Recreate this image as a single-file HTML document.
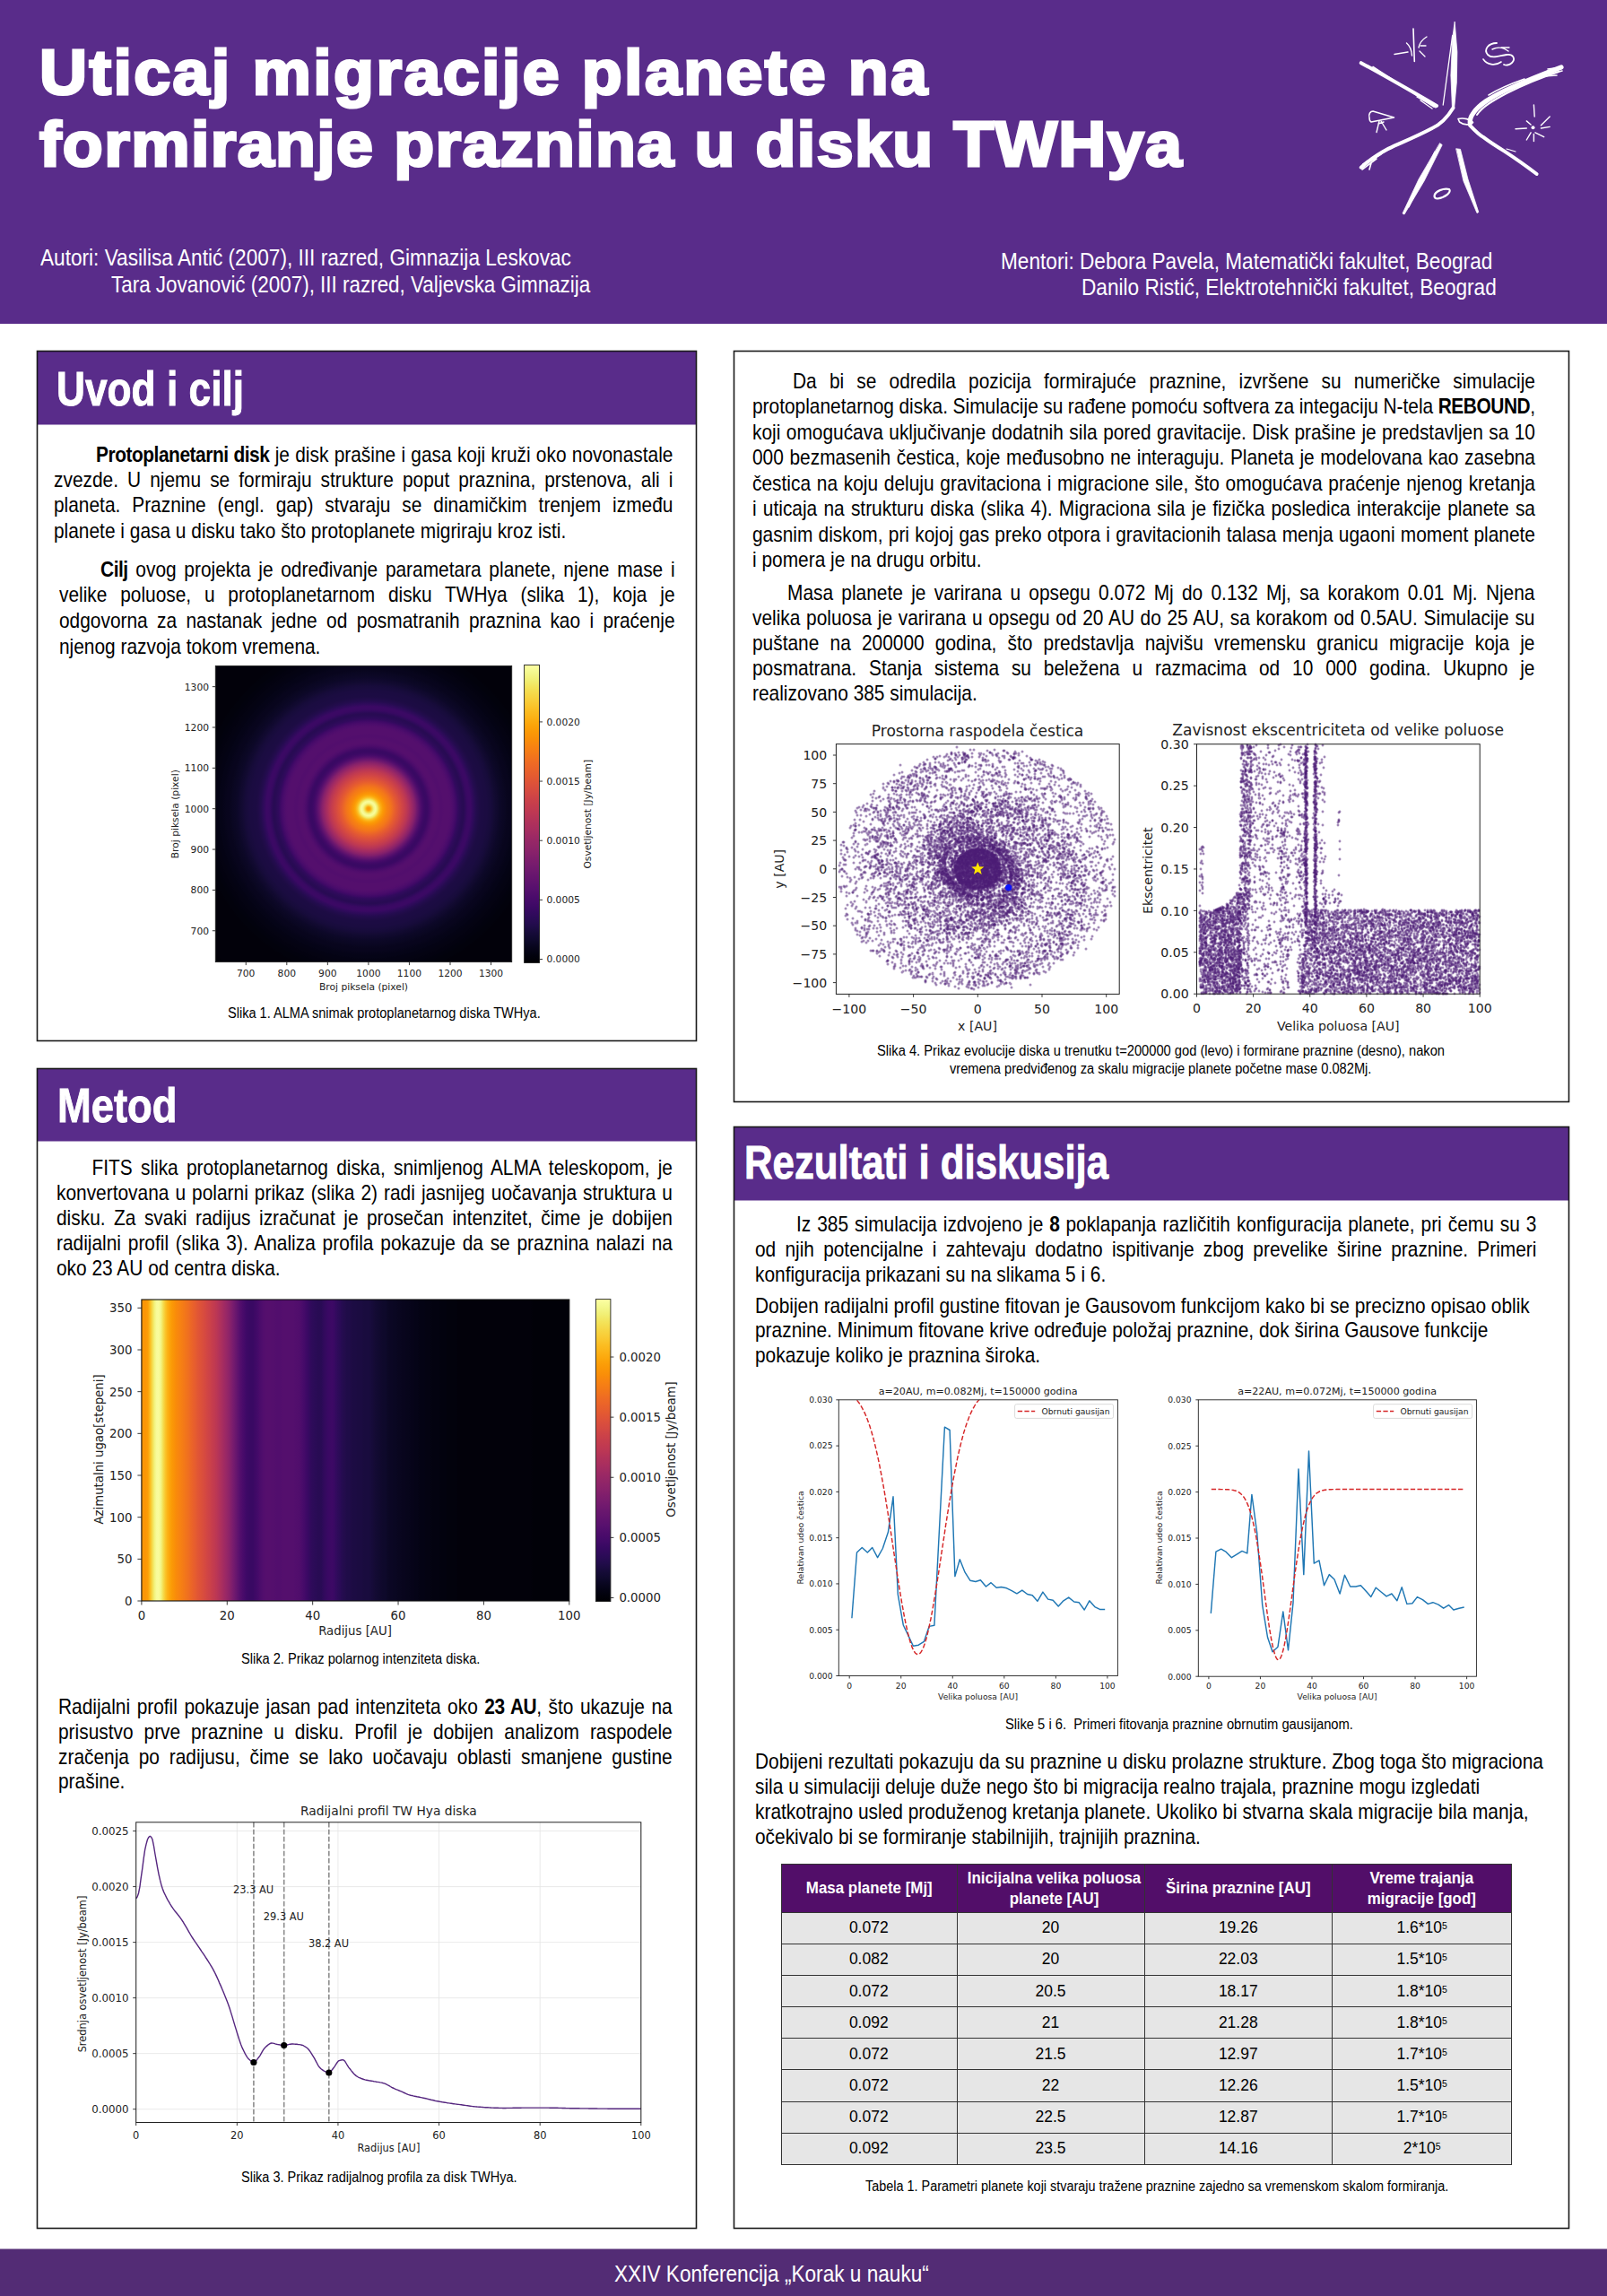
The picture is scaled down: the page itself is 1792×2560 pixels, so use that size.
<!DOCTYPE html><html lang="sr"><head><meta charset="utf-8"><title>Uticaj migracije planete na formiranje praznina u disku TWHya</title>
<style>
*{margin:0;padding:0;box-sizing:border-box}
html,body{width:1792px;height:2560px;overflow:hidden;background:#fff}
body{position:relative;font-family:'Liberation Sans', Arial, sans-serif;color:#000}
.a{position:absolute;white-space:nowrap;transform-origin:0 0}
.p{white-space:normal}
.p>div{white-space:nowrap}
.j{text-align:justify;text-align-last:justify}
.l{text-align:left}
.p b{letter-spacing:-0.5px}
svg text{font-family:'DejaVu Sans', sans-serif}
.t{position:absolute;font-family:'Liberation Sans', Arial, sans-serif;border-collapse:collapse;table-layout:fixed}
.t td{border:1.5px solid #333;text-align:center;vertical-align:middle;padding:0;background:#e6e6e6;line-height:20px}
.t th{border:1.5px solid #333;background:#520e69;color:#fff;text-align:center;vertical-align:middle;padding:0;line-height:23px}
.ts{display:inline-block;white-space:nowrap;font-size:18.8px;font-weight:bold;transform:scaleX(0.9)}
.tc{display:inline-block;white-space:nowrap;font-size:19px;transform:scaleX(0.92)}
sup{font-size:60%;vertical-align:top;position:relative;top:-2px}
</style></head><body>
<svg style="position:absolute;left:0;top:0" width="1792" height="2560" viewBox="0 0 1792 2560">
<defs><radialGradient id="rg1" gradientUnits="userSpaceOnUse" cx="410.9" cy="901.7" r="240.0"><stop offset="0.0000" stop-color="#fb9606"/><stop offset="0.0083" stop-color="#fca60c"/><stop offset="0.0167" stop-color="#f6d746"/><stop offset="0.0250" stop-color="#f3f68a"/><stop offset="0.0333" stop-color="#f9fc9d"/><stop offset="0.0417" stop-color="#f1ec6d"/><stop offset="0.0500" stop-color="#f9c72f"/><stop offset="0.0583" stop-color="#fcac11"/><stop offset="0.0667" stop-color="#fb9b06"/><stop offset="0.0750" stop-color="#fa9008"/><stop offset="0.0833" stop-color="#f8850f"/><stop offset="0.0917" stop-color="#f67e14"/><stop offset="0.1000" stop-color="#f37819"/><stop offset="0.1083" stop-color="#f06f20"/><stop offset="0.1167" stop-color="#eb6628"/><stop offset="0.1250" stop-color="#e65d2f"/><stop offset="0.1333" stop-color="#e15635"/><stop offset="0.1417" stop-color="#db503b"/><stop offset="0.1500" stop-color="#d54a41"/><stop offset="0.1583" stop-color="#cf4446"/><stop offset="0.1667" stop-color="#c83f4b"/><stop offset="0.1750" stop-color="#c03a51"/><stop offset="0.1833" stop-color="#b73557"/><stop offset="0.1917" stop-color="#ab2f5e"/><stop offset="0.2000" stop-color="#a02a63"/><stop offset="0.2083" stop-color="#922568"/><stop offset="0.2167" stop-color="#84206b"/><stop offset="0.2250" stop-color="#71196e"/><stop offset="0.2333" stop-color="#61136e"/><stop offset="0.2417" stop-color="#510e6c"/><stop offset="0.2500" stop-color="#450a69"/><stop offset="0.2583" stop-color="#3d0965"/><stop offset="0.2667" stop-color="#390963"/><stop offset="0.2750" stop-color="#3b0964"/><stop offset="0.2833" stop-color="#440a68"/><stop offset="0.2917" stop-color="#4c0c6b"/><stop offset="0.3000" stop-color="#520e6d"/><stop offset="0.3083" stop-color="#550f6d"/><stop offset="0.3167" stop-color="#550f6d"/><stop offset="0.3250" stop-color="#540f6d"/><stop offset="0.3333" stop-color="#520e6d"/><stop offset="0.3417" stop-color="#520e6d"/><stop offset="0.3500" stop-color="#540f6d"/><stop offset="0.3583" stop-color="#540f6d"/><stop offset="0.3667" stop-color="#540f6d"/><stop offset="0.3750" stop-color="#540f6d"/><stop offset="0.3833" stop-color="#520e6d"/><stop offset="0.3917" stop-color="#4d0d6c"/><stop offset="0.4000" stop-color="#470b6a"/><stop offset="0.4083" stop-color="#3e0966"/><stop offset="0.4167" stop-color="#320a5e"/><stop offset="0.4250" stop-color="#2d0b59"/><stop offset="0.4333" stop-color="#290b55"/><stop offset="0.4417" stop-color="#280b53"/><stop offset="0.4500" stop-color="#2f0a5b"/><stop offset="0.4583" stop-color="#380962"/><stop offset="0.4667" stop-color="#3b0964"/><stop offset="0.4750" stop-color="#3b0964"/><stop offset="0.4833" stop-color="#320a5e"/><stop offset="0.4917" stop-color="#2b0b57"/><stop offset="0.5000" stop-color="#240c4f"/><stop offset="0.5083" stop-color="#210c4a"/><stop offset="0.5167" stop-color="#1e0c45"/><stop offset="0.5250" stop-color="#1c0c43"/><stop offset="0.5333" stop-color="#1c0c43"/><stop offset="0.5417" stop-color="#1b0c41"/><stop offset="0.5500" stop-color="#1b0c41"/><stop offset="0.5583" stop-color="#190c3e"/><stop offset="0.5667" stop-color="#180c3c"/><stop offset="0.5750" stop-color="#160b39"/><stop offset="0.5833" stop-color="#140b34"/><stop offset="0.5917" stop-color="#110a30"/><stop offset="0.6000" stop-color="#10092d"/><stop offset="0.6083" stop-color="#0d0829"/><stop offset="0.6167" stop-color="#0c0826"/><stop offset="0.6250" stop-color="#0b0724"/><stop offset="0.6333" stop-color="#0a0722"/><stop offset="0.6417" stop-color="#09061f"/><stop offset="0.6500" stop-color="#08051d"/><stop offset="0.6583" stop-color="#08051d"/><stop offset="0.6667" stop-color="#07051b"/><stop offset="0.6750" stop-color="#060419"/><stop offset="0.6833" stop-color="#050417"/><stop offset="0.6917" stop-color="#050417"/><stop offset="0.7000" stop-color="#040314"/><stop offset="0.7083" stop-color="#040314"/><stop offset="0.7167" stop-color="#040312"/><stop offset="0.7250" stop-color="#040312"/><stop offset="0.7333" stop-color="#030210"/><stop offset="0.7417" stop-color="#030210"/><stop offset="0.7500" stop-color="#02020e"/><stop offset="0.7583" stop-color="#02020e"/><stop offset="0.7667" stop-color="#02020c"/><stop offset="0.7750" stop-color="#02020c"/><stop offset="0.7833" stop-color="#02020c"/><stop offset="0.7917" stop-color="#02010a"/><stop offset="0.8000" stop-color="#02010a"/><stop offset="0.8083" stop-color="#02010a"/><stop offset="0.8167" stop-color="#02010a"/><stop offset="0.8250" stop-color="#02010a"/><stop offset="0.8333" stop-color="#02010a"/><stop offset="0.8417" stop-color="#02010a"/><stop offset="0.8500" stop-color="#02010a"/><stop offset="0.8583" stop-color="#02010a"/><stop offset="0.8667" stop-color="#02010a"/><stop offset="0.8750" stop-color="#02010a"/><stop offset="0.8833" stop-color="#02010a"/><stop offset="0.8917" stop-color="#02010a"/><stop offset="0.9000" stop-color="#02010a"/><stop offset="0.9083" stop-color="#02010a"/><stop offset="0.9167" stop-color="#02010a"/><stop offset="0.9250" stop-color="#02010a"/><stop offset="0.9333" stop-color="#02010a"/><stop offset="0.9417" stop-color="#02010a"/><stop offset="0.9500" stop-color="#02010a"/><stop offset="0.9583" stop-color="#02010a"/><stop offset="0.9667" stop-color="#02010a"/><stop offset="0.9750" stop-color="#02010a"/><stop offset="0.9833" stop-color="#010108"/><stop offset="0.9917" stop-color="#010108"/><stop offset="1.0000" stop-color="#010108"/></radialGradient><clipPath id="cp1"><rect x="240.3" y="742.5" width="330.4" height="330.1"/></clipPath><linearGradient id="cb1" x1="0" y1="1" x2="0" y2="0"><stop offset="0.000" stop-color="#000004"/><stop offset="0.025" stop-color="#02020e"/><stop offset="0.050" stop-color="#07051b"/><stop offset="0.075" stop-color="#0e092b"/><stop offset="0.100" stop-color="#160b39"/><stop offset="0.125" stop-color="#210c4a"/><stop offset="0.150" stop-color="#2b0b57"/><stop offset="0.175" stop-color="#360961"/><stop offset="0.200" stop-color="#420a68"/><stop offset="0.225" stop-color="#4c0c6b"/><stop offset="0.250" stop-color="#57106e"/><stop offset="0.275" stop-color="#61136e"/><stop offset="0.300" stop-color="#6a176e"/><stop offset="0.325" stop-color="#751b6e"/><stop offset="0.350" stop-color="#7f1e6c"/><stop offset="0.375" stop-color="#8a226a"/><stop offset="0.400" stop-color="#932667"/><stop offset="0.425" stop-color="#9d2964"/><stop offset="0.450" stop-color="#a82e5f"/><stop offset="0.475" stop-color="#b1325a"/><stop offset="0.500" stop-color="#bc3754"/><stop offset="0.525" stop-color="#c43c4e"/><stop offset="0.550" stop-color="#cc4248"/><stop offset="0.575" stop-color="#d54a41"/><stop offset="0.600" stop-color="#dd513a"/><stop offset="0.625" stop-color="#e45a31"/><stop offset="0.650" stop-color="#ea632a"/><stop offset="0.675" stop-color="#ef6c23"/><stop offset="0.700" stop-color="#f37819"/><stop offset="0.725" stop-color="#f78212"/><stop offset="0.750" stop-color="#f98e09"/><stop offset="0.775" stop-color="#fb9906"/><stop offset="0.800" stop-color="#fca50a"/><stop offset="0.825" stop-color="#fcb216"/><stop offset="0.850" stop-color="#fbbe23"/><stop offset="0.875" stop-color="#f9cb35"/><stop offset="0.900" stop-color="#f6d746"/><stop offset="0.925" stop-color="#f3e35a"/><stop offset="0.950" stop-color="#f1ef75"/><stop offset="0.975" stop-color="#f4f88e"/><stop offset="1.000" stop-color="#fcffa4"/></linearGradient><linearGradient id="lg2" x1="0" y1="0" x2="1" y2="0"><stop offset="0.0000" stop-color="#fb9606"/><stop offset="0.0050" stop-color="#fb9606"/><stop offset="0.0100" stop-color="#fb9606"/><stop offset="0.0150" stop-color="#fc9f07"/><stop offset="0.0200" stop-color="#fbbc21"/><stop offset="0.0250" stop-color="#f5db4c"/><stop offset="0.0300" stop-color="#f2f27d"/><stop offset="0.0350" stop-color="#f8fb9a"/><stop offset="0.0400" stop-color="#f9fc9d"/><stop offset="0.0450" stop-color="#f3f586"/><stop offset="0.0500" stop-color="#f4df53"/><stop offset="0.0550" stop-color="#f9c72f"/><stop offset="0.0600" stop-color="#fcb418"/><stop offset="0.0650" stop-color="#fca60c"/><stop offset="0.0700" stop-color="#fb9b06"/><stop offset="0.0750" stop-color="#fa9407"/><stop offset="0.0800" stop-color="#f98c0a"/><stop offset="0.0850" stop-color="#f8870e"/><stop offset="0.0900" stop-color="#f78212"/><stop offset="0.0950" stop-color="#f57d15"/><stop offset="0.1000" stop-color="#f37819"/><stop offset="0.1050" stop-color="#f1731d"/><stop offset="0.1100" stop-color="#ef6e21"/><stop offset="0.1150" stop-color="#ec6726"/><stop offset="0.1200" stop-color="#e9612b"/><stop offset="0.1250" stop-color="#e65d2f"/><stop offset="0.1300" stop-color="#e25734"/><stop offset="0.1350" stop-color="#df5337"/><stop offset="0.1400" stop-color="#db503b"/><stop offset="0.1450" stop-color="#d84c3e"/><stop offset="0.1500" stop-color="#d44842"/><stop offset="0.1550" stop-color="#cf4446"/><stop offset="0.1600" stop-color="#cb4149"/><stop offset="0.1650" stop-color="#c63d4d"/><stop offset="0.1700" stop-color="#c13a50"/><stop offset="0.1750" stop-color="#bc3754"/><stop offset="0.1800" stop-color="#b43359"/><stop offset="0.1850" stop-color="#ad305d"/><stop offset="0.1900" stop-color="#a52c60"/><stop offset="0.1950" stop-color="#9d2964"/><stop offset="0.2000" stop-color="#952667"/><stop offset="0.2050" stop-color="#8c2369"/><stop offset="0.2100" stop-color="#801f6c"/><stop offset="0.2150" stop-color="#751b6e"/><stop offset="0.2200" stop-color="#6a176e"/><stop offset="0.2250" stop-color="#5f136e"/><stop offset="0.2300" stop-color="#540f6d"/><stop offset="0.2350" stop-color="#4c0c6b"/><stop offset="0.2400" stop-color="#450a69"/><stop offset="0.2450" stop-color="#3e0966"/><stop offset="0.2500" stop-color="#3b0964"/><stop offset="0.2550" stop-color="#390963"/><stop offset="0.2600" stop-color="#390963"/><stop offset="0.2650" stop-color="#3e0966"/><stop offset="0.2700" stop-color="#420a68"/><stop offset="0.2750" stop-color="#490b6a"/><stop offset="0.2800" stop-color="#4d0d6c"/><stop offset="0.2850" stop-color="#520e6d"/><stop offset="0.2900" stop-color="#540f6d"/><stop offset="0.2950" stop-color="#550f6d"/><stop offset="0.3000" stop-color="#550f6d"/><stop offset="0.3050" stop-color="#540f6d"/><stop offset="0.3100" stop-color="#540f6d"/><stop offset="0.3150" stop-color="#520e6d"/><stop offset="0.3200" stop-color="#520e6d"/><stop offset="0.3250" stop-color="#520e6d"/><stop offset="0.3300" stop-color="#540f6d"/><stop offset="0.3350" stop-color="#540f6d"/><stop offset="0.3400" stop-color="#540f6d"/><stop offset="0.3450" stop-color="#540f6d"/><stop offset="0.3500" stop-color="#540f6d"/><stop offset="0.3550" stop-color="#540f6d"/><stop offset="0.3600" stop-color="#520e6d"/><stop offset="0.3650" stop-color="#510e6c"/><stop offset="0.3700" stop-color="#4f0d6c"/><stop offset="0.3750" stop-color="#4a0c6b"/><stop offset="0.3800" stop-color="#450a69"/><stop offset="0.3850" stop-color="#3e0966"/><stop offset="0.3900" stop-color="#380962"/><stop offset="0.3950" stop-color="#310a5c"/><stop offset="0.4000" stop-color="#2d0b59"/><stop offset="0.4050" stop-color="#2b0b57"/><stop offset="0.4100" stop-color="#290b55"/><stop offset="0.4150" stop-color="#280b53"/><stop offset="0.4200" stop-color="#290b55"/><stop offset="0.4250" stop-color="#2f0a5b"/><stop offset="0.4300" stop-color="#340a5f"/><stop offset="0.4350" stop-color="#390963"/><stop offset="0.4400" stop-color="#3b0964"/><stop offset="0.4450" stop-color="#3d0965"/><stop offset="0.4500" stop-color="#390963"/><stop offset="0.4550" stop-color="#320a5e"/><stop offset="0.4600" stop-color="#2d0b59"/><stop offset="0.4650" stop-color="#290b55"/><stop offset="0.4700" stop-color="#240c4f"/><stop offset="0.4750" stop-color="#230c4c"/><stop offset="0.4800" stop-color="#1f0c48"/><stop offset="0.4850" stop-color="#1f0c48"/><stop offset="0.4900" stop-color="#1e0c45"/><stop offset="0.4950" stop-color="#1c0c43"/><stop offset="0.5000" stop-color="#1c0c43"/><stop offset="0.5050" stop-color="#1b0c41"/><stop offset="0.5100" stop-color="#1b0c41"/><stop offset="0.5150" stop-color="#1b0c41"/><stop offset="0.5200" stop-color="#190c3e"/><stop offset="0.5250" stop-color="#190c3e"/><stop offset="0.5300" stop-color="#190c3e"/><stop offset="0.5350" stop-color="#180c3c"/><stop offset="0.5400" stop-color="#160b39"/><stop offset="0.5450" stop-color="#140b34"/><stop offset="0.5500" stop-color="#120a32"/><stop offset="0.5550" stop-color="#110a30"/><stop offset="0.5600" stop-color="#10092d"/><stop offset="0.5650" stop-color="#0e092b"/><stop offset="0.5700" stop-color="#0e092b"/><stop offset="0.5750" stop-color="#0c0826"/><stop offset="0.5800" stop-color="#0b0724"/><stop offset="0.5850" stop-color="#0b0724"/><stop offset="0.5900" stop-color="#0a0722"/><stop offset="0.5950" stop-color="#0a0722"/><stop offset="0.6000" stop-color="#09061f"/><stop offset="0.6050" stop-color="#09061f"/><stop offset="0.6100" stop-color="#08051d"/><stop offset="0.6150" stop-color="#08051d"/><stop offset="0.6200" stop-color="#07051b"/><stop offset="0.6250" stop-color="#07051b"/><stop offset="0.6300" stop-color="#060419"/><stop offset="0.6350" stop-color="#060419"/><stop offset="0.6400" stop-color="#050417"/><stop offset="0.6450" stop-color="#050417"/><stop offset="0.6500" stop-color="#040314"/><stop offset="0.6550" stop-color="#040314"/><stop offset="0.6600" stop-color="#040314"/><stop offset="0.6650" stop-color="#040312"/><stop offset="0.6700" stop-color="#040312"/><stop offset="0.6750" stop-color="#040312"/><stop offset="0.6800" stop-color="#030210"/><stop offset="0.6850" stop-color="#030210"/><stop offset="0.6900" stop-color="#030210"/><stop offset="0.6950" stop-color="#030210"/><stop offset="0.7000" stop-color="#02020e"/><stop offset="0.7050" stop-color="#02020e"/><stop offset="0.7100" stop-color="#02020e"/><stop offset="0.7150" stop-color="#02020c"/><stop offset="0.7200" stop-color="#02020c"/><stop offset="0.7250" stop-color="#02020c"/><stop offset="0.7300" stop-color="#02020c"/><stop offset="0.7350" stop-color="#02020c"/><stop offset="0.7400" stop-color="#02010a"/><stop offset="0.7450" stop-color="#02010a"/><stop offset="0.7500" stop-color="#02010a"/><stop offset="0.7550" stop-color="#02010a"/><stop offset="0.7600" stop-color="#02010a"/><stop offset="0.7650" stop-color="#02010a"/><stop offset="0.7700" stop-color="#02010a"/><stop offset="0.7750" stop-color="#02010a"/><stop offset="0.7800" stop-color="#02010a"/><stop offset="0.7850" stop-color="#02010a"/><stop offset="0.7900" stop-color="#02010a"/><stop offset="0.7950" stop-color="#02010a"/><stop offset="0.8000" stop-color="#02010a"/><stop offset="0.8050" stop-color="#02010a"/><stop offset="0.8100" stop-color="#02010a"/><stop offset="0.8150" stop-color="#02010a"/><stop offset="0.8200" stop-color="#02010a"/><stop offset="0.8250" stop-color="#02010a"/><stop offset="0.8300" stop-color="#02010a"/><stop offset="0.8350" stop-color="#02010a"/><stop offset="0.8400" stop-color="#02010a"/><stop offset="0.8450" stop-color="#02010a"/><stop offset="0.8500" stop-color="#02010a"/><stop offset="0.8550" stop-color="#02010a"/><stop offset="0.8600" stop-color="#02010a"/><stop offset="0.8650" stop-color="#02010a"/><stop offset="0.8700" stop-color="#02010a"/><stop offset="0.8750" stop-color="#02010a"/><stop offset="0.8800" stop-color="#02010a"/><stop offset="0.8850" stop-color="#02010a"/><stop offset="0.8900" stop-color="#02010a"/><stop offset="0.8950" stop-color="#02010a"/><stop offset="0.9000" stop-color="#02010a"/><stop offset="0.9050" stop-color="#02010a"/><stop offset="0.9100" stop-color="#02010a"/><stop offset="0.9150" stop-color="#010108"/><stop offset="0.9200" stop-color="#010108"/><stop offset="0.9250" stop-color="#010108"/><stop offset="0.9300" stop-color="#010108"/><stop offset="0.9350" stop-color="#010108"/><stop offset="0.9400" stop-color="#010108"/><stop offset="0.9450" stop-color="#010108"/><stop offset="0.9500" stop-color="#010108"/><stop offset="0.9550" stop-color="#010108"/><stop offset="0.9600" stop-color="#010108"/><stop offset="0.9650" stop-color="#010108"/><stop offset="0.9700" stop-color="#010108"/><stop offset="0.9750" stop-color="#010108"/><stop offset="0.9800" stop-color="#010108"/><stop offset="0.9850" stop-color="#010108"/><stop offset="0.9900" stop-color="#010108"/><stop offset="0.9950" stop-color="#010108"/><stop offset="1.0000" stop-color="#010108"/></linearGradient><linearGradient id="cb2" x1="0" y1="1" x2="0" y2="0"><stop offset="0.000" stop-color="#000004"/><stop offset="0.025" stop-color="#02020e"/><stop offset="0.050" stop-color="#07051b"/><stop offset="0.075" stop-color="#0e092b"/><stop offset="0.100" stop-color="#160b39"/><stop offset="0.125" stop-color="#210c4a"/><stop offset="0.150" stop-color="#2b0b57"/><stop offset="0.175" stop-color="#360961"/><stop offset="0.200" stop-color="#420a68"/><stop offset="0.225" stop-color="#4c0c6b"/><stop offset="0.250" stop-color="#57106e"/><stop offset="0.275" stop-color="#61136e"/><stop offset="0.300" stop-color="#6a176e"/><stop offset="0.325" stop-color="#751b6e"/><stop offset="0.350" stop-color="#7f1e6c"/><stop offset="0.375" stop-color="#8a226a"/><stop offset="0.400" stop-color="#932667"/><stop offset="0.425" stop-color="#9d2964"/><stop offset="0.450" stop-color="#a82e5f"/><stop offset="0.475" stop-color="#b1325a"/><stop offset="0.500" stop-color="#bc3754"/><stop offset="0.525" stop-color="#c43c4e"/><stop offset="0.550" stop-color="#cc4248"/><stop offset="0.575" stop-color="#d54a41"/><stop offset="0.600" stop-color="#dd513a"/><stop offset="0.625" stop-color="#e45a31"/><stop offset="0.650" stop-color="#ea632a"/><stop offset="0.675" stop-color="#ef6c23"/><stop offset="0.700" stop-color="#f37819"/><stop offset="0.725" stop-color="#f78212"/><stop offset="0.750" stop-color="#f98e09"/><stop offset="0.775" stop-color="#fb9906"/><stop offset="0.800" stop-color="#fca50a"/><stop offset="0.825" stop-color="#fcb216"/><stop offset="0.850" stop-color="#fbbe23"/><stop offset="0.875" stop-color="#f9cb35"/><stop offset="0.900" stop-color="#f6d746"/><stop offset="0.925" stop-color="#f3e35a"/><stop offset="0.950" stop-color="#f1ef75"/><stop offset="0.975" stop-color="#f4f88e"/><stop offset="1.000" stop-color="#fcffa4"/></linearGradient><clipPath id="cpg935"><rect x="935.3" y="1560.8" width="311.1" height="307.7"/></clipPath><clipPath id="cpg1336"><rect x="1336.3" y="1560.8" width="310.1" height="308.4"/></clipPath></defs>
<rect x="0" y="0" width="1792" height="361" fill="#592c8a"/><rect x="0" y="2507.5" width="1792" height="53" fill="#532c75"/><rect x="41" y="391" width="736" height="82.5" fill="#592c8a"/><rect x="41.5" y="391.5" width="735" height="769" fill="none" stroke="#1a1a1a" stroke-width="1.6"/><rect x="41" y="1191" width="736" height="81.5" fill="#592c8a"/><rect x="41.5" y="1191.5" width="735" height="1293" fill="none" stroke="#1a1a1a" stroke-width="1.6"/><rect x="818.5" y="391.5" width="931" height="837" fill="none" stroke="#1a1a1a" stroke-width="1.6"/><rect x="818" y="1256" width="932" height="82.5" fill="#592c8a"/><rect x="818.5" y="1256.5" width="931" height="1228" fill="none" stroke="#1a1a1a" stroke-width="1.6"/><rect x="240.3" y="742.5" width="330.4" height="330.1" fill="url(#rg1)"/><rect x="240.30" y="742.50" width="330.40" height="330.10" fill="none" stroke="#222" stroke-width="0.9"/><line x1="274.25" y1="1072.60" x2="274.25" y2="1076.10" stroke="#222" stroke-width="0.9"/><text x="274.2" y="1089.2" font-size="10.7" text-anchor="middle" fill="#222">700</text><line x1="319.80" y1="1072.60" x2="319.80" y2="1076.10" stroke="#222" stroke-width="0.9"/><text x="319.8" y="1089.2" font-size="10.7" text-anchor="middle" fill="#222">800</text><line x1="365.35" y1="1072.60" x2="365.35" y2="1076.10" stroke="#222" stroke-width="0.9"/><text x="365.3" y="1089.2" font-size="10.7" text-anchor="middle" fill="#222">900</text><line x1="410.90" y1="1072.60" x2="410.90" y2="1076.10" stroke="#222" stroke-width="0.9"/><text x="410.9" y="1089.2" font-size="10.7" text-anchor="middle" fill="#222">1000</text><line x1="456.45" y1="1072.60" x2="456.45" y2="1076.10" stroke="#222" stroke-width="0.9"/><text x="456.4" y="1089.2" font-size="10.7" text-anchor="middle" fill="#222">1100</text><line x1="502.00" y1="1072.60" x2="502.00" y2="1076.10" stroke="#222" stroke-width="0.9"/><text x="502.0" y="1089.2" font-size="10.7" text-anchor="middle" fill="#222">1200</text><line x1="547.55" y1="1072.60" x2="547.55" y2="1076.10" stroke="#222" stroke-width="0.9"/><text x="547.5" y="1089.2" font-size="10.7" text-anchor="middle" fill="#222">1300</text><line x1="236.80" y1="1037.75" x2="240.30" y2="1037.75" stroke="#222" stroke-width="0.9"/><text x="233.0" y="1041.7" font-size="10.7" text-anchor="end" fill="#222">700</text><line x1="236.80" y1="992.40" x2="240.30" y2="992.40" stroke="#222" stroke-width="0.9"/><text x="233.0" y="996.3" font-size="10.7" text-anchor="end" fill="#222">800</text><line x1="236.80" y1="947.05" x2="240.30" y2="947.05" stroke="#222" stroke-width="0.9"/><text x="233.0" y="951.0" font-size="10.7" text-anchor="end" fill="#222">900</text><line x1="236.80" y1="901.70" x2="240.30" y2="901.70" stroke="#222" stroke-width="0.9"/><text x="233.0" y="905.6" font-size="10.7" text-anchor="end" fill="#222">1000</text><line x1="236.80" y1="856.35" x2="240.30" y2="856.35" stroke="#222" stroke-width="0.9"/><text x="233.0" y="860.3" font-size="10.7" text-anchor="end" fill="#222">1100</text><line x1="236.80" y1="811.00" x2="240.30" y2="811.00" stroke="#222" stroke-width="0.9"/><text x="233.0" y="814.9" font-size="10.7" text-anchor="end" fill="#222">1200</text><line x1="236.80" y1="765.65" x2="240.30" y2="765.65" stroke="#222" stroke-width="0.9"/><text x="233.0" y="769.6" font-size="10.7" text-anchor="end" fill="#222">1300</text><text x="405.5" y="1103.9" font-size="10.7" text-anchor="middle" fill="#222">Broj piksela (pixel)</text><text x="199.0" y="907.7" font-size="10.7" text-anchor="middle" fill="#222" transform="rotate(-90 199.0 907.7)">Broj piksela (pixel)</text><rect x="584.6" y="741.4" width="16.90" height="332.10" fill="url(#cb1)"/><rect x="584.60" y="741.40" width="16.90" height="332.10" fill="none" stroke="#222" stroke-width="0.9"/><line x1="601.50" y1="1069.53" x2="605.00" y2="1069.53" stroke="#222" stroke-width="0.9"/><text x="609.4" y="1073.4" font-size="10.7" text-anchor="start" fill="#222">0.0000</text><line x1="601.50" y1="1003.38" x2="605.00" y2="1003.38" stroke="#222" stroke-width="0.9"/><text x="609.4" y="1007.3" font-size="10.7" text-anchor="start" fill="#222">0.0005</text><line x1="601.50" y1="937.22" x2="605.00" y2="937.22" stroke="#222" stroke-width="0.9"/><text x="609.4" y="941.1" font-size="10.7" text-anchor="start" fill="#222">0.0010</text><line x1="601.50" y1="871.06" x2="605.00" y2="871.06" stroke="#222" stroke-width="0.9"/><text x="609.4" y="875.0" font-size="10.7" text-anchor="start" fill="#222">0.0015</text><line x1="601.50" y1="804.91" x2="605.00" y2="804.91" stroke="#222" stroke-width="0.9"/><text x="609.4" y="808.8" font-size="10.7" text-anchor="start" fill="#222">0.0020</text><text x="659.2" y="907.7" font-size="10.7" text-anchor="middle" fill="#222" transform="rotate(-90 659.2 907.7)">Osvetljenost [Jy/beam]</text><rect x="157.9" y="1449.0" width="476.9" height="336.0" fill="url(#lg2)"/><rect x="157.90" y="1449.00" width="476.90" height="336.00" fill="none" stroke="#111" stroke-width="1.1"/><line x1="157.90" y1="1785.00" x2="157.90" y2="1789.50" stroke="#222" stroke-width="0.9"/><text x="157.9" y="1805.6" font-size="13.3" text-anchor="middle" fill="#222">0</text><line x1="253.28" y1="1785.00" x2="253.28" y2="1789.50" stroke="#222" stroke-width="0.9"/><text x="253.3" y="1805.6" font-size="13.3" text-anchor="middle" fill="#222">20</text><line x1="348.66" y1="1785.00" x2="348.66" y2="1789.50" stroke="#222" stroke-width="0.9"/><text x="348.7" y="1805.6" font-size="13.3" text-anchor="middle" fill="#222">40</text><line x1="444.04" y1="1785.00" x2="444.04" y2="1789.50" stroke="#222" stroke-width="0.9"/><text x="444.0" y="1805.6" font-size="13.3" text-anchor="middle" fill="#222">60</text><line x1="539.42" y1="1785.00" x2="539.42" y2="1789.50" stroke="#222" stroke-width="0.9"/><text x="539.4" y="1805.6" font-size="13.3" text-anchor="middle" fill="#222">80</text><line x1="634.80" y1="1785.00" x2="634.80" y2="1789.50" stroke="#222" stroke-width="0.9"/><text x="634.8" y="1805.6" font-size="13.3" text-anchor="middle" fill="#222">100</text><line x1="153.40" y1="1785.00" x2="157.90" y2="1785.00" stroke="#222" stroke-width="0.9"/><text x="147.5" y="1789.8" font-size="13.3" text-anchor="end" fill="#222">0</text><line x1="153.40" y1="1738.34" x2="157.90" y2="1738.34" stroke="#222" stroke-width="0.9"/><text x="147.5" y="1743.2" font-size="13.3" text-anchor="end" fill="#222">50</text><line x1="153.40" y1="1691.67" x2="157.90" y2="1691.67" stroke="#222" stroke-width="0.9"/><text x="147.5" y="1696.5" font-size="13.3" text-anchor="end" fill="#222">100</text><line x1="153.40" y1="1645.01" x2="157.90" y2="1645.01" stroke="#222" stroke-width="0.9"/><text x="147.5" y="1649.9" font-size="13.3" text-anchor="end" fill="#222">150</text><line x1="153.40" y1="1598.34" x2="157.90" y2="1598.34" stroke="#222" stroke-width="0.9"/><text x="147.5" y="1603.2" font-size="13.3" text-anchor="end" fill="#222">200</text><line x1="153.40" y1="1551.67" x2="157.90" y2="1551.67" stroke="#222" stroke-width="0.9"/><text x="147.5" y="1556.5" font-size="13.3" text-anchor="end" fill="#222">250</text><line x1="153.40" y1="1505.01" x2="157.90" y2="1505.01" stroke="#222" stroke-width="0.9"/><text x="147.5" y="1509.9" font-size="13.3" text-anchor="end" fill="#222">300</text><line x1="153.40" y1="1458.35" x2="157.90" y2="1458.35" stroke="#222" stroke-width="0.9"/><text x="147.5" y="1463.2" font-size="13.3" text-anchor="end" fill="#222">350</text><text x="396.0" y="1822.7" font-size="13.3" text-anchor="middle" fill="#222">Radijus [AU]</text><text x="114.8" y="1616.0" font-size="13.3" text-anchor="middle" fill="#222" transform="rotate(-90 114.8 1616.0)">Azimutalni ugao[stepeni]</text><rect x="664.4" y="1448.6" width="16.50" height="336.90" fill="url(#cb2)"/><rect x="664.40" y="1448.60" width="16.50" height="336.90" fill="none" stroke="#222" stroke-width="0.9"/><line x1="680.90" y1="1781.47" x2="684.40" y2="1781.47" stroke="#222" stroke-width="0.9"/><text x="690.4" y="1786.3" font-size="13.3" text-anchor="start" fill="#222">0.0000</text><line x1="680.90" y1="1714.36" x2="684.40" y2="1714.36" stroke="#222" stroke-width="0.9"/><text x="690.4" y="1719.2" font-size="13.3" text-anchor="start" fill="#222">0.0005</text><line x1="680.90" y1="1647.25" x2="684.40" y2="1647.25" stroke="#222" stroke-width="0.9"/><text x="690.4" y="1652.1" font-size="13.3" text-anchor="start" fill="#222">0.0010</text><line x1="680.90" y1="1580.14" x2="684.40" y2="1580.14" stroke="#222" stroke-width="0.9"/><text x="690.4" y="1585.0" font-size="13.3" text-anchor="start" fill="#222">0.0015</text><line x1="680.90" y1="1513.03" x2="684.40" y2="1513.03" stroke="#222" stroke-width="0.9"/><text x="690.4" y="1517.9" font-size="13.3" text-anchor="start" fill="#222">0.0020</text><text x="753.0" y="1616.0" font-size="13.3" text-anchor="middle" fill="#222" transform="rotate(-90 753.0 1616.0)">Osvetljenost [Jy/beam]</text><line x1="151.70" y1="2031.80" x2="151.70" y2="2366.50" stroke="#e4e4e4" stroke-width="0.8"/><line x1="264.32" y1="2031.80" x2="264.32" y2="2366.50" stroke="#e4e4e4" stroke-width="0.8"/><line x1="376.94" y1="2031.80" x2="376.94" y2="2366.50" stroke="#e4e4e4" stroke-width="0.8"/><line x1="489.56" y1="2031.80" x2="489.56" y2="2366.50" stroke="#e4e4e4" stroke-width="0.8"/><line x1="602.18" y1="2031.80" x2="602.18" y2="2366.50" stroke="#e4e4e4" stroke-width="0.8"/><line x1="714.80" y1="2031.80" x2="714.80" y2="2366.50" stroke="#e4e4e4" stroke-width="0.8"/><line x1="151.70" y1="2351.70" x2="714.80" y2="2351.70" stroke="#e4e4e4" stroke-width="0.8"/><line x1="151.70" y1="2289.67" x2="714.80" y2="2289.67" stroke="#e4e4e4" stroke-width="0.8"/><line x1="151.70" y1="2227.64" x2="714.80" y2="2227.64" stroke="#e4e4e4" stroke-width="0.8"/><line x1="151.70" y1="2165.61" x2="714.80" y2="2165.61" stroke="#e4e4e4" stroke-width="0.8"/><line x1="151.70" y1="2103.58" x2="714.80" y2="2103.58" stroke="#e4e4e4" stroke-width="0.8"/><line x1="151.70" y1="2041.55" x2="714.80" y2="2041.55" stroke="#e4e4e4" stroke-width="0.8"/><line x1="282.90" y1="2031.80" x2="282.90" y2="2366.50" stroke="#8c8c8c" stroke-width="1.6" stroke-dasharray="5.6 2.4"/><line x1="316.69" y1="2031.80" x2="316.69" y2="2366.50" stroke="#8c8c8c" stroke-width="1.6" stroke-dasharray="5.6 2.4"/><line x1="366.80" y1="2031.80" x2="366.80" y2="2366.50" stroke="#8c8c8c" stroke-width="1.6" stroke-dasharray="5.6 2.4"/><polyline points="151.7,2116.7 153.1,2114.9 154.5,2111.0 155.9,2103.8 157.3,2093.3 158.8,2083.1 160.2,2072.1 161.6,2062.6 163.0,2056.3 164.4,2051.2 165.8,2048.5 167.2,2047.4 168.6,2048.2 170.0,2051.0 171.5,2058.3 172.9,2067.0 174.3,2074.8 175.7,2082.9 177.1,2090.0 178.5,2096.2 179.9,2101.6 181.3,2105.9 182.7,2109.6 184.2,2112.7 185.6,2115.6 187.0,2118.3 188.4,2120.7 189.8,2123.1 191.2,2125.3 192.6,2127.4 194.0,2129.4 195.4,2131.2 196.9,2133.0 198.3,2134.8 199.7,2136.5 201.1,2138.4 202.5,2140.4 203.9,2142.5 205.3,2144.8 206.7,2147.2 208.2,2149.6 209.6,2152.1 211.0,2154.6 212.4,2157.0 213.8,2159.3 215.2,2161.5 216.6,2163.6 218.0,2165.7 219.4,2167.7 220.9,2169.8 222.3,2171.9 223.7,2174.0 225.1,2176.1 226.5,2178.1 227.9,2180.2 229.3,2182.3 230.7,2184.5 232.1,2186.7 233.6,2189.0 235.0,2191.3 236.4,2193.7 237.8,2196.2 239.2,2198.8 240.6,2201.6 242.0,2204.6 243.4,2207.8 244.8,2211.1 246.3,2214.4 247.7,2217.8 249.1,2221.1 250.5,2224.4 251.9,2227.9 253.3,2231.4 254.7,2235.2 256.1,2239.3 257.5,2243.9 259.0,2248.6 260.4,2253.4 261.8,2258.1 263.2,2262.6 264.6,2267.2 266.0,2271.7 267.4,2276.1 268.8,2280.0 270.2,2283.4 271.7,2286.5 273.1,2289.4 274.5,2292.0 275.9,2294.1 277.3,2295.8 278.7,2297.1 280.1,2298.3 281.5,2299.2 282.9,2299.5 284.4,2298.9 285.8,2297.5 287.2,2295.6 288.6,2293.8 290.0,2291.8 291.4,2289.4 292.8,2286.9 294.2,2284.7 295.7,2282.9 297.1,2281.6 298.5,2280.4 299.9,2279.3 301.3,2278.5 302.7,2278.0 304.1,2278.1 305.5,2278.4 306.9,2278.9 308.4,2279.3 309.8,2279.6 311.2,2279.8 312.6,2280.1 314.0,2280.3 315.4,2280.4 316.8,2280.5 318.2,2280.4 319.6,2280.1 321.1,2279.8 322.5,2279.4 323.9,2279.2 325.3,2279.0 326.7,2279.0 328.1,2279.1 329.5,2279.2 330.9,2279.3 332.3,2279.5 333.8,2279.6 335.2,2279.9 336.6,2280.2 338.0,2280.7 339.4,2281.5 340.8,2282.3 342.2,2283.3 343.6,2284.5 345.0,2286.3 346.5,2288.3 347.9,2290.6 349.3,2292.9 350.7,2295.2 352.1,2297.8 353.5,2300.5 354.9,2303.1 356.3,2305.1 357.7,2306.5 359.2,2307.6 360.6,2308.6 362.0,2309.5 363.4,2310.2 364.8,2310.7 366.2,2311.0 367.6,2310.8 369.0,2309.6 370.4,2307.7 371.9,2305.8 373.3,2303.9 374.7,2301.7 376.1,2299.5 377.5,2297.9 378.9,2297.3 380.3,2297.0 381.7,2296.8 383.1,2296.9 384.6,2298.2 386.0,2300.5 387.4,2303.0 388.8,2305.1 390.2,2306.8 391.6,2308.6 393.0,2310.3 394.4,2312.0 395.9,2313.4 397.3,2314.6 398.7,2315.5 400.1,2316.3 401.5,2316.9 402.9,2317.5 404.3,2318.0 405.7,2318.5 407.1,2318.9 408.6,2319.2 410.0,2319.5 411.4,2319.8 412.8,2320.0 414.2,2320.2 415.6,2320.4 417.0,2320.7 418.4,2320.9 419.8,2321.2 421.3,2321.4 422.7,2321.6 424.1,2321.9 425.5,2322.1 426.9,2322.5 428.3,2322.8 429.7,2323.3 431.1,2324.0 432.5,2324.8 434.0,2325.6 435.4,2326.5 436.8,2327.3 438.2,2328.0 439.6,2328.7 441.0,2329.3 442.4,2329.9 443.8,2330.4 445.2,2331.0 446.7,2331.6 448.1,2332.2 449.5,2332.8 450.9,2333.5 452.3,2334.2 453.7,2334.8 455.1,2335.4 456.5,2335.8 457.9,2336.2 459.4,2336.5 460.8,2336.9 462.2,2337.2 463.6,2337.5 465.0,2337.8 466.4,2338.0 467.8,2338.3 469.2,2338.6 470.6,2338.9 472.1,2339.2 473.5,2339.5 474.9,2339.8 476.3,2340.1 477.7,2340.5 479.1,2340.8 480.5,2341.2 481.9,2341.5 483.4,2341.8 484.8,2342.2 486.2,2342.5 487.6,2342.7 489.0,2343.0 490.4,2343.3 491.8,2343.5 493.2,2343.8 494.6,2344.0 496.1,2344.2 497.5,2344.4 498.9,2344.7 500.3,2344.9 501.7,2345.1 503.1,2345.3 504.5,2345.5 505.9,2345.7 507.3,2345.9 508.8,2346.1 510.2,2346.3 511.6,2346.4 513.0,2346.6 514.4,2346.8 515.8,2347.0 517.2,2347.2 518.6,2347.4 520.0,2347.6 521.5,2347.8 522.9,2348.0 524.3,2348.2 525.7,2348.4 527.1,2348.6 528.5,2348.7 529.9,2348.9 531.3,2349.0 532.7,2349.1 534.2,2349.2 535.6,2349.3 537.0,2349.4 538.4,2349.5 539.8,2349.6 541.2,2349.7 542.6,2349.8 544.0,2349.8 545.4,2349.9 546.9,2350.0 548.3,2350.1 549.7,2350.1 551.1,2350.2 552.5,2350.3 553.9,2350.3 555.3,2350.3 556.7,2350.4 558.1,2350.4 559.6,2350.4 561.0,2350.5 562.4,2350.5 563.8,2350.5 565.2,2350.4 566.6,2350.4 568.0,2350.4 569.4,2350.4 570.8,2350.4 572.3,2350.3 573.7,2350.3 575.1,2350.3 576.5,2350.2 577.9,2350.2 579.3,2350.2 580.7,2350.2 582.1,2350.1 583.6,2350.1 585.0,2350.1 586.4,2350.1 587.8,2350.1 589.2,2350.1 590.6,2350.1 592.0,2350.1 593.4,2350.1 594.8,2350.1 596.3,2350.1 597.7,2350.1 599.1,2350.1 600.5,2350.1 601.9,2350.1 603.3,2350.1 604.7,2350.1 606.1,2350.1 607.5,2350.1 609.0,2350.1 610.4,2350.1 611.8,2350.1 613.2,2350.2 614.6,2350.2 616.0,2350.2 617.4,2350.2 618.8,2350.3 620.2,2350.3 621.7,2350.3 623.1,2350.4 624.5,2350.4 625.9,2350.4 627.3,2350.5 628.7,2350.5 630.1,2350.5 631.5,2350.6 632.9,2350.6 634.4,2350.6 635.8,2350.7 637.2,2350.7 638.6,2350.7 640.0,2350.8 641.4,2350.8 642.8,2350.8 644.2,2350.8 645.6,2350.8 647.1,2350.9 648.5,2350.9 649.9,2350.9 651.3,2350.9 652.7,2350.9 654.1,2350.9 655.5,2350.9 656.9,2351.0 658.3,2351.0 659.8,2351.0 661.2,2351.0 662.6,2351.0 664.0,2351.0 665.4,2351.0 666.8,2351.1 668.2,2351.1 669.6,2351.1 671.1,2351.1 672.5,2351.1 673.9,2351.1 675.3,2351.1 676.7,2351.1 678.1,2351.2 679.5,2351.2 680.9,2351.2 682.3,2351.2 683.8,2351.2 685.2,2351.2 686.6,2351.2 688.0,2351.2 689.4,2351.2 690.8,2351.2 692.2,2351.3 693.6,2351.3 695.0,2351.3 696.5,2351.3 697.9,2351.3 699.3,2351.3 700.7,2351.3 702.1,2351.3 703.5,2351.3 704.9,2351.3 706.3,2351.3 707.7,2351.3 709.2,2351.3 710.6,2351.3 712.0,2351.3 713.4,2351.3 714.8,2351.3" fill="none" stroke="#55267f" stroke-width="1.4"/><circle cx="282.9" cy="2299.5" r="3.6" fill="#000"/><circle cx="316.7" cy="2280.5" r="3.6" fill="#000"/><circle cx="366.8" cy="2311.0" r="3.6" fill="#000"/><rect x="151.70" y="2031.80" width="563.10" height="334.70" fill="none" stroke="#222" stroke-width="1.0"/><line x1="151.70" y1="2366.50" x2="151.70" y2="2370.00" stroke="#222" stroke-width="0.9"/><text x="151.7" y="2384.5" font-size="11.4" text-anchor="middle" fill="#222">0</text><line x1="264.32" y1="2366.50" x2="264.32" y2="2370.00" stroke="#222" stroke-width="0.9"/><text x="264.3" y="2384.5" font-size="11.4" text-anchor="middle" fill="#222">20</text><line x1="376.94" y1="2366.50" x2="376.94" y2="2370.00" stroke="#222" stroke-width="0.9"/><text x="376.9" y="2384.5" font-size="11.4" text-anchor="middle" fill="#222">40</text><line x1="489.56" y1="2366.50" x2="489.56" y2="2370.00" stroke="#222" stroke-width="0.9"/><text x="489.6" y="2384.5" font-size="11.4" text-anchor="middle" fill="#222">60</text><line x1="602.18" y1="2366.50" x2="602.18" y2="2370.00" stroke="#222" stroke-width="0.9"/><text x="602.2" y="2384.5" font-size="11.4" text-anchor="middle" fill="#222">80</text><line x1="714.80" y1="2366.50" x2="714.80" y2="2370.00" stroke="#222" stroke-width="0.9"/><text x="714.8" y="2384.5" font-size="11.4" text-anchor="middle" fill="#222">100</text><line x1="148.20" y1="2351.70" x2="151.70" y2="2351.70" stroke="#222" stroke-width="0.9"/><text x="143.6" y="2356.0" font-size="11.8" text-anchor="end" fill="#222">0.0000</text><line x1="148.20" y1="2289.67" x2="151.70" y2="2289.67" stroke="#222" stroke-width="0.9"/><text x="143.6" y="2294.0" font-size="11.8" text-anchor="end" fill="#222">0.0005</text><line x1="148.20" y1="2227.64" x2="151.70" y2="2227.64" stroke="#222" stroke-width="0.9"/><text x="143.6" y="2231.9" font-size="11.8" text-anchor="end" fill="#222">0.0010</text><line x1="148.20" y1="2165.61" x2="151.70" y2="2165.61" stroke="#222" stroke-width="0.9"/><text x="143.6" y="2169.9" font-size="11.8" text-anchor="end" fill="#222">0.0015</text><line x1="148.20" y1="2103.58" x2="151.70" y2="2103.58" stroke="#222" stroke-width="0.9"/><text x="143.6" y="2107.9" font-size="11.8" text-anchor="end" fill="#222">0.0020</text><line x1="148.20" y1="2041.55" x2="151.70" y2="2041.55" stroke="#222" stroke-width="0.9"/><text x="143.6" y="2045.9" font-size="11.8" text-anchor="end" fill="#222">0.0025</text><text x="260.1" y="2110.6" font-size="11.4" text-anchor="start" fill="#222">23.3 AU</text><text x="293.8" y="2141.4" font-size="11.4" text-anchor="start" fill="#222">29.3 AU</text><text x="343.9" y="2171.4" font-size="11.4" text-anchor="start" fill="#222">38.2 AU</text><text x="433.4" y="2024.4" font-size="13.8" text-anchor="middle" fill="#222">Radijalni profil TW Hya diska</text><text x="433.4" y="2399.3" font-size="11.4" text-anchor="middle" fill="#222">Radijus [AU]</text><text x="96.3" y="2201.0" font-size="11.4" text-anchor="middle" fill="#222" transform="rotate(-90 96.3 2201.0)">Srednja osvetljenost [Jy/beam]</text><path d="M1081 977h0M1109 976h0M1095 947h0M1109 964h0M1076 978h0M1082 975h0M1077 968h0M1108 969h0M1083 967h0M1089 956h0M1097 975h0M1110 973h0M1090 960h0M1094 967h0M1084 990h0M1069 960h0M1105 978h0M1094 955h0M1110 960h0M1091 959h0M1072 975h0M1104 986h0M1093 971h0M1098 984h0M1068 961h0M1067 971h0M1085 975h0M1080 984h0M1094 950h0M1074 983h0M1100 969h0M1087 958h0M1079 977h0M1093 976h0M1082 958h0M1092 964h0M1084 984h0M1076 956h0M1069 961h0M1093 961h0M1070 980h0M1080 981h0M1090 973h0M1073 972h0M1100 966h0M1107 956h0M1071 977h0M1083 975h0M1088 977h0M1112 959h0M1083 950h0M1070 962h0M1100 954h0M1084 960h0M1106 968h0M1088 952h0M1077 977h0M1096 961h0M1077 968h0M1078 964h0M1107 971h0M1093 947h0M1096 972h0M1107 968h0M1104 978h0M1074 956h0M1096 969h0M1072 979h0M1088 954h0M1075 972h0M1087 953h0M1066 969h0M1096 972h0M1101 952h0M1108 960h0M1078 982h0M1081 984h0M1098 975h0M1090 972h0M1084 962h0M1098 975h0M1106 969h0M1097 982h0M1096 951h0M1095 957h0M1087 949h0M1097 990h0M1098 987h0M1093 987h0M1071 964h0M1092 989h0M1105 983h0M1069 970h0M1077 976h0M1082 976h0M1102 985h0M1106 962h0M1114 967h0M1078 963h0M1087 963h0M1092 980h0M1112 965h0M1106 959h0M1094 963h0M1082 960h0M1098 956h0M1091 984h0M1081 973h0M1091 964h0M1101 962h0M1093 977h0M1099 969h0M1109 983h0M1107 986h0M1105 963h0M1101 973h0M1080 961h0M1092 986h0M1092 981h0M1084 971h0M1082 959h0M1090 954h0M1092 967h0M1080 975h0M1084 952h0M1082 971h0M1114 973h0M1103 950h0M1088 950h0M1098 968h0M1084 961h0M1106 961h0M1108 971h0M1101 959h0M1107 959h0M1083 949h0M1069 974h0M1100 982h0M1098 976h0M1074 982h0M1089 959h0M1089 956h0M1110 959h0M1104 956h0M1071 978h0M1081 957h0M1074 982h0M1085 961h0M1073 959h0M1093 974h0M1088 961h0M1096 955h0M1083 967h0M1081 954h0M1067 967h0M1081 987h0M1104 964h0M1076 953h0M1073 964h0M1109 974h0M1098 949h0M1095 957h0M1067 968h0M1105 982h0M1080 952h0M1081 949h0M1097 981h0M1092 971h0M1069 977h0M1078 956h0M1101 956h0M1073 981h0M1076 954h0M1074 973h0M1076 965h0M1108 966h0M1102 964h0M1079 988h0M1078 975h0M1081 977h0M1096 969h0M1070 977h0M1092 975h0M1077 951h0M1097 952h0M1086 984h0M1081 970h0M1071 979h0M1069 967h0M1102 954h0M1089 981h0M1071 975h0M1108 984h0M1105 954h0M1094 975h0M1090 955h0M1098 963h0M1110 976h0M1085 953h0M1097 967h0M1096 974h0M1088 950h0M1110 967h0M1087 988h0M1096 986h0M1092 974h0M1080 982h0M1084 981h0M1082 987h0M1084 964h0M1104 979h0M1079 988h0M1078 973h0M1079 965h0M1096 954h0M1085 981h0M1089 982h0M1074 963h0M1073 956h0M1111 967h0M1102 973h0M1100 986h0M1094 972h0M1101 966h0M1091 954h0M1109 968h0M1069 968h0M1104 980h0M1079 968h0M1101 969h0M1081 986h0M1107 980h0M1090 966h0M1095 979h0M1073 959h0M1098 956h0M1095 976h0M1102 980h0M1094 957h0M1081 962h0M1089 989h0M1089 980h0M1102 982h0M1092 966h0M1100 987h0M1106 954h0M1093 985h0M1082 968h0M1111 965h0M1085 949h0M1077 984h0M1079 977h0M1089 970h0M1107 972h0M1108 983h0M1089 981h0M1107 983h0M1084 983h0M1093 951h0M1085 989h0M1112 967h0M1077 958h0M1069 973h0M1080 957h0M1078 950h0M1090 986h0M1075 983h0M1103 977h0M1098 977h0M1106 957h0M1074 963h0M1095 975h0M1089 991h0M1102 965h0M1081 963h0M1081 973h0M1088 988h0M1112 970h0M1109 961h0M1114 971h0M1071 974h0M1100 967h0M1108 975h0M1074 975h0M1103 976h0M1106 952h0M1071 955h0M1094 982h0M1088 984h0M1095 971h0M1085 967h0M1079 965h0M1094 949h0M1087 951h0M1081 984h0M1110 977h0M1112 969h0M1087 964h0M1094 958h0M1093 958h0M1085 981h0M1092 957h0M1080 957h0M1095 971h0M1109 961h0M1087 969h0M1110 981h0M1115 972h0M1084 954h0M1084 975h0M1083 958h0M1069 974h0M1092 980h0M1086 983h0M1067 975h0M1078 979h0M1081 982h0M1085 960h0M1067 966h0M1071 957h0M1104 975h0M1106 971h0M1101 976h0M1105 959h0M1105 959h0M1075 981h0M1093 972h0M1108 968h0M1086 970h0M1076 984h0M1108 956h0M1071 982h0M1111 966h0M1109 958h0M1086 955h0M1080 952h0M1101 950h0M1093 979h0M1079 970h0M1090 979h0M1071 980h0M1081 956h0M1078 950h0M1110 972h0M1107 979h0M1096 977h0M1078 951h0M1085 950h0M1100 973h0M1091 954h0M1094 955h0M1085 991h0M1066 951h0M1060 966h0M1107 955h0M1074 950h0M1061 964h0M1078 951h0M1120 960h0M1115 959h0M1062 978h0M1073 950h0M1069 981h0M1086 944h0M1114 976h0M1058 958h0M1063 969h0M1098 992h0M1077 986h0M1111 978h0M1090 990h0M1116 973h0M1071 983h0M1076 989h0M1089 947h0M1074 951h0M1095 942h0M1105 948h0M1075 950h0M1082 947h0M1117 959h0M1114 964h0M1085 948h0M1099 943h0M1063 959h0M1118 975h0M1060 978h0M1079 1000h0M1067 985h0M1112 962h0M1064 977h0M1116 971h0M1070 984h0M1098 943h0M1074 955h0M1061 957h0M1115 957h0M1097 948h0M1082 990h0M1100 940h0M1122 978h0M1067 967h0M1119 965h0M1075 950h0M1072 985h0M1079 999h0M1074 949h0M1113 958h0M1069 977h0M1090 946h0M1061 951h0M1118 962h0M1101 949h0M1108 945h0M1096 949h0M1065 954h0M1064 971h0M1094 994h0M1098 949h0M1091 990h0M1064 963h0M1118 987h0M1069 948h0M1073 982h0M1059 964h0M1069 957h0M1061 980h0M1063 971h0M1080 946h0M1091 944h0M1065 977h0M1118 968h0M1073 982h0M1109 954h0M1090 990h0M1099 948h0M1081 987h0M1084 947h0M1095 991h0M1118 982h0M1095 946h0M1113 972h0M1084 1000h0M1088 989h0M1064 969h0M1105 987h0M1114 980h0M1104 948h0M1119 955h0M1115 954h0M1082 940h0M1118 960h0M1070 939h0M1118 955h0M1108 992h0M1079 941h0M1060 951h0M1129 964h0M1087 999h0M1117 952h0M1102 937h0M1079 940h0M1083 940h0M1097 1001h0M1060 947h0M1126 965h0M1063 987h0M1064 989h0M1121 976h0M1120 978h0M1064 950h0M1104 994h0M1086 939h0M1058 981h0M1087 941h0M1082 1000h0M1070 996h0M1091 939h0M1061 979h0M1092 940h0M1071 938h0M1061 960h0M1075 991h0M1071 946h0M1060 966h0M1080 935h0M1075 994h0M1079 995h0M1124 973h0M1126 975h0M1096 999h0M1095 998h0M1124 985h0M1035 990h0M1085 918h0M1058 844h0M1154 891h0M1110 873h0M1013 925h0M950 934h0M1162 1069h0M1118 993h0M1070 1029h0M1174 978h0M1126 971h0M1056 1021h0M1214 990h0M974 977h0M978 957h0M966 1051h0M1171 945h0M1056 1041h0M1114 999h0M1110 889h0M1225 926h0M1138 1024h0M1078 1025h0M1032 1000h0M1076 938h0M1048 911h0M1162 976h0M1005 886h0M972 996h0M1227 973h0M1195 953h0M1163 849h0M1112 921h0M1170 953h0M1085 892h0M1048 920h0M1010 916h0M1171 901h0M1031 912h0M1113 906h0M1134 997h0M1036 1060h0M1233 981h0M1020 876h0M1080 1022h0M1140 915h0M1113 997h0M1125 1030h0M1235 1010h0M1079 1098h0M1080 923h0M1071 917h0M1178 1053h0M1201 1035h0M939 969h0M1151 1040h0M1139 892h0M1103 1035h0M1211 1022h0M1114 947h0M1098 1090h0M1066 1079h0M1175 865h0M1145 975h0M1054 1015h0M1035 1045h0M1182 952h0M1059 858h0M1006 1020h0M1139 851h0M1022 990h0M1009 941h0M1220 1023h0M1121 994h0M1043 846h0M1062 934h0M1132 974h0M1085 1040h0M959 962h0M1045 954h0M1156 964h0M1206 926h0M1131 987h0M1175 948h0M1093 1009h0M1084 1040h0M1008 1045h0M1111 1066h0M1101 1001h0M1136 1085h0M993 940h0M1025 1089h0M1168 1064h0M1021 871h0M1143 1000h0M1054 887h0M1093 1057h0M1105 914h0M1034 942h0M1105 1034h0M1041 995h0M1145 916h0M1095 1002h0M1075 918h0M1140 889h0M1155 848h0M1118 902h0M1031 1060h0M1018 1050h0M1105 1026h0M1109 1022h0M1163 916h0M1104 1065h0M1120 1011h0M1093 1018h0M997 885h0M998 1077h0M1056 1067h0M1063 985h0M1017 906h0M1064 943h0M1030 939h0M1231 966h0M1238 931h0M1100 870h0M1038 928h0M1062 929h0M1187 946h0M1104 1090h0M1131 963h0M1062 989h0M1163 926h0M1106 915h0M1034 1090h0M1090 1027h0M1053 953h0M967 902h0M1042 861h0M1066 938h0M1042 948h0M1006 1004h0M1189 1017h0M1169 931h0M1133 1077h0M1086 905h0M1140 940h0M1211 996h0M1053 974h0M1029 964h0M1015 987h0M1242 939h0M1007 936h0M1139 907h0M1232 964h0M1167 1053h0M1096 885h0M1042 941h0M1209 903h0M1130 908h0M1124 964h0M1080 1047h0M1133 1008h0M1058 949h0M1186 1048h0M1021 1050h0M1018 893h0M1134 907h0M1056 983h0M1035 934h0M1054 970h0M1140 946h0M1155 906h0M1119 924h0M1097 841h0M1071 922h0M1127 920h0M971 1016h0M1124 948h0M1229 946h0M1026 1039h0M1022 976h0M941 964h0M1149 869h0M1042 985h0M1012 969h0M1011 954h0M1043 1028h0M969 1020h0M1163 1061h0M1055 895h0M1002 1002h0M957 1016h0M1049 1018h0M1122 1056h0M1182 1023h0M1015 963h0M1102 914h0M1075 1033h0M1214 887h0M1049 925h0M1148 988h0M1195 1008h0M1108 1042h0M1135 951h0M1127 1005h0M1050 949h0M1078 1008h0M1122 953h0M1124 900h0M1055 900h0M1090 999h0M1084 1052h0M1201 982h0M1088 1018h0M1006 1067h0M1054 957h0M1141 1082h0M1029 1077h0M965 937h0M1101 925h0M1036 952h0M1044 1098h0M1093 1030h0M1037 1000h0M1113 951h0M1165 1053h0M1083 905h0M1115 940h0M1220 993h0M993 943h0M1107 944h0M1091 1095h0M1038 1041h0M1061 1053h0M1073 1092h0M1052 938h0M1140 973h0M1190 998h0M1062 985h0M1144 903h0M1044 864h0M1212 909h0M1234 931h0M1061 981h0M1177 947h0M1131 1007h0M1134 1024h0M1129 1004h0M1189 1025h0M1149 891h0M1031 1005h0M1054 1026h0M1032 1094h0M1032 1019h0M945 947h0M1068 994h0M1124 910h0M1056 926h0M1015 1056h0M1028 1089h0M1058 986h0M1014 1073h0M1005 879h0M1239 919h0M1103 1000h0M1041 977h0M1121 1072h0M1054 991h0M1161 970h0M981 888h0M1028 885h0M1145 942h0M983 941h0M1075 896h0M1172 881h0M1140 1021h0M1084 1008h0M1131 913h0M1216 961h0M1225 900h0M1125 916h0M992 1017h0M1155 924h0M1136 973h0M1066 986h0M1100 893h0M1195 985h0M1114 860h0M1216 915h0M1027 962h0M1191 930h0M1049 1051h0M1149 1037h0M1173 880h0M996 987h0M1082 906h0M1110 858h0M1135 918h0M1150 873h0M1050 975h0M1241 990h0M973 889h0M1024 932h0M999 989h0M1185 1009h0M1028 1089h0M1122 883h0M1192 1003h0M989 931h0M1045 1019h0M984 960h0M1165 924h0M1158 1004h0M1077 1063h0M1208 895h0M1071 1006h0M1013 1009h0M1128 993h0M1193 1029h0M1103 1032h0M1014 1082h0M1181 968h0M1079 1086h0M1106 1011h0M1211 995h0M1203 1007h0M1109 1050h0M1158 960h0M1127 1076h0M1059 930h0M1180 999h0M1088 1023h0M1145 1061h0M1107 1031h0M1150 901h0M1167 941h0M1181 997h0M1069 1097h0M1109 932h0M1087 1019h0M1118 1095h0M1156 995h0M1119 1016h0M1032 1029h0M1079 935h0M1108 1015h0M1069 1010h0M1195 974h0M1128 1070h0M991 1053h0M1082 998h0M1153 947h0M1129 994h0M1123 909h0M1107 1085h0M1112 997h0M972 997h0M1078 1003h0M1210 985h0M1067 1006h0M1029 875h0M1205 943h0M963 959h0M1077 847h0M978 898h0M1054 965h0M1140 991h0M1057 975h0M1095 1003h0M1055 999h0M1204 938h0M1232 946h0M1216 927h0M988 909h0M1105 935h0M1174 1029h0M1063 912h0M1156 1025h0M1095 1009h0M1055 967h0M1175 938h0M1153 981h0M1055 937h0M1203 968h0M1145 931h0M1044 951h0M1053 844h0M1103 928h0M1016 1018h0M988 992h0M978 938h0M1057 927h0M1086 1037h0M1191 918h0M1139 981h0M1133 982h0M1094 925h0M1072 1040h0M1036 995h0M1153 857h0M1016 865h0M1158 941h0M1001 1052h0M1137 905h0M1087 1016h0M1142 917h0M1037 1037h0M1139 902h0M1138 1013h0M1051 877h0M1121 859h0M1004 952h0M1097 889h0M1185 859h0M985 942h0M1128 1006h0M995 943h0M1076 1002h0M1135 1024h0M1042 1047h0M1118 927h0M1054 942h0M996 985h0M1046 975h0M1036 962h0M1198 1000h0M1000 999h0M1011 886h0M1130 845h0M1148 922h0M1095 937h0M1124 890h0M985 1000h0M1019 992h0M1144 1040h0M1067 987h0M1059 1041h0M978 1062h0M1048 982h0M1119 875h0M965 1025h0M1106 864h0M1209 1036h0M1072 911h0M997 909h0M1212 949h0M1168 1020h0M1067 941h0M1053 926h0M1116 948h0M1122 893h0M1090 1087h0M1102 1085h0M1054 854h0M985 874h0M1100 1008h0M983 1048h0M1125 1022h0M1086 936h0M994 1031h0M1055 969h0M1128 976h0M1047 935h0M1124 994h0M992 1007h0M1102 1008h0M1125 984h0M1147 1076h0M1098 1068h0M1034 1048h0M1105 1086h0M1095 1050h0M1100 861h0M1140 1016h0M1015 884h0M985 918h0M1200 952h0M1120 885h0M1231 1027h0M1114 1026h0M1056 1044h0M1024 978h0M1009 981h0M1082 926h0M1029 887h0M1180 856h0M1201 875h0M1050 969h0M1144 941h0M1106 1095h0M1132 929h0M997 1064h0M1151 893h0M1124 1059h0M1052 1006h0M1011 995h0M1090 932h0M1047 922h0M1142 946h0M1210 958h0M1066 988h0M1122 949h0M1001 985h0M1175 949h0M1116 938h0M1059 1006h0M1122 999h0M1168 877h0M1192 952h0M1044 946h0M1204 916h0M1120 949h0M1131 985h0M1048 971h0M1154 969h0M1052 1050h0M1151 988h0M1095 1054h0M1039 934h0M1206 1010h0M1100 1094h0M1214 884h0M1100 1031h0M1073 1093h0M1217 1007h0M1136 969h0M1081 922h0M1043 937h0M1187 1039h0M1001 878h0M1183 1066h0M1126 1014h0M938 994h0M1153 1077h0M1110 1031h0M1094 928h0M1051 998h0M1136 890h0M1170 946h0M1158 1069h0M1031 1014h0M1117 1011h0M1119 955h0M1134 977h0M1166 1026h0M1060 869h0M997 1012h0M1162 945h0M1078 1034h0M1004 970h0M1099 1018h0M1115 1020h0M1084 1018h0M1169 988h0M1026 962h0M1211 967h0M1235 932h0M1119 938h0M1091 920h0M980 936h0M1079 1002h0M1102 1021h0M1000 973h0M1046 947h0M1130 1026h0M1117 947h0M1103 1011h0M1058 995h0M1138 980h0M1049 920h0M1047 979h0M1119 1027h0M1150 1055h0M1229 923h0M1174 902h0M1111 948h0M1179 1039h0M1163 1023h0M1065 936h0M1219 902h0M1008 920h0M1001 924h0M1120 941h0M1054 1059h0M1048 1023h0M1129 1001h0M1140 906h0M979 1023h0M1143 1013h0M1109 998h0M1076 841h0M1130 926h0M1025 939h0M1078 843h0M1036 943h0M1139 943h0M1076 929h0M1060 1036h0M1102 1020h0M1072 922h0M1004 1047h0M1166 1011h0M1049 998h0M1131 1004h0M1140 979h0M1081 1070h0M1025 923h0M1122 960h0M1040 945h0M1223 1037h0M973 955h0M1121 906h0M1165 979h0M988 977h0M1006 1009h0M1073 850h0M1042 1004h0M1014 867h0M1168 938h0M1045 1014h0M1110 1015h0M1050 909h0M1112 1037h0M1212 927h0M1054 1097h0M1085 932h0M1157 956h0M1039 936h0M993 911h0M1049 854h0M1101 1013h0M1031 1046h0M997 978h0M1084 930h0M1135 986h0M1221 894h0M1151 995h0M1143 892h0M1034 1077h0M1079 1016h0M1021 906h0M1039 939h0M1182 894h0M986 947h0M1128 902h0M1190 1034h0M1089 1003h0M974 979h0M1023 1089h0M1040 857h0M1094 1030h0M1050 933h0M1101 940h0M1092 844h0M978 1063h0M1207 966h0M1123 996h0M989 1000h0M1162 998h0M1057 893h0M1019 954h0M1126 885h0M1046 972h0M1096 1038h0M1027 926h0M965 902h0M1044 1061h0M1028 1039h0M1059 1007h0M1130 961h0M1054 946h0M1137 1014h0M1097 864h0M1162 1001h0M1169 993h0M1050 977h0M1004 1053h0M991 926h0M1006 882h0M1110 929h0M947 996h0M1123 1026h0M1053 976h0M982 932h0M990 902h0M1137 974h0M1080 1006h0M1135 977h0M1053 1074h0M1199 961h0M992 1004h0M1123 1019h0M1044 984h0M1181 1039h0M1134 892h0M1134 926h0M1082 1032h0M1120 998h0M1141 962h0M1131 960h0M1056 915h0M1226 912h0M1207 984h0M1036 867h0M1097 1032h0M1018 932h0M1017 911h0M1135 866h0M1122 904h0M1232 1020h0M1092 934h0M1110 934h0M1158 857h0M1056 1046h0M1201 992h0M1007 1077h0M1139 949h0M1048 985h0M980 945h0M1180 1019h0M1043 876h0M1104 1013h0M1039 985h0M954 904h0M1134 986h0M1101 1017h0M1054 931h0M979 1062h0M1093 1026h0M998 1031h0M1077 882h0M992 963h0M1177 1011h0M1009 897h0M1042 968h0M1133 951h0M1127 973h0M1158 1069h0M1013 866h0M997 916h0M993 912h0M1063 1005h0M1061 988h0M999 971h0M1053 1038h0M1126 1090h0M982 1038h0M1038 991h0M1082 836h0M1110 1066h0M1006 872h0M1072 882h0M1050 971h0M1049 951h0M1206 1035h0M978 1061h0M1065 987h0M1088 888h0M1067 917h0M1052 1047h0M1120 941h0M1207 958h0M1068 1005h0M1066 847h0M1130 958h0M1075 927h0M1078 933h0M1062 1031h0M991 995h0M1184 1033h0M1185 1070h0M1227 998h0M1059 911h0M1043 945h0M1112 948h0M1140 864h0M1095 1025h0M1074 1085h0M1069 1034h0M1108 926h0M1059 1042h0M1061 911h0M1006 924h0M1081 920h0M1140 970h0M1043 944h0M1092 1007h0M1044 985h0M1158 868h0M1043 979h0M996 901h0M1146 993h0M1099 1021h0M976 1021h0M954 1037h0M1000 1061h0M1106 1027h0M1141 995h0M1222 908h0M954 918h0M1096 1070h0M1036 905h0M1213 885h0M1043 941h0M1046 957h0M1131 858h0M1015 889h0M1130 970h0M1005 1074h0M1090 1008h0M998 1047h0M1034 847h0M1017 1045h0M1064 851h0M1068 915h0M1137 911h0M1191 955h0M1017 987h0M1114 998h0M1090 929h0M1069 866h0M1125 988h0M1130 1018h0M1029 1024h0M1016 990h0M997 902h0M1203 960h0M1176 905h0M1119 1004h0M1139 857h0M1066 999h0M1075 1008h0M1119 1015h0M1017 1001h0M1075 859h0M1102 1030h0M1104 924h0M1035 928h0M1179 867h0M1187 889h0M1039 943h0M1195 1015h0M1142 854h0M1050 967h0M1179 949h0M1210 969h0M1184 868h0M1171 1057h0M1084 927h0M1023 927h0M978 937h0M1200 965h0M1050 942h0M1107 896h0M1102 1030h0M1098 907h0M1136 1013h0M1096 1001h0M1143 985h0M1023 926h0M1055 986h0M1221 1002h0M1044 948h0M1109 918h0M1133 963h0M1178 967h0M1051 912h0M1133 995h0M1018 881h0M1038 935h0M1199 873h0M1080 890h0M1121 958h0M1157 978h0M1046 982h0M1087 1037h0M1006 895h0M1127 994h0M1136 986h0M1067 938h0M1208 992h0M1017 870h0M1160 1043h0M1055 951h0M1102 903h0M1079 925h0M1157 994h0M1009 892h0M1153 937h0M1052 918h0M1042 927h0M975 974h0M1031 880h0M1185 1064h0M1074 926h0M1194 899h0M1185 1054h0M1036 957h0M982 1021h0M1061 879h0M992 910h0M1006 983h0M1150 990h0M1097 1095h0M1091 1001h0M979 931h0M1202 1009h0M1091 899h0M1090 904h0M1069 1071h0M1198 961h0M1105 926h0M949 1006h0M1117 938h0M1137 1064h0M1042 875h0M1217 1011h0M1132 989h0M1233 1011h0M979 952h0M1151 949h0M1226 953h0M1016 965h0M1023 880h0M1035 870h0M973 1060h0M1035 932h0M1079 898h0M968 931h0M1062 914h0M1143 995h0M1038 895h0M1122 864h0M1071 931h0M1075 993h0M1036 1008h0M1130 1000h0M1124 894h0M1079 915h0M1027 1042h0M1095 1010h0M1062 933h0M1190 1005h0M1124 873h0M982 955h0M1182 963h0M1088 999h0M1078 999h0M1222 1018h0M1220 1036h0M1186 950h0M1080 1056h0M1094 901h0M1063 1038h0M1021 930h0M1164 991h0M1111 1019h0M1194 942h0M1165 931h0M986 988h0M1136 873h0M1127 1075h0M1023 980h0M1009 1023h0M1074 908h0M1066 1004h0M979 905h0M1160 973h0M1087 1053h0M1046 962h0M1145 979h0M1132 1035h0M1008 873h0M966 904h0M1235 925h0M1049 891h0M1084 1017h0M1042 939h0M1191 934h0M1083 1102h0M1120 998h0M1019 918h0M942 959h0M1027 920h0M1097 941h0M1137 893h0M1096 1002h0M1139 970h0M1080 934h0M1060 1024h0M1014 1056h0M1050 958h0M1161 974h0M1135 940h0M1123 893h0M1179 948h0M1044 952h0M1114 861h0M1071 1057h0M1051 865h0M1007 950h0M1070 1034h0M1211 956h0M944 1019h0M1199 881h0M1126 1017h0M1061 857h0M1096 1019h0M1190 925h0M943 1021h0M1230 926h0M1032 974h0M1199 976h0M944 945h0M1054 992h0M984 938h0M1022 865h0M1125 957h0M1221 978h0M1028 979h0M954 938h0M997 871h0M1211 889h0M1105 1073h0M1215 972h0M1034 899h0M1165 1038h0M1116 905h0M964 1037h0M1190 1063h0M1228 956h0M1031 852h0M1079 1089h0M1118 843h0M1240 993h0" stroke="#4a1a74" stroke-opacity="0.5" stroke-width="3.0" stroke-linecap="round" fill="none"/><path d="M1099 988h0M1111 961h0M1102 972h0M1107 963h0M1092 969h0M1100 972h0M1095 949h0M1088 977h0M1080 959h0M1113 973h0M1077 976h0M1102 960h0M1103 962h0M1073 972h0M1095 976h0M1110 971h0M1096 977h0M1095 985h0M1102 973h0M1087 952h0M1077 986h0M1085 974h0M1108 978h0M1088 983h0M1099 951h0M1105 959h0M1102 965h0M1094 986h0M1078 962h0M1077 973h0M1111 974h0M1078 951h0M1099 975h0M1084 965h0M1108 956h0M1092 982h0M1113 971h0M1093 979h0M1106 964h0M1073 958h0M1108 962h0M1080 977h0M1101 965h0M1099 977h0M1088 961h0M1076 963h0M1072 959h0M1097 981h0M1093 988h0M1096 971h0M1087 976h0M1070 966h0M1107 962h0M1066 973h0M1100 963h0M1097 954h0M1087 972h0M1109 973h0M1095 957h0M1073 979h0M1091 955h0M1089 979h0M1095 966h0M1093 979h0M1107 965h0M1080 986h0M1102 984h0M1078 977h0M1112 970h0M1084 983h0M1093 966h0M1077 963h0M1091 990h0M1096 979h0M1089 979h0M1077 966h0M1070 974h0M1095 973h0M1077 955h0M1074 970h0M1085 960h0M1074 984h0M1100 949h0M1074 968h0M1078 985h0M1089 970h0M1092 961h0M1092 949h0M1104 972h0M1080 981h0M1078 985h0M1090 972h0M1077 964h0M1077 967h0M1104 983h0M1072 955h0M1074 977h0M1073 966h0M1103 976h0M1087 958h0M1096 954h0M1077 960h0M1099 984h0M1073 981h0M1072 968h0M1100 970h0M1073 961h0M1072 960h0M1090 973h0M1089 978h0M1091 975h0M1079 981h0M1081 960h0M1112 973h0M1094 961h0M1090 983h0M1106 979h0M1101 985h0M1109 969h0M1103 973h0M1107 973h0M1081 979h0M1097 983h0M1097 984h0M1103 976h0M1087 978h0M1087 966h0M1099 955h0M1079 955h0M1095 967h0M1092 979h0M1095 951h0M1089 960h0M1091 962h0M1079 963h0M1106 978h0M1090 985h0M1096 949h0M1102 981h0M1070 957h0M1090 947h0M1091 972h0M1083 954h0M1092 955h0M1113 974h0M1101 955h0M1099 955h0M1096 958h0M1098 989h0M1114 974h0M1094 975h0M1076 980h0M1087 961h0M1075 976h0M1086 966h0M1103 962h0M1091 955h0M1070 980h0M1111 975h0M1111 960h0M1104 957h0M1082 951h0M1113 963h0M1081 954h0M1097 953h0M1077 975h0M1081 969h0M1098 973h0M1085 962h0M1098 956h0M1087 977h0M1105 977h0M1107 961h0M1084 965h0M1106 982h0M1101 949h0M1069 966h0M1095 965h0M1111 957h0M1103 953h0M1093 978h0M1077 956h0M1085 970h0M1098 965h0M1096 971h0M1084 976h0M1082 980h0M1086 982h0M1109 957h0M1070 980h0M1082 952h0M1079 970h0M1068 966h0M1104 965h0M1109 975h0M1074 974h0M1085 966h0M1081 955h0M1098 971h0M1109 959h0M1075 955h0M1100 974h0M1074 970h0M1082 982h0M1097 961h0M1083 962h0M1104 953h0M1075 957h0M1106 954h0M1082 955h0M1081 967h0M1100 955h0M1093 970h0M1110 961h0M1086 954h0M1076 969h0M1091 957h0M1090 950h0M1108 979h0M1099 960h0M1067 963h0M1086 956h0M1098 958h0M1101 951h0M1066 974h0M1105 964h0M1071 974h0M1080 971h0M1107 980h0M1090 963h0M1097 961h0M1068 964h0M1073 978h0M1070 979h0M1070 977h0M1094 948h0M1095 956h0M1094 949h0M1088 969h0M1112 960h0M1075 973h0M1080 962h0M1093 971h0M1081 965h0M1070 966h0M1111 975h0M1079 959h0M1103 957h0M1088 955h0M1101 959h0M1103 978h0M1074 954h0M1079 966h0M1067 967h0M1077 984h0M1071 967h0M1082 983h0M1099 982h0M1092 958h0M1109 959h0M1082 969h0M1107 960h0M1101 960h0M1086 960h0M1079 984h0M1094 977h0M1111 967h0M1085 979h0M1071 981h0M1106 953h0M1104 964h0M1079 952h0M1077 984h0M1111 978h0M1081 951h0M1093 955h0M1099 950h0M1095 959h0M1093 983h0M1082 952h0M1076 986h0M1096 966h0M1078 971h0M1096 959h0M1080 954h0M1095 976h0M1082 986h0M1092 982h0M1100 981h0M1109 975h0M1071 956h0M1089 986h0M1101 968h0M1074 984h0M1103 961h0M1085 985h0M1092 956h0M1097 978h0M1101 967h0M1100 953h0M1096 950h0M1102 958h0M1101 967h0M1090 957h0M1105 973h0M1087 979h0M1092 965h0M1088 951h0M1077 959h0M1070 960h0M1071 972h0M1077 980h0M1090 954h0M1082 963h0M1098 967h0M1102 958h0M1095 958h0M1088 982h0M1077 985h0M1088 985h0M1092 953h0M1084 965h0M1109 982h0M1075 986h0M1092 950h0M1078 951h0M1112 972h0M1081 964h0M1081 986h0M1077 966h0M1099 988h0M1104 977h0M1102 961h0M1082 959h0M1095 971h0M1072 960h0M1104 983h0M1071 963h0M1067 976h0M1089 976h0M1076 978h0M1099 958h0M1068 960h0M1111 975h0M1085 964h0M1088 964h0M1085 978h0M1103 987h0M1078 960h0M1104 963h0M1112 969h0M1110 964h0M1106 966h0M1075 963h0M1081 971h0M1082 949h0M1069 977h0M1106 954h0M1111 958h0M1104 980h0M1098 976h0M1097 975h0M1103 957h0M1100 969h0M1093 972h0M1088 974h0M1094 980h0M1101 988h0M1080 963h0M1100 977h0M1089 964h0M1076 983h0M1090 970h0M1095 957h0M1106 967h0M1085 984h0M1089 962h0M1118 964h0M1115 961h0M1076 991h0M1118 958h0M1121 985h0M1094 996h0M1092 993h0M1057 975h0M1073 997h0M1073 991h0M1095 944h0M1065 958h0M1091 991h0M1112 954h0M1064 973h0M1098 949h0M1090 947h0M1115 980h0M1092 942h0M1104 990h0M1068 977h0M1109 981h0M1094 995h0M1082 945h0M1066 967h0M1114 966h0M1057 975h0M1111 982h0M1066 965h0M1107 950h0M1117 981h0M1082 949h0M1065 970h0M1111 978h0M1065 964h0M1086 943h0M1113 962h0M1063 980h0M1071 992h0M1106 952h0M1073 985h0M1085 990h0M1096 943h0M1122 971h0M1111 958h0M1107 953h0M1070 984h0M1104 995h0M1068 977h0M1069 958h0M1075 949h0M1102 991h0M1119 984h0M1086 943h0M1086 947h0M1068 951h0M1111 953h0M1113 976h0M1113 950h0M1108 988h0M1070 979h0M1064 987h0M1068 996h0M1071 956h0M1069 981h0M1081 944h0M1065 968h0M1073 950h0M1087 947h0M1085 995h0M1075 991h0M1073 941h0M1105 946h0M1115 965h0M1113 966h0M1080 945h0M1075 954h0M1069 977h0M1065 962h0M1114 975h0M1074 988h0M1095 947h0M1077 986h0M1098 992h0M1118 973h0M1104 944h0M1099 946h0M1111 958h0M1063 948h0M1084 993h0M1087 991h0M1116 973h0M1104 989h0M1062 969h0M1075 994h0M1112 980h0M1114 963h0M1113 981h0M1115 973h0M1062 970h0M1106 987h0M1088 949h0M1075 986h0M1077 990h0M1080 990h0M1069 981h0M1053 981h0M1081 935h0M1072 998h0M1114 989h0M1098 943h0M1073 995h0M1066 995h0M1115 948h0M1060 981h0M1101 993h0M1060 954h0M1055 975h0M1073 941h0M1128 974h0M1065 944h0M1077 945h0M1090 995h0M1076 996h0M1090 996h0M1074 990h0M1123 983h0M1053 971h0M1098 935h0M1068 995h0M1119 950h0M1061 960h0M1064 992h0M1104 939h0M1079 997h0M1123 970h0M1056 982h0M1099 934h0M1089 942h0M1091 997h0M1079 945h0M1111 940h0M1121 983h0M1094 941h0M1105 1002h0M1094 996h0M1071 949h0M1074 946h0M1119 958h0M1112 948h0M1051 971h0M1115 986h0M1064 986h0M1114 942h0M1087 938h0M1084 943h0M1080 998h0M1090 1000h0M975 992h0M1070 935h0M1048 971h0M1106 909h0M1023 1062h0M988 925h0M1123 926h0M1153 1034h0M1181 888h0M1118 927h0M1127 1097h0M1204 995h0M1129 944h0M1126 1096h0M1146 1090h0M1099 892h0M1205 977h0M1035 945h0M984 913h0M1125 885h0M1040 957h0M1114 1010h0M1105 1004h0M981 974h0M1000 870h0M1183 978h0M1117 1030h0M1085 917h0M1048 1041h0M1129 995h0M1061 985h0M1049 955h0M1130 923h0M1057 1056h0M1045 1038h0M1063 998h0M1168 1017h0M1154 948h0M1077 866h0M1091 881h0M1118 1017h0M1087 910h0M1128 936h0M1025 886h0M961 979h0M1047 996h0M1125 961h0M999 946h0M1119 1008h0M1092 1026h0M1241 941h0M1068 1034h0M1023 949h0M984 967h0M1029 961h0M1128 975h0M1042 924h0M1060 979h0M1057 982h0M1161 937h0M1029 923h0M1058 943h0M1130 1018h0M1096 909h0M1184 1030h0M1091 920h0M1024 1004h0M1079 933h0M1078 899h0M961 928h0M1090 1007h0M1197 1050h0M1220 928h0M1139 960h0M1175 866h0M1127 972h0M1138 1079h0M1148 1066h0M1204 914h0M1104 861h0M1122 995h0M1052 853h0M1054 959h0M1197 873h0M1141 1024h0M1091 865h0M1069 940h0M1037 946h0M1125 989h0M966 966h0M1046 973h0M1184 968h0M1060 1094h0M1197 985h0M1059 990h0M1120 940h0M1032 894h0M967 993h0M1136 1008h0M1054 926h0M1153 920h0M977 972h0M1018 894h0M1055 1027h0M977 1047h0M990 932h0M1053 985h0M1158 963h0M1078 936h0M995 881h0M1083 1007h0M1143 1047h0M1035 937h0M1155 1031h0M1228 914h0M1186 972h0M1130 846h0M1043 980h0M1024 1059h0M1187 939h0M1145 1072h0M1009 930h0M1048 919h0M1193 1024h0M1057 1036h0M1185 1015h0M987 1015h0M1168 1067h0M1085 997h0M1086 1098h0M1150 1002h0M1094 1002h0M1087 1062h0M1154 1078h0M1070 993h0M1158 908h0M1134 1034h0M1138 1021h0M1191 869h0M1076 849h0M1085 924h0M1202 1054h0M996 927h0M1065 1100h0M1196 952h0M1111 1064h0M1125 984h0M1094 898h0M1204 895h0M1140 864h0M1080 870h0M1063 991h0M1050 970h0M1029 951h0M1173 1061h0M1058 931h0M1134 1024h0M1226 996h0M1178 930h0M1186 929h0M1000 963h0M1069 1027h0M1230 979h0M1062 932h0M1133 1013h0M1070 999h0M1014 968h0M1123 959h0M1127 982h0M1172 1009h0M1039 1045h0M1091 1086h0M1049 1031h0M1124 908h0M1057 1028h0M1196 921h0M1062 921h0M1050 980h0M1107 946h0M992 927h0M1123 954h0M1110 1018h0M1057 979h0M1133 995h0M1142 924h0M1048 953h0M1190 1062h0M1132 976h0M971 919h0M1125 986h0M1166 1084h0M1139 975h0M1168 967h0M1059 918h0M1137 971h0M1173 935h0M1052 936h0M1041 908h0M1063 920h0M1167 1025h0M1160 1011h0M1040 1020h0M1170 919h0M1053 966h0M1118 1011h0M1067 993h0M1104 1005h0M1004 1003h0M1123 1070h0M1095 1004h0M1017 924h0M977 933h0M1163 857h0M1057 1010h0M1001 870h0M1070 1050h0M1133 959h0M1110 899h0M1123 990h0M1237 967h0M1217 966h0M1053 961h0M1143 1074h0M1027 1028h0M1074 1028h0M1100 893h0M1122 953h0M971 886h0M1124 951h0M1119 1021h0M1053 972h0M1079 915h0M1115 1005h0M1134 985h0M1137 923h0M1023 1028h0M1128 965h0M1072 992h0M1060 1074h0M1015 994h0M1124 994h0M1052 959h0M1132 1089h0M977 903h0M1017 935h0M993 896h0M1069 1004h0M1134 980h0M1053 1061h0M1005 922h0M1094 1023h0M1038 1022h0M1064 986h0M1023 960h0M1116 1028h0M1183 1053h0M1084 1009h0M1177 930h0M1096 848h0M1216 893h0M1174 1002h0M992 951h0M1094 1016h0M1128 1011h0M1090 1036h0M1048 960h0M1103 1000h0M1029 980h0M1059 875h0M1198 945h0M1101 917h0M1125 890h0M956 967h0M1150 847h0M962 960h0M1197 982h0M1081 1094h0M1074 1048h0M1023 920h0M1088 926h0M1077 1020h0M995 878h0M1020 1001h0M1131 844h0M1190 907h0M1185 937h0M1181 1027h0M1056 950h0M1042 1009h0M1170 1021h0M1087 1036h0M1147 1062h0M1108 1032h0M1153 986h0M1094 933h0M1002 900h0M1149 926h0M1056 1063h0M1119 887h0M1136 842h0M948 983h0M1058 1040h0M1059 940h0M1213 1035h0M1062 1033h0M1132 1001h0M1106 1018h0M1074 903h0M1105 1020h0M997 992h0M1209 987h0M1156 955h0M1159 1036h0M1063 983h0M1140 978h0M1104 943h0M984 916h0M1161 920h0M1055 956h0M1114 877h0M1159 847h0M1222 1015h0M1170 928h0M1087 895h0M1140 984h0M1050 970h0M1111 927h0M1059 939h0M1133 939h0M1046 1032h0M1165 953h0M1043 987h0M1080 1045h0M1172 926h0M990 906h0M1035 967h0M1191 955h0M976 911h0M1178 1067h0M1182 985h0M1203 976h0M1122 923h0M1138 969h0M1074 921h0M1135 930h0M993 979h0M1058 944h0M1145 1067h0M1157 849h0M1035 1022h0M990 975h0M1053 956h0M1151 1049h0M1057 1034h0M991 1055h0M1027 1077h0M1132 1066h0M1062 1008h0M1054 983h0M1088 889h0M1186 946h0M1175 962h0M1152 950h0M1151 949h0M1204 1007h0M1090 904h0M1165 880h0M1152 984h0M1115 905h0M1175 916h0M992 1022h0M1135 904h0M1106 1009h0M1059 917h0M1130 933h0M1110 940h0M1080 855h0M1160 1003h0M1132 1082h0M1132 903h0M1004 968h0M1113 946h0M1057 927h0M1127 889h0M1151 997h0M1089 1034h0M1210 976h0M1146 936h0M1052 975h0M1061 839h0M1069 839h0M985 1053h0M1121 897h0M1050 1081h0M1054 941h0M1049 932h0M998 915h0M1016 1001h0M1071 879h0M1068 1028h0M1197 978h0M1134 986h0M1070 860h0M1122 952h0M1168 1052h0M1135 963h0M1036 966h0M1054 922h0M1069 995h0M970 968h0M1044 1091h0M1199 1051h0M1084 1089h0M1087 1017h0M1077 917h0M1101 932h0M980 1015h0M1019 865h0M1203 1029h0M1051 969h0M1080 1017h0M1130 944h0M1127 982h0M990 962h0M1096 1083h0M1130 966h0M1065 1037h0M1214 950h0M1202 873h0M1174 1027h0M1043 893h0M1065 910h0M1056 1030h0M1060 857h0M1030 1014h0M945 1020h0M1150 1053h0M1118 906h0M1067 1061h0M1135 860h0M1109 1055h0M1075 898h0M1133 971h0M1122 1096h0M1003 862h0M1004 981h0M1002 902h0M1125 1046h0M1130 974h0M1176 875h0M976 956h0M1217 997h0M1049 946h0M1096 904h0M944 999h0M1235 1002h0M1207 954h0M1136 904h0M1055 903h0M1079 843h0M1159 1060h0M1049 954h0M989 990h0M1001 1002h0M943 1013h0M1142 891h0M980 1015h0M1169 855h0M1125 1017h0M1057 936h0M1107 925h0M1096 1015h0M1061 1025h0M1054 945h0M1157 850h0M1087 1057h0M968 952h0M1227 974h0M1184 955h0M1131 950h0M1038 916h0M1166 972h0M1093 900h0M1036 901h0M1106 936h0M996 900h0M1142 869h0M1136 905h0M1053 971h0M1125 950h0M1097 1017h0M1139 962h0M937 970h0M1150 884h0M1110 942h0M1024 1012h0M1017 1083h0M1132 912h0M1002 1010h0M1191 886h0M1099 887h0M1236 918h0M1145 910h0M1148 933h0M1112 871h0M1123 955h0M1176 1069h0M1010 925h0M1188 1047h0M1117 1007h0M1006 904h0M1045 942h0M1093 1088h0M1140 1074h0M1192 1039h0M1048 996h0M1127 1029h0M1112 1042h0M1121 1087h0M1124 1021h0M1095 1015h0M1134 959h0M1056 953h0M1067 1017h0M1069 851h0M1052 995h0M1112 949h0M1040 1091h0M1166 1065h0M1067 922h0M1123 1006h0M1151 953h0M1115 936h0M1153 997h0M1165 885h0M1130 927h0M1087 910h0M961 1017h0M1121 947h0M1022 1026h0M1133 958h0M1069 1046h0M1173 1021h0M1049 1000h0M1016 1021h0M1050 1078h0M1137 980h0M1070 880h0M1158 1033h0M1199 1032h0M1111 908h0M1013 894h0M1044 979h0M969 927h0M1147 1019h0M1117 905h0M1005 954h0M1121 948h0M1045 970h0M1108 1008h0M1054 950h0M1166 914h0M1049 918h0M1117 1003h0M1163 1063h0M1131 917h0M1132 890h0M1057 929h0M1183 1058h0M1021 962h0M1050 937h0M1039 962h0M983 959h0M1108 896h0M1072 894h0M1087 1068h0M1008 934h0M1183 880h0M1030 1000h0M1053 958h0M1147 1016h0M1063 1036h0M1093 1065h0M1080 917h0M1119 1002h0M1070 1013h0M1163 1001h0M1010 898h0M1077 995h0M1031 857h0M1129 1039h0M1049 999h0M1076 928h0M1198 1024h0M976 934h0M1175 945h0M1134 897h0M1112 950h0M1111 885h0M1023 972h0M989 877h0M1123 1000h0M1074 1083h0M1131 992h0M1085 1013h0M1074 868h0M1167 937h0M1068 937h0M1217 910h0M1000 1035h0M1094 1012h0M990 995h0M1072 930h0M1202 917h0M1012 994h0M1046 956h0M1215 953h0M1134 967h0M1084 897h0M1146 1073h0M1002 996h0M1156 1081h0M1106 909h0M1184 930h0M1070 1095h0M1102 1000h0M1009 976h0M1128 963h0M1155 859h0M1037 1038h0M1042 1006h0M986 1061h0M1189 968h0M1125 1029h0M1243 936h0M1023 1037h0M1160 936h0M1078 923h0M991 967h0M1119 956h0M1043 1021h0M1185 961h0M1140 1055h0M1135 970h0M1023 1012h0M991 1021h0M1167 1007h0M1167 1052h0M1199 1002h0M952 929h0M1119 931h0M1120 944h0M1081 876h0M1161 862h0M1078 1080h0M1096 885h0M1240 925h0M1032 1042h0M1021 1024h0M1116 1008h0M1159 847h0M1163 1078h0M1145 1045h0M1196 999h0M1082 937h0M1131 973h0M1097 1000h0M970 1012h0M1206 1025h0M1089 936h0M942 953h0M1154 898h0M1063 996h0M1065 941h0M1048 867h0M1058 947h0M1041 1033h0M1083 926h0M1186 900h0M1149 1048h0M959 1039h0M1148 1085h0M1135 1061h0M1065 840h0M1103 1005h0M1115 950h0M1072 1095h0M1019 989h0M1141 991h0M1088 1098h0M1208 976h0M1171 919h0M1027 1005h0M1096 918h0M1041 944h0M1136 914h0M1188 907h0M1012 938h0M1104 928h0M980 914h0M955 1011h0M1086 998h0M1125 969h0M1077 904h0M966 1006h0M1025 1046h0M1147 988h0M1013 1017h0M1229 904h0M995 967h0M1243 989h0M1140 1010h0M1127 930h0M1196 1021h0M1026 893h0M963 927h0M1183 864h0M1101 931h0M1104 922h0M1128 1050h0M1051 1094h0M1146 961h0M1014 1072h0M1113 909h0M1022 914h0M1100 911h0M1042 949h0M1127 935h0M1103 942h0M1143 989h0M1169 1076h0M1069 987h0M1060 926h0M1085 1054h0M1177 872h0M1101 837h0M1051 902h0M961 975h0M1086 1009h0M1160 976h0M1127 1038h0M1050 1000h0M1178 1033h0M1092 1018h0M1085 1090h0M966 1005h0M1051 975h0M1083 1024h0M1181 943h0M1065 1084h0M1155 934h0M1087 920h0M1072 880h0M1190 1043h0M1212 970h0M1037 987h0M1044 868h0M1178 991h0M1095 1054h0M1206 1007h0M1094 1024h0M1094 925h0M1045 971h0M1089 1016h0M1196 1017h0M1201 1006h0M1045 1028h0M1050 956h0M1126 1003h0M1136 840h0M1056 860h0M1076 935h0M1048 969h0M1139 971h0M1205 1013h0M1044 858h0M1000 972h0M966 951h0M1019 1026h0M1074 922h0M1161 1041h0M1144 922h0M1030 943h0M1149 879h0M1053 968h0M1031 1059h0M1136 854h0M1165 1070h0M1186 899h0M1133 954h0M1153 922h0M1142 940h0M1121 1032h0M1135 991h0M1078 892h0M1035 975h0M1109 945h0M1038 988h0M1132 1046h0M1134 1071h0M1157 1052h0M1196 974h0M1149 1080h0M999 949h0M999 966h0M1200 886h0M1122 1020h0M1113 1093h0M1081 884h0M1082 923h0M1054 929h0M1030 990h0M1163 887h0M1029 889h0M1193 1008h0M1115 1023h0M1124 1001h0M1101 918h0M1169 982h0M1144 950h0M1164 960h0M1086 1002h0M1040 970h0M1108 1027h0M1194 1025h0M1079 913h0M1138 1052h0M1184 1046h0M1130 961h0M1150 965h0M1102 940h0M1106 942h0M1207 1035h0M1132 982h0M1091 1059h0M1227 1003h0M1120 1032h0M1110 1012h0M1235 945h0M1173 896h0M1199 933h0M988 964h0M1066 985h0M1135 1011h0M1047 939h0M1150 926h0M1195 991h0M1191 1047h0M1067 991h0M973 925h0M1059 1026h0M961 953h0M1111 1017h0M1008 1059h0M1148 923h0M1010 1009h0M953 1005h0M1193 868h0M1123 885h0M1173 926h0M1111 949h0M1131 985h0M976 950h0M1183 888h0M1012 996h0M1038 936h0M1023 944h0M1051 929h0M1110 1086h0M1039 954h0M1192 1039h0M1138 883h0M1195 1020h0M979 967h0M1199 986h0M1035 952h0M1127 978h0M1114 1012h0M1053 903h0M1095 921h0M1003 1020h0M997 1078h0M1177 885h0M1061 995h0M1117 1013h0M977 953h0M990 918h0M1235 958h0M1162 1074h0M1072 992h0M1094 896h0M1160 1045h0M1162 946h0M1102 940h0M1062 928h0M1136 987h0M1040 1007h0M1050 959h0M978 934h0M1102 862h0M1135 970h0M1147 1032h0M1039 894h0M1194 869h0M996 932h0M1054 971h0M1017 1063h0M1042 947h0M944 988h0M997 993h0M1070 904h0M1186 945h0M1140 911h0M1047 937h0M992 969h0M1013 977h0M1130 1001h0M1048 1025h0M1146 956h0M1196 1005h0M1197 890h0M1074 926h0M1163 933h0M1094 935h0M1200 1015h0M1003 895h0M1146 901h0M1207 1003h0M943 964h0M1003 996h0M1009 931h0M1133 974h0M1095 1030h0M1129 964h0M1089 1064h0M1077 932h0M1147 1057h0M1167 961h0M993 871h0M1001 1005h0M1060 875h0M1152 880h0M941 988h0M970 1027h0M1200 1010h0M1096 1073h0M1241 981h0M1000 939h0M1182 946h0M1115 945h0M973 934h0M977 964h0M1004 853h0M1223 922h0" stroke="#4a1a74" stroke-opacity="0.5" stroke-width="3.0" stroke-linecap="round" fill="none"/><path d="M1077 959h0M1077 966h0M1105 979h0M1073 966h0M1101 956h0M1077 983h0M1101 968h0M1096 968h0M1066 971h0M1081 954h0M1110 964h0M1084 955h0M1070 982h0M1114 967h0M1098 984h0M1102 959h0M1096 956h0M1075 964h0M1080 967h0M1099 957h0M1104 960h0M1079 981h0M1080 951h0M1084 964h0M1088 973h0M1093 952h0M1099 964h0M1079 962h0M1112 974h0M1089 956h0M1076 958h0M1114 972h0M1090 965h0M1110 975h0M1073 964h0M1092 963h0M1078 963h0M1104 984h0M1076 974h0M1082 951h0M1071 964h0M1072 958h0M1092 984h0M1110 958h0M1095 976h0M1079 958h0M1080 972h0M1107 967h0M1067 974h0M1102 966h0M1106 970h0M1100 988h0M1097 973h0M1099 961h0M1102 966h0M1090 954h0M1075 954h0M1069 968h0M1068 961h0M1105 978h0M1085 979h0M1074 957h0M1074 955h0M1093 970h0M1074 964h0M1069 975h0M1097 988h0M1082 952h0M1067 977h0M1093 953h0M1083 951h0M1088 949h0M1100 962h0M1077 982h0M1110 970h0M1076 960h0M1070 961h0M1101 978h0M1083 975h0M1077 956h0M1079 983h0M1089 966h0M1110 981h0M1096 979h0M1103 966h0M1086 989h0M1086 970h0M1084 948h0M1080 980h0M1098 955h0M1073 965h0M1095 976h0M1083 949h0M1086 964h0M1104 968h0M1089 983h0M1073 978h0M1074 964h0M1099 951h0M1103 986h0M1100 972h0M1097 948h0M1091 971h0M1110 974h0M1106 978h0M1100 977h0M1071 977h0M1082 960h0M1089 977h0M1104 966h0M1091 973h0M1084 969h0M1104 960h0M1070 969h0M1102 978h0M1089 954h0M1104 961h0M1099 976h0M1083 986h0M1087 966h0M1100 954h0M1110 975h0M1089 963h0M1095 980h0M1102 977h0M1102 988h0M1106 958h0M1103 962h0M1073 959h0M1092 971h0M1097 970h0M1098 964h0M1092 949h0M1095 950h0M1100 972h0M1090 967h0M1090 979h0M1103 951h0M1079 949h0M1082 956h0M1075 962h0M1066 965h0M1098 982h0M1096 959h0M1109 976h0M1068 961h0M1083 988h0M1108 962h0M1112 978h0M1083 949h0M1095 957h0M1099 970h0M1086 961h0M1097 982h0M1111 971h0M1078 973h0M1101 957h0M1080 961h0M1075 976h0M1097 979h0M1098 963h0M1099 969h0M1076 954h0M1088 962h0M1103 967h0M1075 982h0M1076 961h0M1086 983h0M1081 957h0M1082 978h0M1080 983h0M1085 967h0M1083 948h0M1103 968h0M1083 968h0M1079 958h0M1089 974h0M1102 953h0M1108 969h0M1090 957h0M1091 962h0M1098 983h0M1104 979h0M1110 974h0M1108 965h0M1069 979h0M1091 979h0M1083 967h0M1067 975h0M1094 962h0M1065 966h0M1091 964h0M1086 984h0M1106 966h0M1101 949h0M1087 952h0M1089 954h0M1072 970h0M1111 971h0M1107 958h0M1105 968h0M1105 980h0M1088 971h0M1100 975h0M1082 952h0M1084 964h0M1108 970h0M1099 988h0M1109 975h0M1097 951h0M1111 978h0M1091 956h0M1079 957h0M1088 951h0M1091 985h0M1086 956h0M1083 971h0M1071 982h0M1105 969h0M1086 960h0M1086 975h0M1074 973h0M1092 953h0M1072 981h0M1090 968h0M1071 972h0M1093 982h0M1089 953h0M1082 954h0M1104 985h0M1088 957h0M1086 949h0M1084 954h0M1103 959h0M1090 950h0M1110 964h0M1100 978h0M1086 965h0M1106 974h0M1110 980h0M1088 990h0M1074 957h0M1070 972h0M1086 963h0M1073 969h0M1093 978h0M1075 960h0M1098 979h0M1086 951h0M1074 966h0M1086 960h0M1083 966h0M1069 978h0M1095 989h0M1096 980h0M1091 967h0M1098 970h0M1072 955h0M1078 954h0M1092 950h0M1112 958h0M1106 961h0M1088 954h0M1093 967h0M1111 958h0M1069 978h0M1076 957h0M1104 980h0M1073 963h0M1098 952h0M1067 971h0M1087 956h0M1082 967h0M1103 985h0M1083 967h0M1086 950h0M1112 972h0M1099 956h0M1081 956h0M1085 958h0M1085 949h0M1082 951h0M1088 960h0M1100 982h0M1086 965h0M1070 974h0M1086 986h0M1085 984h0M1066 973h0M1092 971h0M1114 974h0M1110 966h0M1092 977h0M1088 957h0M1107 955h0M1088 956h0M1090 956h0M1096 966h0M1106 984h0M1103 983h0M1109 959h0M1074 959h0M1106 952h0M1087 956h0M1112 970h0M1087 954h0M1109 957h0M1091 964h0M1110 961h0M1108 972h0M1078 955h0M1094 956h0M1101 984h0M1100 959h0M1095 957h0M1085 956h0M1090 988h0M1083 974h0M1080 952h0M1077 952h0M1073 961h0M1102 971h0M1069 966h0M1106 975h0M1084 953h0M1088 963h0M1093 989h0M1087 951h0M1087 988h0M1083 953h0M1078 988h0M1081 984h0M1106 955h0M1103 969h0M1105 964h0M1112 975h0M1100 965h0M1112 968h0M1095 979h0M1086 973h0M1087 961h0M1100 950h0M1075 981h0M1073 957h0M1091 988h0M1099 968h0M1113 971h0M1107 953h0M1096 959h0M1101 988h0M1103 969h0M1090 947h0M1092 966h0M1098 982h0M1081 961h0M1097 966h0M1097 978h0M1108 965h0M1073 961h0M1079 987h0M1099 967h0M1098 978h0M1082 986h0M1109 968h0M1108 973h0M1091 962h0M1084 986h0M1064 979h0M1074 949h0M1121 969h0M1070 957h0M1115 968h0M1119 967h0M1109 987h0M1087 947h0M1063 970h0M1118 961h0M1087 992h0M1102 950h0M1084 940h0M1091 993h0M1106 952h0M1065 957h0M1107 944h0M1114 978h0M1096 990h0M1068 954h0M1121 993h0M1077 987h0M1065 974h0M1072 986h0M1053 984h0M1109 954h0M1079 989h0M1078 986h0M1108 988h0M1120 968h0M1108 987h0M1063 971h0M1124 966h0M1065 971h0M1120 966h0M1079 989h0M1110 957h0M1085 993h0M1098 988h0M1072 992h0M1066 983h0M1078 948h0M1101 992h0M1086 990h0M1107 947h0M1099 948h0M1062 984h0M1064 962h0M1104 950h0M1114 976h0M1117 977h0M1104 944h0M1087 948h0M1122 961h0M1085 943h0M1068 980h0M1091 945h0M1104 995h0M1112 980h0M1096 949h0M1097 947h0M1117 976h0M1112 981h0M1083 942h0M1109 990h0M1101 991h0M1082 988h0M1107 954h0M1059 956h0M1118 977h0M1093 947h0M1118 971h0M1102 988h0M1106 951h0M1111 980h0M1088 990h0M1114 959h0M1076 992h0M1120 985h0M1086 946h0M1114 972h0M1071 983h0M1086 992h0M1061 972h0M1073 983h0M1076 952h0M1121 974h0M1061 973h0M1099 947h0M1065 976h0M1067 973h0M1114 976h0M1088 947h0M1116 973h0M1058 973h0M1118 978h0M1095 1003h0M1069 943h0M1128 980h0M1062 963h0M1061 964h0M1128 968h0M1061 983h0M1075 936h0M1124 950h0M1066 990h0M1080 999h0M1071 1000h0M1123 973h0M1056 971h0M1060 984h0M1127 978h0M1096 1001h0M1067 991h0M1107 947h0M1128 963h0M1078 939h0M1126 959h0M1102 993h0M1072 939h0M1083 940h0M1057 977h0M1090 1000h0M1118 946h0M1062 992h0M1056 983h0M1126 962h0M1065 993h0M1057 985h0M1060 946h0M1072 942h0M1098 997h0M1055 957h0M1071 998h0M1111 943h0M1127 976h0M1112 986h0M1098 943h0M1120 973h0M1065 944h0M1093 934h0M1088 999h0M1055 956h0M1115 988h0M1062 960h0M1082 994h0M1095 942h0M1090 940h0M1118 977h0M1107 990h0M1056 976h0M1117 979h0M1118 961h0M1075 997h0M1080 995h0M1132 996h0M1067 938h0M1189 959h0M1137 976h0M1120 945h0M1033 1037h0M986 916h0M1104 940h0M1031 893h0M1013 965h0M1160 858h0M1042 1026h0M1056 1016h0M940 939h0M1086 1025h0M1023 914h0M1054 942h0M1127 986h0M1176 951h0M986 1042h0M1131 841h0M982 893h0M1125 1005h0M1117 954h0M1038 951h0M1137 848h0M1157 973h0M1089 927h0M1080 1062h0M1022 955h0M1115 941h0M1124 921h0M1122 1018h0M1034 972h0M1128 992h0M1030 908h0M1186 975h0M1085 891h0M1106 999h0M1072 870h0M1026 1068h0M1160 978h0M1012 969h0M1027 1000h0M1124 1016h0M1060 1019h0M1121 998h0M1014 1022h0M1143 992h0M1076 995h0M1078 1026h0M1136 1065h0M1139 877h0M980 971h0M1198 977h0M1018 1025h0M1185 942h0M1055 934h0M1096 932h0M1110 945h0M1002 966h0M1068 1021h0M1085 1005h0M992 993h0M1101 1009h0M1007 1034h0M1194 1030h0M1053 948h0M1037 851h0M1141 929h0M1184 892h0M1106 936h0M1153 1006h0M995 972h0M1119 1003h0M1069 926h0M1011 1001h0M1164 1026h0M1042 937h0M1054 969h0M1157 931h0M1113 888h0M1064 931h0M1194 954h0M1092 897h0M1112 1028h0M1219 956h0M1083 1000h0M1110 1010h0M1042 969h0M1009 894h0M1056 1000h0M997 872h0M1194 1005h0M1119 925h0M1091 930h0M1045 976h0M1087 1008h0M1107 879h0M1131 995h0M1137 863h0M1205 1007h0M1174 929h0M1122 1096h0M1130 845h0M1080 1085h0M1087 1035h0M1147 955h0M1019 910h0M1177 1002h0M1081 938h0M1202 1028h0M1169 937h0M990 1010h0M1211 885h0M1013 879h0M1201 998h0M1014 886h0M1024 1070h0M1067 1011h0M1094 1060h0M1125 985h0M1109 1009h0M1125 997h0M1001 917h0M938 942h0M1103 1069h0M965 966h0M1151 930h0M1097 875h0M1131 939h0M1077 843h0M1050 979h0M1144 1062h0M1016 995h0M1147 1081h0M1120 1017h0M992 950h0M1050 975h0M1206 1032h0M971 979h0M1125 956h0M1148 941h0M1063 1003h0M1187 1025h0M1239 1010h0M973 1049h0M953 978h0M1210 905h0M1125 965h0M1133 1083h0M974 994h0M1039 984h0M1060 980h0M1145 1077h0M1095 933h0M1007 927h0M1099 1043h0M1160 850h0M1143 1066h0M1201 965h0M1022 1073h0M1051 923h0M1015 975h0M1098 1030h0M1016 1006h0M1071 1026h0M1218 1044h0M1097 888h0M1087 1095h0M1026 873h0M1114 845h0M1140 1006h0M1120 845h0M1153 1085h0M1066 1064h0M1184 938h0M1088 1018h0M1065 910h0M1118 948h0M1083 905h0M1115 907h0M1234 992h0M1210 965h0M1070 1045h0M1179 1032h0M1014 1065h0M1184 1049h0M1224 950h0M1118 1011h0M1106 905h0M1100 1087h0M1100 936h0M954 949h0M1073 1097h0M1003 910h0M1061 1025h0M1104 1083h0M1211 956h0M1041 921h0M1069 1032h0M1022 1014h0M1103 935h0M1080 1030h0M1060 889h0M1062 887h0M1051 934h0M1175 1067h0M1133 966h0M1048 922h0M1028 877h0M1056 1066h0M1045 956h0M1120 901h0M1123 957h0M1043 1096h0M1091 858h0M984 944h0M1180 957h0M1074 1028h0M1009 1017h0M972 900h0M1187 949h0M993 980h0M966 988h0M1043 861h0M1053 904h0M1176 867h0M1078 999h0M964 923h0M1179 962h0M1108 1014h0M1071 922h0M1128 928h0M1071 1003h0M1059 990h0M1154 908h0M1170 920h0M1077 1078h0M1189 1042h0M985 1059h0M1130 973h0M1150 908h0M1018 1056h0M987 1056h0M1175 1050h0M1129 960h0M1234 959h0M1133 976h0M997 921h0M1154 852h0M1241 955h0M1229 972h0M1114 947h0M1189 979h0M1029 1023h0M972 1028h0M1040 859h0M1055 944h0M1048 965h0M1119 1085h0M970 938h0M973 913h0M1017 995h0M999 989h0M1038 1007h0M988 1023h0M1073 845h0M1139 981h0M1118 893h0M1018 1008h0M1096 1049h0M1016 1035h0M1108 1004h0M947 955h0M1051 993h0M1135 974h0M1090 917h0M1056 922h0M1040 1067h0M1077 905h0M1194 988h0M1006 861h0M1009 946h0M1006 964h0M1135 1080h0M1057 974h0M1062 1055h0M1126 1017h0M1155 1072h0M1081 934h0M1159 890h0M1066 939h0M1041 931h0M1066 920h0M1110 899h0M1069 1059h0M1112 999h0M1019 880h0M1148 997h0M1047 850h0M1065 845h0M1148 976h0M1021 1052h0M1220 971h0M1056 913h0M1057 950h0M1137 897h0M1027 915h0M1055 866h0M1176 1037h0M1123 929h0M1014 1024h0M1143 919h0M1045 914h0M1052 973h0M1164 1068h0M1120 999h0M986 925h0M1146 1078h0M978 1035h0M1029 969h0M1049 977h0M1139 889h0M1002 974h0M991 910h0M1185 1052h0M1088 999h0M1146 973h0M938 989h0M1107 1030h0M1044 954h0M1109 864h0M991 997h0M1037 941h0M1114 947h0M1159 1085h0M1022 1086h0M1104 1066h0M1165 1067h0M992 1062h0M1106 933h0M1116 901h0M1169 956h0M1187 998h0M1104 839h0M1087 1096h0M1127 965h0M1121 1036h0M1033 1089h0M1051 945h0M1127 956h0M1072 914h0M1127 985h0M1212 891h0M1091 916h0M1201 901h0M1094 901h0M1057 909h0M1216 1025h0M1040 862h0M1000 899h0M1071 997h0M993 1051h0M958 969h0M1084 904h0M1080 1010h0M1035 1016h0M988 906h0M963 898h0M1197 957h0M983 987h0M1061 916h0M1143 919h0M1209 1015h0M952 932h0M1057 1036h0M1024 1050h0M1003 913h0M985 964h0M1155 935h0M1026 868h0M1147 983h0M1099 1047h0M1054 1097h0M1065 861h0M1185 896h0M1071 922h0M1037 947h0M1010 934h0M1112 946h0M1025 1067h0M1158 894h0M1017 941h0M1067 1033h0M1165 1061h0M1226 923h0M1060 938h0M961 1050h0M1094 939h0M1153 921h0M1047 1048h0M1201 934h0M1116 1094h0M1031 910h0M1037 910h0M1201 928h0M1157 1011h0M1114 1008h0M1053 955h0M1001 1067h0M1091 1066h0M1020 986h0M1072 1010h0M1229 984h0M1086 933h0M1166 1053h0M1041 997h0M1026 979h0M1027 961h0M1043 950h0M1162 949h0M1060 1009h0M1104 1055h0M1155 936h0M975 954h0M1156 890h0M1170 978h0M1024 1003h0M1089 935h0M1204 959h0M1004 1017h0M1108 1080h0M1128 936h0M1074 1034h0M1123 1001h0M1127 983h0M1057 920h0M1146 915h0M1003 875h0M1138 907h0M1186 956h0M1171 990h0M1016 995h0M1170 900h0M1017 900h0M1070 1078h0M1119 999h0M981 967h0M1047 904h0M1130 1065h0M1107 934h0M1027 912h0M1070 933h0M1114 845h0M1199 892h0M1139 1078h0M1132 980h0M1014 1071h0M1132 987h0M1064 1071h0M1127 974h0M1098 1024h0M1219 897h0M1151 940h0M1141 990h0M973 989h0M1049 940h0M1090 1010h0M1132 864h0M1061 983h0M1087 909h0M1210 991h0M1179 1059h0M1132 941h0M1137 976h0M1138 1090h0M1015 974h0M1051 927h0M1032 879h0M1047 1038h0M1166 915h0M1002 924h0M1054 1094h0M1127 969h0M966 1040h0M1021 981h0M1197 907h0M1121 957h0M1144 965h0M1209 1009h0M1025 1072h0M1121 866h0M1048 925h0M1102 1022h0M1142 1004h0M1184 1000h0M1046 999h0M1053 1084h0M987 900h0M993 986h0M1179 916h0M1123 1057h0M1014 907h0M1198 1062h0M1156 1023h0M1020 1006h0M986 939h0M1013 865h0M1128 988h0M1014 867h0M1111 862h0M1052 971h0M1108 1014h0M1127 946h0M1129 972h0M1075 888h0M1103 1013h0M1057 945h0M1074 935h0M1134 969h0M1028 961h0M982 910h0M1001 892h0M1058 1020h0M1114 872h0M1016 1032h0M1222 927h0M1052 963h0M1070 898h0M1183 1070h0M1158 974h0M1128 970h0M1092 880h0M1142 1077h0M960 903h0M1066 918h0M1105 1019h0M1183 981h0M1179 956h0M1054 962h0M1072 1003h0M1056 1041h0M980 1054h0M1113 950h0M1071 889h0M1052 999h0M1174 903h0M1089 884h0M1174 999h0M1070 879h0M1191 977h0M1054 999h0M1015 864h0M1151 1030h0M1196 983h0M1197 1052h0M1129 969h0M1104 1048h0M1024 1084h0M1102 848h0M1151 847h0M976 973h0M1142 1004h0M965 959h0M1034 1042h0M1162 1043h0M1197 872h0M1051 979h0M1047 1057h0M1188 952h0M1111 874h0M1056 977h0M1035 967h0M1050 973h0M1074 1004h0M1190 951h0M1164 902h0M1113 1042h0M1198 956h0M1149 942h0M1164 889h0M1020 880h0M1084 914h0M1153 945h0M1132 1040h0M1171 1037h0M1029 1006h0M1029 860h0M973 933h0M1029 1079h0M1078 1100h0M1190 964h0M1184 1064h0M1115 1006h0M1149 964h0M1160 1045h0M1136 964h0M1063 987h0M1007 1027h0M1119 910h0M1141 922h0M1003 921h0M1043 974h0M1064 1017h0M1192 933h0M1142 933h0M1193 1033h0M1239 958h0M1085 914h0M1073 913h0M1228 916h0M1017 872h0M1197 1007h0M1036 989h0M1017 1052h0M1133 990h0M1123 991h0M1083 930h0M1126 1015h0M1223 907h0M1084 1033h0M1089 1059h0M1012 992h0M1231 1026h0M977 969h0M1046 965h0M984 1002h0M1128 1014h0M1157 1013h0M1081 1095h0M1145 864h0M1122 1070h0M1188 970h0M1098 847h0M1033 1072h0M1105 929h0M1039 927h0M1133 1086h0M1031 856h0M1085 905h0M1066 936h0M1159 1086h0M1005 1070h0M1000 969h0M1194 1020h0M1006 866h0M1074 908h0M1041 1076h0M1033 1054h0M986 903h0M1086 1089h0M1021 1090h0M1068 1035h0M1043 990h0M1182 887h0M1041 986h0M1174 1007h0M1000 886h0M1206 1028h0M1234 990h0M1077 926h0M1197 959h0M1162 852h0M1066 901h0M1193 977h0M1193 1042h0M1049 919h0M1119 837h0M1118 855h0M1150 890h0M1078 1003h0M1142 970h0M1064 871h0M1102 907h0M1137 957h0M1095 883h0M1174 884h0M1168 1025h0M987 973h0M1073 912h0M1124 895h0M1107 869h0M1102 924h0M1122 990h0M1107 1000h0M1193 907h0M1019 967h0M959 914h0M1113 840h0M1177 1043h0M1145 1064h0M1166 985h0M988 1007h0M1163 879h0M1056 1026h0M1180 1061h0M1144 880h0M1186 957h0M1058 922h0M1082 912h0M1059 1017h0M1223 970h0M1078 917h0M1063 1073h0M1131 925h0M988 944h0M1172 990h0M1036 1087h0M1114 951h0M1132 905h0M1095 928h0M1114 848h0M1100 849h0M1161 1054h0M982 1034h0M1228 909h0M1075 841h0M1149 1073h0M1030 857h0M1216 905h0M1181 1031h0M1191 1004h0M1173 1013h0M1100 843h0M1029 1065h0M981 963h0M1169 1018h0M1102 1097h0M1018 980h0M1199 900h0M1116 952h0M1237 925h0M1088 1019h0M1066 1038h0M1040 950h0M1051 957h0M1069 1003h0M1194 922h0M1137 1062h0M972 975h0M1187 947h0M940 956h0M1060 925h0M1017 942h0M1057 848h0M1155 948h0M1071 1057h0M1107 1014h0M1185 1041h0M1125 965h0M1146 908h0M1080 1007h0M1165 1035h0M1031 912h0M1157 1053h0M1031 886h0M1002 871h0M1139 1009h0M952 941h0M1168 905h0M980 959h0M1100 900h0M983 926h0M1147 890h0M1090 1047h0M1194 1057h0M1108 922h0M1030 872h0M953 914h0M967 936h0M1131 1019h0M1123 1027h0M1062 1000h0M953 926h0M1187 976h0M1110 903h0M1012 952h0M1062 884h0M1059 990h0M1133 1020h0M1106 1004h0M1140 874h0M1055 1013h0M1089 915h0M1124 912h0M1160 871h0M1120 855h0M1119 1005h0M1113 1037h0M1015 883h0M1120 899h0M1061 927h0M1140 974h0M1171 1060h0M1070 917h0M1106 871h0M1054 974h0M1169 929h0M1045 844h0M977 890h0M1140 980h0M1146 942h0M1209 953h0M1171 1052h0M1116 998h0M1082 1036h0M1062 1036h0M1148 924h0M1091 934h0M967 1036h0M1162 946h0M1129 1000h0M1045 982h0M1056 879h0M1036 963h0M1100 880h0M1069 936h0M1146 906h0M1234 910h0M1210 1003h0M966 951h0M1041 1089h0M1088 861h0M999 882h0M951 1031h0M1224 994h0M1104 1004h0M1121 1006h0M1185 970h0M1111 941h0M1056 1058h0M1136 963h0M1012 928h0M1097 936h0M1106 1031h0M1202 992h0M1069 1102h0M1123 959h0M1140 996h0M1070 991h0M1121 893h0M1159 944h0M1044 856h0M1011 929h0M1206 981h0M1094 931h0M1133 1003h0M1014 906h0M1172 862h0M1185 974h0M1117 1051h0M1065 919h0M1235 913h0M1140 932h0M1215 954h0M1070 921h0M1014 935h0M1186 906h0M1080 906h0M1074 917h0M1072 896h0M1049 978h0M1035 937h0M1145 893h0M1185 882h0M1060 995h0M1146 900h0M1190 880h0M1048 903h0M974 966h0M1121 862h0M1080 844h0M1100 1001h0M1138 1076h0M982 914h0M1099 939h0M1029 1025h0M1031 945h0M1121 926h0M1191 1052h0M1131 1033h0M1134 1026h0M1047 934h0M1126 979h0M1123 929h0M1206 986h0M1148 986h0M1186 978h0M1059 945h0M977 1004h0M1031 912h0M1133 1084h0M1043 850h0M1195 984h0M1088 935h0M1168 1069h0M1123 959h0M1034 932h0M1151 997h0M1105 942h0M1040 1028h0M1147 971h0M1135 1013h0M993 903h0M1089 928h0M1035 915h0M1121 901h0M1120 1048h0M1129 975h0M1173 1023h0M1096 1066h0M1183 964h0M1221 1004h0M1053 959h0M1130 954h0M1109 934h0M1060 1056h0M1191 1061h0M955 990h0M1049 936h0M1019 1027h0M1029 1013h0M1073 933h0M1067 920h0M1166 1033h0M1035 956h0M1096 1009h0M1053 985h0M991 893h0M1005 949h0M1093 932h0M1065 931h0M1058 977h0M1186 917h0M1108 1030h0M1151 1072h0M1125 1040h0M1108 922h0M1062 983h0M1192 935h0M1091 878h0M1163 1016h0M1105 921h0M1153 915h0M1118 1075h0M1139 1068h0M1193 883h0M1086 1103h0M1066 1002h0M1060 993h0M1099 888h0M968 1019h0M970 949h0M997 950h0M990 935h0M1051 1016h0M1053 1037h0M1063 1016h0M1052 983h0M1096 1002h0M1203 930h0M1119 995h0M1022 914h0M1124 900h0M1093 857h0M1121 922h0M1042 855h0M1125 941h0M1096 847h0M1091 898h0M1170 865h0M1172 984h0M1160 858h0M1099 849h0M1079 912h0M1106 876h0M1186 862h0M1191 895h0M1099 1018h0M1005 1071h0M1221 1026h0M990 1075h0M1238 969h0M1217 1047h0M1140 838h0" stroke="#4a1a74" stroke-opacity="0.5" stroke-width="3.0" stroke-linecap="round" fill="none"/><path d="M1081 984h0M1080 950h0M1068 970h0M1091 964h0M1103 979h0M1093 980h0M1079 951h0M1082 953h0M1070 962h0M1089 983h0M1107 960h0M1077 977h0M1106 954h0M1114 971h0M1094 960h0M1108 955h0M1084 953h0M1088 972h0M1095 952h0M1089 949h0M1106 983h0M1087 981h0M1069 960h0M1082 985h0M1097 952h0M1098 976h0M1084 969h0M1091 990h0M1089 965h0M1100 965h0M1110 979h0M1101 969h0M1092 951h0M1103 955h0M1073 954h0M1075 974h0M1100 979h0M1107 983h0M1110 963h0M1084 984h0M1098 987h0M1111 979h0M1068 975h0M1081 986h0M1091 959h0M1108 962h0M1098 964h0M1089 978h0M1094 958h0M1105 979h0M1087 982h0M1115 968h0M1087 989h0M1084 986h0M1101 968h0M1100 989h0M1107 977h0M1099 954h0M1068 959h0M1077 959h0M1072 966h0M1087 952h0M1094 985h0M1096 965h0M1092 987h0M1072 961h0M1111 975h0M1092 956h0M1082 957h0M1097 954h0M1109 957h0M1084 983h0M1109 963h0M1071 977h0M1109 959h0M1082 961h0M1077 979h0M1091 966h0M1098 975h0M1100 985h0M1105 954h0M1094 966h0M1085 981h0M1089 963h0M1091 961h0M1092 959h0M1096 983h0M1093 989h0M1112 964h0M1095 978h0M1079 963h0M1073 974h0M1086 964h0M1110 975h0M1095 959h0M1085 990h0M1091 973h0M1083 963h0M1090 962h0M1072 973h0M1101 972h0M1101 987h0M1098 964h0M1102 978h0M1106 960h0M1082 968h0M1106 953h0M1074 975h0M1081 952h0M1107 956h0M1082 974h0M1086 962h0M1108 979h0M1074 984h0M1108 970h0M1071 970h0M1106 955h0M1085 975h0M1092 980h0M1087 978h0M1106 978h0M1097 978h0M1087 982h0M1109 964h0M1073 985h0M1102 968h0M1080 962h0M1107 952h0M1092 969h0M1094 974h0M1084 949h0M1079 976h0M1086 970h0M1098 949h0M1101 957h0M1106 970h0M1092 976h0M1070 959h0M1091 964h0M1080 977h0M1105 955h0M1072 981h0M1076 964h0M1071 977h0M1096 989h0M1092 967h0M1083 977h0M1094 985h0M1074 961h0M1090 955h0M1068 969h0M1072 973h0M1078 964h0M1077 970h0M1096 965h0M1081 950h0M1100 973h0M1106 959h0M1107 978h0M1070 958h0M1092 971h0M1087 978h0M1103 962h0M1091 988h0M1087 952h0M1076 962h0M1093 986h0M1077 979h0M1088 947h0M1081 987h0M1087 958h0M1090 948h0M1088 977h0M1076 963h0M1072 966h0M1092 961h0M1077 951h0M1100 986h0M1086 966h0M1073 973h0M1090 966h0M1094 960h0M1103 984h0M1076 976h0M1080 976h0M1100 957h0M1078 986h0M1098 948h0M1106 980h0M1104 954h0M1112 968h0M1079 978h0M1075 969h0M1097 949h0M1080 979h0M1078 976h0M1077 984h0M1101 976h0M1090 950h0M1072 976h0M1069 974h0M1093 989h0M1097 950h0M1107 964h0M1077 964h0M1068 975h0M1111 982h0M1110 967h0M1112 971h0M1070 970h0M1097 968h0M1084 969h0M1071 974h0M1096 981h0M1095 956h0M1092 947h0M1102 985h0M1079 972h0M1099 960h0M1079 957h0M1085 950h0M1099 968h0M1077 969h0M1092 963h0M1093 958h0M1086 971h0M1087 965h0M1103 950h0M1075 955h0M1084 954h0M1077 961h0M1096 981h0M1104 959h0M1075 974h0M1095 969h0M1096 990h0M1110 980h0M1093 987h0M1089 947h0M1067 962h0M1093 975h0M1083 986h0M1111 975h0M1111 977h0M1076 972h0M1089 965h0M1076 972h0M1092 952h0M1078 974h0M1108 971h0M1079 955h0M1089 952h0M1111 961h0M1082 984h0M1071 956h0M1099 971h0M1100 982h0M1104 975h0M1100 965h0M1079 965h0M1078 959h0M1098 983h0M1102 967h0M1082 977h0M1093 971h0M1080 961h0M1073 967h0M1110 975h0M1077 955h0M1093 975h0M1109 959h0M1090 985h0M1104 985h0M1079 986h0M1091 971h0M1088 966h0M1089 961h0M1084 974h0M1106 964h0M1080 958h0M1078 957h0M1072 976h0M1080 952h0M1071 982h0M1080 954h0M1078 984h0M1091 959h0M1096 979h0M1101 986h0M1081 949h0M1083 949h0M1109 961h0M1100 969h0M1079 965h0M1072 979h0M1090 982h0M1088 975h0M1106 985h0M1082 974h0M1086 982h0M1091 978h0M1109 971h0M1083 958h0M1088 966h0M1106 962h0M1083 948h0M1111 978h0M1083 972h0M1079 969h0M1086 951h0M1085 964h0M1097 973h0M1098 988h0M1091 955h0M1087 990h0M1084 960h0M1104 978h0M1105 967h0M1073 973h0M1115 973h0M1070 978h0M1097 951h0M1091 986h0M1069 961h0M1091 958h0M1069 966h0M1093 978h0M1094 948h0M1065 967h0M1075 956h0M1101 975h0M1080 980h0M1069 978h0M1089 988h0M1101 987h0M1100 985h0M1103 983h0M1091 960h0M1071 960h0M1087 977h0M1112 972h0M1100 959h0M1109 980h0M1070 970h0M1101 960h0M1087 959h0M1087 955h0M1085 952h0M1097 957h0M1112 963h0M1077 953h0M1107 960h0M1073 959h0M1109 964h0M1092 962h0M1110 966h0M1102 951h0M1070 965h0M1095 986h0M1089 989h0M1101 987h0M1083 977h0M1112 957h0M1094 980h0M1102 950h0M1075 971h0M1121 967h0M1070 954h0M1102 943h0M1067 951h0M1067 954h0M1116 975h0M1069 985h0M1079 997h0M1074 990h0M1110 950h0M1105 947h0M1071 981h0M1074 950h0M1078 991h0M1068 977h0M1064 988h0M1067 970h0M1102 948h0M1098 943h0M1078 950h0M1111 982h0M1091 948h0M1063 980h0M1088 948h0M1068 990h0M1112 975h0M1114 948h0M1074 989h0M1094 993h0M1114 982h0M1114 971h0M1066 961h0M1079 990h0M1078 991h0M1067 953h0M1068 958h0M1081 990h0M1104 998h0M1074 948h0M1096 992h0M1116 972h0M1076 990h0M1074 988h0M1071 956h0M1110 952h0M1071 984h0M1064 973h0M1065 965h0M1090 946h0M1083 998h0M1103 947h0M1081 989h0M1112 983h0M1107 986h0M1067 970h0M1121 970h0M1062 970h0M1074 986h0M1120 969h0M1095 998h0M1119 965h0M1108 954h0M1098 947h0M1101 991h0M1097 933h0M1080 949h0M1070 954h0M1069 991h0M1082 988h0M1116 967h0M1068 986h0M1092 943h0M1066 984h0M1120 973h0M1080 989h0M1091 946h0M1114 963h0M1068 978h0M1122 962h0M1082 991h0M1063 972h0M1065 972h0M1066 971h0M1061 967h0M1086 948h0M1109 948h0M1101 992h0M1064 978h0M1063 975h0M1104 943h0M1059 980h0M1095 945h0M1072 953h0M1062 978h0M1123 981h0M1059 981h0M1074 945h0M1118 982h0M1070 945h0M1120 979h0M1062 978h0M1128 960h0M1085 1004h0M1099 936h0M1072 997h0M1075 941h0M1072 942h0M1121 973h0M1073 999h0M1098 1000h0M1079 997h0M1120 978h0M1085 939h0M1057 970h0M1083 1002h0M1120 964h0M1055 977h0M1060 956h0M1061 949h0M1108 942h0M1120 950h0M1075 940h0M1054 968h0M1107 946h0M1057 984h0M1114 951h0M1124 978h0M1060 951h0M1067 951h0M1101 1003h0M1105 937h0M1066 992h0M1117 958h0M1053 981h0M1091 936h0M1109 996h0M1121 963h0M1090 934h0M1057 961h0M1069 998h0M1055 984h0M1062 985h0M1123 959h0M1078 942h0M1066 985h0M1062 962h0M1130 962h0M1101 994h0M1079 941h0M1205 961h0M1079 912h0M1229 1017h0M1181 1041h0M1069 934h0M1126 1073h0M1045 943h0M1061 1045h0M1138 1088h0M1170 947h0M1109 938h0M1091 924h0M1154 893h0M1113 914h0M974 885h0M972 956h0M1052 962h0M1052 1059h0M1148 965h0M1089 1061h0M1049 928h0M1106 918h0M1126 949h0M1114 942h0M1044 965h0M1132 952h0M1163 961h0M1215 1019h0M1181 869h0M1023 933h0M1049 994h0M1171 964h0M1055 872h0M1003 1001h0M1059 986h0M1125 912h0M1085 1085h0M965 942h0M1124 918h0M1103 1028h0M1156 881h0M1066 855h0M1043 955h0M1113 1019h0M1165 879h0M971 965h0M1026 983h0M1015 1081h0M1153 912h0M1070 926h0M1007 978h0M1107 942h0M1160 1069h0M988 952h0M1097 938h0M965 927h0M1129 902h0M1119 921h0M1009 952h0M1013 1051h0M1064 931h0M1061 929h0M965 973h0M1087 935h0M1008 962h0M1164 960h0M1108 947h0M1126 921h0M1041 1016h0M1151 1066h0M1043 855h0M1119 993h0M1049 1036h0M1112 899h0M1054 967h0M1185 1015h0M1076 840h0M1091 921h0M1075 992h0M1032 1093h0M974 906h0M1071 1024h0M1126 997h0M1034 1020h0M981 944h0M1183 1062h0M1182 943h0M1063 1026h0M998 878h0M1010 1019h0M1020 1066h0M1132 1008h0M1193 1039h0M1052 899h0M1066 922h0M1097 932h0M1121 873h0M1188 897h0M1135 1076h0M1028 964h0M954 939h0M1079 919h0M1016 923h0M1078 880h0M997 1037h0M1028 983h0M1080 1026h0M1180 1019h0M1217 908h0M1218 961h0M1008 994h0M1150 976h0M1052 967h0M1030 850h0M1047 965h0M1080 903h0M1170 934h0M1042 1016h0M1143 880h0M1118 1019h0M1045 982h0M1062 942h0M1117 928h0M1002 1020h0M1035 951h0M1049 938h0M1058 919h0M1074 936h0M1136 971h0M1187 953h0M1115 1069h0M1216 1002h0M1174 999h0M1230 927h0M941 943h0M1061 945h0M1050 960h0M1051 855h0M1205 1001h0M1109 1030h0M1198 992h0M993 923h0M1161 902h0M1048 1048h0M999 906h0M1021 1008h0M1064 1000h0M1164 1083h0M1191 877h0M1101 1056h0M1042 920h0M1066 997h0M1128 909h0M1013 872h0M1141 915h0M1056 873h0M1147 987h0M1219 1012h0M1096 930h0M994 1007h0M1083 1031h0M1067 938h0M1103 1040h0M981 1019h0M1026 945h0M1123 1004h0M1104 1001h0M1155 1003h0M1195 988h0M1014 919h0M1055 843h0M1095 1076h0M1022 1013h0M1109 940h0M1100 1002h0M1035 962h0M1086 999h0M1075 1034h0M1138 1074h0M1145 854h0M969 1002h0M1230 993h0M1064 1047h0M1037 933h0M1172 860h0M1184 1056h0M1049 890h0M1061 840h0M1039 930h0M1181 1057h0M1040 979h0M1069 920h0M1021 916h0M1063 985h0M1106 840h0M1138 928h0M1056 938h0M1038 1016h0M1073 1047h0M1055 929h0M1132 953h0M1145 930h0M1165 866h0M1157 1085h0M1054 995h0M1010 993h0M1117 953h0M1142 1012h0M1038 996h0M1110 1028h0M1225 932h0M997 912h0M1043 928h0M1112 906h0M1112 1069h0M1037 1010h0M1140 1085h0M992 973h0M1199 976h0M1020 980h0M988 988h0M1080 922h0M1176 1019h0M1023 1088h0M976 926h0M1187 967h0M1135 919h0M1000 977h0M1068 939h0M991 1002h0M1039 955h0M1037 1025h0M1037 957h0M992 1057h0M1127 1002h0M1058 857h0M1132 902h0M1001 1064h0M1161 879h0M1093 877h0M1128 980h0M975 1032h0M980 1043h0M1072 907h0M950 1010h0M1185 985h0M1011 1027h0M1008 866h0M1072 883h0M1115 1027h0M1018 969h0M1191 974h0M1077 1040h0M1076 845h0M1020 863h0M1028 982h0M1149 935h0M1138 899h0M1146 1019h0M1089 1038h0M1202 886h0M1126 949h0M1059 931h0M1038 877h0M1133 1089h0M1030 885h0M1164 974h0M1080 905h0M1125 926h0M1134 1084h0M1053 946h0M1170 931h0M1218 946h0M1066 842h0M975 947h0M1098 1073h0M1117 897h0M948 979h0M1103 884h0M1139 1000h0M1031 992h0M1041 964h0M1018 966h0M1125 967h0M1079 933h0M1191 1034h0M1104 941h0M1000 874h0M1053 961h0M1162 858h0M1197 1065h0M975 901h0M1183 1021h0M1105 911h0M1214 974h0M1022 959h0M1065 935h0M1074 938h0M1203 992h0M1037 855h0M1087 925h0M1022 856h0M1016 934h0M1096 925h0M1195 957h0M1014 1022h0M1021 1035h0M1080 1003h0M1060 929h0M1116 1027h0M1080 1020h0M1129 924h0M1060 885h0M1176 894h0M1186 924h0M1092 928h0M1185 976h0M1176 1043h0M1046 951h0M1157 851h0M1148 949h0M1013 1019h0M1026 932h0M1022 968h0M1145 1090h0M1058 941h0M1119 939h0M1081 902h0M1225 962h0M1192 984h0M1055 977h0M1136 981h0M1081 1040h0M1053 926h0M1109 1079h0M1053 961h0M1150 995h0M1121 1005h0M1089 898h0M1104 1021h0M1089 1038h0M1046 973h0M1166 1060h0M985 939h0M1182 952h0M1131 975h0M1152 1011h0M1122 1089h0M984 964h0M1131 955h0M1115 1093h0M1109 944h0M1184 1052h0M1007 1064h0M992 1030h0M989 960h0M1029 974h0M1178 957h0M1084 1030h0M1038 1038h0M1228 976h0M1110 999h0M1139 1087h0M1149 1011h0M1106 1026h0M1152 937h0M1021 860h0M1056 938h0M1065 986h0M1039 989h0M1198 1027h0M1164 853h0M1026 1049h0M1061 1067h0M1070 997h0M1081 926h0M1057 1047h0M1155 1055h0M1030 1080h0M1084 1023h0M1048 959h0M1077 1075h0M1084 907h0M1154 863h0M1114 1013h0M1132 975h0M1191 897h0M1138 1063h0M954 921h0M1007 1016h0M994 913h0M1053 909h0M1031 937h0M1010 969h0M1142 1077h0M1076 1011h0M1053 916h0M1218 912h0M1032 1033h0M1214 902h0M1132 969h0M1135 976h0M1034 1076h0M1064 1034h0M1121 1005h0M1061 1024h0M1027 1089h0M1070 851h0M1153 901h0M994 890h0M1085 934h0M1188 899h0M1184 1005h0M1121 998h0M1056 1034h0M1096 1007h0M1205 1037h0M1074 919h0M1016 1035h0M1141 851h0M1011 976h0M1116 888h0M1066 1030h0M1054 964h0M1150 967h0M1177 909h0M976 955h0M1147 1055h0M1029 869h0M1182 1047h0M1043 1005h0M1220 1029h0M1111 841h0M1166 958h0M986 1040h0M1191 1043h0M1100 853h0M1015 893h0M1173 930h0M1163 1033h0M1128 958h0M985 967h0M1010 870h0M1070 907h0M1065 993h0M999 980h0M1120 1097h0M1057 1024h0M1079 899h0M1111 1007h0M1130 978h0M1069 988h0M1016 882h0M1090 1035h0M1082 937h0M1039 949h0M1186 914h0M1124 1008h0M1070 1092h0M1198 968h0M1028 945h0M1087 928h0M1188 965h0M1117 874h0M1054 1007h0M990 1006h0M1168 937h0M945 978h0M1129 925h0M1063 930h0M1016 881h0M1221 977h0M1185 1035h0M1045 1073h0M996 1050h0M1073 919h0M1097 861h0M1149 941h0M1024 1031h0M1085 923h0M1119 957h0M1059 978h0M1163 904h0M1129 977h0M1109 1075h0M1078 923h0M1084 1058h0M1064 918h0M974 1035h0M1052 974h0M1145 1027h0M1166 912h0M1205 923h0M1114 1006h0M956 999h0M1049 1096h0M1070 1089h0M1029 946h0M1027 890h0M1082 913h0M1134 977h0M1144 1021h0M1044 1012h0M1176 928h0M991 903h0M1056 941h0M1040 1085h0M1030 943h0M1180 991h0M1078 912h0M1055 946h0M1030 1057h0M1001 909h0M1112 843h0M1196 932h0M1052 1017h0M1028 884h0M1094 1019h0M1058 977h0M981 962h0M1089 902h0M1113 1080h0M1071 923h0M952 962h0M1047 925h0M1144 1017h0M1149 1047h0M1120 874h0M1133 975h0M1132 965h0M981 1061h0M1179 940h0M954 954h0M1073 859h0M1138 965h0M1195 878h0M1173 929h0M1140 982h0M1071 1013h0M1156 900h0M1220 1006h0M1056 944h0M1206 999h0M1129 928h0M1069 900h0M1117 902h0M1027 861h0M1068 889h0M1193 993h0M1146 1070h0M1067 1010h0M1098 1099h0M1096 915h0M990 948h0M983 970h0M1199 991h0M1038 964h0M1087 897h0M1180 915h0M967 1041h0M1188 954h0M991 889h0M1195 971h0M1072 929h0M1042 1063h0M1112 1006h0M1159 911h0M970 933h0M1137 904h0M1127 1060h0M1045 1092h0M1042 894h0M1132 939h0M1084 909h0M1136 911h0M1119 999h0M1109 935h0M1057 853h0M1096 924h0M1010 1012h0M1066 942h0M984 1022h0M1113 1090h0M951 995h0M1185 950h0M1199 987h0M1068 988h0M1108 1007h0M1059 978h0M980 1019h0M1172 871h0M1096 896h0M993 891h0M1122 998h0M1074 996h0M1008 999h0M1106 932h0M1035 1005h0M976 936h0M1143 1041h0M975 936h0M1069 989h0M1025 949h0M1098 1022h0M1107 852h0M1120 1020h0M1199 1019h0M1060 942h0M1057 1074h0M1129 955h0M1062 1007h0M1044 1068h0M1114 1020h0M1189 997h0M1137 941h0M1061 917h0M1154 868h0M1115 996h0M1041 1068h0M1020 920h0M1059 847h0M1100 1011h0M1055 977h0M1017 1072h0M1013 926h0M1135 1060h0M1135 908h0M1165 936h0M1107 1015h0M1077 1021h0M1003 901h0M1089 1000h0M1143 960h0M1081 1081h0M1062 1071h0M1127 910h0M1036 856h0M1012 901h0M1055 1035h0M1053 869h0M1046 1020h0M1090 936h0M1100 926h0M1044 903h0M1090 1008h0M1040 1010h0M1172 878h0M1155 997h0M1011 980h0M1149 947h0M1081 854h0M1183 858h0M1042 962h0M1092 908h0M1018 984h0M1243 969h0M1132 1024h0M1127 1067h0M1127 1085h0M1127 998h0M1166 930h0M1056 984h0M968 1027h0M1149 1010h0M1131 1002h0M1190 941h0M1110 895h0M1133 1079h0M1062 943h0M1020 900h0M1200 939h0M1080 997h0M1124 927h0M1048 936h0M992 898h0M1130 1034h0M1150 952h0M1171 943h0M1087 919h0M1117 1081h0M1078 847h0M1064 1041h0M1128 983h0M1144 916h0M1051 972h0M967 941h0M1085 1043h0M1059 946h0M1081 1003h0M976 1013h0M1205 948h0M1128 1068h0M1158 956h0M1045 945h0M1044 933h0M1127 902h0M1135 1071h0M1049 930h0M991 1065h0M1052 886h0M1021 992h0M1041 1009h0M1074 995h0M1061 906h0M1169 960h0M1191 1019h0M1192 1014h0M1064 1047h0M972 960h0M1013 924h0M1018 922h0M1112 949h0M1083 1057h0M1207 913h0M1030 1011h0M1124 1070h0M1141 1017h0M1183 857h0M1172 1018h0M1033 877h0M1141 959h0M1090 1018h0M1113 1077h0M1185 953h0M1157 1027h0M997 1080h0M1175 965h0M1149 951h0M1114 946h0M1116 925h0M999 882h0M950 1029h0M978 1039h0M1126 1050h0M1131 1020h0M989 1032h0M1169 926h0M1055 1009h0M1065 1023h0M1085 879h0M1091 930h0M1053 934h0M1159 998h0M1035 971h0M1082 905h0M1065 853h0M1063 1075h0M1138 932h0M1011 994h0M1212 926h0M984 1012h0M999 1012h0M1046 1010h0M1182 1019h0M1005 963h0M1124 1016h0M1033 1048h0M1055 878h0M1026 1036h0M1133 976h0M1198 1035h0M1198 934h0M1134 1016h0M1093 930h0M1071 919h0M1143 940h0M1142 936h0M942 972h0M1135 855h0M1018 988h0M1031 954h0M1169 1048h0M1033 1017h0M1180 1068h0M995 1006h0M1127 1077h0M1034 919h0M1170 980h0M1201 938h0M1139 1010h0M1030 1064h0M1169 1002h0M1147 953h0M1005 1047h0M1157 978h0M1078 877h0M1195 1041h0M1127 975h0M1095 1010h0M1061 1023h0M1103 1050h0M1045 954h0M1092 1030h0M1197 1030h0M1175 1051h0M1173 1035h0M1013 992h0M995 878h0M1150 1046h0M1161 993h0M1049 916h0M954 1035h0M956 1027h0M1054 935h0M1096 909h0M989 1031h0M1133 1000h0M1023 877h0M1026 1036h0M1220 909h0M1073 935h0M1056 997h0M1055 843h0M982 904h0M954 992h0M1121 1013h0M1004 974h0M1045 1042h0M1097 908h0M1035 1066h0M1064 1034h0M1112 946h0M1038 1033h0M1144 952h0M1039 987h0M1087 900h0M1089 907h0M1061 924h0M1136 977h0M1100 1061h0M1132 1009h0M1021 1000h0M1113 1031h0M1161 1071h0M1176 1041h0M1065 928h0M979 906h0M1131 1071h0M1178 1021h0M1161 965h0M1087 870h0M1136 1003h0M1116 1011h0M1039 1040h0M1081 997h0M1091 923h0M1120 1023h0M1072 887h0M1102 1047h0M1029 868h0M1206 905h0M1142 1032h0M1031 891h0M1121 1035h0M1192 1003h0M1051 935h0M1005 1062h0M1020 1025h0M1060 986h0M1177 1013h0M1048 956h0M1009 976h0M1038 1016h0M1063 1047h0M989 1072h0M1140 937h0M1032 1033h0M1051 961h0M1125 988h0M1034 924h0M1188 1038h0M1148 924h0M1223 975h0M1025 919h0M1079 1004h0M1129 1016h0M1050 875h0M1226 1006h0M1016 941h0M1118 1021h0M959 1016h0M1059 990h0M1059 979h0M1113 1076h0M1164 981h0M1072 926h0M1071 998h0M1223 1006h0M1158 898h0M1146 942h0M1096 927h0M1153 997h0M1083 932h0M1014 917h0M1101 1098h0M1143 957h0M1030 1051h0M1203 1050h0M1013 952h0M1123 839h0M1030 1055h0M1152 911h0M1078 1046h0M1126 907h0M1228 907h0M1085 1016h0M1056 1024h0M1132 995h0M1131 967h0M1173 853h0M983 1000h0M1053 856h0M1040 1086h0M1168 920h0M1095 1008h0M1097 1019h0M1129 970h0M1174 956h0M1169 950h0M1091 1064h0M982 908h0M1141 1043h0M1227 957h0M1142 982h0M1034 870h0M1056 928h0M1192 949h0M1196 1047h0M1064 906h0M1135 955h0M1200 889h0M1003 984h0M1050 938h0M1005 1053h0M1105 905h0M1024 876h0M1033 860h0M1029 1061h0M1206 1037h0M1066 1044h0M1126 978h0M1129 993h0M986 972h0M1134 977h0M1144 956h0M1149 845h0M1136 1037h0M1163 914h0M996 881h0M1009 1006h0M1021 915h0M1050 1022h0M1150 912h0M1162 917h0M1124 959h0M1024 1063h0M1130 845h0M1136 900h0M1040 993h0M1034 887h0M1017 1078h0M1047 1011h0M1059 941h0M955 906h0M1019 1007h0M1121 1092h0M949 981h0M1058 978h0M1241 989h0M1149 1098h0M1067 833h0M1219 901h0M1160 1075h0M1209 1044h0" stroke="#4a1a74" stroke-opacity="0.5" stroke-width="3.0" stroke-linecap="round" fill="none"/><path d="M1069 957h0M1099 961h0M1097 960h0M1066 972h0M1107 978h0M1095 967h0M1103 958h0M1087 986h0M1089 968h0M1089 971h0M1087 979h0M1073 953h0M1074 966h0M1107 963h0M1115 968h0M1083 951h0M1097 948h0M1082 953h0M1111 976h0M1078 968h0M1086 972h0M1111 966h0M1110 972h0M1112 958h0M1068 973h0M1079 970h0M1073 963h0M1087 980h0M1083 972h0M1099 972h0M1102 961h0M1084 963h0M1091 951h0M1074 968h0M1087 948h0M1087 950h0M1103 961h0M1102 956h0M1115 972h0M1083 973h0M1066 964h0M1085 963h0M1103 951h0M1078 962h0M1083 948h0M1071 957h0M1085 978h0M1114 970h0M1078 987h0M1096 972h0M1097 972h0M1072 957h0M1077 977h0M1088 975h0M1070 968h0M1075 958h0M1074 956h0M1107 970h0M1076 960h0M1090 952h0M1072 967h0M1104 977h0M1087 986h0M1090 982h0M1076 982h0M1100 973h0M1112 962h0M1073 962h0M1094 978h0M1102 975h0M1075 962h0M1094 957h0M1088 957h0M1079 952h0M1082 953h0M1103 985h0M1091 952h0M1080 964h0M1103 955h0M1097 986h0M1071 962h0M1102 952h0M1075 981h0M1097 974h0M1096 958h0M1082 984h0M1098 957h0M1077 967h0M1095 972h0M1109 978h0M1082 954h0M1078 973h0M1081 949h0M1093 984h0M1090 977h0M1085 963h0M1090 979h0M1085 981h0M1067 971h0M1096 975h0M1098 989h0M1066 969h0M1075 956h0M1067 964h0M1069 972h0M1104 985h0M1084 989h0M1114 973h0M1115 968h0M1111 968h0M1111 977h0M1077 969h0M1089 955h0M1099 973h0M1107 978h0M1082 975h0M1099 961h0M1105 970h0M1073 959h0M1079 984h0M1110 979h0M1085 979h0M1108 953h0M1081 954h0M1096 968h0M1089 960h0M1087 951h0M1107 960h0M1102 984h0M1098 975h0M1081 982h0M1085 980h0M1090 956h0M1096 986h0M1098 976h0M1082 972h0M1097 985h0M1078 959h0M1106 971h0M1089 972h0M1082 956h0M1106 953h0M1108 980h0M1114 974h0M1097 951h0M1072 962h0M1073 965h0M1087 957h0M1101 983h0M1105 957h0M1109 954h0M1081 955h0M1071 961h0M1108 960h0M1075 967h0M1113 967h0M1099 955h0M1085 966h0M1067 969h0M1076 975h0M1103 952h0M1091 956h0M1078 983h0M1114 963h0M1073 974h0M1109 960h0M1074 963h0M1070 973h0M1083 957h0M1089 952h0M1099 965h0M1080 974h0M1105 967h0M1107 960h0M1076 952h0M1093 957h0M1110 956h0M1072 977h0M1085 948h0M1090 957h0M1101 954h0M1097 975h0M1081 975h0M1076 966h0M1076 981h0M1095 955h0M1095 950h0M1080 969h0M1067 963h0M1101 989h0M1069 962h0M1085 984h0M1092 958h0M1087 958h0M1077 976h0M1076 962h0M1077 984h0M1089 976h0M1114 962h0M1086 956h0M1090 978h0M1071 962h0M1088 955h0M1088 971h0M1112 961h0M1084 983h0M1083 951h0M1104 966h0M1076 977h0M1110 959h0M1079 979h0M1106 958h0M1112 969h0M1073 959h0M1110 962h0M1114 973h0M1072 966h0M1078 964h0M1103 985h0M1103 979h0M1102 951h0M1079 967h0M1097 962h0M1087 980h0M1087 954h0M1108 954h0M1090 962h0M1076 962h0M1097 969h0M1093 969h0M1107 963h0M1090 955h0M1084 957h0M1106 953h0M1089 964h0M1094 983h0M1112 963h0M1104 966h0M1078 973h0M1074 973h0M1078 962h0M1068 977h0M1082 958h0M1076 959h0M1087 976h0M1082 948h0M1093 973h0M1103 965h0M1105 966h0M1093 958h0M1108 968h0M1109 961h0M1114 964h0M1074 983h0M1105 952h0M1104 962h0M1067 974h0M1105 985h0M1079 962h0M1104 975h0M1101 961h0M1083 985h0M1085 962h0M1083 988h0M1073 954h0M1109 983h0M1070 979h0M1070 977h0M1102 975h0M1084 960h0M1083 953h0M1083 983h0M1099 975h0M1113 971h0M1091 964h0M1085 952h0M1091 963h0M1109 984h0M1079 956h0M1082 976h0M1093 983h0M1098 987h0M1089 965h0M1087 949h0M1098 979h0M1097 952h0M1068 959h0M1078 964h0M1092 972h0M1104 964h0M1088 972h0M1080 950h0M1112 966h0M1102 957h0M1091 950h0M1101 951h0M1112 980h0M1100 979h0M1090 948h0M1088 959h0M1104 968h0M1100 976h0M1079 980h0M1074 954h0M1101 970h0M1072 982h0M1073 983h0M1101 963h0M1089 957h0M1104 976h0M1097 971h0M1089 972h0M1084 950h0M1090 967h0M1094 963h0M1069 963h0M1108 984h0M1084 986h0M1094 963h0M1083 960h0M1103 959h0M1082 964h0M1081 966h0M1100 953h0M1101 954h0M1104 987h0M1109 982h0M1076 961h0M1089 961h0M1111 970h0M1104 971h0M1086 989h0M1099 960h0M1107 956h0M1075 979h0M1079 973h0M1081 977h0M1095 979h0M1080 971h0M1108 982h0M1079 982h0M1067 967h0M1101 982h0M1079 970h0M1071 967h0M1101 964h0M1076 981h0M1109 977h0M1093 984h0M1089 967h0M1066 971h0M1079 965h0M1104 951h0M1113 961h0M1112 963h0M1110 959h0M1072 957h0M1102 987h0M1071 954h0M1086 989h0M1085 991h0M1077 991h0M1089 938h0M1081 993h0M1117 972h0M1111 954h0M1066 956h0M1063 959h0M1064 966h0M1120 970h0M1096 947h0M1084 994h0M1111 990h0M1061 966h0M1110 987h0M1092 992h0M1092 990h0M1062 983h0M1094 949h0M1097 990h0M1064 949h0M1105 988h0M1109 988h0M1068 977h0M1065 967h0M1091 948h0M1115 981h0M1066 954h0M1071 948h0M1075 985h0M1116 951h0M1115 953h0M1079 944h0M1096 947h0M1105 953h0M1084 991h0M1117 978h0M1107 988h0M1123 967h0M1076 985h0M1120 958h0M1072 990h0M1074 952h0M1103 951h0M1112 948h0M1086 939h0M1094 992h0M1065 960h0M1072 988h0M1109 981h0M1095 989h0M1080 999h0M1072 988h0M1068 981h0M1058 962h0M1111 983h0M1106 953h0M1101 988h0M1083 992h0M1117 979h0M1107 953h0M1118 970h0M1091 941h0M1082 989h0M1073 986h0M1084 947h0M1108 987h0M1121 962h0M1073 990h0M1118 964h0M1078 939h0M1101 989h0M1093 944h0M1094 995h0M1068 978h0M1085 990h0M1078 990h0M1115 976h0M1070 957h0M1072 953h0M1076 953h0M1066 962h0M1076 990h0M1084 999h0M1073 955h0M1088 945h0M1069 961h0M1083 992h0M1067 964h0M1088 947h0M1081 988h0M1060 979h0M1115 958h0M1067 955h0M1074 952h0M1068 982h0M1067 978h0M1059 957h0M1067 949h0M1065 957h0M1071 985h0M1121 990h0M1105 936h0M1117 955h0M1115 951h0M1106 998h0M1077 1001h0M1075 999h0M1063 985h0M1100 938h0M1119 981h0M1060 978h0M1067 951h0M1117 947h0M1123 950h0M1096 937h0M1125 965h0M1119 947h0M1059 985h0M1088 996h0M1108 944h0M1088 942h0M1123 985h0M1070 944h0M1078 943h0M1084 999h0M1080 941h0M1102 996h0M1128 976h0M1124 955h0M1123 957h0M1117 952h0M1118 949h0M1117 981h0M1116 956h0M1124 983h0M1100 939h0M1076 996h0M1091 996h0M1071 949h0M1068 993h0M1070 947h0M1063 990h0M1078 939h0M1062 926h0M1110 1005h0M1178 984h0M1139 1025h0M981 1066h0M1060 858h0M1160 1006h0M955 983h0M1151 918h0M1129 983h0M971 1019h0M1114 1013h0M989 964h0M1222 982h0M1137 907h0M1012 1038h0M1128 969h0M1029 1024h0M1199 980h0M998 975h0M1097 860h0M1155 909h0M1118 951h0M1012 897h0M1118 923h0M1043 1018h0M1036 1018h0M1126 900h0M1225 1034h0M1033 878h0M1124 954h0M966 910h0M1073 934h0M1011 901h0M1115 1078h0M1166 959h0M1091 1092h0M1127 1037h0M1142 1007h0M1070 1026h0M1195 969h0M1222 955h0M1194 972h0M990 1010h0M1073 1042h0M1083 1046h0M1184 993h0M1082 1036h0M1156 1049h0M1157 985h0M1233 923h0M1139 904h0M1121 1079h0M1008 1016h0M1137 1064h0M1147 975h0M1100 1047h0M1101 892h0M1234 988h0M1110 1004h0M1160 997h0M1153 1058h0M1072 1031h0M1095 920h0M1128 976h0M960 909h0M1153 926h0M1215 1016h0M992 952h0M1051 968h0M1137 917h0M967 896h0M1091 1101h0M1055 900h0M1079 1041h0M1005 1049h0M1052 945h0M1013 1019h0M1085 921h0M1238 1006h0M1045 926h0M1175 1074h0M1133 840h0M1201 997h0M1217 885h0M1087 1029h0M1168 986h0M1019 983h0M1147 859h0M1026 1049h0M1021 1019h0M1063 912h0M1037 964h0M1145 1026h0M1147 972h0M1151 977h0M1076 1015h0M1101 886h0M1111 1012h0M1015 1065h0M1039 1047h0M1069 1034h0M1139 1006h0M1111 909h0M1134 1082h0M1029 1019h0M1111 930h0M958 900h0M1212 1038h0M1170 954h0M1113 865h0M1030 853h0M1211 890h0M1172 942h0M1081 1071h0M1048 1050h0M1131 985h0M1155 1044h0M1141 915h0M1059 1000h0M1159 930h0M996 1047h0M1201 936h0M1119 997h0M1170 1074h0M1084 1066h0M971 899h0M994 1040h0M1057 981h0M1005 942h0M1100 909h0M1164 1060h0M1036 1015h0M1059 932h0M1144 1009h0M1163 965h0M1117 1044h0M1000 898h0M982 988h0M1060 1057h0M1021 997h0M1075 938h0M1123 906h0M1196 1051h0M969 1033h0M1087 1034h0M1187 867h0M1214 896h0M1120 921h0M1043 1062h0M1046 989h0M1079 920h0M1012 1002h0M1130 987h0M1117 872h0M1134 961h0M1085 931h0M1072 1002h0M951 995h0M1108 1019h0M1068 860h0M1012 1013h0M1059 988h0M1064 1028h0M1217 952h0M952 993h0M1180 940h0M1137 906h0M1066 869h0M1130 917h0M987 881h0M1038 873h0M1031 1023h0M1138 925h0M1125 1044h0M1130 1090h0M1141 1003h0M957 941h0M1021 1079h0M1013 897h0M1113 1066h0M1026 1057h0M1092 923h0M1021 875h0M1045 938h0M1019 913h0M1131 992h0M986 920h0M1209 957h0M1009 927h0M980 924h0M1168 951h0M1030 977h0M1102 918h0M1141 991h0M1172 1064h0M1143 1083h0M1005 909h0M1188 1026h0M1097 918h0M1106 917h0M1160 868h0M963 916h0M1037 996h0M1181 1041h0M1066 993h0M1157 924h0M1064 893h0M1075 841h0M1174 949h0M1075 1037h0M1196 949h0M1202 971h0M1134 973h0M1042 943h0M1037 867h0M1093 939h0M1122 1071h0M1007 931h0M1027 1009h0M1079 927h0M1099 915h0M1129 965h0M1184 933h0M984 923h0M938 991h0M1232 914h0M1044 938h0M1070 1013h0M1216 896h0M1097 1078h0M995 972h0M1068 844h0M1051 978h0M1054 977h0M1066 884h0M1128 988h0M1072 1011h0M1209 1048h0M1117 908h0M1176 931h0M1034 899h0M1190 978h0M1098 941h0M1080 1044h0M1173 1006h0M1002 995h0M1189 1027h0M1168 906h0M1146 1002h0M1227 915h0M1191 931h0M975 1000h0M1037 1047h0M1131 945h0M1002 878h0M1034 935h0M1141 941h0M1006 931h0M1111 1006h0M1053 928h0M1166 944h0M1046 858h0M1089 1022h0M1079 904h0M993 933h0M1143 878h0M1013 1029h0M1073 910h0M1150 1002h0M1083 934h0M1142 897h0M1001 1051h0M1180 954h0M1118 904h0M1129 1012h0M1037 972h0M1125 1015h0M1019 985h0M1004 981h0M1047 987h0M1086 928h0M972 925h0M1234 918h0M1094 854h0M1082 912h0M1131 946h0M1104 1085h0M1172 1029h0M1146 937h0M1192 942h0M964 1035h0M1055 1031h0M1057 923h0M1180 942h0M1120 957h0M1090 1004h0M1144 971h0M1105 1032h0M1224 1011h0M977 948h0M1209 1031h0M1097 1008h0M1187 998h0M1083 1073h0M1081 1040h0M1006 873h0M1142 957h0M1101 914h0M1132 871h0M1019 877h0M1001 924h0M979 1001h0M1072 1019h0M1083 1028h0M1047 942h0M1194 869h0M1117 1006h0M1093 1021h0M968 1019h0M1153 892h0M982 979h0M1070 988h0M1014 1033h0M1035 939h0M1007 955h0M1149 1037h0M1087 1009h0M1026 852h0M1123 1058h0M995 1021h0M1125 987h0M1147 880h0M952 956h0M1162 1052h0M1066 897h0M1042 1031h0M945 1025h0M1010 971h0M1099 847h0M1047 955h0M1137 985h0M1136 1008h0M1144 911h0M1001 879h0M1106 1096h0M1102 931h0M1142 983h0M1160 1048h0M1080 936h0M1210 1015h0M1044 949h0M977 901h0M1055 974h0M1117 919h0M1138 1003h0M1069 937h0M1033 865h0M1056 1036h0M1052 939h0M1084 871h0M1087 1095h0M1158 940h0M1033 947h0M1081 886h0M1169 925h0M1105 884h0M1053 897h0M961 1022h0M1047 944h0M941 971h0M1113 1010h0M1060 846h0M1102 1089h0M1054 952h0M1156 888h0M1110 931h0M1166 995h0M1132 1074h0M1184 1047h0M1162 885h0M1168 1040h0M1010 1027h0M1095 895h0M1015 1069h0M993 972h0M1037 954h0M1167 1021h0M1166 906h0M1123 1021h0M1115 998h0M1071 880h0M1188 922h0M1092 873h0M1052 959h0M1145 951h0M1115 878h0M1051 941h0M1101 1023h0M1170 1080h0M1122 954h0M1081 1004h0M1157 954h0M1159 1062h0M1149 942h0M1121 1085h0M1029 971h0M979 953h0M1011 929h0M1180 1058h0M1205 961h0M1135 973h0M951 1024h0M1124 840h0M1071 907h0M1052 991h0M1145 928h0M968 1049h0M998 1075h0M1187 891h0M1115 861h0M975 905h0M995 1073h0M981 926h0M1156 926h0M1077 1022h0M1107 999h0M943 959h0M1202 1043h0M1117 955h0M1126 954h0M1023 874h0M1073 922h0M1043 1001h0M1046 969h0M1037 1079h0M1176 1038h0M1082 935h0M1099 940h0M1131 924h0M1135 873h0M1010 929h0M1062 882h0M1152 898h0M1169 1030h0M1074 933h0M1046 930h0M1054 979h0M1007 878h0M1022 960h0M1050 938h0M1123 1015h0M1132 980h0M1135 851h0M1119 957h0M1060 857h0M1074 997h0M1047 987h0M1061 997h0M963 1049h0M1204 885h0M1116 849h0M1023 949h0M1215 933h0M1011 1012h0M1113 1040h0M989 974h0M1099 934h0M1064 935h0M1076 914h0M1140 997h0M1126 1025h0M1144 976h0M1100 897h0M1225 918h0M1092 1068h0M1086 893h0M1086 926h0M1212 1038h0M1153 921h0M1136 1013h0M1056 948h0M1020 1030h0M1162 941h0M1110 1065h0M985 891h0M1057 1032h0M1062 923h0M973 932h0M1233 1021h0M1198 970h0M1009 1005h0M1130 972h0M1144 868h0M1033 978h0M1233 987h0M1142 1030h0M1004 890h0M1083 1018h0M1010 881h0M1000 893h0M1115 1001h0M1114 1061h0M1086 1026h0M990 1071h0M1221 996h0M1007 902h0M1109 1031h0M1057 1091h0M994 1010h0M1071 1022h0M1143 928h0M1116 909h0M1059 1040h0M986 940h0M1186 961h0M1040 1052h0M1159 914h0M1187 934h0M965 902h0M1067 925h0M1051 972h0M1221 915h0M1173 929h0M1040 920h0M1049 910h0M1017 975h0M990 873h0M1118 871h0M1148 891h0M1028 1075h0M1171 1048h0M997 1040h0M1183 1066h0M1042 954h0M1128 960h0M1111 1004h0M1031 993h0M1056 953h0M1153 886h0M1075 923h0M1057 1050h0M1034 873h0M1203 884h0M988 1024h0M1101 937h0M1163 918h0M1065 1063h0M1222 965h0M1017 986h0M1206 1032h0M998 935h0M1124 993h0M1043 1039h0M1160 852h0M1015 1001h0M1051 889h0M1107 1045h0M1090 1002h0M1133 893h0M1124 1046h0M985 1023h0M1080 916h0M986 977h0M1170 1081h0M964 967h0M1049 1086h0M1020 1035h0M1049 1032h0M1043 981h0M1035 988h0M1138 1091h0M1108 896h0M1137 981h0M939 969h0M1030 1015h0M1148 999h0M1134 1000h0M1190 933h0M1082 1021h0M1208 995h0M1055 952h0M1107 854h0M996 906h0M1100 1023h0M1136 1012h0M1101 938h0M1203 887h0M1080 1096h0M1060 916h0M1035 972h0M1182 1000h0M1151 1028h0M1012 988h0M1056 1048h0M1075 918h0M1092 1047h0M1206 972h0M1085 1024h0M988 997h0M1065 996h0M1147 926h0M1093 902h0M1060 924h0M1052 990h0M1056 978h0M1083 1000h0M1023 893h0M1116 1003h0M1114 926h0M1142 995h0M1129 1002h0M1055 867h0M1052 984h0M1116 1012h0M1080 845h0M1057 927h0M1140 941h0M1117 893h0M1051 961h0M1045 1001h0M990 940h0M1140 909h0M1055 1093h0M1209 953h0M1235 960h0M1049 974h0M1006 1052h0M1171 1041h0M992 894h0M1129 987h0M1189 989h0M1019 1069h0M1075 1009h0M1020 855h0M1115 881h0M1133 1091h0M1045 1046h0M1233 923h0M1134 940h0M995 976h0M1126 1077h0M1135 986h0M1156 903h0M1032 1095h0M1122 876h0M1123 915h0M1050 981h0M1037 948h0M1033 1014h0M1038 872h0M1127 931h0M1085 1020h0M1087 935h0M1083 917h0M1076 1007h0M1102 1008h0M1074 935h0M1083 882h0M1094 1034h0M1057 986h0M1168 1017h0M1170 943h0M1128 844h0M1091 1013h0M1141 903h0M1182 1013h0M1109 934h0M1169 951h0M1032 987h0M1045 974h0M1045 867h0M1143 1090h0M1050 973h0M1200 1048h0M1144 913h0M980 1008h0M1220 951h0M1011 986h0M1085 905h0M1071 904h0M1055 972h0M996 959h0M1183 974h0M1119 1073h0M1058 940h0M1060 1024h0M1031 1022h0M1071 991h0M1012 878h0M1026 955h0M1164 942h0M1183 996h0M1157 997h0M979 909h0M1000 900h0M994 1027h0M1048 955h0M1181 1017h0M1084 904h0M1045 881h0M1053 877h0M1152 954h0M1086 1059h0M968 981h0M1005 986h0M1157 940h0M1053 952h0M1082 938h0M1022 974h0M1221 949h0M1032 947h0M1021 947h0M1146 947h0M1128 933h0M1199 1003h0M1102 1013h0M1106 905h0M1084 1022h0M1112 949h0M1034 921h0M1131 1061h0M1041 924h0M1150 867h0M1062 937h0M966 925h0M1177 914h0M1044 1075h0M1131 923h0M1038 931h0M1147 914h0M1188 1024h0M1067 929h0M1214 1030h0M1157 891h0M1096 905h0M1067 990h0M1175 888h0M1111 938h0M1035 1019h0M1014 1075h0M1043 1077h0M1072 1069h0M1050 965h0M992 900h0M1042 1059h0M1157 968h0M1057 1013h0M1027 1036h0M1049 1028h0M1197 995h0M1195 1030h0M1019 1090h0M1185 963h0M1084 854h0M1114 920h0M1016 874h0M1109 1020h0M1165 990h0M1162 915h0M1075 995h0M1038 1059h0M1168 1038h0M1058 881h0M1032 858h0M1098 1036h0M1208 941h0M1108 1045h0M1140 1011h0M1063 1077h0M1012 967h0M1147 867h0M954 1013h0M1123 1018h0M1173 975h0M1042 957h0M1163 921h0M1208 910h0M1040 911h0M1173 904h0M961 1035h0M1060 1059h0M1134 929h0M1192 1032h0M1032 911h0M1153 953h0M1023 1081h0M1106 915h0M1114 1023h0M1240 964h0M1170 946h0M1129 1088h0M1085 1005h0M1136 978h0M1123 879h0M1079 1082h0M1191 1015h0M1043 888h0M980 960h0M1036 978h0M1109 1032h0M1047 972h0M1203 1019h0M1208 987h0M1014 1009h0M1121 1086h0M1111 842h0M1031 994h0M1195 1057h0M1014 961h0M1070 926h0M1161 934h0M1021 1082h0M1005 1019h0M998 962h0M1093 1026h0M1141 1002h0M969 1036h0M981 974h0M1135 925h0M1144 987h0M1060 897h0M1079 924h0M1137 1026h0M1128 980h0M1012 979h0M1115 908h0M1030 1027h0M1112 1089h0M1203 909h0M1102 1028h0M1152 972h0M1097 1026h0M1045 973h0M1058 1015h0M1224 950h0M1095 1003h0M1056 1094h0M1092 930h0M1169 932h0M1139 1028h0M1166 979h0M1044 1051h0M1143 1007h0M969 903h0M1128 1090h0M982 999h0M1115 896h0M1170 1007h0M1129 992h0M1185 922h0M1156 1084h0M1115 999h0M1132 1011h0M1160 955h0M1004 929h0M1069 1044h0M1124 1009h0M1117 1021h0M973 893h0M1169 969h0M1110 1039h0M1070 938h0M1214 897h0M1142 953h0M1132 1005h0M1135 969h0M979 992h0M1207 1034h0M1062 997h0M1179 1046h0M1214 975h0M1139 982h0M1164 959h0M1045 976h0M1188 1008h0M1231 905h0M1159 950h0M1059 1036h0M1119 1005h0M1050 995h0M1137 1004h0M1116 881h0M1235 934h0M1119 1011h0M1187 1042h0M1123 920h0M1042 917h0M1049 933h0M1125 888h0M1117 938h0M1008 1054h0M1140 976h0M1071 910h0M1118 939h0M1105 1011h0M1026 1070h0M1064 915h0M1067 896h0M1031 943h0M1148 1056h0M1187 974h0M1230 971h0M1007 997h0M1107 1046h0M1064 907h0M1050 929h0M1018 1090h0M969 950h0M1102 863h0M1152 932h0M1118 955h0M1127 1081h0M1089 1016h0M981 925h0M1048 960h0M1147 961h0M1063 1090h0M1159 1012h0M1013 1012h0M1173 1042h0M1134 1081h0M1004 1002h0M1045 1024h0M956 944h0M1156 1029h0M1044 990h0M1047 859h0M1054 963h0M1147 1051h0M1077 1041h0M1008 1020h0M1169 1044h0M1186 860h0M1135 990h0M1092 869h0M1059 977h0M1128 931h0M1171 857h0M968 1025h0M1130 1088h0M1079 1006h0M1144 935h0M1062 925h0M1214 999h0M1118 999h0M1111 1004h0M1133 896h0M1210 1005h0M1059 1050h0M1229 991h0M1062 895h0M1131 904h0M1232 993h0M1023 856h0M1055 947h0M1042 962h0M1006 981h0M1119 891h0M1139 969h0M1148 977h0M1003 979h0M1055 943h0M1016 1086h0M1133 945h0M1182 1049h0M1229 936h0M1114 1004h0M1055 1030h0M1068 916h0M1103 922h0M1012 867h0M1154 965h0M1017 859h0M1088 1099h0M1230 983h0M936 972h0M1211 1058h0M941 958h0" stroke="#4a1a74" stroke-opacity="0.5" stroke-width="3.0" stroke-linecap="round" fill="none"/><path d="M1069 964h0M1090 970h0M1097 955h0M1082 963h0M1091 951h0M1086 969h0M1113 962h0M1094 948h0M1073 966h0M1109 973h0M1079 951h0M1095 975h0M1073 959h0M1081 967h0M1074 977h0M1098 975h0M1080 955h0M1078 970h0M1084 987h0M1086 976h0M1082 981h0M1073 974h0M1089 987h0M1077 987h0M1098 988h0M1070 975h0M1103 962h0M1079 977h0M1111 980h0M1075 960h0M1097 970h0M1106 967h0M1082 956h0M1103 987h0M1070 968h0M1086 977h0M1105 982h0M1070 979h0M1088 971h0M1098 984h0M1086 966h0M1068 962h0M1077 982h0M1102 962h0M1076 981h0M1083 981h0M1091 963h0M1093 958h0M1097 950h0M1083 975h0M1093 978h0M1110 982h0M1103 987h0M1076 955h0M1097 982h0M1088 972h0M1078 961h0M1068 969h0M1084 973h0M1097 980h0M1112 968h0M1101 969h0M1078 957h0M1071 971h0M1096 975h0M1104 979h0M1084 958h0M1095 952h0M1071 979h0M1069 973h0M1092 947h0M1073 978h0M1105 971h0M1077 983h0M1074 970h0M1071 960h0M1088 978h0M1072 972h0M1081 984h0M1087 954h0M1104 976h0M1076 982h0M1067 967h0M1082 950h0M1104 967h0M1086 982h0M1104 966h0M1092 958h0M1083 974h0M1104 965h0M1112 964h0M1092 960h0M1091 990h0M1098 966h0M1076 960h0M1102 975h0M1098 989h0M1097 975h0M1109 968h0M1090 960h0M1102 971h0M1093 974h0M1097 949h0M1105 977h0M1097 969h0M1071 967h0M1070 959h0M1088 969h0M1085 957h0M1076 959h0M1093 956h0M1087 989h0M1096 961h0M1110 957h0M1080 981h0M1099 951h0M1089 981h0M1114 973h0M1076 957h0M1069 974h0M1091 949h0M1078 963h0M1087 976h0M1074 952h0M1081 989h0M1109 969h0M1086 970h0M1095 963h0M1091 972h0M1082 970h0M1109 967h0M1103 982h0M1098 949h0M1084 959h0M1102 962h0M1070 981h0M1095 971h0M1077 958h0M1076 960h0M1074 972h0M1067 968h0M1099 983h0M1070 980h0M1086 980h0M1085 965h0M1095 958h0M1082 975h0M1072 956h0M1082 967h0M1085 977h0M1098 978h0M1078 986h0M1081 968h0M1101 949h0M1081 983h0M1074 971h0M1076 970h0M1100 989h0M1076 986h0M1113 977h0M1075 961h0M1084 977h0M1105 971h0M1093 990h0M1101 986h0M1098 966h0M1099 972h0M1109 959h0M1096 969h0M1096 953h0M1106 985h0M1110 980h0M1080 949h0M1086 980h0M1091 948h0M1115 971h0M1097 966h0M1075 952h0M1096 948h0M1075 967h0M1087 975h0M1102 971h0M1105 952h0M1077 987h0M1099 984h0M1065 968h0M1106 966h0M1081 971h0M1110 967h0M1098 987h0M1071 972h0M1109 962h0M1110 966h0M1079 985h0M1090 952h0M1079 964h0M1081 958h0M1085 984h0M1092 954h0M1105 958h0M1088 963h0M1098 965h0M1088 981h0M1101 976h0M1088 950h0M1087 952h0M1104 960h0M1087 989h0M1098 953h0M1080 953h0M1085 960h0M1093 955h0M1103 988h0M1106 952h0M1101 974h0M1097 961h0M1098 968h0M1072 969h0M1089 965h0M1085 981h0M1079 974h0M1093 959h0M1083 951h0M1104 965h0M1089 983h0M1101 961h0M1071 970h0M1107 954h0M1099 971h0M1080 973h0M1088 980h0M1080 952h0M1079 963h0M1090 970h0M1113 966h0M1101 984h0M1086 978h0M1070 958h0M1080 968h0M1094 982h0M1113 965h0M1096 951h0M1102 984h0M1089 977h0M1070 968h0M1107 962h0M1088 958h0M1104 964h0M1074 968h0M1066 973h0M1077 969h0M1089 972h0M1103 967h0M1094 947h0M1099 952h0M1081 981h0M1096 966h0M1094 948h0M1104 978h0M1096 972h0M1111 959h0M1081 958h0M1096 973h0M1079 982h0M1099 980h0M1114 962h0M1094 980h0M1078 977h0M1097 957h0M1103 973h0M1112 963h0M1113 965h0M1078 966h0M1085 958h0M1075 962h0M1085 951h0M1112 963h0M1113 975h0M1096 955h0M1103 985h0M1090 952h0M1082 977h0M1070 977h0M1073 960h0M1089 975h0M1089 950h0M1091 965h0M1073 983h0M1076 984h0M1079 962h0M1082 968h0M1099 979h0M1108 977h0M1071 982h0M1091 968h0M1111 963h0M1071 962h0M1084 965h0M1081 982h0M1085 952h0M1070 971h0M1082 967h0M1074 956h0M1083 966h0M1109 960h0M1076 971h0M1107 973h0M1092 963h0M1094 976h0M1071 971h0M1098 969h0M1104 961h0M1083 955h0M1079 953h0M1110 977h0M1092 977h0M1070 963h0M1089 991h0M1094 951h0M1111 976h0M1098 959h0M1069 961h0M1068 979h0M1098 951h0M1104 975h0M1094 991h0M1080 982h0M1108 959h0M1089 980h0M1092 952h0M1096 960h0M1082 988h0M1110 962h0M1088 950h0M1077 964h0M1078 952h0M1107 973h0M1094 988h0M1093 970h0M1085 951h0M1091 973h0M1099 973h0M1087 967h0M1066 967h0M1094 969h0M1080 979h0M1088 991h0M1097 979h0M1110 956h0M1090 983h0M1074 965h0M1078 972h0M1081 981h0M1072 976h0M1098 977h0M1086 949h0M1079 951h0M1072 980h0M1104 962h0M1074 954h0M1067 974h0M1100 954h0M1101 980h0M1109 976h0M1095 960h0M1099 956h0M1081 985h0M1105 981h0M1096 984h0M1107 960h0M1091 959h0M1101 965h0M1078 955h0M1074 962h0M1089 948h0M1094 972h0M1115 964h0M1114 969h0M1062 957h0M1106 985h0M1110 954h0M1071 942h0M1063 961h0M1119 982h0M1096 989h0M1078 945h0M1116 983h0M1112 976h0M1114 977h0M1103 945h0M1067 961h0M1065 966h0M1090 997h0M1106 989h0M1092 939h0M1092 993h0M1086 989h0M1100 950h0M1094 994h0M1084 948h0M1076 952h0M1079 938h0M1113 985h0M1063 973h0M1097 989h0M1110 956h0M1086 989h0M1088 990h0M1067 961h0M1109 984h0M1111 980h0M1093 993h0M1078 943h0M1106 951h0M1065 949h0M1089 1000h0M1108 989h0M1116 974h0M1070 984h0M1116 981h0M1057 967h0M1117 972h0M1070 956h0M1071 947h0M1112 956h0M1096 948h0M1066 977h0M1107 947h0M1113 968h0M1105 990h0M1119 994h0M1122 979h0M1066 971h0M1093 991h0M1069 978h0M1104 988h0M1093 940h0M1059 966h0M1069 981h0M1067 978h0M1100 950h0M1119 971h0M1097 938h0M1101 995h0M1114 978h0M1078 949h0M1105 984h0M1074 952h0M1058 970h0M1118 971h0M1111 959h0M1115 951h0M1106 988h0M1063 978h0M1058 981h0M1082 997h0M1100 988h0M1110 981h0M1112 977h0M1113 964h0M1115 980h0M1093 993h0M1112 957h0M1117 967h0M1091 992h0M1078 988h0M1087 942h0M1076 987h0M1083 989h0M1069 991h0M1074 986h0M1101 943h0M1089 938h0M1073 1000h0M1071 989h0M1060 981h0M1077 943h0M1127 956h0M1077 996h0M1053 979h0M1099 996h0M1064 985h0M1127 981h0M1051 975h0M1102 939h0M1093 998h0M1062 964h0M1127 978h0M1122 951h0M1097 935h0M1103 944h0M1095 995h0M1051 964h0M1114 987h0M1070 939h0M1058 953h0M1123 948h0M1120 948h0M1114 993h0M1128 968h0M1115 952h0M1062 953h0M1072 990h0M1091 937h0M1108 947h0M1070 998h0M1126 969h0M1087 943h0M1106 997h0M1107 942h0M1060 973h0M1122 975h0M1118 982h0M1109 947h0M1080 999h0M1052 962h0M1104 995h0M1124 984h0M1077 1000h0M1087 939h0M1063 946h0M1081 998h0M1073 938h0M1118 991h0M1096 1003h0M1067 988h0M977 1013h0M1106 1068h0M1002 962h0M1022 1014h0M1100 1032h0M1123 1007h0M999 937h0M1105 938h0M1161 979h0M1134 988h0M1048 947h0M1076 1041h0M1141 1063h0M1054 900h0M1014 1033h0M983 1058h0M1223 920h0M1053 913h0M1107 937h0M1096 1034h0M1190 1023h0M1192 958h0M1064 990h0M1093 1014h0M1022 1000h0M1177 894h0M999 1060h0M1122 921h0M1126 997h0M1027 981h0M1096 1081h0M1142 869h0M1047 972h0M1200 953h0M1209 987h0M1124 1017h0M1044 911h0M1049 886h0M1058 950h0M1067 1000h0M1108 898h0M1011 1045h0M1081 1024h0M1126 932h0M1239 984h0M1134 997h0M1094 1077h0M1055 1039h0M1024 1084h0M1092 935h0M1129 910h0M1107 1024h0M1064 984h0M1171 1056h0M1050 930h0M1123 1075h0M1180 931h0M1091 1086h0M1203 968h0M970 935h0M1136 987h0M1171 1012h0M1052 851h0M1155 1082h0M1192 869h0M1166 891h0M970 1046h0M1088 1068h0M1108 945h0M1204 976h0M1208 1019h0M1151 915h0M1037 955h0M1152 993h0M1133 883h0M1100 1038h0M1183 889h0M1110 896h0M1103 1024h0M1055 976h0M1205 875h0M1241 931h0M996 901h0M1161 923h0M1026 1039h0M1060 1033h0M1066 1019h0M1029 958h0M1111 1026h0M1231 983h0M1221 921h0M1089 922h0M1194 1023h0M1096 1035h0M1060 899h0M1102 1016h0M1143 1090h0M1129 985h0M958 980h0M1197 949h0M1121 1031h0M1073 1030h0M1169 983h0M1030 936h0M988 985h0M1125 941h0M1195 927h0M1109 870h0M1133 968h0M1052 1020h0M1067 912h0M1195 984h0M1079 1020h0M1074 1002h0M1079 925h0M1104 939h0M1174 854h0M1094 1088h0M987 913h0M1138 940h0M987 904h0M1015 921h0M1167 918h0M1091 1008h0M1204 1021h0M997 864h0M1100 1039h0M1057 1054h0M1076 1063h0M1126 847h0M1068 988h0M1096 1028h0M1171 932h0M1126 962h0M1033 986h0M1147 899h0M1040 1094h0M950 945h0M1153 928h0M1135 1078h0M1144 967h0M1217 893h0M1083 1006h0M1033 973h0M1122 936h0M1134 992h0M1127 956h0M1087 1081h0M1182 1029h0M1058 860h0M1053 973h0M1113 903h0M1105 1082h0M1114 1007h0M1149 960h0M1125 983h0M1050 944h0M1165 1067h0M1154 866h0M991 874h0M1043 973h0M1223 944h0M1040 1039h0M1156 925h0M1081 1008h0M1010 980h0M1138 1003h0M1061 981h0M1103 1031h0M1218 1025h0M985 879h0M1098 1015h0M1136 903h0M1185 945h0M1161 1000h0M1055 997h0M1103 1053h0M944 946h0M1074 912h0M1055 953h0M1125 966h0M1067 1092h0M1153 1086h0M1152 935h0M1132 990h0M1095 866h0M1173 946h0M1201 996h0M1079 931h0M1029 897h0M1052 973h0M1042 1004h0M1228 1026h0M1038 991h0M1047 1062h0M1105 1011h0M954 925h0M1120 1022h0M1159 966h0M1144 907h0M1167 859h0M1178 893h0M1055 972h0M1155 1055h0M1134 902h0M1057 1034h0M977 957h0M1001 871h0M1087 902h0M1124 954h0M1028 1034h0M983 967h0M979 938h0M1075 910h0M996 919h0M1007 879h0M1071 994h0M1202 937h0M963 936h0M1166 1068h0M1008 911h0M1186 966h0M1158 1057h0M978 927h0M1019 961h0M1067 994h0M1018 1011h0M1072 934h0M1067 918h0M1047 1007h0M1129 1008h0M1038 857h0M1147 965h0M1117 1029h0M1173 857h0M1185 937h0M1092 1057h0M1102 1088h0M1153 989h0M1197 959h0M963 973h0M998 962h0M1052 1012h0M1014 987h0M1128 1061h0M989 901h0M944 974h0M1010 1032h0M1088 851h0M1057 951h0M1130 966h0M1048 1018h0M1057 984h0M1190 957h0M1100 927h0M958 928h0M1241 997h0M1058 994h0M1200 953h0M1209 992h0M1002 961h0M1035 1029h0M1187 865h0M1088 1030h0M1059 1031h0M1021 1048h0M1050 949h0M1076 995h0M1132 845h0M1022 864h0M1102 1005h0M1133 985h0M1089 933h0M1206 999h0M1042 977h0M1181 876h0M1113 1045h0M1036 883h0M1126 944h0M1033 934h0M1122 933h0M1088 869h0M1040 964h0M1147 931h0M1214 1003h0M1029 942h0M1148 947h0M1028 980h0M1143 875h0M1077 1033h0M1074 1017h0M1152 930h0M995 1067h0M1051 999h0M1049 1023h0M1135 995h0M1183 889h0M1072 1027h0M1181 950h0M1165 958h0M1117 896h0M1196 1026h0M1220 1020h0M969 1023h0M1053 961h0M1005 997h0M1181 957h0M1130 1051h0M1162 1012h0M1142 976h0M1109 942h0M1175 955h0M1122 936h0M1129 1091h0M1060 984h0M1053 1032h0M1049 944h0M1123 992h0M1002 1009h0M1165 885h0M1089 1003h0M1218 891h0M1129 1079h0M1083 913h0M1036 931h0M1031 947h0M1081 997h0M1059 925h0M1056 917h0M1136 856h0M1049 1035h0M1176 944h0M1120 1083h0M1226 902h0M1219 970h0M1055 981h0M1165 1060h0M1029 1078h0M1005 876h0M1218 929h0M1032 852h0M1092 1079h0M1093 1035h0M1164 1047h0M1139 983h0M1039 1054h0M1154 868h0M996 929h0M1118 1012h0M992 1016h0M1151 1063h0M1090 894h0M1120 1021h0M954 985h0M1174 926h0M1117 943h0M1056 910h0M1060 979h0M1055 969h0M1057 978h0M1138 931h0M1006 967h0M1048 1001h0M1043 975h0M962 947h0M1030 870h0M1128 959h0M999 923h0M949 921h0M1215 1014h0M992 983h0M1066 889h0M1010 944h0M1078 1026h0M1230 985h0M1134 1006h0M1153 988h0M1163 921h0M1168 949h0M1058 1010h0M1016 1084h0M1064 932h0M1188 1003h0M1011 995h0M1192 870h0M1034 895h0M1138 946h0M1166 855h0M1129 967h0M1059 939h0M1094 853h0M1144 1055h0M1080 1101h0M1042 1022h0M1157 1069h0M1023 879h0M1080 928h0M1056 841h0M1032 961h0M1028 1056h0M1086 922h0M1129 1024h0M1123 988h0M1039 934h0M1161 999h0M1076 885h0M1121 942h0M1155 859h0M1070 995h0M999 957h0M1189 917h0M1150 968h0M1019 980h0M983 1059h0M982 925h0M1164 952h0M1003 887h0M979 912h0M1111 909h0M982 940h0M1052 948h0M1132 978h0M1048 982h0M1136 985h0M1053 950h0M1134 977h0M1220 981h0M1057 911h0M1195 966h0M1155 853h0M1008 1057h0M1043 998h0M1199 976h0M1085 1076h0M1078 1026h0M1197 950h0M998 1020h0M1184 890h0M1114 920h0M945 950h0M1065 1028h0M1001 1008h0M1054 953h0M1199 930h0M1186 1045h0M976 966h0M1216 901h0M1053 975h0M967 929h0M1085 937h0M1136 904h0M1048 967h0M1081 1008h0M969 929h0M1181 953h0M1190 991h0M1001 914h0M1054 860h0M1059 1003h0M1099 917h0M1022 903h0M1050 960h0M966 1042h0M1107 945h0M1040 1034h0M1129 1015h0M1016 1032h0M1166 1054h0M1092 1083h0M1037 862h0M1073 845h0M1131 985h0M1126 1038h0M1157 976h0M1035 859h0M1065 913h0M1023 930h0M1148 850h0M1139 1006h0M1093 1063h0M1150 883h0M1116 1063h0M1142 1068h0M974 901h0M1041 980h0M1018 956h0M1104 913h0M1184 1012h0M1075 997h0M990 904h0M1233 1019h0M1171 933h0M1191 1019h0M1118 950h0M1071 910h0M1121 1018h0M1050 944h0M1165 850h0M1133 940h0M1047 962h0M1124 912h0M1154 897h0M1112 900h0M1116 1094h0M1089 1031h0M1101 934h0M1049 1007h0M1176 1062h0M1026 905h0M1020 1016h0M1048 1003h0M979 1027h0M1082 898h0M1075 930h0M1012 875h0M1111 1066h0M1078 1040h0M1010 997h0M1122 993h0M1100 1045h0M1045 957h0M1107 865h0M1116 1097h0M1101 1076h0M1122 932h0M1137 987h0M1226 990h0M1049 995h0M1103 853h0M1090 1068h0M1117 917h0M1178 1053h0M1081 937h0M1096 873h0M1081 932h0M1016 873h0M1127 907h0M939 977h0M1038 952h0M1091 899h0M1019 1020h0M1134 983h0M1144 985h0M989 933h0M1133 901h0M1082 1022h0M1009 1002h0M1128 1017h0M1025 854h0M984 960h0M1141 915h0M991 998h0M1038 938h0M1066 913h0M1171 931h0M1137 1011h0M1137 987h0M1054 962h0M1165 990h0M1210 910h0M981 999h0M994 934h0M979 969h0M1155 961h0M1144 974h0M1110 1009h0M1125 938h0M1183 952h0M1109 1011h0M1020 1020h0M1082 913h0M1057 979h0M1195 874h0M1076 1028h0M976 954h0M1074 1037h0M1008 909h0M1105 916h0M1136 899h0M936 989h0M1133 969h0M994 933h0M1171 913h0M1053 1059h0M1063 896h0M1079 1035h0M1123 1010h0M1040 923h0M1121 954h0M1206 1045h0M1112 863h0M1120 946h0M1183 1046h0M1202 983h0M1122 958h0M1155 1055h0M1104 1005h0M1129 986h0M1148 1025h0M1081 853h0M1078 928h0M1137 988h0M1126 1078h0M987 970h0M1036 1043h0M1182 968h0M1114 998h0M1056 973h0M1053 1086h0M1005 889h0M1034 1014h0M1018 1012h0M995 969h0M1041 991h0M1206 985h0M994 942h0M1124 1009h0M1201 956h0M1125 966h0M1112 943h0M1171 877h0M1212 991h0M1014 922h0M980 926h0M1056 860h0M1229 914h0M1208 988h0M1113 1048h0M1107 902h0M1096 845h0M1133 989h0M1171 1055h0M1115 850h0M1061 980h0M1043 856h0M1173 1007h0M1016 1084h0M977 1010h0M1038 941h0M1146 1025h0M1069 930h0M1142 940h0M1020 1026h0M1116 1017h0M1112 915h0M958 920h0M960 975h0M1188 1008h0M1059 917h0M1013 881h0M1183 978h0M1137 947h0M1040 1004h0M973 914h0M1066 842h0M1003 977h0M1076 850h0M1048 953h0M1108 910h0M1125 943h0M1000 967h0M1134 911h0M1201 935h0M1194 1033h0M1161 946h0M1064 1040h0M1127 972h0M1057 996h0M1128 885h0M964 904h0M1064 941h0M1095 1014h0M993 959h0M1047 952h0M993 991h0M1063 906h0M1219 979h0M1048 921h0M1122 886h0M1210 900h0M1176 992h0M1192 952h0M1181 919h0M1068 909h0M1205 1008h0M1167 879h0M1118 1080h0M1136 935h0M1017 886h0M1104 1078h0M1089 1009h0M1149 1040h0M1049 960h0M1097 1007h0M983 951h0M1093 842h0M1128 1016h0M1181 996h0M1077 864h0M1130 991h0M1004 1079h0M1121 991h0M1119 909h0M1162 912h0M990 991h0M1038 899h0M1098 1091h0M1027 971h0M1079 1002h0M1112 856h0M964 936h0M1125 966h0M1179 1069h0M1115 1016h0M1119 992h0M1000 965h0M1130 997h0M980 962h0M1051 955h0M1009 1013h0M1104 933h0M1159 943h0M1156 988h0M1046 905h0M1028 1011h0M1026 871h0M1070 1003h0M1125 869h0M990 890h0M1123 909h0M1058 1061h0M1117 941h0M1159 962h0M1110 946h0M1224 1001h0M990 984h0M1127 977h0M1098 1030h0M1052 963h0M986 1004h0M1184 966h0M982 942h0M1126 1087h0M1110 1016h0M1150 1007h0M1026 892h0M1067 903h0M1214 901h0M1000 1065h0M1181 1018h0M1131 840h0M1129 1024h0M1014 1022h0M1160 1021h0M1008 1050h0M1128 979h0M1051 960h0M1106 1021h0M1032 888h0M1180 970h0M1147 903h0M1084 1006h0M1187 967h0M1133 1008h0M956 909h0M1121 958h0M1019 978h0M1056 946h0M1175 1045h0M1102 1042h0M1126 993h0M1059 1032h0M1061 895h0M1082 1007h0M944 995h0M1191 979h0M1172 957h0M1117 1005h0M1165 853h0M1143 958h0M1168 949h0M1112 910h0M1111 1024h0M1004 980h0M1052 926h0M1008 1008h0M1099 1030h0M1206 919h0M978 953h0M1200 971h0M1062 848h0M986 973h0M1175 913h0M1133 1037h0M1129 959h0M1118 932h0M1131 1009h0M1104 1004h0M1202 999h0M1076 1063h0M1072 1005h0M1045 926h0M1126 987h0M981 974h0M1126 1014h0M936 965h0M1067 914h0M1108 909h0M1050 948h0M992 913h0M1115 948h0M1092 934h0M1029 942h0M1211 981h0M1132 957h0M1015 1031h0M1022 1013h0M1103 918h0M1151 976h0M988 996h0M1048 1071h0M1097 1057h0M994 1038h0M1013 943h0M1166 918h0M1035 961h0M1119 895h0M1083 1055h0M973 995h0M960 976h0M1054 915h0M1068 890h0M1083 936h0M1031 1010h0M1050 973h0M1063 932h0M1064 1013h0M1179 1018h0M1074 993h0M1048 963h0M1150 981h0M988 1027h0M1116 1093h0M1014 1041h0M1167 960h0M1035 991h0M1129 935h0M1097 1010h0M1166 973h0M1106 1070h0M1132 1081h0M993 986h0M1139 942h0M1053 1032h0M1061 1023h0M1109 930h0M1144 910h0M1010 1001h0M1194 934h0M1210 971h0M1124 943h0M989 908h0M1066 927h0M1227 920h0M1196 991h0M1200 1007h0M1136 960h0M1203 1028h0M1201 905h0M1151 899h0M1057 950h0M1093 902h0M1127 978h0M1058 934h0M1134 956h0M965 1026h0M1103 895h0M1098 1058h0M1040 959h0M1103 1034h0M995 954h0M1123 1010h0M1154 973h0M1171 908h0M971 966h0M983 915h0M1018 962h0M1111 1043h0M986 985h0M1193 978h0M995 1012h0M1209 976h0M1233 992h0M1161 984h0M1215 946h0M1131 958h0M1122 939h0M1126 1012h0M1033 985h0M1138 955h0M1037 949h0M1157 869h0M960 970h0M1106 928h0M967 929h0M1174 939h0M1017 1008h0M1120 946h0M1153 1028h0M1025 916h0M1071 1065h0M1110 1069h0M1036 1069h0M1056 1096h0M1036 948h0M1121 893h0M1191 971h0M1001 895h0M1184 1004h0M1194 940h0M1074 846h0M1120 837h0M1116 1087h0M1101 1037h0M1092 999h0M990 954h0M1041 844h0M1069 851h0M1054 958h0M1117 866h0M999 1000h0M1133 989h0M989 911h0M1048 1021h0M1145 1013h0M1097 1097h0M1140 911h0M1157 1076h0M1157 1070h0M1149 1017h0M1103 869h0M1129 1074h0M1024 885h0M1044 953h0M1095 1032h0M1106 902h0M1115 899h0M1161 909h0M1188 975h0M1137 965h0M1066 1014h0M1191 1000h0M1108 1017h0M1224 1020h0M1126 966h0M1067 1058h0M1139 904h0M1065 940h0M970 1000h0M985 878h0M990 1050h0M1148 992h0M1061 987h0M1090 999h0M1192 931h0M1228 901h0M1075 905h0M1154 912h0M1074 996h0M1126 968h0M1186 1032h0M1131 1006h0M1027 957h0M1146 966h0M1142 991h0M1097 1039h0M1064 1036h0M1121 959h0M1133 943h0M1101 1000h0M1072 933h0M1097 1039h0M1107 842h0M1051 1040h0M1053 1037h0M1064 989h0M994 964h0M990 940h0M1027 892h0M1166 934h0M1011 882h0M1225 998h0M1215 1034h0M1178 945h0M1140 1015h0M1084 844h0M1038 942h0M1023 1017h0M962 978h0M1112 940h0M1042 889h0M1178 1020h0M1054 961h0M1110 934h0M988 941h0M975 977h0M1098 1064h0M1133 947h0M1140 894h0M968 961h0M1127 955h0M1054 1021h0M1141 859h0M1134 985h0M986 1060h0M1139 996h0M1127 985h0M1053 1021h0M1034 1049h0M1056 1060h0M1128 952h0M1200 891h0M991 886h0M962 1045h0M1128 1101h0M954 969h0M1233 1025h0M953 947h0M1226 923h0" stroke="#4a1a74" stroke-opacity="0.5" stroke-width="3.0" stroke-linecap="round" fill="none"/><path d="M1101 973h0M1112 975h0M1103 973h0M1102 971h0M1088 968h0M1091 955h0M1073 974h0M1113 965h0M1076 967h0M1107 978h0M1089 957h0M1109 983h0M1085 957h0M1089 990h0M1087 950h0M1085 976h0M1079 986h0M1113 961h0M1099 983h0M1069 959h0M1079 953h0M1102 988h0M1102 973h0M1091 947h0M1085 981h0M1085 971h0M1071 965h0M1077 972h0M1101 955h0M1086 971h0M1089 961h0M1108 957h0M1085 988h0M1097 985h0M1071 963h0M1086 962h0M1084 971h0M1113 962h0M1076 983h0M1098 967h0M1095 950h0M1110 960h0M1069 969h0M1111 963h0M1101 969h0M1086 985h0M1105 964h0M1068 961h0M1108 980h0M1080 987h0M1095 978h0M1112 964h0M1086 970h0M1084 969h0M1103 958h0M1082 960h0M1068 969h0M1066 966h0M1079 950h0M1085 957h0M1112 975h0M1095 973h0M1106 956h0M1068 960h0M1102 987h0M1069 975h0M1108 956h0M1085 988h0M1111 972h0M1105 958h0M1099 981h0M1081 958h0M1083 960h0M1077 979h0M1089 979h0M1114 967h0M1103 979h0M1091 961h0M1090 961h0M1072 955h0M1105 977h0M1091 954h0M1095 948h0M1091 964h0M1066 969h0M1113 977h0M1080 985h0M1109 972h0M1080 960h0M1105 984h0M1098 957h0M1102 971h0M1068 977h0M1106 954h0M1084 979h0M1110 969h0M1099 952h0M1077 985h0M1083 948h0M1097 984h0M1103 956h0M1071 959h0M1083 958h0M1097 981h0M1074 983h0M1111 979h0M1108 965h0M1094 980h0M1084 981h0M1086 967h0M1087 983h0M1079 958h0M1085 974h0M1098 968h0M1094 961h0M1088 955h0M1106 951h0M1079 988h0M1095 956h0M1084 970h0M1090 988h0M1070 967h0M1075 982h0M1069 967h0M1070 981h0M1086 963h0M1074 982h0M1110 979h0M1094 966h0M1106 973h0M1073 970h0M1104 967h0M1088 953h0M1087 988h0M1085 960h0M1090 966h0M1110 975h0M1090 964h0M1096 969h0M1086 974h0M1113 960h0M1081 948h0M1069 957h0M1092 986h0M1073 984h0M1093 969h0M1087 955h0M1105 981h0M1091 976h0M1106 962h0M1085 949h0M1077 959h0M1071 981h0M1088 966h0M1106 958h0M1100 977h0M1092 969h0M1077 952h0M1086 951h0M1102 974h0M1083 989h0M1076 961h0M1072 981h0M1078 964h0M1085 989h0M1073 981h0M1112 976h0M1087 979h0M1081 982h0M1079 964h0M1091 981h0M1090 968h0M1080 958h0M1079 988h0M1072 969h0M1078 964h0M1077 951h0M1095 951h0M1106 956h0M1090 963h0M1102 952h0M1099 978h0M1086 981h0M1108 959h0M1067 965h0M1098 986h0M1108 964h0M1107 968h0M1095 974h0M1072 975h0M1076 952h0M1088 950h0M1098 958h0M1104 982h0M1089 961h0M1112 980h0M1090 982h0M1094 961h0M1093 989h0M1068 979h0M1080 959h0M1099 957h0M1088 966h0M1108 981h0M1102 972h0M1075 972h0M1087 963h0M1097 983h0M1092 958h0M1079 950h0M1082 988h0M1087 988h0M1102 981h0M1092 956h0M1102 960h0M1098 970h0M1093 983h0M1076 973h0M1098 976h0M1079 976h0M1069 980h0M1070 980h0M1074 964h0M1106 952h0M1081 961h0M1105 982h0M1081 964h0M1095 968h0M1112 963h0M1076 960h0M1073 984h0M1085 983h0M1097 969h0M1084 978h0M1100 965h0M1101 960h0M1105 976h0M1103 968h0M1100 950h0M1076 967h0M1088 966h0M1112 963h0M1103 986h0M1090 960h0M1093 960h0M1093 963h0M1076 967h0M1080 955h0M1074 967h0M1093 952h0M1087 959h0M1111 975h0M1097 976h0M1081 959h0M1100 976h0M1090 966h0M1085 953h0M1092 956h0M1092 955h0M1098 962h0M1086 980h0M1088 973h0M1079 966h0M1105 985h0M1081 987h0M1102 957h0M1098 975h0M1101 975h0M1091 955h0M1115 970h0M1104 982h0M1099 977h0M1075 953h0M1111 958h0M1112 960h0M1102 969h0M1104 985h0M1074 959h0M1098 980h0M1068 960h0M1104 952h0M1085 959h0M1101 988h0M1087 959h0M1101 960h0M1099 962h0M1093 989h0M1086 952h0M1080 971h0M1090 957h0M1088 952h0M1112 978h0M1108 953h0M1082 978h0M1099 976h0M1095 957h0M1075 976h0M1107 960h0M1114 975h0M1106 953h0M1084 954h0M1086 962h0M1089 954h0M1105 985h0M1110 960h0M1105 963h0M1081 954h0M1113 976h0M1074 962h0M1107 976h0M1070 975h0M1100 976h0M1103 986h0M1069 963h0M1106 975h0M1079 975h0M1067 968h0M1100 971h0M1095 989h0M1091 950h0M1075 954h0M1084 970h0M1106 982h0M1094 977h0M1080 974h0M1083 984h0M1081 985h0M1094 963h0M1093 990h0M1107 983h0M1102 951h0M1098 973h0M1099 983h0M1088 948h0M1078 954h0M1100 951h0M1108 976h0M1103 951h0M1079 982h0M1093 957h0M1091 976h0M1100 971h0M1100 981h0M1101 988h0M1102 981h0M1102 950h0M1091 971h0M1093 983h0M1081 977h0M1082 989h0M1115 968h0M1110 966h0M1082 983h0M1093 953h0M1103 964h0M1079 985h0M1102 950h0M1104 956h0M1093 989h0M1091 975h0M1091 986h0M1085 977h0M1098 959h0M1093 986h0M1094 973h0M1087 958h0M1079 974h0M1091 948h0M1079 988h0M1110 960h0M1101 962h0M1074 982h0M1094 969h0M1070 959h0M1072 975h0M1086 979h0M1096 964h0M1072 958h0M1095 982h0M1080 955h0M1074 983h0M1070 969h0M1106 962h0M1068 967h0M1111 961h0M1086 982h0M1090 948h0M1097 949h0M1086 956h0M1108 973h0M1081 982h0M1104 983h0M1078 960h0M1079 983h0M1103 983h0M1073 961h0M1095 986h0M1071 981h0M1082 956h0M1111 978h0M1105 961h0M1072 966h0M1079 952h0M1090 980h0M1081 964h0M1094 944h0M1083 991h0M1101 999h0M1083 991h0M1066 969h0M1110 983h0M1060 975h0M1079 987h0M1095 947h0M1069 982h0M1103 986h0M1065 970h0M1069 984h0M1097 941h0M1082 996h0M1108 949h0M1069 980h0M1073 988h0M1069 978h0M1092 989h0M1103 987h0M1071 992h0M1087 996h0M1066 978h0M1108 954h0M1111 959h0M1108 993h0M1122 977h0M1097 944h0M1106 993h0M1096 944h0M1076 952h0M1102 989h0M1094 943h0M1118 983h0M1073 952h0M1114 963h0M1111 957h0M1062 975h0M1112 975h0M1066 986h0M1091 947h0M1066 949h0M1102 946h0M1101 950h0M1098 943h0M1116 983h0M1091 946h0M1081 945h0M1084 991h0M1109 953h0M1104 989h0M1121 975h0M1073 984h0M1103 988h0M1091 995h0M1073 983h0M1066 952h0M1114 953h0M1116 973h0M1077 952h0M1092 948h0M1114 981h0M1069 982h0M1110 958h0M1114 977h0M1081 992h0M1076 988h0M1092 990h0M1066 960h0M1105 941h0M1110 949h0M1086 991h0M1122 971h0M1066 954h0M1099 993h0M1067 964h0M1062 990h0M1068 964h0M1120 967h0M1069 990h0M1081 989h0M1074 943h0M1074 984h0M1064 960h0M1062 964h0M1069 976h0M1116 964h0M1071 945h0M1082 988h0M1096 945h0M1080 987h0M1120 981h0M1112 984h0M1080 988h0M1109 991h0M1098 943h0M1084 944h0M1068 978h0M1066 977h0M1089 990h0M1082 937h0M1108 987h0M1074 996h0M1073 997h0M1088 935h0M1114 994h0M1105 1000h0M1111 987h0M1104 942h0M1114 947h0M1054 982h0M1127 962h0M1083 935h0M1078 993h0M1127 955h0M1118 980h0M1062 957h0M1105 998h0M1059 972h0M1065 955h0M1126 972h0M1064 982h0M1055 971h0M1061 990h0M1059 985h0M1100 998h0M1088 943h0M1091 1004h0M1055 970h0M1127 973h0M1126 969h0M1126 978h0M1054 984h0M1072 946h0M1122 978h0M1120 963h0M1056 975h0M1072 993h0M1082 941h0M1109 996h0M1121 953h0M1126 984h0M1106 999h0M1111 939h0M1119 980h0M1120 954h0M1060 980h0M1055 971h0M1118 993h0M1094 995h0M1125 956h0M1082 912h0M1188 1053h0M1080 1000h0M1004 892h0M1093 878h0M1049 964h0M1102 903h0M999 936h0M1048 987h0M1042 957h0M1083 1001h0M1205 898h0M1026 924h0M1026 972h0M996 932h0M994 991h0M1021 1010h0M1171 1078h0M1116 897h0M1001 895h0M1191 931h0M1212 1011h0M1222 1020h0M1032 890h0M1055 865h0M956 1038h0M1206 1027h0M1069 929h0M1086 893h0M951 1008h0M1056 955h0M965 1012h0M1021 1043h0M1085 924h0M1072 927h0M983 965h0M1096 1010h0M1078 1051h0M1199 973h0M1145 905h0M1041 1040h0M1092 1055h0M1003 919h0M941 939h0M1232 1015h0M993 948h0M978 934h0M1058 979h0M975 923h0M1022 964h0M1129 900h0M1091 1017h0M1104 1090h0M1013 1055h0M1064 869h0M1099 1049h0M1037 873h0M1059 933h0M990 1071h0M1113 949h0M1052 982h0M989 958h0M1217 1021h0M998 893h0M1189 897h0M1131 943h0M1016 949h0M1019 1014h0M1091 1033h0M1022 985h0M1062 983h0M1114 895h0M1073 847h0M993 1035h0M1089 1006h0M1042 961h0M989 928h0M1018 1012h0M1148 1079h0M1182 1041h0M1054 914h0M1084 905h0M1211 971h0M1049 1078h0M1022 884h0M1072 924h0M1065 1087h0M1091 1067h0M1061 945h0M1056 982h0M1022 1046h0M1098 1009h0M1181 1043h0M1074 1045h0M992 915h0M1170 932h0M1115 892h0M1027 952h0M1013 1031h0M1055 1025h0M1229 906h0M1108 946h0M1120 887h0M954 1029h0M1065 998h0M1157 939h0M1123 929h0M1043 846h0M992 914h0M1035 983h0M1012 913h0M970 963h0M1116 949h0M1004 944h0M1119 1060h0M979 959h0M1013 1008h0M1135 982h0M1125 924h0M1073 1040h0M1096 1020h0M961 1046h0M1065 985h0M1158 1069h0M1138 1089h0M1080 865h0M1166 960h0M1022 861h0M1012 975h0M1035 888h0M1076 849h0M1087 900h0M1045 935h0M1205 877h0M1231 1021h0M1052 919h0M1045 903h0M1138 980h0M1163 866h0M1156 921h0M1089 925h0M1154 971h0M1020 1029h0M1129 990h0M975 882h0M1059 945h0M1130 1055h0M1201 979h0M1144 954h0M1075 922h0M1082 912h0M990 987h0M1098 1050h0M1181 1055h0M1111 932h0M976 990h0M1059 999h0M961 1034h0M1075 843h0M1104 999h0M1058 1006h0M1071 1015h0M1100 921h0M1086 918h0M1179 958h0M1055 1001h0M1053 970h0M1228 984h0M1130 979h0M1005 1054h0M1019 1088h0M1071 939h0M1080 937h0M1170 912h0M1133 971h0M1173 893h0M1096 1094h0M1095 887h0M1047 954h0M1062 998h0M1199 992h0M1030 887h0M1126 902h0M1036 941h0M1209 999h0M1054 916h0M1123 962h0M1126 898h0M1112 916h0M1063 878h0M1198 965h0M1116 1002h0M1082 1008h0M1058 982h0M1014 963h0M1037 853h0M963 1003h0M1140 1041h0M1045 1006h0M1027 858h0M1127 843h0M1028 874h0M1105 907h0M1231 1010h0M1013 870h0M1212 989h0M1157 939h0M1066 933h0M1122 1002h0M1090 936h0M1171 1060h0M1162 1055h0M1134 1001h0M1019 1046h0M1199 958h0M1128 999h0M1114 1042h0M1094 840h0M1083 934h0M1152 976h0M1093 1093h0M1057 886h0M1036 951h0M1143 893h0M1058 920h0M1212 1010h0M1004 972h0M1243 999h0M1181 941h0M1109 942h0M1203 918h0M1049 852h0M1086 836h0M1214 894h0M1076 891h0M1098 1017h0M1196 1020h0M1043 874h0M1124 960h0M1206 966h0M1013 964h0M998 905h0M1092 932h0M1119 906h0M1174 943h0M1169 863h0M975 1017h0M1054 948h0M1056 1045h0M1076 887h0M1135 985h0M1118 1016h0M1115 1007h0M1059 943h0M1062 859h0M1147 1070h0M1135 1048h0M1092 840h0M1094 871h0M1145 908h0M1030 964h0M1103 1024h0M1188 881h0M965 991h0M1141 922h0M1057 975h0M1129 1004h0M1029 956h0M1004 1008h0M1075 1042h0M1109 1043h0M1101 936h0M1192 977h0M1154 860h0M1005 868h0M981 934h0M1058 859h0M1132 980h0M1078 920h0M1228 933h0M1010 899h0M1125 958h0M1115 864h0M1136 1001h0M1102 1087h0M991 984h0M1132 913h0M1109 836h0M1190 986h0M1091 900h0M981 991h0M1002 919h0M1048 1027h0M1053 935h0M1221 914h0M1159 874h0M1027 980h0M1122 1011h0M1079 1042h0M1089 1022h0M1131 978h0M1055 1071h0M1139 1017h0M1180 975h0M1137 1060h0M1101 933h0M1017 988h0M1075 1012h0M1109 1015h0M1143 954h0M991 1017h0M1014 983h0M1092 853h0M1040 983h0M1160 923h0M974 1001h0M993 994h0M1090 917h0M1079 931h0M1083 923h0M954 925h0M1029 986h0M1083 1011h0M1152 901h0M1006 1084h0M1216 921h0M1085 892h0M1129 894h0M1080 1040h0M989 969h0M1110 890h0M1018 863h0M1166 988h0M1094 1046h0M1173 945h0M1210 882h0M1089 928h0M1116 1060h0M1100 886h0M982 1052h0M1036 1054h0M1075 1029h0M1000 913h0M1057 1027h0M993 1002h0M1063 985h0M966 924h0M1114 908h0M1153 1075h0M1085 1016h0M1053 1003h0M1115 1016h0M1065 997h0M1073 929h0M937 962h0M1126 1002h0M1134 896h0M1036 867h0M1033 937h0M1034 867h0M1088 933h0M1124 897h0M1090 1015h0M1138 950h0M1096 1042h0M1194 953h0M1023 911h0M1124 998h0M970 908h0M1188 938h0M1122 959h0M1224 945h0M1116 948h0M1114 896h0M1022 866h0M1171 993h0M1133 930h0M1173 1038h0M1096 870h0M1113 1009h0M1031 909h0M1044 887h0M1145 1082h0M1182 955h0M1065 881h0M1053 985h0M1120 1001h0M1136 1032h0M1028 1054h0M1111 862h0M1116 1011h0M1146 925h0M962 956h0M1136 990h0M1110 901h0M1106 943h0M1032 1016h0M983 961h0M998 1007h0M1194 1025h0M974 1060h0M997 1030h0M1048 843h0M1143 901h0M1122 1019h0M1040 1030h0M1112 899h0M1108 1035h0M1119 1051h0M1183 1052h0M1049 969h0M1116 1016h0M985 918h0M1079 1056h0M1111 1010h0M1061 880h0M1127 1012h0M1163 957h0M948 923h0M1053 956h0M1224 980h0M1086 875h0M979 976h0M1067 924h0M1108 1027h0M1243 994h0M1170 1050h0M1129 949h0M1161 1047h0M1079 908h0M1036 1030h0M1122 1003h0M1058 1097h0M1158 1066h0M1107 1061h0M1090 895h0M1169 956h0M1197 982h0M1129 972h0M956 1042h0M1104 1050h0M1139 897h0M1143 1051h0M987 932h0M1132 851h0M1057 1010h0M1075 902h0M1097 1037h0M1013 1066h0M996 1068h0M970 1032h0M1061 938h0M1132 906h0M1163 950h0M1119 930h0M1048 1058h0M1107 938h0M1187 1016h0M1123 1001h0M964 995h0M984 1002h0M1186 915h0M1203 979h0M1069 910h0M1193 1023h0M1109 1016h0M1232 938h0M1147 866h0M1065 879h0M1081 912h0M1069 990h0M1120 1001h0M1079 998h0M993 900h0M1048 919h0M1039 986h0M1146 888h0M1112 1100h0M1176 1018h0M1151 1021h0M1135 977h0M1069 1042h0M1079 889h0M1032 999h0M1122 1010h0M1049 889h0M945 1009h0M1166 954h0M971 1060h0M1154 999h0M1057 1007h0M1176 964h0M1162 1005h0M980 889h0M1007 1083h0M1146 964h0M1141 1088h0M1147 1016h0M1155 1076h0M998 991h0M1156 1030h0M1026 1001h0M1145 931h0M1098 1091h0M1107 911h0M1050 904h0M1151 1024h0M1105 871h0M1189 1053h0M1019 989h0M1131 1006h0M973 974h0M1097 883h0M1043 971h0M1116 908h0M1035 1021h0M1100 906h0M1052 927h0M1087 1023h0M1038 923h0M1093 1028h0M1027 959h0M1119 954h0M1147 969h0M1088 1068h0M1008 877h0M1020 954h0M1043 903h0M1130 1004h0M1138 1020h0M992 898h0M1059 906h0M1104 943h0M938 948h0M1131 873h0M1042 1001h0M1162 967h0M988 939h0M1028 976h0M1201 1016h0M954 921h0M1207 1004h0M1166 961h0M1035 976h0M1146 1000h0M1119 1003h0M1105 1091h0M1163 920h0M1149 901h0M1121 942h0M1089 1022h0M958 955h0M1046 988h0M1009 892h0M1179 942h0M1124 961h0M1089 902h0M1046 978h0M1139 1042h0M1122 948h0M956 1029h0M1147 1059h0M1109 1031h0M1064 922h0M1152 969h0M1164 1048h0M1010 1077h0M971 928h0M1128 974h0M1151 992h0M1114 1099h0M1113 892h0M1148 1028h0M1143 1074h0M1048 945h0M1075 911h0M1059 983h0M1032 933h0M1137 963h0M1113 1002h0M1029 932h0M1198 1017h0M1046 1041h0M1085 1091h0M1199 1043h0M1079 842h0M1150 847h0M938 952h0M1102 928h0M1046 1043h0M1076 1011h0M1051 1051h0M1028 887h0M1183 1030h0M1042 1045h0M986 926h0M1011 956h0M1126 958h0M1086 1014h0M1016 944h0M1057 1032h0M1205 991h0M1202 1057h0M1198 982h0M1073 993h0M1016 997h0M1084 1020h0M1099 900h0M1023 995h0M1071 1088h0M1122 1026h0M1172 866h0M1172 894h0M1034 1012h0M1185 1027h0M1137 1021h0M1098 910h0M1152 920h0M1096 1099h0M1002 1001h0M1167 937h0M1185 1053h0M1023 1062h0M1045 944h0M1033 1020h0M1002 997h0M1105 1007h0M1104 910h0M1026 1021h0M1140 1083h0M1140 1088h0M1193 1000h0M1151 1018h0M1091 1004h0M1052 953h0M1097 1023h0M1117 1023h0M1183 889h0M977 938h0M1048 997h0M1154 1019h0M1061 923h0M1193 1020h0M1056 951h0M1145 843h0M993 943h0M1104 1008h0M1127 1046h0M1013 1055h0M1098 904h0M1201 924h0M1106 1024h0M996 929h0M1117 923h0M1152 923h0M1086 1095h0M1124 1089h0M1053 1006h0M1108 1020h0M1129 1088h0M1046 1026h0M1082 1023h0M1103 1001h0M1072 1026h0M977 901h0M999 977h0M1146 966h0M1154 903h0M979 969h0M1149 853h0M983 930h0M1147 992h0M1073 895h0M1140 1084h0M1057 990h0M1053 1088h0M1142 1049h0M1229 947h0M1010 1082h0M1170 935h0M1152 1042h0M1206 939h0M1141 925h0M997 891h0M1064 1033h0M1101 906h0M1030 1014h0M970 967h0M1119 994h0M1209 994h0M1079 1018h0M959 1043h0M1133 1045h0M968 952h0M1102 1006h0M990 942h0M1075 897h0M1083 897h0M1205 978h0M1145 1077h0M1048 1018h0M1043 973h0M1128 920h0M1035 1049h0M1035 1006h0M1212 1036h0M1180 962h0M1033 866h0M1072 1020h0M1164 944h0M1140 1018h0M1109 883h0M1060 923h0M1101 905h0M942 989h0M972 897h0M1182 1044h0M1080 998h0M1050 979h0M1156 1061h0M1033 959h0M1054 1027h0M1146 924h0M1086 932h0M998 935h0M1192 947h0M1134 970h0M1205 933h0M1051 868h0M1052 932h0M1130 946h0M1000 1007h0M1012 971h0M1061 902h0M1094 1003h0M1120 1000h0M1105 1022h0M1049 966h0M1019 906h0M1115 1022h0M997 939h0M1140 996h0M1083 998h0M1074 933h0M1066 936h0M1184 925h0M1129 977h0M1115 898h0M1198 974h0M1108 899h0M1126 983h0M964 972h0M975 956h0M1120 843h0M1037 1033h0M1011 923h0M1068 935h0M1189 944h0M1157 1071h0M1184 1040h0M990 934h0M1112 1074h0M981 1031h0M1169 922h0M1189 1020h0M1119 944h0M1107 1024h0M1119 999h0M1077 934h0M1182 915h0M1110 1087h0M1183 980h0M1159 913h0M1100 1038h0M989 1014h0M1107 1061h0M1119 907h0M1021 956h0M1138 932h0M1043 1080h0M1088 908h0M1138 897h0M1175 972h0M1132 1001h0M1158 915h0M1069 1010h0M1023 977h0M1097 939h0M952 920h0M1081 1098h0M1022 892h0M978 1060h0M1138 988h0M1037 1086h0M1030 977h0M1163 895h0M1005 988h0M1001 977h0M1094 911h0M1143 924h0M1132 1085h0M1099 1087h0M1193 950h0M1084 840h0M975 925h0M1114 918h0M1104 886h0M1028 953h0M1140 1061h0M1180 1008h0M1008 920h0M1132 1039h0M1048 973h0M1015 874h0M1093 1017h0M993 930h0M978 929h0M1053 1018h0M1054 953h0M1046 1005h0M1088 1084h0M1084 1102h0M1126 983h0M1198 931h0M1215 902h0M1115 942h0M1101 929h0M1170 874h0M1185 1036h0M1144 889h0M1061 889h0M1107 923h0M1188 1024h0M1061 887h0M1036 1031h0M1053 954h0M1060 933h0M1148 861h0M1231 941h0M1051 872h0M1158 995h0M1148 1035h0M1113 1018h0M1039 903h0M1180 934h0M1082 920h0M1122 899h0M1104 1023h0M1088 855h0M1057 988h0M1148 1011h0M1067 924h0M1058 1099h0M1131 1001h0M1050 924h0M1077 1011h0M1008 891h0M1229 984h0M1153 916h0M1052 969h0M1055 970h0M1189 1059h0M1144 880h0M1174 1066h0M1211 924h0M998 976h0M1020 1068h0M1026 867h0M1171 1020h0M1037 1030h0M1085 918h0M987 915h0M1063 1024h0M1078 889h0M1066 1017h0M1128 923h0M1107 855h0M1010 971h0M1110 1012h0M1013 1028h0M1095 1015h0M1141 1077h0M1241 975h0M1118 894h0M1107 871h0M1044 920h0M1084 999h0M1172 983h0M1097 1051h0M1047 956h0M1098 1047h0M1070 842h0M1024 955h0M958 967h0M1157 974h0M1110 1003h0M965 1045h0M964 1032h0M962 900h0M999 962h0M1038 909h0M1052 986h0M1133 1020h0M1035 1053h0M1052 957h0M1112 948h0M1165 937h0M1053 1004h0M1151 987h0M1065 993h0M1170 1055h0M1168 1063h0M1011 922h0M1061 1026h0M1128 997h0M1110 903h0M1003 925h0M1020 959h0M979 944h0M1168 956h0M957 950h0M1115 923h0M1143 1008h0M1067 1033h0M1064 1085h0M1108 1009h0M1191 948h0M1126 1046h0M1013 1027h0M1125 847h0M1095 921h0M997 996h0M1165 914h0M1063 895h0M1125 966h0M1211 888h0M1139 998h0M1152 920h0M1056 902h0M1036 939h0M1135 872h0M1161 939h0M1061 841h0M971 962h0M1097 1000h0M1156 938h0M1182 1046h0M1068 939h0M968 1039h0M976 933h0M1173 902h0M1184 957h0M1083 922h0M1125 966h0M1216 1019h0M1194 1055h0M1051 943h0M1187 941h0M1104 839h0M966 1044h0M1237 985h0M1132 838h0M956 901h0M1228 973h0M1074 839h0M1092 1097h0" stroke="#4a1a74" stroke-opacity="0.5" stroke-width="3.0" stroke-linecap="round" fill="none"/><polygon points="1090.3,961.3 1092.2,966.3 1097.4,966.5 1093.3,969.8 1094.7,974.9 1090.3,971.9 1085.9,974.9 1087.3,969.8 1083.2,966.5 1088.4,966.3" fill="#ffe600"/><circle cx="1124.7" cy="989.7" r="3.6" fill="#0a14ff"/><rect x="932.40" y="829.60" width="315.80" height="278.80" fill="none" stroke="#222" stroke-width="1.0"/><line x1="946.90" y1="1108.40" x2="946.90" y2="1111.90" stroke="#222" stroke-width="0.9"/><text x="946.9" y="1129.8" font-size="14.1" text-anchor="middle" fill="#222">−100</text><line x1="1018.60" y1="1108.40" x2="1018.60" y2="1111.90" stroke="#222" stroke-width="0.9"/><text x="1018.6" y="1129.8" font-size="14.1" text-anchor="middle" fill="#222">−50</text><line x1="1090.30" y1="1108.40" x2="1090.30" y2="1111.90" stroke="#222" stroke-width="0.9"/><text x="1090.3" y="1129.8" font-size="14.1" text-anchor="middle" fill="#222">0</text><line x1="1162.00" y1="1108.40" x2="1162.00" y2="1111.90" stroke="#222" stroke-width="0.9"/><text x="1162.0" y="1129.8" font-size="14.1" text-anchor="middle" fill="#222">50</text><line x1="1233.70" y1="1108.40" x2="1233.70" y2="1111.90" stroke="#222" stroke-width="0.9"/><text x="1233.7" y="1129.8" font-size="14.1" text-anchor="middle" fill="#222">100</text><line x1="928.90" y1="1095.60" x2="932.40" y2="1095.60" stroke="#222" stroke-width="0.9"/><text x="922.3" y="1100.7" font-size="14.1" text-anchor="end" fill="#222">−100</text><line x1="928.90" y1="1063.90" x2="932.40" y2="1063.90" stroke="#222" stroke-width="0.9"/><text x="922.3" y="1069.0" font-size="14.1" text-anchor="end" fill="#222">−75</text><line x1="928.90" y1="1032.20" x2="932.40" y2="1032.20" stroke="#222" stroke-width="0.9"/><text x="922.3" y="1037.3" font-size="14.1" text-anchor="end" fill="#222">−50</text><line x1="928.90" y1="1000.50" x2="932.40" y2="1000.50" stroke="#222" stroke-width="0.9"/><text x="922.3" y="1005.6" font-size="14.1" text-anchor="end" fill="#222">−25</text><line x1="928.90" y1="968.80" x2="932.40" y2="968.80" stroke="#222" stroke-width="0.9"/><text x="922.3" y="973.9" font-size="14.1" text-anchor="end" fill="#222">0</text><line x1="928.90" y1="937.10" x2="932.40" y2="937.10" stroke="#222" stroke-width="0.9"/><text x="922.3" y="942.2" font-size="14.1" text-anchor="end" fill="#222">25</text><line x1="928.90" y1="905.40" x2="932.40" y2="905.40" stroke="#222" stroke-width="0.9"/><text x="922.3" y="910.5" font-size="14.1" text-anchor="end" fill="#222">50</text><line x1="928.90" y1="873.70" x2="932.40" y2="873.70" stroke="#222" stroke-width="0.9"/><text x="922.3" y="878.8" font-size="14.1" text-anchor="end" fill="#222">75</text><line x1="928.90" y1="842.00" x2="932.40" y2="842.00" stroke="#222" stroke-width="0.9"/><text x="922.3" y="847.1" font-size="14.1" text-anchor="end" fill="#222">100</text><text x="1090.0" y="820.8" font-size="17.1" text-anchor="middle" fill="#222">Prostorna raspodela čestica</text><text x="1090.0" y="1148.6" font-size="14.1" text-anchor="middle" fill="#222">x [AU]</text><text x="874.5" y="968.8" font-size="14.1" text-anchor="middle" fill="#222" transform="rotate(-90 874.5 968.8)">y [AU]</text><path d="M1364 1038h0M1373 1078h0M1345 1107h0M1373 1060h0M1341 1093h0M1345 1022h0M1341 1016h0M1350 1061h0M1373 1070h0M1376 1081h0M1376 1045h0M1353 1032h0M1340 1036h0M1370 1058h0M1375 1074h0M1355 1048h0M1356 1036h0M1347 1087h0M1350 1022h0M1362 1045h0M1363 1083h0M1360 1059h0M1367 1073h0M1377 1066h0M1363 1101h0M1360 1028h0M1363 1062h0M1339 1047h0M1362 1078h0M1353 1021h0M1361 1057h0M1358 1035h0M1372 1025h0M1380 1099h0M1383 1060h0M1344 1090h0M1358 1088h0M1382 1089h0M1352 1104h0M1382 1018h0M1367 1050h0M1357 1073h0M1350 1040h0M1378 1077h0M1360 1070h0M1358 1070h0M1373 1022h0M1362 1038h0M1341 1035h0M1342 1095h0M1354 1046h0M1367 1064h0M1369 1049h0M1367 1085h0M1347 1093h0M1359 1083h0M1356 1025h0M1363 1107h0M1371 1036h0M1371 1018h0M1342 1044h0M1383 1095h0M1338 1032h0M1338 1094h0M1362 1062h0M1357 1096h0M1376 1075h0M1350 1078h0M1375 1022h0M1376 1077h0M1360 1077h0M1383 1086h0M1359 1063h0M1339 1101h0M1383 1102h0M1379 1050h0M1341 1034h0M1374 1100h0M1381 1025h0M1370 1074h0M1374 1091h0M1373 1068h0M1348 1054h0M1353 1082h0M1342 1063h0M1368 1071h0M1354 1092h0M1355 1068h0M1343 1037h0M1366 1070h0M1367 1030h0M1380 1047h0M1375 1040h0M1342 1108h0M1364 1078h0M1344 1071h0M1375 1096h0M1345 1046h0M1365 1104h0M1363 1107h0M1382 1067h0M1354 1044h0M1338 1077h0M1382 1070h0M1355 1100h0M1338 1049h0M1369 1090h0M1338 1069h0M1368 1085h0M1368 1080h0M1345 1052h0M1374 1072h0M1355 1089h0M1356 1036h0M1367 1086h0M1367 1049h0M1377 1051h0M1345 1106h0M1361 1053h0M1355 1082h0M1343 1092h0M1353 1077h0M1354 1106h0M1366 1094h0M1357 1077h0M1383 1019h0M1381 1062h0M1362 1043h0M1372 1085h0M1369 1097h0M1339 1071h0M1369 1022h0M1383 1033h0M1374 1044h0M1360 1084h0M1360 1106h0M1353 1029h0M1366 1060h0M1356 1092h0M1363 1086h0M1355 1106h0M1376 1058h0M1379 1020h0M1367 1033h0M1366 1096h0M1338 1018h0M1358 1108h0M1376 1086h0M1362 1046h0M1371 1093h0M1338 1017h0M1373 1043h0M1362 1067h0M1364 1085h0M1368 1016h0M1377 1060h0M1343 1051h0M1350 1059h0M1341 1076h0M1377 1051h0M1354 1071h0M1358 1017h0M1370 1057h0M1375 1095h0M1355 1057h0M1345 1089h0M1379 1099h0M1355 1028h0M1374 1023h0M1338 1034h0M1363 1062h0M1340 1048h0M1354 1108h0M1342 1068h0M1355 1050h0M1348 1092h0M1357 1102h0M1374 1053h0M1340 1074h0M1361 1053h0M1365 1054h0M1355 1033h0M1372 1024h0M1363 1089h0M1347 1088h0M1342 1099h0M1370 1099h0M1356 1085h0M1347 1095h0M1345 1091h0M1343 1082h0M1373 1069h0M1376 1023h0M1346 1023h0M1378 1087h0M1374 1106h0M1380 1017h0M1377 1026h0M1364 1030h0M1375 1028h0M1366 1048h0M1380 1062h0M1356 1067h0M1342 1085h0M1340 987h0M1342 952h0M1341 963h0M1389 1050h0M1391 1019h0M1391 1074h0M1384 1073h0M1382 1045h0M1389 1085h0M1386 1083h0M1384 1059h0M1386 1005h0M1392 1100h0M1381 1012h0M1389 1023h0M1384 1035h0M1388 1058h0M1385 1000h0M1384 1076h0M1380 1002h0M1384 997h0M1386 1017h0M1385 1001h0M1390 1016h0M1380 1020h0M1388 1010h0M1387 1059h0M1387 1022h0M1389 1016h0M1387 1052h0M1382 1084h0M1389 1083h0M1388 1024h0M1387 1082h0M1380 1057h0M1388 1015h0M1385 981h0M1393 906h0M1395 896h0M1386 937h0M1393 932h0M1391 919h0M1391 838h0M1392 852h0M1387 998h0M1383 1000h0M1383 938h0M1390 864h0M1385 868h0M1391 917h0M1395 845h0M1382 987h0M1382 1007h0M1391 841h0M1383 965h0M1394 992h0M1382 997h0M1387 981h0M1393 872h0M1393 892h0M1393 841h0M1389 1012h0M1389 901h0M1387 1008h0M1391 894h0M1394 832h0M1394 991h0M1389 877h0M1383 948h0M1390 864h0M1389 954h0M1388 881h0M1395 903h0M1385 836h0M1382 987h0M1385 965h0M1387 887h0M1393 1013h0M1394 910h0M1388 978h0M1386 865h0M1393 937h0M1389 858h0M1385 954h0M1391 979h0M1392 835h0M1373 1005h0M1372 1007h0M1361 1014h0M1369 1009h0M1356 1015h0M1369 1009h0M1378 1013h0M1376 1014h0M1361 1012h0M1411 942h0M1398 946h0M1407 1053h0M1405 956h0M1415 939h0M1400 931h0M1410 957h0M1408 897h0M1402 910h0M1409 1048h0M1396 911h0M1396 999h0M1406 974h0M1411 956h0M1402 1092h0M1395 859h0M1416 917h0M1414 930h0M1415 853h0M1395 838h0M1413 951h0M1401 847h0M1405 1006h0M1415 992h0M1397 853h0M1414 941h0M1397 962h0M1394 1105h0M1409 1007h0M1407 1082h0M1401 866h0M1405 981h0M1415 980h0M1400 1026h0M1411 925h0M1394 1097h0M1399 1087h0M1403 913h0M1401 873h0M1400 906h0M1413 920h0M1406 1023h0M1399 948h0M1402 910h0M1412 1046h0M1415 935h0M1415 1063h0M1412 852h0M1404 862h0M1396 1011h0M1406 838h0M1394 932h0M1398 847h0M1400 959h0M1394 939h0M1401 1064h0M1401 1034h0M1427 1014h0M1423 933h0M1419 1065h0M1426 952h0M1419 896h0M1425 923h0M1428 945h0M1419 1085h0M1432 978h0M1423 1017h0M1423 1073h0M1425 926h0M1425 998h0M1431 1043h0M1427 851h0M1421 921h0M1428 1072h0M1427 863h0M1424 1007h0M1428 1036h0M1419 1073h0M1428 1106h0M1422 850h0M1430 1083h0M1432 931h0M1436 968h0M1429 1092h0M1429 973h0M1437 1040h0M1436 958h0M1429 962h0M1437 1015h0M1436 1006h0M1437 1017h0M1435 921h0M1434 1015h0M1428 933h0M1435 1034h0M1434 1021h0M1436 1069h0M1434 983h0M1434 920h0M1436 1060h0M1434 1045h0M1429 1016h0M1434 955h0M1436 1066h0M1437 1065h0M1440 911h0M1440 917h0M1439 891h0M1443 1010h0M1438 1033h0M1441 1040h0M1439 960h0M1439 961h0M1444 1050h0M1447 1047h0M1444 861h0M1439 838h0M1438 894h0M1444 881h0M1439 887h0M1445 887h0M1440 1047h0M1449 930h0M1452 1045h0M1450 967h0M1451 943h0M1447 1083h0M1450 930h0M1448 869h0M1451 1078h0M1448 1094h0M1453 889h0M1454 919h0M1453 1040h0M1451 947h0M1452 863h0M1449 1021h0M1450 1067h0M1451 946h0M1448 1089h0M1448 833h0M1448 973h0M1451 845h0M1448 1085h0M1447 1047h0M1449 984h0M1452 911h0M1450 998h0M1451 1088h0M1456 901h0M1458 834h0M1456 907h0M1456 852h0M1456 1021h0M1457 1000h0M1456 1008h0M1457 834h0M1457 885h0M1455 1014h0M1457 860h0M1457 849h0M1456 969h0M1456 975h0M1457 965h0M1456 854h0M1457 936h0M1456 865h0M1457 917h0M1457 879h0M1457 903h0M1456 923h0M1457 1032h0M1458 985h0M1457 917h0M1457 976h0M1457 838h0M1455 938h0M1457 845h0M1456 857h0M1456 944h0M1456 878h0M1457 895h0M1457 994h0M1457 910h0M1455 905h0M1457 943h0M1456 891h0M1457 941h0M1456 989h0M1457 847h0M1457 971h0M1456 1027h0M1455 927h0M1458 878h0M1457 960h0M1456 1033h0M1457 1025h0M1456 943h0M1456 907h0M1456 963h0M1457 997h0M1456 844h0M1455 1021h0M1457 890h0M1457 873h0M1456 989h0M1455 909h0M1456 862h0M1456 966h0M1469 832h0M1467 947h0M1467 850h0M1467 892h0M1468 1030h0M1468 975h0M1468 896h0M1467 968h0M1467 976h0M1466 997h0M1465 894h0M1467 986h0M1468 873h0M1468 943h0M1467 891h0M1467 1023h0M1466 952h0M1467 892h0M1465 887h0M1466 1029h0M1467 978h0M1467 901h0M1466 854h0M1466 917h0M1467 885h0M1466 881h0M1467 967h0M1466 891h0M1469 956h0M1468 960h0M1466 1017h0M1467 902h0M1466 909h0M1467 891h0M1467 951h0M1466 972h0M1467 1019h0M1467 874h0M1468 940h0M1467 932h0M1467 982h0M1465 852h0M1466 971h0M1467 958h0M1467 849h0M1468 966h0M1468 932h0M1466 882h0M1466 851h0M1468 913h0M1468 1005h0M1468 902h0M1466 867h0M1467 931h0M1466 897h0M1467 866h0M1466 857h0M1467 1023h0M1467 1010h0M1466 858h0M1467 909h0M1466 991h0M1468 851h0M1467 941h0M1478 955h0M1470 919h0M1473 864h0M1473 985h0M1474 878h0M1472 961h0M1474 878h0M1477 940h0M1473 982h0M1478 1007h0M1477 884h0M1471 872h0M1474 974h0M1478 1000h0M1493 997h0M1476 1002h0M1482 998h0M1470 1015h0M1623 1055h0M1637 1057h0M1498 1061h0M1594 1071h0M1630 1036h0M1485 1037h0M1610 1051h0M1645 1073h0M1601 1091h0M1479 1064h0M1508 1055h0M1642 1085h0M1558 1087h0M1593 1040h0M1478 1105h0M1557 1059h0M1565 1029h0M1542 1066h0M1456 1076h0M1541 1076h0M1517 1041h0M1629 1045h0M1595 1073h0M1529 1090h0M1607 1038h0M1592 1055h0M1603 1041h0M1511 1077h0M1487 1081h0M1610 1045h0M1618 1043h0M1618 1068h0M1636 1083h0M1507 1056h0M1645 1097h0M1516 1084h0M1629 1037h0M1623 1074h0M1586 1032h0M1453 1096h0M1600 1022h0M1602 1018h0M1509 1074h0M1470 1049h0M1552 1037h0M1495 1034h0M1642 1094h0M1499 1059h0M1549 1051h0M1611 1108h0M1600 1045h0M1602 1108h0M1515 1082h0M1557 1100h0M1535 1071h0M1515 1082h0M1601 1028h0M1561 1101h0M1592 1033h0M1556 1038h0M1645 1058h0M1611 1069h0M1620 1085h0M1552 1020h0M1498 1096h0M1469 1085h0M1511 1075h0M1606 1072h0M1555 1076h0M1640 1033h0M1592 1086h0M1643 1106h0M1500 1098h0M1556 1023h0M1527 1076h0M1481 1018h0M1515 1077h0M1524 1030h0M1563 1065h0M1470 1018h0M1587 1064h0M1521 1017h0M1623 1054h0M1529 1093h0M1476 1053h0M1466 1023h0M1561 1028h0M1462 1085h0M1574 1053h0M1648 1087h0M1645 1063h0M1508 1069h0M1499 1100h0M1631 1091h0M1647 1016h0M1587 1029h0M1459 1097h0M1601 1048h0M1544 1066h0M1485 1069h0M1621 1025h0M1465 1108h0M1638 1091h0M1628 1105h0M1534 1074h0M1596 1040h0M1487 1064h0M1591 1097h0M1635 1069h0M1500 1103h0M1639 1016h0M1576 1054h0M1469 1032h0M1627 1104h0M1524 1071h0M1567 1101h0M1573 1047h0M1621 1075h0M1609 1062h0M1455 1091h0M1642 1043h0M1469 1016h0M1479 1064h0M1526 1079h0M1530 1050h0M1540 1071h0M1583 1016h0M1623 1026h0M1508 1051h0M1455 1068h0M1564 1106h0M1631 1106h0M1589 1062h0M1490 1017h0M1558 1085h0M1468 1046h0M1533 1092h0M1589 1058h0M1515 1047h0M1645 1048h0M1575 1017h0M1492 1029h0M1571 1068h0M1493 1052h0M1469 1027h0M1580 1062h0M1501 1090h0M1460 1040h0M1563 1032h0M1569 1081h0M1550 1060h0M1557 1095h0M1571 1079h0M1567 1046h0M1605 1070h0M1503 1017h0M1530 1016h0M1616 1088h0M1569 1107h0M1515 1059h0M1588 1107h0M1636 1025h0M1478 1074h0M1619 1076h0M1601 1041h0M1466 1046h0M1571 1029h0M1606 1050h0M1530 1030h0M1623 1021h0M1634 1050h0M1502 1064h0M1610 1108h0M1568 1022h0M1628 1067h0M1610 1063h0M1530 1071h0M1554 1043h0M1646 1018h0M1532 1099h0M1510 1041h0M1631 1104h0M1588 1029h0M1620 1070h0M1607 1089h0M1620 1069h0M1590 1067h0M1646 1023h0M1478 1053h0M1478 1087h0M1483 1066h0M1474 1060h0M1624 1046h0M1597 1087h0M1573 1081h0M1619 1060h0M1601 1033h0M1488 1037h0M1625 1066h0M1650 1098h0M1608 1042h0M1602 1033h0M1492 1025h0M1507 1082h0M1453 1069h0M1571 1059h0M1572 1081h0M1577 1046h0M1574 1040h0M1483 1100h0M1596 1064h0M1563 1081h0M1518 1032h0M1641 1097h0M1458 1052h0M1648 1094h0M1474 1058h0M1487 1100h0M1590 1107h0M1482 1040h0M1500 1073h0M1497 1017h0M1470 1023h0M1462 1036h0M1576 1069h0M1569 1066h0M1545 1083h0M1611 1016h0M1478 1076h0M1504 1050h0M1580 1035h0M1590 1034h0M1483 1075h0M1587 1077h0M1602 1091h0M1485 1084h0M1525 1104h0M1623 1080h0M1596 1029h0M1547 1070h0M1631 1029h0M1512 1030h0M1463 1098h0M1609 1049h0M1462 1023h0M1519 1046h0M1515 1043h0M1589 1099h0M1577 1027h0M1462 1104h0M1523 1068h0M1606 1062h0M1521 1088h0M1453 1090h0M1496 1047h0M1514 1024h0M1585 1046h0M1568 1040h0M1566 1084h0M1504 1068h0M1555 1028h0M1602 1096h0M1590 1078h0M1622 1039h0M1618 1024h0M1499 1087h0M1511 1056h0M1623 1077h0M1471 1075h0M1649 1015h0M1613 1073h0M1531 1061h0M1599 1015h0M1632 1047h0M1573 1097h0M1555 1099h0M1463 1047h0M1636 1065h0M1478 1100h0M1544 1054h0M1608 1105h0M1648 1054h0M1549 1019h0M1591 1058h0M1535 1024h0M1645 1053h0M1632 1070h0M1639 1038h0M1506 1086h0M1628 1107h0M1644 1103h0M1475 1091h0M1615 1083h0M1533 1039h0M1558 1079h0M1476 1035h0M1506 1050h0M1628 1082h0M1606 1070h0M1633 1103h0M1489 1055h0M1488 1057h0M1549 1037h0M1567 1078h0M1521 1085h0M1594 1037h0M1617 1097h0M1563 1058h0M1648 1102h0M1604 1064h0M1475 1032h0M1634 1040h0M1573 1057h0M1595 1050h0M1581 1100h0M1540 1065h0M1521 1067h0M1587 1038h0M1629 1091h0M1646 1099h0M1534 1018h0M1533 1036h0M1560 1055h0M1588 1019h0M1588 1058h0M1628 1075h0M1529 1036h0M1638 1083h0M1532 1096h0M1488 1097h0M1584 1071h0M1576 1071h0M1531 1070h0M1524 1017h0M1483 1051h0M1631 1079h0M1497 1097h0M1583 1078h0M1509 1074h0M1580 1051h0M1522 1079h0M1521 1031h0M1499 1041h0M1608 1042h0M1566 1035h0M1594 1022h0M1581 1098h0M1620 1064h0M1604 1032h0M1570 1079h0M1547 1099h0M1498 1045h0M1565 1103h0M1548 1095h0M1599 1055h0M1482 1022h0M1558 1022h0M1517 1035h0M1547 1105h0M1626 1078h0M1548 1104h0M1597 1047h0M1576 1029h0M1520 1036h0M1484 1062h0M1477 1108h0M1482 1052h0M1588 1043h0M1493 1024h0M1586 1078h0M1523 1021h0M1557 1065h0M1590 1098h0M1626 1026h0M1619 1089h0M1520 1050h0M1468 1043h0M1564 1037h0M1521 1106h0M1602 1081h0M1550 1029h0M1457 1096h0M1525 1080h0M1553 1101h0M1635 1075h0M1514 1104h0M1564 1052h0M1635 1050h0M1499 1016h0M1482 1053h0M1635 1070h0M1593 1061h0M1517 1020h0M1583 1025h0M1617 1044h0M1476 1058h0M1612 1089h0M1601 1102h0M1633 1100h0M1587 1023h0M1513 1045h0M1569 1073h0M1562 1103h0M1479 1104h0M1521 1027h0M1491 1092h0M1554 1015h0M1536 1038h0M1532 1034h0M1628 1104h0M1482 1037h0M1492 1015h0M1581 1061h0M1550 1069h0M1618 1087h0M1536 1066h0M1584 1033h0M1570 1019h0M1587 1045h0M1643 1101h0M1533 1099h0M1471 1061h0M1463 1039h0M1492 1086h0M1597 1057h0M1509 1084h0M1647 1042h0M1482 1091h0M1531 1100h0M1588 1100h0M1576 1083h0M1453 1105h0M1485 1072h0M1508 1074h0M1563 1058h0M1645 1029h0M1533 1077h0M1535 1078h0M1635 1056h0M1501 1020h0M1579 1021h0M1476 1025h0M1537 1054h0M1615 1028h0M1642 1085h0M1613 1081h0M1610 1066h0M1630 1069h0M1608 1095h0M1548 1060h0M1517 1019h0M1530 1031h0M1569 1089h0M1471 1050h0M1606 1080h0M1598 1041h0M1535 1039h0M1515 1027h0M1538 1023h0M1535 1054h0M1550 1071h0M1564 1074h0M1558 1058h0M1578 1065h0M1645 1077h0M1468 1103h0M1624 1037h0M1476 1087h0M1492 1053h0M1565 1049h0M1636 1052h0M1506 1067h0M1487 1033h0M1616 1062h0M1604 1028h0M1545 1047h0M1565 1072h0M1532 1061h0M1531 1061h0M1625 1035h0M1483 1079h0M1600 1088h0M1516 1069h0M1597 1070h0M1468 1106h0M1493 1076h0M1531 1094h0M1475 1062h0M1627 1041h0M1519 1095h0M1482 1035h0M1605 1050h0M1554 1026h0M1622 1029h0M1595 1077h0M1519 1054h0M1477 1070h0M1597 1041h0M1482 1038h0M1488 1021h0M1573 1073h0M1528 1053h0M1544 1087h0M1613 1018h0M1457 1040h0M1642 1044h0M1519 1101h0M1497 1103h0M1486 1094h0M1493 1074h0M1648 1059h0M1538 1067h0M1629 1059h0M1552 1086h0M1619 1020h0M1542 1065h0M1529 1081h0M1636 1039h0M1588 1088h0M1630 1040h0M1601 1044h0M1500 1021h0M1616 1048h0M1545 1024h0M1495 1047h0M1479 1041h0M1501 1033h0M1617 1038h0M1623 1079h0M1469 1045h0M1562 1097h0M1517 1092h0M1534 1089h0M1543 1094h0M1542 1082h0M1495 1089h0M1642 1105h0M1554 1029h0M1554 1078h0M1581 1100h0M1628 1021h0M1642 1062h0M1649 1048h0M1633 1057h0M1517 1022h0M1513 1023h0M1509 1091h0M1603 1028h0M1590 1061h0M1546 1058h0M1609 1059h0M1564 1057h0M1461 1019h0M1627 1083h0M1638 1040h0M1608 1086h0M1601 1083h0M1587 1087h0M1517 1030h0M1488 1105h0M1494 1022h0M1620 1069h0M1563 1074h0M1592 1086h0M1560 1083h0M1598 1030h0M1602 1077h0M1572 1082h0M1509 1102h0M1625 1062h0M1522 1043h0M1641 1095h0M1541 1045h0M1632 1092h0M1489 1072h0M1545 1069h0M1473 1024h0M1640 1050h0M1621 1068h0M1601 1024h0M1532 1092h0M1543 1106h0M1557 1082h0M1597 1066h0M1459 1108h0M1570 1090h0M1465 1062h0M1588 1033h0M1643 1049h0M1570 1072h0M1543 1079h0M1533 1078h0M1497 1056h0M1565 1099h0M1646 1041h0M1613 1025h0M1475 1019h0M1531 1030h0M1470 1018h0M1643 1021h0M1457 1107h0M1546 1050h0M1646 1100h0M1582 1019h0M1616 1035h0M1533 1098h0M1514 1078h0M1513 1091h0M1577 1074h0M1614 1041h0M1579 1056h0M1532 1098h0M1608 1100h0M1596 1093h0M1629 1057h0M1571 1050h0M1516 1087h0M1522 1088h0M1535 1081h0M1454 1064h0M1494 1056h0M1617 1044h0M1479 1057h0M1471 1080h0M1475 1034h0M1578 1052h0M1559 1063h0M1514 1086h0M1613 1044h0M1597 1055h0M1630 1063h0M1639 1036h0M1468 1070h0M1579 1031h0M1568 1070h0M1597 1087h0M1642 1037h0M1568 1038h0M1593 1085h0M1493 1106h0M1560 1069h0M1465 1022h0M1579 1091h0M1624 1046h0M1624 1032h0M1469 1058h0M1593 1022h0M1505 1063h0M1637 1015h0M1541 1069h0M1552 1087h0M1616 1063h0M1527 1054h0M1479 1095h0M1570 1071h0M1483 1049h0M1593 1084h0M1620 1020h0M1566 1096h0M1514 1068h0M1471 1065h0M1473 1017h0M1502 1062h0M1609 1097h0M1503 1074h0M1647 1066h0M1584 1087h0M1468 1066h0M1547 1016h0M1565 1100h0M1640 1104h0M1512 1069h0M1634 1096h0M1570 1048h0M1522 1071h0M1515 1095h0M1583 1107h0M1520 1055h0M1511 1072h0M1457 1046h0M1503 1073h0M1508 1046h0M1573 1035h0M1463 1046h0M1583 1023h0M1458 1049h0M1636 1046h0M1596 1080h0M1541 1039h0M1555 1086h0M1628 1029h0M1645 1072h0M1475 1037h0M1614 1108h0M1492 1065h0M1548 1019h0M1529 1066h0M1545 1035h0M1574 1101h0M1483 1037h0M1549 1095h0M1593 1045h0M1467 1055h0M1616 1094h0M1468 1104h0M1620 1062h0" stroke="#4a1a74" stroke-opacity="0.52" stroke-width="2.9" stroke-linecap="round" fill="none"/><path d="M1340 1025h0M1375 1100h0M1366 1024h0M1348 1060h0M1371 1045h0M1338 1058h0M1342 1089h0M1342 1106h0M1346 1074h0M1383 1098h0M1375 1036h0M1344 1088h0M1369 1022h0M1371 1030h0M1351 1032h0M1338 1073h0M1363 1038h0M1372 1021h0M1375 1025h0M1353 1065h0M1373 1048h0M1340 1044h0M1339 1062h0M1351 1050h0M1381 1094h0M1379 1046h0M1359 1086h0M1368 1106h0M1345 1063h0M1380 1070h0M1351 1067h0M1372 1097h0M1364 1021h0M1377 1091h0M1356 1089h0M1372 1069h0M1365 1080h0M1355 1101h0M1363 1024h0M1368 1057h0M1360 1108h0M1353 1053h0M1380 1070h0M1371 1104h0M1339 1024h0M1370 1042h0M1363 1081h0M1373 1044h0M1360 1076h0M1344 1057h0M1338 1027h0M1359 1081h0M1382 1016h0M1374 1082h0M1371 1033h0M1358 1020h0M1358 1023h0M1351 1079h0M1373 1049h0M1346 1033h0M1363 1084h0M1367 1040h0M1347 1090h0M1343 1024h0M1345 1033h0M1371 1033h0M1344 1107h0M1360 1045h0M1368 1063h0M1357 1086h0M1356 1022h0M1383 1074h0M1346 1073h0M1371 1092h0M1367 1026h0M1373 1024h0M1372 1087h0M1364 1029h0M1355 1035h0M1350 1074h0M1372 1047h0M1381 1049h0M1355 1019h0M1357 1044h0M1360 1017h0M1360 1105h0M1363 1078h0M1370 1060h0M1376 1079h0M1373 1068h0M1355 1075h0M1358 1087h0M1364 1041h0M1350 1091h0M1344 1035h0M1381 1070h0M1341 1047h0M1374 1069h0M1365 1033h0M1355 1028h0M1378 1016h0M1355 1092h0M1355 1083h0M1342 1041h0M1341 1055h0M1338 1072h0M1360 1094h0M1354 1051h0M1371 1028h0M1354 1077h0M1372 1092h0M1372 1050h0M1351 1095h0M1383 1020h0M1342 1082h0M1377 1083h0M1354 1017h0M1368 1104h0M1360 1060h0M1341 1081h0M1373 1042h0M1356 1018h0M1351 1043h0M1338 1060h0M1373 1060h0M1339 1083h0M1349 1082h0M1360 1073h0M1379 1104h0M1349 1033h0M1343 1072h0M1367 1068h0M1358 1080h0M1369 1069h0M1371 1019h0M1363 1027h0M1353 1103h0M1365 1022h0M1369 1044h0M1344 1022h0M1363 1100h0M1374 1051h0M1362 1089h0M1339 1072h0M1361 1046h0M1367 1045h0M1373 1051h0M1368 1076h0M1348 1076h0M1374 1028h0M1368 1072h0M1378 1104h0M1356 1058h0M1348 1032h0M1372 1026h0M1340 1094h0M1339 1092h0M1359 1033h0M1344 1069h0M1363 1081h0M1370 1099h0M1355 1070h0M1372 1094h0M1377 1092h0M1343 1048h0M1339 1043h0M1360 1101h0M1364 1068h0M1353 1024h0M1373 1082h0M1362 1059h0M1367 1089h0M1339 1034h0M1383 1069h0M1374 1026h0M1354 1096h0M1363 1096h0M1343 1104h0M1381 1080h0M1361 1026h0M1354 1068h0M1339 1055h0M1354 1059h0M1377 1089h0M1344 1071h0M1361 1050h0M1364 1108h0M1362 1048h0M1364 1027h0M1342 1021h0M1350 1019h0M1371 1054h0M1381 1038h0M1382 1051h0M1365 1088h0M1365 1026h0M1344 1031h0M1369 1062h0M1340 1048h0M1340 1028h0M1341 1033h0M1379 1064h0M1366 1032h0M1345 1050h0M1339 1081h0M1344 1050h0M1383 1077h0M1380 1081h0M1370 1034h0M1341 1097h0M1340 1034h0M1342 1021h0M1381 1040h0M1363 1083h0M1341 1053h0M1360 1043h0M1341 1058h0M1354 1027h0M1372 1019h0M1356 1101h0M1383 1044h0M1358 1041h0M1340 1108h0M1350 1047h0M1356 1025h0M1357 1084h0M1379 1078h0M1347 1043h0M1375 1064h0M1373 1027h0M1366 1019h0M1338 1063h0M1376 1064h0M1363 1091h0M1371 1100h0M1361 1041h0M1354 1049h0M1382 1081h0M1367 1083h0M1347 1098h0M1360 1071h0M1360 1106h0M1338 984h0M1342 945h0M1341 996h0M1338 993h0M1341 978h0M1391 1083h0M1388 1009h0M1384 1067h0M1386 1046h0M1384 1075h0M1380 1041h0M1391 1103h0M1387 1054h0M1381 1064h0M1379 1067h0M1379 1107h0M1392 1090h0M1381 1005h0M1383 1099h0M1379 1087h0M1384 1099h0M1382 1024h0M1390 1047h0M1389 1071h0M1390 998h0M1384 1042h0M1392 1024h0M1391 1094h0M1382 1066h0M1380 1094h0M1385 1006h0M1391 1076h0M1385 1084h0M1391 1048h0M1387 1090h0M1383 1027h0M1382 1054h0M1392 1009h0M1382 1024h0M1392 1099h0M1392 1003h0M1379 1101h0M1385 1089h0M1392 1032h0M1382 1060h0M1379 1042h0M1387 1045h0M1381 1006h0M1388 963h0M1384 992h0M1388 920h0M1391 1002h0M1391 955h0M1386 867h0M1389 1009h0M1383 946h0M1392 1002h0M1387 942h0M1395 927h0M1386 996h0M1392 995h0M1386 925h0M1395 861h0M1388 932h0M1388 955h0M1395 920h0M1384 898h0M1393 1012h0M1383 954h0M1387 915h0M1388 926h0M1383 979h0M1388 941h0M1385 969h0M1387 931h0M1391 901h0M1386 880h0M1383 920h0M1386 860h0M1384 997h0M1391 1008h0M1387 1003h0M1393 877h0M1385 914h0M1387 848h0M1384 910h0M1390 915h0M1395 849h0M1394 937h0M1388 943h0M1392 946h0M1388 1014h0M1390 906h0M1389 876h0M1387 848h0M1385 1012h0M1395 893h0M1384 859h0M1387 888h0M1384 871h0M1387 921h0M1385 954h0M1391 900h0M1388 861h0M1385 1008h0M1387 924h0M1389 870h0M1390 964h0M1389 948h0M1383 979h0M1385 925h0M1391 886h0M1393 1005h0M1385 949h0M1393 872h0M1390 946h0M1386 833h0M1386 898h0M1387 855h0M1390 995h0M1394 981h0M1394 997h0M1395 868h0M1384 832h0M1388 928h0M1388 980h0M1391 1013h0M1384 846h0M1387 894h0M1357 1015h0M1357 1014h0M1375 1004h0M1381 999h0M1367 1013h0M1377 1012h0M1358 1014h0M1380 1007h0M1363 1011h0M1374 1008h0M1377 1005h0M1368 1010h0M1354 1015h0M1381 998h0M1375 1003h0M1372 1004h0M1401 831h0M1395 834h0M1396 1100h0M1416 1104h0M1397 992h0M1410 891h0M1406 1066h0M1407 989h0M1403 1034h0M1393 1066h0M1401 875h0M1412 1077h0M1402 1013h0M1416 1002h0M1412 869h0M1408 991h0M1407 922h0M1411 1107h0M1404 845h0M1402 953h0M1396 1037h0M1410 1088h0M1416 839h0M1410 972h0M1414 831h0M1416 903h0M1404 966h0M1400 1099h0M1400 869h0M1407 1012h0M1398 958h0M1405 860h0M1401 1069h0M1415 1069h0M1399 860h0M1406 943h0M1411 948h0M1405 857h0M1418 990h0M1424 1009h0M1419 946h0M1417 884h0M1419 915h0M1428 830h0M1425 906h0M1421 1007h0M1426 896h0M1428 866h0M1421 861h0M1417 1107h0M1417 902h0M1421 1028h0M1432 992h0M1432 946h0M1423 1055h0M1430 1024h0M1421 1062h0M1436 1096h0M1436 1046h0M1431 1046h0M1435 1080h0M1436 914h0M1431 943h0M1434 1070h0M1429 926h0M1433 942h0M1429 1089h0M1436 1045h0M1437 955h0M1429 1105h0M1434 1033h0M1432 967h0M1435 947h0M1437 956h0M1431 1094h0M1436 1060h0M1436 975h0M1434 995h0M1441 831h0M1445 958h0M1439 905h0M1440 951h0M1438 875h0M1443 908h0M1438 859h0M1447 888h0M1442 1031h0M1448 838h0M1447 936h0M1437 968h0M1441 847h0M1449 848h0M1451 1064h0M1449 957h0M1449 949h0M1453 959h0M1451 861h0M1453 1043h0M1454 975h0M1454 934h0M1454 912h0M1454 1054h0M1450 989h0M1452 869h0M1451 1031h0M1447 964h0M1449 1105h0M1447 1073h0M1447 837h0M1451 851h0M1449 836h0M1451 833h0M1453 1070h0M1450 1080h0M1458 898h0M1457 987h0M1456 923h0M1457 923h0M1456 966h0M1456 969h0M1456 886h0M1457 863h0M1456 877h0M1456 1020h0M1456 883h0M1457 896h0M1457 854h0M1458 974h0M1458 1016h0M1457 839h0M1457 842h0M1457 991h0M1459 919h0M1456 893h0M1457 928h0M1455 965h0M1455 1007h0M1456 934h0M1456 941h0M1455 998h0M1456 905h0M1457 986h0M1456 868h0M1455 849h0M1455 891h0M1456 1014h0M1454 963h0M1457 894h0M1457 865h0M1457 957h0M1456 893h0M1457 1017h0M1456 972h0M1456 946h0M1456 962h0M1455 959h0M1457 893h0M1456 982h0M1457 949h0M1456 1018h0M1458 884h0M1456 867h0M1455 993h0M1457 1011h0M1457 995h0M1456 836h0M1456 898h0M1456 894h0M1456 889h0M1457 932h0M1458 886h0M1456 914h0M1457 963h0M1457 1007h0M1456 839h0M1455 868h0M1457 903h0M1456 968h0M1458 958h0M1457 985h0M1459 936h0M1458 920h0M1455 872h0M1456 846h0M1466 894h0M1466 960h0M1467 930h0M1468 954h0M1467 964h0M1468 1010h0M1467 948h0M1467 1031h0M1467 947h0M1467 927h0M1468 980h0M1467 996h0M1467 900h0M1467 935h0M1467 878h0M1467 971h0M1467 1000h0M1468 930h0M1468 877h0M1467 929h0M1467 875h0M1468 993h0M1469 885h0M1466 949h0M1466 844h0M1467 873h0M1466 946h0M1467 975h0M1468 862h0M1467 1005h0M1465 959h0M1467 862h0M1467 1014h0M1467 909h0M1467 858h0M1467 1004h0M1467 857h0M1467 859h0M1467 1031h0M1468 1023h0M1468 857h0M1466 970h0M1468 980h0M1466 1020h0M1467 942h0M1467 943h0M1467 963h0M1468 954h0M1467 871h0M1469 903h0M1466 937h0M1467 846h0M1467 916h0M1466 839h0M1476 990h0M1470 890h0M1473 951h0M1494 947h0M1492 920h0M1476 1003h0M1478 997h0M1489 1005h0M1488 1006h0M1488 992h0M1495 1005h0M1483 1007h0M1591 1086h0M1555 1091h0M1470 1105h0M1519 1043h0M1464 1051h0M1526 1054h0M1534 1017h0M1631 1032h0M1532 1033h0M1479 1029h0M1573 1073h0M1466 1049h0M1583 1063h0M1615 1097h0M1567 1090h0M1553 1102h0M1502 1082h0M1536 1094h0M1530 1093h0M1505 1035h0M1609 1108h0M1564 1046h0M1566 1056h0M1638 1108h0M1577 1058h0M1450 1100h0M1554 1078h0M1624 1017h0M1513 1061h0M1629 1031h0M1632 1101h0M1511 1015h0M1589 1045h0M1484 1082h0M1557 1043h0M1602 1065h0M1454 1093h0M1602 1087h0M1524 1092h0M1515 1035h0M1626 1074h0M1560 1062h0M1482 1023h0M1535 1095h0M1476 1067h0M1487 1061h0M1512 1048h0M1461 1107h0M1491 1025h0M1525 1097h0M1553 1054h0M1498 1057h0M1485 1052h0M1649 1029h0M1466 1066h0M1510 1020h0M1463 1094h0M1567 1048h0M1595 1075h0M1645 1077h0M1604 1078h0M1461 1075h0M1487 1030h0M1504 1024h0M1491 1098h0M1472 1081h0M1544 1029h0M1589 1101h0M1641 1062h0M1582 1072h0M1605 1090h0M1492 1091h0M1514 1045h0M1472 1085h0M1511 1080h0M1570 1107h0M1477 1076h0M1627 1033h0M1463 1071h0M1578 1059h0M1640 1040h0M1525 1025h0M1514 1015h0M1495 1082h0M1598 1063h0M1517 1102h0M1515 1035h0M1548 1090h0M1573 1085h0M1508 1024h0M1581 1072h0M1571 1108h0M1492 1057h0M1540 1044h0M1649 1049h0M1545 1068h0M1619 1017h0M1584 1107h0M1569 1105h0M1624 1038h0M1646 1018h0M1563 1101h0M1612 1023h0M1510 1106h0M1557 1071h0M1594 1051h0M1564 1038h0M1606 1104h0M1463 1020h0M1542 1032h0M1474 1015h0M1612 1083h0M1616 1038h0M1529 1028h0M1521 1028h0M1613 1062h0M1543 1052h0M1626 1076h0M1538 1084h0M1459 1106h0M1629 1089h0M1516 1073h0M1633 1080h0M1612 1096h0M1608 1020h0M1524 1022h0M1606 1060h0M1544 1061h0M1597 1070h0M1476 1067h0M1544 1015h0M1619 1022h0M1540 1077h0M1553 1016h0M1522 1078h0M1504 1065h0M1528 1022h0M1547 1080h0M1613 1096h0M1477 1015h0M1525 1102h0M1559 1062h0M1616 1094h0M1573 1087h0M1625 1016h0M1528 1094h0M1530 1066h0M1627 1045h0M1547 1082h0M1503 1018h0M1646 1030h0M1601 1067h0M1512 1067h0M1517 1045h0M1634 1102h0M1524 1093h0M1463 1037h0M1472 1028h0M1462 1022h0M1468 1052h0M1574 1022h0M1580 1065h0M1563 1032h0M1529 1074h0M1602 1066h0M1528 1072h0M1468 1099h0M1481 1085h0M1615 1029h0M1590 1026h0M1490 1094h0M1493 1052h0M1642 1019h0M1588 1020h0M1526 1107h0M1616 1044h0M1539 1057h0M1455 1065h0M1496 1103h0M1634 1052h0M1552 1038h0M1521 1061h0M1601 1070h0M1513 1044h0M1619 1033h0M1611 1083h0M1619 1072h0M1628 1094h0M1616 1076h0M1488 1043h0M1495 1087h0M1623 1045h0M1613 1027h0M1603 1106h0M1481 1021h0M1469 1025h0M1508 1061h0M1583 1034h0M1472 1055h0M1609 1044h0M1462 1075h0M1474 1054h0M1477 1060h0M1565 1080h0M1484 1068h0M1477 1041h0M1473 1018h0M1489 1061h0M1581 1033h0M1477 1033h0M1489 1086h0M1567 1098h0M1484 1099h0M1491 1083h0M1509 1075h0M1455 1091h0M1581 1043h0M1492 1018h0M1469 1099h0M1575 1029h0M1645 1089h0M1488 1037h0M1472 1046h0M1511 1074h0M1577 1066h0M1499 1049h0M1513 1054h0M1622 1102h0M1579 1084h0M1602 1076h0M1509 1024h0M1566 1087h0M1516 1016h0M1631 1066h0M1510 1105h0M1542 1017h0M1572 1065h0M1583 1034h0M1590 1066h0M1494 1046h0M1577 1029h0M1642 1065h0M1476 1033h0M1584 1099h0M1548 1075h0M1640 1044h0M1520 1047h0M1517 1059h0M1547 1030h0M1574 1097h0M1483 1019h0M1590 1079h0M1606 1088h0M1518 1061h0M1536 1047h0M1506 1053h0M1521 1084h0M1548 1062h0M1459 1096h0M1612 1071h0M1459 1063h0M1638 1075h0M1518 1055h0M1644 1040h0M1568 1054h0M1494 1096h0M1479 1106h0M1497 1039h0M1609 1073h0M1592 1072h0M1577 1074h0M1618 1028h0M1551 1101h0M1604 1077h0M1600 1107h0M1474 1102h0M1531 1032h0M1561 1087h0M1649 1028h0M1483 1060h0M1589 1015h0M1460 1031h0M1581 1080h0M1639 1065h0M1560 1081h0M1528 1083h0M1465 1075h0M1482 1064h0M1552 1099h0M1584 1108h0M1489 1093h0M1605 1053h0M1608 1087h0M1471 1067h0M1638 1099h0M1588 1063h0M1509 1030h0M1617 1054h0M1633 1016h0M1503 1093h0M1534 1028h0M1514 1093h0M1533 1080h0M1616 1058h0M1635 1101h0M1546 1101h0M1611 1046h0M1563 1068h0M1460 1063h0M1534 1072h0M1602 1081h0M1480 1045h0M1488 1092h0M1468 1105h0M1498 1033h0M1494 1052h0M1637 1043h0M1598 1092h0M1467 1054h0M1644 1095h0M1588 1100h0M1499 1104h0M1620 1032h0M1585 1106h0M1460 1095h0M1570 1034h0M1467 1036h0M1618 1057h0M1640 1045h0M1506 1092h0M1526 1082h0M1564 1058h0M1590 1055h0M1649 1045h0M1460 1058h0M1538 1069h0M1642 1017h0M1561 1041h0M1510 1065h0M1523 1048h0M1563 1016h0M1571 1087h0M1579 1108h0M1502 1054h0M1490 1043h0M1645 1096h0M1533 1016h0M1530 1103h0M1604 1019h0M1498 1062h0M1468 1103h0M1610 1021h0M1557 1081h0M1623 1069h0M1596 1017h0M1559 1043h0M1515 1100h0M1466 1028h0M1533 1081h0M1603 1075h0M1581 1049h0M1483 1036h0M1541 1023h0M1465 1039h0M1519 1046h0M1556 1094h0M1486 1074h0M1515 1057h0M1469 1088h0M1594 1017h0M1647 1070h0M1489 1082h0M1644 1032h0M1474 1056h0M1487 1097h0M1578 1063h0M1523 1073h0M1582 1015h0M1599 1032h0M1509 1093h0M1558 1078h0M1494 1070h0M1523 1015h0M1486 1040h0M1638 1035h0M1483 1062h0M1602 1104h0M1599 1105h0M1535 1073h0M1509 1071h0M1527 1087h0M1512 1105h0M1597 1035h0M1518 1041h0M1532 1043h0M1570 1058h0M1569 1029h0M1618 1054h0M1599 1030h0M1467 1096h0M1518 1104h0M1584 1070h0M1491 1075h0M1554 1016h0M1557 1108h0M1492 1095h0M1489 1047h0M1457 1083h0M1645 1075h0M1606 1098h0M1543 1075h0M1532 1104h0M1479 1021h0M1547 1096h0M1611 1035h0M1550 1038h0M1552 1091h0M1589 1027h0M1531 1055h0M1568 1091h0M1549 1062h0M1596 1035h0M1507 1036h0M1492 1037h0M1499 1066h0M1602 1038h0M1553 1035h0M1549 1089h0M1512 1056h0M1502 1083h0M1527 1056h0M1560 1030h0M1566 1043h0M1628 1051h0M1477 1028h0M1539 1070h0M1606 1071h0M1604 1108h0M1475 1087h0M1606 1038h0M1557 1076h0M1462 1058h0M1624 1096h0M1613 1032h0M1505 1065h0M1523 1089h0M1581 1064h0M1472 1086h0M1609 1019h0M1507 1069h0M1598 1087h0M1610 1039h0M1522 1087h0M1618 1083h0M1506 1049h0M1454 1100h0M1601 1081h0M1459 1107h0M1586 1088h0M1634 1108h0M1514 1016h0M1585 1108h0M1536 1071h0M1619 1035h0M1645 1044h0M1587 1059h0M1591 1041h0M1594 1044h0M1629 1018h0M1611 1049h0M1539 1106h0M1485 1079h0M1516 1054h0M1491 1078h0M1622 1068h0M1497 1058h0M1516 1054h0M1647 1040h0M1545 1089h0M1599 1039h0M1631 1041h0M1635 1029h0M1540 1065h0M1493 1018h0M1582 1062h0M1650 1103h0M1647 1095h0M1576 1080h0M1479 1060h0M1522 1081h0M1563 1083h0M1587 1030h0M1530 1026h0M1595 1107h0M1549 1102h0M1616 1023h0M1629 1098h0M1569 1101h0M1647 1024h0M1595 1023h0M1545 1018h0M1580 1103h0M1464 1066h0M1589 1028h0M1557 1091h0M1643 1024h0M1613 1018h0M1647 1059h0M1497 1092h0M1476 1029h0M1461 1032h0M1547 1097h0M1645 1016h0M1516 1016h0M1517 1049h0M1538 1086h0M1528 1060h0M1523 1076h0M1523 1017h0M1505 1100h0M1467 1071h0M1535 1064h0M1617 1093h0M1487 1020h0M1548 1070h0M1515 1015h0M1628 1047h0M1607 1042h0M1627 1073h0M1547 1096h0M1468 1061h0M1635 1085h0M1605 1031h0M1575 1024h0M1549 1097h0M1504 1106h0M1582 1029h0M1594 1079h0M1551 1102h0M1546 1050h0M1501 1068h0M1481 1057h0M1499 1034h0M1467 1067h0M1613 1062h0M1628 1023h0M1583 1024h0M1628 1093h0M1462 1094h0M1530 1046h0M1515 1060h0M1477 1016h0M1642 1091h0M1598 1059h0M1494 1098h0M1581 1042h0M1552 1065h0M1535 1072h0M1520 1033h0M1633 1098h0M1488 1091h0M1496 1060h0M1471 1075h0M1488 1045h0M1543 1074h0M1518 1018h0M1466 1050h0M1618 1105h0M1545 1090h0M1613 1051h0M1552 1081h0M1642 1053h0M1627 1036h0M1514 1101h0M1487 1081h0M1534 1051h0M1586 1048h0M1471 1089h0M1586 1084h0M1539 1045h0M1570 1094h0M1458 1046h0M1581 1050h0M1567 1066h0M1519 1018h0M1561 1098h0M1560 1070h0M1559 1034h0M1648 1066h0M1469 1024h0M1502 1073h0M1637 1052h0M1581 1068h0M1637 1083h0M1557 1101h0M1501 1070h0M1507 1025h0M1589 1056h0M1468 1058h0M1628 1082h0M1550 1063h0M1621 1093h0M1641 1098h0M1519 1092h0M1466 1040h0M1522 1067h0M1626 1029h0M1586 1056h0M1609 1073h0M1496 1035h0M1592 1015h0M1607 1036h0M1478 1096h0M1570 1062h0M1593 1081h0M1637 1028h0M1519 1036h0M1640 1089h0M1501 1038h0M1491 1058h0M1626 1068h0M1453 1096h0M1616 1092h0M1478 1078h0M1491 1037h0M1570 1025h0M1646 1068h0M1482 1062h0M1494 1089h0M1455 1099h0M1580 1020h0M1630 1072h0M1521 1104h0M1602 1067h0M1551 1095h0M1629 1021h0M1540 1017h0M1635 1091h0M1577 1044h0M1635 1027h0M1549 1041h0M1510 1076h0M1587 1032h0M1648 1094h0M1576 1102h0M1553 1089h0M1610 1054h0M1609 1039h0M1617 1102h0M1635 1087h0M1596 1048h0M1573 1100h0M1494 1078h0M1462 1060h0M1508 1096h0M1476 1079h0M1549 1024h0M1587 1086h0M1630 1099h0" stroke="#4a1a74" stroke-opacity="0.52" stroke-width="2.9" stroke-linecap="round" fill="none"/><path d="M1380 1035h0M1362 1089h0M1348 1089h0M1348 1061h0M1361 1035h0M1341 1090h0M1349 1034h0M1347 1062h0M1366 1068h0M1368 1085h0M1364 1099h0M1369 1094h0M1373 1048h0M1379 1072h0M1383 1064h0M1347 1102h0M1348 1035h0M1340 1101h0M1364 1032h0M1358 1098h0M1361 1044h0M1339 1075h0M1363 1037h0M1340 1050h0M1360 1060h0M1375 1026h0M1354 1059h0M1371 1062h0M1372 1067h0M1366 1021h0M1339 1099h0M1354 1098h0M1382 1064h0M1341 1065h0M1346 1028h0M1379 1085h0M1346 1030h0M1351 1069h0M1354 1053h0M1340 1069h0M1349 1081h0M1340 1064h0M1372 1087h0M1360 1033h0M1373 1047h0M1341 1075h0M1366 1031h0M1373 1038h0M1372 1050h0M1362 1087h0M1350 1100h0M1371 1091h0M1377 1035h0M1374 1064h0M1370 1061h0M1339 1098h0M1346 1064h0M1363 1048h0M1365 1093h0M1376 1062h0M1355 1099h0M1359 1042h0M1368 1054h0M1375 1102h0M1362 1035h0M1369 1060h0M1343 1036h0M1356 1022h0M1363 1100h0M1376 1025h0M1360 1065h0M1352 1046h0M1353 1108h0M1349 1031h0M1375 1059h0M1342 1040h0M1375 1096h0M1352 1094h0M1352 1018h0M1353 1055h0M1360 1073h0M1339 1076h0M1344 1078h0M1349 1035h0M1354 1042h0M1366 1062h0M1348 1097h0M1354 1096h0M1373 1103h0M1378 1095h0M1363 1077h0M1365 1068h0M1375 1090h0M1373 1097h0M1358 1018h0M1382 1095h0M1376 1028h0M1348 1090h0M1374 1104h0M1346 1073h0M1382 1103h0M1354 1073h0M1344 1041h0M1366 1048h0M1360 1018h0M1366 1037h0M1355 1085h0M1383 1016h0M1383 1027h0M1338 1072h0M1352 1081h0M1355 1105h0M1362 1039h0M1363 1027h0M1347 1095h0M1344 1087h0M1353 1070h0M1345 1048h0M1380 1037h0M1344 1051h0M1362 1063h0M1373 1058h0M1341 1036h0M1346 1070h0M1363 1063h0M1380 1103h0M1360 1047h0M1344 1086h0M1366 1043h0M1364 1045h0M1371 1029h0M1359 1041h0M1374 1036h0M1362 1061h0M1372 1076h0M1358 1097h0M1339 1022h0M1364 1096h0M1341 1028h0M1355 1092h0M1358 1036h0M1370 1043h0M1346 1054h0M1375 1034h0M1364 1018h0M1373 1039h0M1348 1064h0M1371 1089h0M1340 1107h0M1363 1032h0M1356 1047h0M1373 1038h0M1377 1070h0M1356 1040h0M1345 1048h0M1359 1052h0M1347 1032h0M1381 1081h0M1372 1082h0M1359 1098h0M1373 1099h0M1370 1076h0M1338 1073h0M1377 1080h0M1343 1093h0M1375 1085h0M1354 1023h0M1344 1046h0M1378 1099h0M1374 1062h0M1375 1023h0M1366 1039h0M1340 1053h0M1349 1033h0M1381 1100h0M1369 1037h0M1381 1077h0M1365 1104h0M1339 969h0M1341 944h0M1340 977h0M1338 977h0M1380 1018h0M1382 1055h0M1392 1070h0M1388 1064h0M1391 1090h0M1392 1046h0M1381 1069h0M1384 1048h0M1380 1087h0M1383 1008h0M1385 1029h0M1382 1018h0M1382 1061h0M1391 1106h0M1391 1085h0M1388 1094h0M1379 1103h0M1392 1041h0M1391 1002h0M1388 1023h0M1389 1096h0M1384 1077h0M1389 1021h0M1390 1061h0M1388 1102h0M1392 1067h0M1386 1013h0M1382 1071h0M1386 1020h0M1382 1001h0M1380 1076h0M1392 1085h0M1387 1063h0M1386 1082h0M1389 973h0M1383 997h0M1387 925h0M1394 923h0M1394 954h0M1387 981h0M1384 955h0M1385 966h0M1387 849h0M1395 906h0M1387 880h0M1392 999h0M1393 1009h0M1389 849h0M1391 876h0M1384 845h0M1388 987h0M1392 841h0M1392 913h0M1393 838h0M1391 854h0M1392 962h0M1386 871h0M1388 887h0M1392 951h0M1394 983h0M1390 930h0M1389 920h0M1384 910h0M1384 868h0M1395 852h0M1395 854h0M1391 995h0M1387 983h0M1386 834h0M1392 1008h0M1384 968h0M1385 905h0M1391 872h0M1384 878h0M1386 944h0M1391 831h0M1393 834h0M1387 926h0M1389 990h0M1389 932h0M1393 946h0M1387 980h0M1386 832h0M1385 1002h0M1394 919h0M1388 899h0M1395 948h0M1385 963h0M1394 912h0M1393 973h0M1389 888h0M1386 889h0M1389 928h0M1392 966h0M1391 866h0M1393 994h0M1385 869h0M1385 863h0M1391 956h0M1384 921h0M1394 834h0M1388 955h0M1390 979h0M1396 848h0M1386 951h0M1386 1011h0M1395 850h0M1368 1008h0M1375 1011h0M1361 1014h0M1372 1013h0M1379 998h0M1358 1015h0M1356 1015h0M1369 1012h0M1382 1012h0M1374 1005h0M1357 1015h0M1369 1011h0M1378 1001h0M1374 1004h0M1359 1014h0M1358 1014h0M1415 1063h0M1409 919h0M1416 1104h0M1409 997h0M1397 933h0M1407 1038h0M1411 1014h0M1404 1023h0M1411 847h0M1395 933h0M1408 908h0M1410 1075h0M1398 883h0M1415 1095h0M1408 1086h0M1404 856h0M1398 910h0M1409 1059h0M1414 1062h0M1416 879h0M1394 901h0M1409 852h0M1413 903h0M1402 1050h0M1412 960h0M1405 959h0M1400 1103h0M1416 1032h0M1404 887h0M1401 1086h0M1411 997h0M1403 865h0M1411 937h0M1408 1091h0M1399 1071h0M1411 973h0M1403 926h0M1413 921h0M1414 1102h0M1412 1069h0M1405 970h0M1393 933h0M1399 923h0M1416 1043h0M1408 866h0M1413 1034h0M1413 973h0M1429 956h0M1430 930h0M1428 866h0M1430 1055h0M1430 1078h0M1419 936h0M1419 844h0M1417 879h0M1428 966h0M1427 979h0M1426 1048h0M1430 995h0M1417 998h0M1428 872h0M1430 1001h0M1429 1021h0M1435 965h0M1433 1059h0M1431 928h0M1431 1064h0M1436 1048h0M1433 1046h0M1433 1007h0M1431 1096h0M1431 1077h0M1432 1107h0M1433 1047h0M1432 955h0M1436 977h0M1445 945h0M1445 963h0M1438 1034h0M1444 1024h0M1441 911h0M1439 882h0M1437 892h0M1442 985h0M1443 1025h0M1438 889h0M1443 1042h0M1451 973h0M1448 1049h0M1451 991h0M1451 864h0M1448 862h0M1452 977h0M1448 1088h0M1453 977h0M1448 904h0M1454 1018h0M1454 984h0M1451 960h0M1453 1011h0M1454 852h0M1448 970h0M1452 1043h0M1450 1107h0M1447 930h0M1448 929h0M1457 1012h0M1456 1021h0M1456 841h0M1458 870h0M1455 934h0M1456 918h0M1456 1007h0M1456 957h0M1457 987h0M1456 911h0M1457 922h0M1455 938h0M1457 912h0M1456 878h0M1456 837h0M1458 1014h0M1456 878h0M1457 870h0M1457 842h0M1456 867h0M1456 979h0M1456 910h0M1457 985h0M1457 897h0M1457 1007h0M1456 911h0M1457 1023h0M1457 874h0M1457 1029h0M1457 903h0M1456 889h0M1456 913h0M1456 939h0M1457 855h0M1456 891h0M1455 962h0M1455 1017h0M1457 897h0M1457 846h0M1458 1028h0M1456 925h0M1456 1029h0M1456 902h0M1458 830h0M1455 965h0M1457 1016h0M1457 834h0M1456 862h0M1457 1031h0M1455 957h0M1454 918h0M1456 936h0M1455 930h0M1456 961h0M1454 950h0M1466 982h0M1469 868h0M1467 886h0M1465 983h0M1466 978h0M1467 903h0M1464 912h0M1466 992h0M1467 960h0M1468 994h0M1466 995h0M1466 984h0M1467 877h0M1467 986h0M1468 939h0M1468 1029h0M1467 996h0M1467 851h0M1468 902h0M1467 1022h0M1467 998h0M1467 948h0M1467 1007h0M1467 934h0M1467 918h0M1468 895h0M1467 874h0M1466 844h0M1466 872h0M1466 852h0M1466 903h0M1467 854h0M1467 1020h0M1467 918h0M1467 996h0M1467 995h0M1465 925h0M1466 847h0M1467 1032h0M1467 941h0M1468 937h0M1467 1002h0M1468 840h0M1466 845h0M1467 830h0M1465 1000h0M1467 881h0M1468 888h0M1466 915h0M1467 943h0M1467 963h0M1468 935h0M1469 945h0M1472 871h0M1474 850h0M1476 879h0M1470 835h0M1493 915h0M1492 917h0M1479 993h0M1479 1005h0M1489 1003h0M1637 1017h0M1501 1105h0M1542 1015h0M1481 1093h0M1570 1077h0M1538 1030h0M1623 1022h0M1529 1033h0M1587 1051h0M1558 1074h0M1577 1087h0M1589 1021h0M1573 1032h0M1590 1026h0M1485 1023h0M1615 1097h0M1544 1015h0M1584 1080h0M1524 1025h0M1568 1089h0M1552 1080h0M1521 1019h0M1568 1089h0M1650 1059h0M1460 1088h0M1504 1084h0M1528 1092h0M1487 1082h0M1591 1073h0M1502 1034h0M1579 1044h0M1504 1081h0M1524 1077h0M1497 1015h0M1549 1100h0M1498 1049h0M1539 1024h0M1640 1040h0M1559 1066h0M1517 1059h0M1634 1104h0M1495 1079h0M1511 1018h0M1538 1078h0M1602 1020h0M1548 1074h0M1496 1018h0M1508 1048h0M1577 1096h0M1565 1088h0M1515 1102h0M1479 1095h0M1450 1091h0M1611 1098h0M1534 1016h0M1631 1060h0M1508 1041h0M1512 1052h0M1569 1071h0M1458 1100h0M1647 1085h0M1622 1035h0M1534 1043h0M1554 1026h0M1595 1038h0M1469 1061h0M1539 1066h0M1458 1078h0M1640 1033h0M1618 1060h0M1511 1046h0M1648 1021h0M1511 1071h0M1464 1050h0M1597 1094h0M1618 1046h0M1616 1069h0M1611 1102h0M1627 1094h0M1587 1089h0M1615 1091h0M1527 1058h0M1490 1028h0M1612 1050h0M1453 1076h0M1469 1048h0M1559 1018h0M1596 1093h0M1608 1098h0M1573 1053h0M1514 1021h0M1596 1060h0M1552 1049h0M1592 1064h0M1631 1064h0M1466 1061h0M1524 1087h0M1570 1047h0M1585 1025h0M1576 1079h0M1581 1077h0M1527 1055h0M1559 1061h0M1551 1077h0M1593 1107h0M1501 1018h0M1584 1103h0M1642 1106h0M1587 1049h0M1472 1073h0M1604 1070h0M1592 1060h0M1554 1054h0M1613 1053h0M1452 1095h0M1521 1067h0M1592 1021h0M1623 1041h0M1646 1093h0M1571 1040h0M1565 1059h0M1531 1059h0M1517 1061h0M1601 1044h0M1527 1027h0M1563 1036h0M1466 1039h0M1625 1019h0M1606 1030h0M1559 1040h0M1571 1092h0M1582 1082h0M1589 1102h0M1540 1040h0M1640 1027h0M1492 1047h0M1604 1070h0M1468 1070h0M1581 1074h0M1483 1036h0M1468 1078h0M1495 1087h0M1563 1088h0M1580 1027h0M1618 1030h0M1644 1016h0M1595 1082h0M1644 1024h0M1533 1060h0M1478 1018h0M1572 1066h0M1522 1053h0M1502 1091h0M1554 1039h0M1506 1107h0M1617 1097h0M1567 1075h0M1478 1095h0M1488 1069h0M1573 1041h0M1544 1053h0M1503 1041h0M1565 1057h0M1516 1063h0M1452 1106h0M1554 1039h0M1586 1065h0M1541 1026h0M1621 1042h0M1453 1064h0M1617 1056h0M1519 1056h0M1612 1069h0M1529 1038h0M1589 1106h0M1600 1016h0M1544 1077h0M1577 1024h0M1598 1036h0M1568 1031h0M1542 1027h0M1462 1069h0M1519 1093h0M1536 1089h0M1566 1084h0M1475 1079h0M1468 1046h0M1487 1019h0M1613 1092h0M1500 1061h0M1473 1081h0M1514 1068h0M1613 1023h0M1649 1049h0M1459 1086h0M1474 1084h0M1574 1059h0M1578 1036h0M1458 1028h0M1529 1094h0M1498 1016h0M1636 1053h0M1575 1084h0M1487 1099h0M1552 1041h0M1511 1101h0M1517 1088h0M1506 1032h0M1552 1095h0M1604 1098h0M1487 1080h0M1479 1060h0M1619 1075h0M1642 1095h0M1616 1061h0M1531 1078h0M1620 1098h0M1489 1061h0M1515 1107h0M1578 1084h0M1518 1056h0M1542 1104h0M1636 1073h0M1562 1099h0M1482 1048h0M1630 1027h0M1523 1035h0M1539 1017h0M1635 1054h0M1520 1026h0M1500 1023h0M1477 1075h0M1625 1087h0M1595 1035h0M1461 1079h0M1626 1027h0M1646 1083h0M1472 1097h0M1517 1075h0M1636 1032h0M1637 1042h0M1524 1088h0M1577 1087h0M1493 1075h0M1552 1062h0M1530 1082h0M1645 1091h0M1547 1020h0M1613 1020h0M1463 1103h0M1460 1083h0M1479 1060h0M1561 1019h0M1587 1019h0M1473 1032h0M1494 1070h0M1625 1097h0M1572 1046h0M1550 1084h0M1485 1085h0M1522 1079h0M1505 1033h0M1532 1047h0M1587 1052h0M1563 1107h0M1509 1104h0M1512 1070h0M1520 1034h0M1621 1083h0M1628 1083h0M1600 1030h0M1558 1063h0M1633 1034h0M1560 1017h0M1593 1081h0M1530 1085h0M1646 1101h0M1555 1032h0M1543 1091h0M1569 1029h0M1579 1083h0M1466 1035h0M1550 1043h0M1504 1019h0M1598 1091h0M1578 1094h0M1527 1077h0M1560 1033h0M1623 1029h0M1556 1071h0M1497 1107h0M1644 1063h0M1504 1079h0M1582 1060h0M1626 1028h0M1642 1020h0M1539 1039h0M1645 1069h0M1629 1069h0M1460 1054h0M1549 1106h0M1610 1035h0M1599 1031h0M1468 1036h0M1481 1059h0M1544 1094h0M1649 1089h0M1633 1056h0M1626 1046h0M1649 1044h0M1599 1052h0M1510 1079h0M1567 1048h0M1625 1018h0M1531 1105h0M1625 1061h0M1573 1090h0M1586 1050h0M1530 1036h0M1615 1048h0M1591 1075h0M1571 1072h0M1475 1046h0M1610 1091h0M1596 1046h0M1469 1059h0M1556 1073h0M1625 1035h0M1468 1093h0M1543 1086h0M1547 1107h0M1530 1102h0M1489 1034h0M1555 1061h0M1599 1068h0M1501 1031h0M1524 1068h0M1510 1016h0M1561 1071h0M1514 1029h0M1620 1091h0M1477 1065h0M1470 1102h0M1577 1066h0M1597 1034h0M1580 1027h0M1523 1049h0M1519 1100h0M1531 1025h0M1635 1082h0M1648 1099h0M1589 1021h0M1474 1050h0M1515 1089h0M1583 1071h0M1543 1048h0M1475 1065h0M1533 1061h0M1505 1095h0M1533 1080h0M1507 1033h0M1463 1028h0M1610 1020h0M1473 1031h0M1639 1102h0M1588 1069h0M1642 1039h0M1579 1102h0M1538 1076h0M1616 1028h0M1482 1064h0M1547 1095h0M1458 1074h0M1607 1083h0M1519 1040h0M1539 1027h0M1508 1065h0M1573 1077h0M1591 1059h0M1537 1042h0M1551 1087h0M1607 1091h0M1463 1068h0M1632 1060h0M1626 1017h0M1562 1048h0M1575 1068h0M1512 1084h0M1630 1022h0M1596 1066h0M1544 1016h0M1569 1037h0M1576 1073h0M1463 1049h0M1551 1095h0M1643 1059h0M1550 1040h0M1585 1068h0M1483 1100h0M1551 1083h0M1538 1022h0M1485 1017h0M1469 1019h0M1576 1033h0M1488 1052h0M1616 1092h0M1557 1015h0M1592 1062h0M1485 1036h0M1508 1100h0M1577 1099h0M1471 1032h0M1628 1021h0M1529 1020h0M1538 1099h0M1513 1085h0M1589 1068h0M1617 1029h0M1519 1029h0M1510 1080h0M1499 1082h0M1463 1031h0M1627 1068h0M1512 1106h0M1576 1081h0M1521 1084h0M1605 1030h0M1520 1088h0M1549 1020h0M1522 1045h0M1491 1063h0M1513 1056h0M1573 1080h0M1642 1096h0M1575 1087h0M1524 1056h0M1616 1087h0M1492 1054h0M1640 1043h0M1490 1071h0M1456 1053h0M1471 1068h0M1574 1060h0M1509 1106h0M1523 1071h0M1538 1042h0M1518 1068h0M1624 1079h0M1504 1060h0M1460 1049h0M1571 1024h0M1556 1077h0M1544 1031h0M1618 1017h0M1569 1097h0M1462 1064h0M1538 1072h0M1566 1047h0M1629 1017h0M1594 1096h0M1579 1106h0M1542 1032h0M1649 1054h0M1628 1016h0M1624 1082h0M1509 1104h0M1518 1077h0M1519 1060h0M1520 1104h0M1537 1048h0M1587 1031h0M1623 1092h0M1541 1031h0M1637 1091h0M1468 1061h0M1556 1021h0M1476 1092h0M1488 1035h0M1626 1101h0M1648 1068h0M1550 1027h0M1586 1046h0M1585 1074h0M1534 1091h0M1506 1043h0M1547 1101h0M1582 1065h0M1618 1058h0M1552 1089h0M1567 1031h0M1647 1094h0M1521 1018h0M1586 1035h0M1639 1061h0M1479 1093h0M1525 1082h0M1531 1055h0M1481 1016h0M1560 1096h0M1625 1028h0M1582 1107h0M1483 1089h0M1615 1065h0M1624 1030h0M1524 1052h0M1643 1022h0M1482 1085h0M1478 1044h0M1637 1067h0M1624 1094h0M1575 1071h0M1470 1051h0M1458 1041h0M1554 1061h0M1452 1102h0M1502 1108h0M1536 1093h0M1597 1102h0M1621 1028h0M1636 1067h0M1629 1060h0M1610 1031h0M1471 1036h0M1640 1100h0M1518 1101h0M1488 1074h0M1455 1107h0M1494 1079h0M1521 1102h0M1502 1094h0M1585 1018h0M1639 1045h0M1619 1053h0M1503 1087h0M1622 1092h0M1641 1069h0M1529 1103h0M1499 1043h0M1576 1103h0M1539 1035h0M1472 1083h0M1551 1084h0M1505 1063h0M1475 1064h0M1534 1040h0M1510 1071h0M1525 1017h0M1491 1030h0M1577 1016h0M1533 1105h0M1639 1017h0M1619 1052h0M1456 1105h0M1488 1108h0M1573 1085h0M1644 1053h0M1540 1102h0M1456 1068h0M1511 1083h0M1577 1073h0M1583 1034h0M1459 1046h0M1563 1107h0M1495 1024h0M1450 1096h0M1646 1082h0M1645 1093h0M1527 1030h0M1463 1021h0M1470 1090h0M1599 1107h0M1591 1052h0M1498 1031h0M1558 1087h0M1591 1034h0M1562 1098h0M1571 1053h0M1530 1090h0M1498 1078h0M1465 1049h0M1598 1102h0M1467 1105h0M1577 1101h0M1628 1092h0M1485 1041h0M1567 1030h0M1623 1026h0M1514 1083h0M1525 1072h0M1538 1078h0M1593 1057h0M1640 1071h0M1530 1058h0M1564 1026h0M1469 1083h0M1612 1108h0M1555 1025h0M1528 1059h0M1615 1051h0M1641 1047h0M1617 1031h0M1589 1019h0M1466 1073h0M1574 1036h0M1503 1099h0M1503 1102h0M1641 1075h0M1579 1037h0M1461 1053h0M1595 1099h0M1570 1029h0M1556 1104h0M1588 1065h0M1562 1027h0M1548 1023h0M1629 1101h0M1585 1066h0M1580 1089h0M1570 1105h0M1576 1102h0M1611 1072h0M1620 1094h0M1478 1042h0M1648 1051h0M1591 1050h0M1507 1054h0M1641 1094h0M1496 1054h0M1529 1050h0M1632 1056h0M1462 1065h0M1556 1065h0M1474 1043h0M1533 1043h0M1530 1094h0M1605 1085h0M1624 1084h0M1489 1020h0M1519 1017h0M1482 1089h0M1563 1088h0M1543 1041h0M1548 1106h0M1469 1085h0M1549 1041h0M1591 1074h0M1550 1028h0M1455 1089h0M1511 1024h0M1598 1073h0M1592 1020h0M1513 1042h0M1616 1080h0M1572 1021h0M1572 1063h0M1494 1096h0M1642 1060h0M1523 1071h0M1592 1093h0M1509 1050h0M1542 1014h0M1511 1091h0M1518 1079h0M1578 1067h0M1455 1061h0M1643 1097h0M1563 1053h0M1556 1081h0M1491 1082h0M1584 1027h0M1649 1081h0M1640 1083h0M1484 1107h0M1592 1022h0M1480 1084h0M1562 1074h0M1593 1030h0M1616 1062h0M1500 1061h0M1610 1057h0M1471 1035h0M1508 1082h0M1475 1070h0M1647 1096h0M1485 1047h0M1539 1091h0M1629 1049h0M1618 1094h0M1535 1073h0M1572 1076h0M1568 1083h0M1496 1028h0M1509 1077h0M1544 1079h0M1512 1045h0M1630 1082h0M1493 1061h0M1574 1078h0M1641 1102h0M1519 1057h0M1538 1043h0M1627 1027h0M1482 1031h0M1552 1072h0M1618 1081h0M1575 1050h0M1466 1055h0M1488 1025h0" stroke="#4a1a74" stroke-opacity="0.52" stroke-width="2.9" stroke-linecap="round" fill="none"/><path d="M1344 1034h0M1373 1089h0M1381 1050h0M1372 1093h0M1341 1099h0M1373 1067h0M1346 1030h0M1363 1074h0M1341 1101h0M1353 1095h0M1347 1093h0M1382 1055h0M1355 1047h0M1383 1089h0M1370 1078h0M1367 1037h0M1367 1099h0M1339 1023h0M1373 1090h0M1377 1059h0M1370 1086h0M1369 1018h0M1349 1103h0M1383 1107h0M1369 1026h0M1378 1105h0M1380 1099h0M1373 1052h0M1379 1098h0M1353 1057h0M1375 1059h0M1381 1074h0M1351 1082h0M1376 1052h0M1341 1069h0M1370 1065h0M1339 1068h0M1350 1018h0M1365 1026h0M1359 1102h0M1345 1029h0M1362 1062h0M1362 1102h0M1350 1067h0M1366 1037h0M1339 1060h0M1343 1071h0M1355 1046h0M1362 1079h0M1344 1074h0M1358 1070h0M1348 1059h0M1349 1028h0M1368 1070h0M1376 1062h0M1369 1054h0M1375 1092h0M1371 1057h0M1355 1026h0M1360 1078h0M1352 1105h0M1362 1077h0M1370 1043h0M1375 1021h0M1363 1084h0M1378 1083h0M1339 1071h0M1370 1108h0M1357 1061h0M1343 1087h0M1363 1060h0M1360 1091h0M1373 1091h0M1356 1102h0M1367 1051h0M1343 1016h0M1362 1020h0M1366 1036h0M1353 1084h0M1338 1047h0M1379 1079h0M1365 1100h0M1346 1037h0M1342 1031h0M1346 1018h0M1350 1082h0M1350 1021h0M1383 1072h0M1346 1045h0M1344 1054h0M1377 1083h0M1368 1050h0M1379 1030h0M1369 1041h0M1345 1103h0M1378 1031h0M1379 1042h0M1366 1046h0M1375 1093h0M1366 1099h0M1375 1107h0M1357 1097h0M1366 1059h0M1364 1102h0M1356 1033h0M1377 1063h0M1338 1047h0M1342 1064h0M1355 1069h0M1377 1088h0M1345 1079h0M1358 1083h0M1341 1024h0M1345 1061h0M1359 1074h0M1373 1107h0M1382 1103h0M1351 1018h0M1371 1043h0M1349 1072h0M1350 1055h0M1354 1087h0M1367 1066h0M1352 1072h0M1354 1089h0M1361 1068h0M1355 1091h0M1355 1070h0M1359 1073h0M1344 1053h0M1352 1091h0M1377 1073h0M1369 1029h0M1372 1078h0M1344 1088h0M1373 1022h0M1363 1084h0M1342 1087h0M1367 1071h0M1358 1105h0M1374 1071h0M1367 1061h0M1356 1052h0M1373 1070h0M1354 1076h0M1382 1093h0M1349 1020h0M1360 1069h0M1345 1052h0M1349 1084h0M1375 1042h0M1367 1105h0M1377 1092h0M1352 1037h0M1357 1026h0M1345 1037h0M1347 1058h0M1366 1051h0M1375 1100h0M1375 1067h0M1358 1025h0M1349 1105h0M1355 1044h0M1357 1103h0M1360 1105h0M1376 1097h0M1357 1095h0M1357 1021h0M1366 1071h0M1375 1071h0M1365 1088h0M1366 1039h0M1345 1079h0M1354 1092h0M1350 1086h0M1343 1076h0M1363 1095h0M1351 1056h0M1362 1040h0M1378 1081h0M1339 1073h0M1358 1024h0M1382 1022h0M1345 1046h0M1380 1039h0M1362 1051h0M1377 1050h0M1344 1051h0M1382 1073h0M1352 1073h0M1376 1032h0M1378 1018h0M1378 1096h0M1382 1085h0M1353 1018h0M1364 1081h0M1379 1102h0M1348 1026h0M1366 1086h0M1350 1060h0M1358 1084h0M1380 1100h0M1373 1035h0M1359 1088h0M1362 1067h0M1359 1062h0M1343 1054h0M1343 1038h0M1364 1016h0M1374 1105h0M1370 1051h0M1376 1057h0M1368 1056h0M1355 1029h0M1368 1070h0M1346 1087h0M1355 1035h0M1379 1061h0M1349 1071h0M1360 1041h0M1363 1024h0M1380 1019h0M1367 1050h0M1354 1028h0M1381 1049h0M1338 947h0M1341 980h0M1340 945h0M1339 952h0M1338 1010h0M1382 1096h0M1389 1082h0M1381 1079h0M1381 1098h0M1385 1080h0M1381 1097h0M1390 1087h0M1392 1054h0M1384 1030h0M1384 1060h0M1381 1001h0M1385 1088h0M1386 1092h0M1382 1021h0M1382 1093h0M1392 1059h0M1393 1094h0M1390 1035h0M1385 1024h0M1379 1079h0M1383 1018h0M1383 1075h0M1387 1062h0M1391 1064h0M1381 1084h0M1392 1030h0M1387 1006h0M1388 1091h0M1380 1041h0M1389 1090h0M1380 1050h0M1389 1026h0M1391 1025h0M1392 1077h0M1384 1048h0M1379 1096h0M1392 1079h0M1385 1046h0M1384 1068h0M1393 1052h0M1391 1044h0M1389 1036h0M1387 905h0M1393 861h0M1387 895h0M1384 872h0M1386 971h0M1385 841h0M1390 850h0M1394 897h0M1387 925h0M1383 908h0M1389 979h0M1385 842h0M1394 845h0M1394 915h0M1391 888h0M1388 853h0M1386 938h0M1392 995h0M1388 863h0M1395 956h0M1395 845h0M1390 915h0M1391 831h0M1385 839h0M1392 992h0M1394 838h0M1391 1014h0M1392 910h0M1395 951h0M1384 920h0M1394 926h0M1393 1004h0M1391 845h0M1389 859h0M1392 910h0M1385 907h0M1384 944h0M1384 936h0M1388 969h0M1395 926h0M1384 937h0M1390 869h0M1388 952h0M1385 984h0M1393 950h0M1393 985h0M1391 982h0M1393 834h0M1393 894h0M1393 941h0M1388 927h0M1391 937h0M1386 932h0M1394 860h0M1388 972h0M1391 928h0M1393 982h0M1387 885h0M1392 840h0M1388 874h0M1393 996h0M1384 974h0M1389 893h0M1385 893h0M1392 911h0M1390 865h0M1387 871h0M1394 922h0M1388 856h0M1376 1001h0M1379 996h0M1360 1014h0M1362 1013h0M1362 1015h0M1380 1004h0M1362 1013h0M1370 1014h0M1356 1015h0M1368 1013h0M1360 1013h0M1364 1012h0M1380 999h0M1357 1015h0M1378 1015h0M1359 1015h0M1396 1014h0M1409 975h0M1397 1031h0M1405 991h0M1402 854h0M1405 895h0M1406 994h0M1412 989h0M1411 1052h0M1397 894h0M1405 908h0M1411 1081h0M1405 969h0M1394 932h0M1407 927h0M1411 878h0M1407 862h0M1403 1052h0M1415 839h0M1404 880h0M1411 1077h0M1405 908h0M1415 1053h0M1412 909h0M1398 840h0M1415 929h0M1413 1103h0M1402 949h0M1414 1078h0M1394 877h0M1411 1088h0M1411 1048h0M1397 1049h0M1404 1080h0M1404 947h0M1408 1064h0M1398 1046h0M1396 958h0M1399 841h0M1414 1075h0M1396 861h0M1408 1014h0M1394 956h0M1401 845h0M1399 1069h0M1422 837h0M1421 1073h0M1431 868h0M1432 870h0M1431 1067h0M1424 932h0M1423 918h0M1420 950h0M1429 1049h0M1427 1052h0M1431 894h0M1422 898h0M1430 1046h0M1428 873h0M1426 835h0M1422 1096h0M1421 948h0M1426 864h0M1425 957h0M1423 850h0M1424 853h0M1418 849h0M1428 979h0M1431 1101h0M1428 956h0M1433 938h0M1435 933h0M1437 1101h0M1436 959h0M1429 992h0M1428 957h0M1434 985h0M1433 996h0M1433 1012h0M1429 990h0M1434 915h0M1430 1082h0M1432 928h0M1437 1025h0M1428 1056h0M1430 971h0M1428 998h0M1432 1103h0M1435 985h0M1436 1095h0M1442 893h0M1448 836h0M1442 1034h0M1444 951h0M1440 1059h0M1448 1044h0M1439 842h0M1448 925h0M1441 934h0M1437 853h0M1440 907h0M1447 972h0M1450 977h0M1452 1037h0M1453 850h0M1448 1092h0M1450 873h0M1451 972h0M1450 859h0M1449 853h0M1451 909h0M1448 1069h0M1452 938h0M1447 848h0M1447 927h0M1454 1037h0M1453 1016h0M1452 1071h0M1452 999h0M1449 1065h0M1453 841h0M1451 1025h0M1447 1049h0M1456 884h0M1457 938h0M1457 1008h0M1456 972h0M1457 972h0M1457 975h0M1457 984h0M1457 964h0M1456 856h0M1456 842h0M1456 925h0M1457 1025h0M1458 896h0M1457 874h0M1457 975h0M1456 1020h0M1455 840h0M1455 958h0M1457 850h0M1456 965h0M1458 1020h0M1457 926h0M1456 861h0M1456 871h0M1455 858h0M1455 852h0M1456 949h0M1456 863h0M1456 894h0M1458 879h0M1457 1027h0M1456 992h0M1456 875h0M1456 996h0M1458 849h0M1456 1013h0M1456 883h0M1455 894h0M1456 959h0M1456 887h0M1458 939h0M1456 947h0M1456 1020h0M1457 848h0M1455 866h0M1457 947h0M1457 980h0M1457 913h0M1457 941h0M1455 876h0M1457 860h0M1456 1017h0M1456 901h0M1456 1031h0M1457 873h0M1456 947h0M1468 905h0M1467 975h0M1466 994h0M1466 1003h0M1466 990h0M1467 978h0M1466 990h0M1466 879h0M1467 877h0M1466 1030h0M1466 931h0M1467 900h0M1466 877h0M1466 847h0M1466 973h0M1466 846h0M1467 859h0M1465 1000h0M1466 988h0M1466 837h0M1467 993h0M1467 970h0M1466 976h0M1467 844h0M1467 1002h0M1466 912h0M1467 1031h0M1467 1017h0M1467 831h0M1466 960h0M1467 980h0M1467 889h0M1466 1009h0M1467 975h0M1467 1013h0M1467 864h0M1467 872h0M1468 938h0M1466 973h0M1466 874h0M1466 862h0M1465 863h0M1467 927h0M1466 936h0M1467 863h0M1466 873h0M1467 846h0M1467 933h0M1466 926h0M1467 899h0M1465 855h0M1466 1008h0M1467 917h0M1466 880h0M1467 1012h0M1475 905h0M1472 940h0M1474 946h0M1476 856h0M1469 945h0M1477 844h0M1468 867h0M1476 961h0M1469 846h0M1471 885h0M1477 894h0M1475 883h0M1493 976h0M1494 958h0M1476 1002h0M1493 1007h0M1492 1010h0M1486 998h0M1629 1054h0M1607 1099h0M1517 1057h0M1573 1102h0M1514 1040h0M1556 1045h0M1646 1042h0M1514 1065h0M1594 1086h0M1639 1046h0M1572 1095h0M1564 1107h0M1584 1031h0M1613 1040h0M1522 1027h0M1578 1030h0M1607 1085h0M1639 1050h0M1502 1031h0M1593 1089h0M1519 1056h0M1505 1098h0M1495 1075h0M1646 1053h0M1519 1060h0M1520 1094h0M1468 1038h0M1637 1063h0M1552 1077h0M1488 1091h0M1630 1071h0M1503 1049h0M1560 1081h0M1644 1093h0M1453 1073h0M1620 1048h0M1622 1042h0M1493 1023h0M1509 1041h0M1633 1030h0M1572 1044h0M1536 1067h0M1525 1102h0M1613 1060h0M1486 1078h0M1544 1088h0M1642 1019h0M1646 1038h0M1537 1029h0M1504 1057h0M1479 1065h0M1613 1016h0M1507 1040h0M1551 1107h0M1511 1087h0M1591 1092h0M1494 1064h0M1589 1043h0M1469 1066h0M1511 1103h0M1633 1038h0M1541 1070h0M1519 1088h0M1499 1045h0M1488 1040h0M1617 1077h0M1465 1054h0M1453 1089h0M1514 1091h0M1494 1059h0M1616 1049h0M1525 1016h0M1453 1077h0M1505 1051h0M1510 1047h0M1556 1094h0M1596 1024h0M1482 1041h0M1455 1064h0M1643 1106h0M1465 1078h0M1565 1085h0M1567 1077h0M1532 1046h0M1526 1040h0M1565 1084h0M1602 1037h0M1623 1017h0M1616 1102h0M1495 1090h0M1484 1096h0M1484 1081h0M1497 1045h0M1523 1071h0M1465 1095h0M1633 1050h0M1587 1039h0M1634 1090h0M1474 1018h0M1647 1097h0M1568 1027h0M1490 1068h0M1634 1075h0M1488 1105h0M1622 1099h0M1634 1089h0M1639 1015h0M1648 1081h0M1524 1098h0M1649 1101h0M1609 1035h0M1581 1051h0M1521 1016h0M1531 1042h0M1469 1033h0M1506 1043h0M1649 1105h0M1464 1089h0M1548 1040h0M1568 1089h0M1563 1089h0M1630 1060h0M1590 1102h0M1497 1080h0M1596 1057h0M1542 1066h0M1495 1018h0M1455 1055h0M1563 1035h0M1541 1098h0M1570 1070h0M1591 1031h0M1626 1017h0M1514 1017h0M1518 1074h0M1630 1048h0M1466 1085h0M1615 1073h0M1456 1046h0M1541 1053h0M1529 1049h0M1622 1065h0M1574 1073h0M1561 1030h0M1578 1074h0M1476 1037h0M1599 1050h0M1586 1019h0M1573 1105h0M1478 1105h0M1465 1083h0M1617 1074h0M1461 1100h0M1632 1023h0M1456 1050h0M1602 1023h0M1595 1028h0M1536 1022h0M1503 1106h0M1464 1057h0M1488 1059h0M1569 1086h0M1638 1080h0M1590 1104h0M1489 1095h0M1573 1052h0M1572 1026h0M1577 1053h0M1457 1086h0M1632 1101h0M1493 1102h0M1601 1054h0M1505 1022h0M1481 1043h0M1487 1023h0M1501 1056h0M1630 1029h0M1638 1102h0M1556 1068h0M1640 1023h0M1493 1066h0M1473 1056h0M1588 1099h0M1465 1048h0M1517 1015h0M1548 1071h0M1560 1029h0M1535 1079h0M1531 1033h0M1591 1098h0M1589 1069h0M1473 1102h0M1641 1031h0M1605 1021h0M1477 1097h0M1592 1104h0M1453 1097h0M1553 1045h0M1504 1089h0M1618 1101h0M1467 1051h0M1622 1081h0M1547 1063h0M1641 1105h0M1632 1061h0M1563 1074h0M1574 1037h0M1541 1062h0M1570 1020h0M1635 1061h0M1487 1062h0M1589 1081h0M1472 1041h0M1488 1107h0M1477 1069h0M1576 1032h0M1549 1039h0M1455 1058h0M1587 1041h0M1637 1040h0M1529 1033h0M1566 1050h0M1645 1050h0M1468 1032h0M1532 1027h0M1488 1101h0M1549 1103h0M1500 1071h0M1576 1059h0M1620 1042h0M1569 1078h0M1463 1044h0M1636 1090h0M1633 1106h0M1562 1019h0M1585 1052h0M1474 1083h0M1466 1102h0M1591 1041h0M1456 1065h0M1596 1021h0M1500 1061h0M1545 1032h0M1465 1083h0M1587 1024h0M1469 1077h0M1517 1070h0M1519 1044h0M1519 1049h0M1555 1050h0M1635 1019h0M1530 1047h0M1610 1107h0M1501 1107h0M1636 1054h0M1633 1047h0M1518 1107h0M1634 1023h0M1649 1015h0M1504 1031h0M1568 1016h0M1611 1063h0M1499 1097h0M1466 1079h0M1550 1089h0M1600 1065h0M1461 1034h0M1618 1095h0M1539 1090h0M1587 1049h0M1545 1020h0M1635 1039h0M1592 1047h0M1635 1034h0M1624 1040h0M1501 1059h0M1544 1088h0M1505 1026h0M1471 1101h0M1455 1054h0M1504 1039h0M1567 1061h0M1486 1108h0M1498 1107h0M1618 1095h0M1559 1098h0M1470 1052h0M1540 1065h0M1454 1072h0M1594 1064h0M1612 1085h0M1478 1079h0M1597 1106h0M1602 1038h0M1639 1027h0M1624 1052h0M1626 1100h0M1624 1059h0M1490 1056h0M1569 1086h0M1519 1024h0M1599 1069h0M1536 1090h0M1599 1049h0M1624 1090h0M1594 1079h0M1606 1101h0M1565 1043h0M1493 1036h0M1490 1075h0M1591 1076h0M1536 1072h0M1624 1036h0M1605 1099h0M1639 1106h0M1537 1082h0M1452 1094h0M1461 1048h0M1465 1104h0M1587 1034h0M1604 1084h0M1463 1040h0M1635 1055h0M1512 1038h0M1600 1042h0M1467 1039h0M1473 1084h0M1628 1094h0M1525 1078h0M1526 1100h0M1578 1046h0M1469 1091h0M1646 1050h0M1498 1044h0M1482 1105h0M1582 1060h0M1564 1043h0M1566 1046h0M1574 1015h0M1523 1080h0M1635 1055h0M1513 1049h0M1536 1098h0M1617 1096h0M1591 1062h0M1579 1027h0M1475 1076h0M1643 1088h0M1459 1085h0M1522 1096h0M1524 1032h0M1580 1028h0M1549 1052h0M1492 1054h0M1498 1072h0M1647 1034h0M1592 1078h0M1466 1021h0M1618 1061h0M1584 1035h0M1635 1076h0M1544 1075h0M1525 1098h0M1461 1038h0M1569 1093h0M1560 1092h0M1597 1104h0M1570 1080h0M1586 1055h0M1466 1082h0M1469 1088h0M1456 1039h0M1460 1037h0M1532 1057h0M1622 1025h0M1469 1046h0M1490 1043h0M1595 1090h0M1582 1090h0M1571 1025h0M1570 1080h0M1633 1102h0M1561 1105h0M1460 1047h0M1480 1088h0M1589 1096h0M1634 1015h0M1646 1077h0M1604 1029h0M1545 1061h0M1593 1047h0M1521 1063h0M1552 1080h0M1482 1020h0M1576 1033h0M1467 1022h0M1633 1022h0M1595 1075h0M1597 1017h0M1567 1039h0M1473 1015h0M1534 1078h0M1537 1088h0M1643 1040h0M1468 1040h0M1587 1069h0M1649 1049h0M1516 1084h0M1546 1067h0M1460 1068h0M1557 1028h0M1506 1056h0M1557 1091h0M1540 1072h0M1537 1092h0M1555 1054h0M1597 1105h0M1466 1098h0M1480 1058h0M1503 1033h0M1646 1028h0M1540 1097h0M1499 1044h0M1496 1104h0M1565 1031h0M1582 1019h0M1632 1071h0M1458 1038h0M1630 1102h0M1556 1045h0M1452 1092h0M1540 1087h0M1586 1034h0M1575 1071h0M1588 1029h0M1454 1087h0M1541 1103h0M1509 1036h0M1646 1075h0M1589 1072h0M1493 1064h0M1633 1092h0M1483 1090h0M1476 1046h0M1475 1015h0M1549 1016h0M1601 1078h0M1649 1037h0M1646 1092h0M1612 1067h0M1601 1036h0M1488 1017h0M1583 1067h0M1588 1050h0M1525 1077h0M1476 1022h0M1505 1081h0M1592 1017h0M1464 1077h0M1490 1047h0M1483 1104h0M1562 1039h0M1562 1108h0M1558 1083h0M1494 1095h0M1612 1093h0M1537 1079h0M1498 1090h0M1605 1028h0M1513 1048h0M1593 1083h0M1527 1081h0M1591 1041h0M1564 1107h0M1506 1058h0M1455 1080h0M1497 1026h0M1501 1054h0M1506 1088h0M1473 1098h0M1591 1050h0M1543 1056h0M1479 1050h0M1502 1036h0M1585 1095h0M1512 1024h0M1543 1035h0M1514 1048h0M1650 1107h0M1630 1082h0M1634 1041h0M1602 1063h0M1584 1051h0M1462 1105h0M1619 1091h0M1553 1063h0M1626 1049h0M1522 1093h0M1458 1040h0M1511 1060h0M1604 1045h0M1644 1044h0M1533 1023h0M1529 1053h0M1603 1030h0M1525 1023h0M1461 1070h0M1566 1076h0M1626 1073h0M1602 1092h0M1567 1028h0M1519 1049h0M1558 1085h0M1537 1077h0M1457 1027h0M1645 1089h0M1512 1033h0M1649 1042h0M1522 1062h0M1558 1019h0M1604 1078h0M1630 1016h0M1484 1073h0M1627 1069h0M1518 1015h0M1647 1035h0M1488 1095h0M1582 1051h0M1538 1056h0M1501 1035h0M1505 1093h0M1565 1078h0M1542 1092h0M1631 1086h0M1613 1057h0M1488 1108h0M1504 1040h0M1641 1076h0M1472 1019h0M1487 1034h0M1519 1039h0M1648 1060h0M1604 1022h0M1621 1084h0M1594 1065h0M1461 1028h0M1595 1034h0M1556 1035h0M1576 1092h0M1579 1100h0M1612 1082h0M1561 1019h0M1531 1065h0M1573 1032h0M1638 1086h0M1511 1018h0M1460 1043h0M1468 1047h0M1566 1028h0M1598 1056h0M1452 1085h0M1499 1040h0M1569 1050h0M1487 1099h0M1583 1069h0M1587 1091h0M1642 1091h0M1515 1084h0M1620 1043h0M1484 1096h0M1538 1018h0M1491 1095h0M1647 1089h0M1463 1038h0M1566 1027h0M1529 1075h0M1597 1048h0M1508 1047h0M1454 1095h0M1511 1082h0M1464 1038h0M1617 1071h0M1603 1021h0M1562 1058h0M1538 1096h0M1561 1105h0M1524 1106h0M1470 1046h0M1594 1093h0M1500 1107h0M1608 1016h0M1646 1082h0M1541 1031h0M1561 1023h0M1466 1057h0M1542 1047h0M1506 1021h0M1556 1052h0M1597 1072h0M1645 1015h0M1461 1021h0M1471 1021h0M1643 1108h0M1519 1028h0M1492 1042h0M1541 1056h0M1475 1036h0M1518 1095h0M1567 1042h0M1607 1058h0M1456 1106h0M1636 1093h0M1597 1034h0M1498 1050h0M1546 1076h0M1638 1083h0M1603 1024h0M1489 1068h0M1484 1093h0M1611 1037h0M1458 1021h0M1635 1039h0M1628 1091h0M1510 1029h0M1482 1095h0M1512 1024h0M1510 1031h0M1481 1040h0M1609 1084h0M1599 1105h0M1540 1039h0M1647 1067h0M1528 1080h0M1478 1051h0M1510 1104h0M1463 1020h0M1646 1029h0M1528 1021h0M1576 1064h0M1515 1086h0M1527 1059h0M1560 1059h0M1554 1085h0M1528 1095h0M1624 1023h0M1518 1033h0M1635 1063h0M1578 1017h0M1563 1101h0M1640 1016h0M1517 1076h0M1506 1050h0M1516 1092h0M1617 1053h0M1474 1098h0M1545 1050h0M1558 1060h0M1501 1051h0M1632 1074h0M1505 1052h0M1478 1080h0M1463 1086h0M1531 1069h0M1456 1065h0M1591 1080h0M1572 1058h0M1582 1018h0M1627 1041h0M1624 1042h0M1588 1033h0M1611 1045h0M1603 1038h0M1475 1054h0M1545 1059h0M1545 1045h0M1510 1018h0M1633 1043h0M1535 1033h0M1571 1056h0M1629 1036h0M1537 1104h0M1623 1056h0M1456 1086h0M1461 1104h0M1530 1086h0M1478 1049h0M1618 1029h0M1601 1102h0M1505 1022h0M1493 1098h0M1642 1030h0M1531 1030h0M1509 1057h0M1642 1105h0M1477 1029h0M1537 1092h0M1577 1063h0" stroke="#4a1a74" stroke-opacity="0.52" stroke-width="2.9" stroke-linecap="round" fill="none"/><path d="M1373 1083h0M1347 1076h0M1347 1084h0M1358 1065h0M1368 1098h0M1365 1101h0M1365 1038h0M1363 1071h0M1351 1068h0M1368 1048h0M1370 1100h0M1350 1043h0M1365 1032h0M1338 1032h0M1374 1038h0M1352 1050h0M1380 1080h0M1364 1021h0M1358 1069h0M1341 1038h0M1382 1093h0M1376 1076h0M1341 1050h0M1339 1015h0M1376 1022h0M1377 1049h0M1379 1060h0M1350 1075h0M1365 1016h0M1339 1042h0M1350 1029h0M1368 1079h0M1340 1069h0M1358 1065h0M1352 1080h0M1382 1078h0M1338 1024h0M1367 1056h0M1353 1027h0M1369 1043h0M1358 1100h0M1344 1039h0M1380 1105h0M1381 1025h0M1379 1073h0M1369 1039h0M1354 1019h0M1365 1104h0M1343 1080h0M1350 1092h0M1377 1103h0M1372 1108h0M1342 1048h0M1380 1079h0M1376 1043h0M1350 1051h0M1373 1053h0M1377 1043h0M1369 1100h0M1374 1032h0M1339 1037h0M1353 1099h0M1365 1026h0M1354 1078h0M1340 1085h0M1381 1059h0M1382 1055h0M1355 1030h0M1339 1026h0M1351 1035h0M1383 1041h0M1360 1086h0M1346 1089h0M1344 1028h0M1341 1053h0M1362 1051h0M1362 1073h0M1377 1061h0M1342 1048h0M1378 1080h0M1369 1089h0M1354 1077h0M1361 1089h0M1341 1089h0M1379 1071h0M1345 1054h0M1377 1017h0M1363 1024h0M1379 1098h0M1361 1058h0M1373 1077h0M1371 1082h0M1359 1071h0M1372 1047h0M1371 1075h0M1365 1016h0M1357 1038h0M1355 1098h0M1382 1048h0M1356 1077h0M1345 1045h0M1368 1085h0M1365 1051h0M1358 1055h0M1352 1102h0M1369 1059h0M1378 1082h0M1377 1095h0M1345 1053h0M1353 1097h0M1379 1028h0M1373 1038h0M1341 1087h0M1349 1043h0M1343 1102h0M1354 1037h0M1362 1021h0M1376 1092h0M1363 1065h0M1358 1060h0M1366 1052h0M1381 1056h0M1355 1095h0M1364 1074h0M1366 1042h0M1340 1020h0M1338 1091h0M1362 1029h0M1356 1028h0M1357 1037h0M1370 1052h0M1382 1067h0M1361 1022h0M1377 1053h0M1378 1021h0M1349 1088h0M1348 1064h0M1351 1044h0M1342 1026h0M1378 1087h0M1354 1016h0M1382 1018h0M1375 1097h0M1349 1025h0M1369 1025h0M1349 1079h0M1376 1031h0M1380 1102h0M1342 1066h0M1363 1045h0M1364 1033h0M1368 1087h0M1350 1081h0M1361 1021h0M1345 1101h0M1361 1065h0M1374 1019h0M1375 1107h0M1381 1029h0M1368 1029h0M1380 1059h0M1352 1077h0M1368 1027h0M1360 1035h0M1373 1065h0M1372 1028h0M1338 1075h0M1338 1061h0M1380 1046h0M1361 1069h0M1378 1064h0M1366 1095h0M1356 1043h0M1342 1057h0M1362 1052h0M1371 1051h0M1344 1024h0M1382 1089h0M1340 1086h0M1370 1048h0M1377 1023h0M1371 1017h0M1355 1108h0M1360 1069h0M1375 1042h0M1367 1087h0M1339 1030h0M1342 1063h0M1338 1092h0M1380 1022h0M1345 1083h0M1344 1040h0M1368 1039h0M1370 1065h0M1357 1074h0M1355 1079h0M1377 1091h0M1373 1065h0M1339 1045h0M1356 1107h0M1369 1086h0M1370 1068h0M1343 1081h0M1377 1017h0M1373 1056h0M1345 1039h0M1347 1089h0M1353 1088h0M1376 1090h0M1377 1086h0M1365 1081h0M1355 1084h0M1358 1072h0M1360 1100h0M1382 1069h0M1365 1086h0M1375 1068h0M1363 1087h0M1374 1078h0M1383 1027h0M1366 1106h0M1349 1062h0M1382 1069h0M1381 1066h0M1360 1102h0M1343 1030h0M1380 1064h0M1349 1042h0M1340 975h0M1340 947h0M1387 1027h0M1391 1000h0M1380 1014h0M1379 1080h0M1380 1031h0M1384 1020h0M1391 1040h0M1382 1035h0M1389 1081h0M1381 1001h0M1389 1096h0M1380 1072h0M1384 1029h0M1380 1082h0M1381 1076h0M1392 1051h0M1392 1094h0M1385 1080h0M1382 1068h0M1393 1043h0M1381 1043h0M1387 1014h0M1391 1033h0M1390 1098h0M1383 1106h0M1391 1106h0M1384 1065h0M1387 1099h0M1386 1049h0M1388 998h0M1385 1062h0M1381 1059h0M1384 1014h0M1388 1011h0M1392 891h0M1390 982h0M1386 980h0M1390 962h0M1392 845h0M1390 839h0M1390 905h0M1389 860h0M1390 913h0M1384 906h0M1389 960h0M1390 991h0M1386 962h0M1396 838h0M1383 972h0M1390 895h0M1393 937h0M1384 911h0M1387 907h0M1388 946h0M1384 878h0M1388 889h0M1392 925h0M1384 834h0M1389 985h0M1385 840h0M1390 874h0M1394 910h0M1386 869h0M1384 947h0M1393 883h0M1383 991h0M1384 935h0M1389 916h0M1384 872h0M1388 965h0M1383 953h0M1385 902h0M1388 916h0M1386 840h0M1393 880h0M1386 860h0M1391 882h0M1386 1012h0M1391 833h0M1387 946h0M1365 1012h0M1361 1013h0M1374 1015h0M1369 1012h0M1358 1015h0M1368 1014h0M1370 1010h0M1380 1007h0M1364 1012h0M1361 1013h0M1405 890h0M1413 872h0M1409 858h0M1416 885h0M1410 1078h0M1395 937h0M1416 900h0M1408 1086h0M1401 926h0M1397 1017h0M1404 890h0M1395 878h0M1405 896h0M1411 928h0M1409 845h0M1408 974h0M1399 1037h0M1405 967h0M1412 977h0M1408 868h0M1415 1027h0M1395 876h0M1401 995h0M1401 895h0M1412 1043h0M1413 915h0M1402 935h0M1408 887h0M1414 1107h0M1402 1081h0M1414 995h0M1416 1036h0M1401 1102h0M1398 901h0M1399 983h0M1411 973h0M1402 858h0M1397 948h0M1396 889h0M1415 920h0M1415 990h0M1401 934h0M1411 912h0M1400 1005h0M1408 982h0M1412 842h0M1421 1049h0M1417 927h0M1420 867h0M1429 847h0M1430 865h0M1419 852h0M1431 895h0M1426 904h0M1424 1076h0M1424 902h0M1427 1042h0M1427 910h0M1422 899h0M1419 915h0M1427 946h0M1424 1041h0M1423 1063h0M1429 962h0M1420 905h0M1429 981h0M1427 949h0M1428 853h0M1423 1039h0M1428 1039h0M1421 1007h0M1423 973h0M1433 1091h0M1434 1087h0M1433 925h0M1433 1041h0M1431 1026h0M1431 978h0M1432 929h0M1432 961h0M1436 1098h0M1431 1107h0M1437 976h0M1431 989h0M1433 924h0M1434 1003h0M1434 918h0M1431 1072h0M1430 950h0M1428 981h0M1435 999h0M1445 839h0M1446 926h0M1446 978h0M1444 848h0M1438 1028h0M1439 996h0M1438 932h0M1444 1000h0M1448 1030h0M1439 1056h0M1448 958h0M1441 1002h0M1442 954h0M1450 919h0M1454 874h0M1453 885h0M1448 1024h0M1452 955h0M1451 1104h0M1450 1019h0M1453 1069h0M1454 1005h0M1449 1074h0M1449 976h0M1447 848h0M1451 954h0M1454 847h0M1453 955h0M1451 948h0M1449 1002h0M1449 1054h0M1454 910h0M1451 1033h0M1449 905h0M1449 840h0M1449 927h0M1450 1039h0M1452 908h0M1449 856h0M1449 974h0M1448 942h0M1454 958h0M1449 1078h0M1449 959h0M1451 845h0M1450 1059h0M1457 872h0M1456 971h0M1455 947h0M1457 1025h0M1456 917h0M1457 911h0M1456 851h0M1456 936h0M1458 846h0M1457 894h0M1458 930h0M1455 886h0M1455 1009h0M1456 980h0M1457 983h0M1455 931h0M1456 861h0M1454 962h0M1456 993h0M1456 832h0M1459 838h0M1456 996h0M1456 930h0M1457 1025h0M1456 1020h0M1456 949h0M1457 1007h0M1456 840h0M1457 922h0M1457 989h0M1456 932h0M1458 946h0M1458 888h0M1456 1009h0M1456 995h0M1456 878h0M1456 942h0M1456 845h0M1457 990h0M1457 975h0M1456 940h0M1457 980h0M1458 937h0M1454 853h0M1456 874h0M1457 939h0M1457 973h0M1456 856h0M1457 1000h0M1456 1026h0M1456 873h0M1457 879h0M1456 934h0M1455 987h0M1457 859h0M1456 969h0M1455 1028h0M1455 1019h0M1455 890h0M1456 917h0M1456 964h0M1456 841h0M1456 842h0M1458 847h0M1466 901h0M1467 855h0M1466 883h0M1466 946h0M1466 955h0M1468 1026h0M1466 1003h0M1467 947h0M1467 950h0M1467 919h0M1467 965h0M1467 935h0M1466 977h0M1466 973h0M1467 938h0M1466 956h0M1465 934h0M1467 1014h0M1468 906h0M1465 919h0M1468 897h0M1466 988h0M1467 1018h0M1467 913h0M1467 845h0M1468 876h0M1467 1022h0M1468 942h0M1466 887h0M1467 853h0M1467 926h0M1466 981h0M1467 872h0M1466 922h0M1466 1030h0M1466 957h0M1468 857h0M1467 987h0M1465 895h0M1467 1012h0M1466 1026h0M1468 849h0M1467 934h0M1467 1000h0M1466 910h0M1466 883h0M1467 953h0M1465 1014h0M1467 845h0M1467 948h0M1467 1028h0M1477 886h0M1468 974h0M1475 831h0M1469 871h0M1475 971h0M1474 957h0M1493 914h0M1493 996h0M1493 906h0M1475 997h0M1476 1002h0M1492 997h0M1474 1008h0M1492 1002h0M1496 998h0M1500 1015h0M1593 1052h0M1631 1028h0M1550 1077h0M1506 1024h0M1637 1052h0M1609 1090h0M1502 1071h0M1642 1046h0M1471 1043h0M1538 1103h0M1458 1088h0M1544 1034h0M1502 1102h0M1475 1023h0M1591 1039h0M1635 1100h0M1513 1057h0M1482 1071h0M1637 1095h0M1535 1058h0M1530 1025h0M1531 1088h0M1558 1054h0M1541 1031h0M1644 1042h0M1472 1076h0M1470 1101h0M1649 1023h0M1511 1058h0M1591 1102h0M1615 1038h0M1454 1080h0M1490 1086h0M1558 1088h0M1648 1042h0M1519 1087h0M1630 1020h0M1538 1095h0M1474 1049h0M1538 1041h0M1599 1044h0M1534 1092h0M1633 1077h0M1494 1057h0M1577 1091h0M1564 1029h0M1491 1015h0M1605 1021h0M1479 1104h0M1611 1098h0M1453 1090h0M1478 1016h0M1608 1099h0M1634 1063h0M1494 1048h0M1497 1031h0M1588 1047h0M1650 1080h0M1632 1094h0M1459 1034h0M1601 1023h0M1549 1046h0M1636 1044h0M1484 1038h0M1488 1060h0M1583 1017h0M1460 1047h0M1606 1095h0M1549 1094h0M1555 1026h0M1549 1020h0M1539 1052h0M1618 1073h0M1479 1033h0M1514 1081h0M1528 1107h0M1561 1077h0M1565 1048h0M1490 1062h0M1624 1048h0M1554 1082h0M1551 1060h0M1604 1103h0M1627 1036h0M1457 1052h0M1545 1021h0M1630 1015h0M1646 1026h0M1602 1070h0M1482 1089h0M1621 1043h0M1517 1093h0M1500 1028h0M1557 1037h0M1525 1082h0M1466 1056h0M1533 1015h0M1475 1038h0M1635 1026h0M1617 1053h0M1575 1070h0M1535 1015h0M1527 1062h0M1492 1036h0M1456 1066h0M1643 1041h0M1639 1102h0M1557 1106h0M1600 1025h0M1570 1082h0M1633 1038h0M1492 1106h0M1548 1032h0M1475 1064h0M1512 1077h0M1593 1090h0M1613 1083h0M1610 1067h0M1562 1045h0M1630 1024h0M1457 1074h0M1599 1071h0M1480 1056h0M1634 1102h0M1469 1068h0M1518 1107h0M1465 1025h0M1584 1028h0M1456 1071h0M1602 1092h0M1470 1061h0M1495 1069h0M1488 1031h0M1548 1052h0M1620 1101h0M1498 1060h0M1533 1057h0M1570 1047h0M1591 1030h0M1564 1030h0M1598 1037h0M1469 1022h0M1646 1078h0M1544 1064h0M1472 1048h0M1559 1101h0M1481 1103h0M1532 1072h0M1597 1048h0M1648 1081h0M1455 1098h0M1491 1019h0M1584 1063h0M1510 1094h0M1574 1028h0M1641 1078h0M1494 1060h0M1506 1056h0M1627 1058h0M1544 1032h0M1512 1062h0M1472 1030h0M1631 1107h0M1463 1015h0M1586 1022h0M1527 1075h0M1455 1083h0M1556 1043h0M1469 1041h0M1602 1072h0M1509 1082h0M1619 1021h0M1548 1071h0M1625 1044h0M1472 1064h0M1630 1085h0M1629 1090h0M1583 1026h0M1589 1103h0M1520 1054h0M1525 1094h0M1519 1017h0M1647 1070h0M1640 1061h0M1625 1043h0M1548 1067h0M1603 1060h0M1578 1099h0M1607 1068h0M1647 1032h0M1453 1088h0M1602 1045h0M1545 1042h0M1504 1083h0M1552 1025h0M1573 1074h0M1493 1063h0M1535 1076h0M1524 1087h0M1494 1098h0M1468 1097h0M1627 1071h0M1546 1026h0M1495 1071h0M1468 1068h0M1605 1069h0M1589 1021h0M1480 1053h0M1529 1019h0M1505 1052h0M1541 1080h0M1597 1056h0M1486 1035h0M1598 1037h0M1479 1088h0M1560 1045h0M1649 1065h0M1625 1095h0M1540 1069h0M1616 1103h0M1499 1086h0M1584 1085h0M1580 1041h0M1645 1021h0M1595 1090h0M1486 1089h0M1599 1087h0M1578 1033h0M1490 1091h0M1459 1083h0M1475 1031h0M1626 1073h0M1605 1108h0M1481 1046h0M1576 1066h0M1538 1062h0M1496 1092h0M1611 1090h0M1612 1065h0M1598 1078h0M1486 1028h0M1467 1105h0M1536 1108h0M1511 1021h0M1591 1070h0M1501 1018h0M1595 1050h0M1529 1091h0M1597 1046h0M1614 1099h0M1592 1085h0M1620 1093h0M1473 1104h0M1629 1100h0M1591 1091h0M1625 1070h0M1593 1029h0M1632 1044h0M1592 1021h0M1569 1043h0M1640 1017h0M1588 1072h0M1461 1027h0M1617 1073h0M1571 1092h0M1630 1046h0M1508 1031h0M1648 1023h0M1460 1106h0M1573 1043h0M1486 1063h0M1572 1038h0M1585 1020h0M1590 1039h0M1452 1082h0M1582 1070h0M1534 1065h0M1582 1026h0M1549 1039h0M1600 1043h0M1567 1104h0M1550 1015h0M1636 1020h0M1573 1020h0M1565 1019h0M1543 1071h0M1617 1047h0M1485 1072h0M1462 1043h0M1531 1096h0M1536 1054h0M1463 1043h0M1495 1042h0M1468 1082h0M1596 1080h0M1579 1016h0M1555 1108h0M1511 1031h0M1584 1020h0M1634 1053h0M1460 1092h0M1634 1015h0M1490 1077h0M1556 1103h0M1614 1034h0M1497 1060h0M1549 1028h0M1517 1059h0M1555 1094h0M1560 1057h0M1525 1039h0M1534 1090h0M1524 1016h0M1502 1091h0M1506 1017h0M1527 1101h0M1541 1102h0M1522 1032h0M1526 1090h0M1492 1071h0M1471 1060h0M1492 1074h0M1505 1042h0M1560 1068h0M1582 1058h0M1551 1083h0M1542 1048h0M1637 1085h0M1606 1091h0M1604 1075h0M1581 1026h0M1607 1079h0M1543 1082h0M1486 1035h0M1552 1079h0M1521 1014h0M1505 1077h0M1459 1103h0M1549 1067h0M1540 1040h0M1452 1088h0M1464 1027h0M1538 1038h0M1498 1083h0M1595 1070h0M1633 1024h0M1550 1031h0M1490 1022h0M1463 1058h0M1564 1087h0M1465 1035h0M1622 1028h0M1644 1083h0M1518 1078h0M1541 1102h0M1476 1041h0M1524 1082h0M1524 1104h0M1525 1037h0M1482 1072h0M1523 1048h0M1523 1061h0M1641 1031h0M1628 1099h0M1523 1018h0M1621 1072h0M1468 1084h0M1470 1090h0M1644 1045h0M1471 1081h0M1490 1033h0M1487 1048h0M1543 1019h0M1470 1073h0M1537 1053h0M1616 1019h0M1492 1088h0M1597 1101h0M1625 1061h0M1595 1096h0M1530 1103h0M1584 1024h0M1545 1080h0M1553 1065h0M1538 1060h0M1483 1026h0M1479 1106h0M1482 1048h0M1463 1053h0M1602 1107h0M1575 1102h0M1643 1062h0M1640 1069h0M1631 1095h0M1576 1061h0M1466 1022h0M1553 1092h0M1528 1057h0M1565 1051h0M1481 1089h0M1529 1046h0M1490 1019h0M1519 1037h0M1550 1044h0M1627 1086h0M1580 1045h0M1511 1043h0M1472 1036h0M1623 1073h0M1560 1090h0M1598 1036h0M1564 1088h0M1542 1095h0M1511 1019h0M1570 1033h0M1624 1049h0M1563 1085h0M1598 1043h0M1499 1085h0M1646 1091h0M1520 1062h0M1632 1074h0M1625 1074h0M1610 1054h0M1588 1099h0M1560 1070h0M1573 1072h0M1486 1019h0M1637 1051h0M1580 1071h0M1511 1085h0M1538 1068h0M1530 1100h0M1452 1105h0M1523 1031h0M1515 1025h0M1541 1076h0M1597 1026h0M1495 1101h0M1542 1039h0M1578 1062h0M1539 1062h0M1463 1017h0M1565 1100h0M1478 1095h0M1511 1099h0M1579 1067h0M1508 1052h0M1556 1064h0M1634 1041h0M1544 1075h0M1539 1087h0M1457 1107h0M1634 1029h0M1592 1097h0M1592 1017h0M1624 1094h0M1498 1107h0M1453 1070h0M1517 1049h0M1584 1093h0M1519 1018h0M1565 1017h0M1534 1077h0M1560 1087h0M1621 1080h0M1616 1078h0M1594 1104h0M1485 1034h0M1497 1028h0M1616 1042h0M1478 1043h0M1501 1039h0M1611 1020h0M1563 1090h0M1550 1032h0M1466 1039h0M1466 1104h0M1494 1107h0M1479 1088h0M1622 1056h0M1587 1068h0M1604 1035h0M1486 1098h0M1637 1063h0M1512 1037h0M1601 1103h0M1524 1074h0M1552 1038h0M1646 1057h0M1493 1093h0M1513 1102h0M1502 1038h0M1571 1051h0M1504 1096h0M1460 1085h0M1551 1054h0M1586 1101h0M1543 1101h0M1491 1022h0M1507 1069h0M1644 1079h0M1578 1027h0M1523 1022h0M1550 1067h0M1624 1097h0M1544 1108h0M1597 1096h0M1496 1042h0M1599 1093h0M1483 1035h0M1573 1015h0M1647 1033h0M1529 1030h0M1642 1018h0M1640 1082h0M1542 1044h0M1518 1079h0M1500 1038h0M1585 1032h0M1648 1066h0M1604 1054h0M1496 1087h0M1555 1099h0M1566 1077h0M1626 1056h0M1469 1059h0M1623 1090h0M1648 1073h0M1551 1044h0M1634 1060h0M1506 1107h0M1598 1061h0M1551 1094h0M1485 1095h0M1572 1071h0M1500 1045h0M1567 1026h0M1505 1092h0M1511 1036h0M1477 1039h0M1565 1060h0M1638 1022h0M1485 1023h0M1611 1064h0M1610 1015h0M1604 1081h0M1454 1072h0M1466 1030h0M1564 1073h0M1581 1091h0M1490 1044h0M1534 1103h0M1496 1062h0M1452 1096h0M1531 1105h0M1627 1096h0M1547 1044h0M1642 1063h0M1572 1077h0M1557 1048h0M1597 1096h0M1612 1075h0M1466 1046h0M1561 1092h0M1476 1098h0M1530 1085h0M1528 1027h0M1609 1041h0M1606 1064h0M1513 1026h0M1566 1064h0M1513 1085h0M1536 1021h0M1560 1041h0M1615 1080h0M1604 1025h0M1588 1088h0M1484 1043h0M1486 1042h0M1602 1077h0M1584 1050h0M1581 1032h0M1510 1065h0M1606 1018h0M1644 1079h0M1600 1018h0M1529 1085h0M1517 1016h0M1513 1050h0M1551 1077h0M1559 1045h0M1509 1036h0M1565 1020h0M1519 1086h0M1488 1056h0M1606 1089h0M1464 1047h0M1498 1095h0M1516 1040h0M1471 1104h0M1596 1016h0M1604 1032h0M1641 1066h0M1622 1108h0M1473 1057h0M1463 1015h0M1488 1052h0M1495 1043h0M1630 1049h0M1579 1016h0M1574 1062h0M1588 1098h0M1560 1043h0M1602 1084h0M1562 1052h0M1509 1061h0M1599 1054h0M1599 1074h0M1591 1096h0M1523 1065h0M1591 1103h0M1604 1107h0M1525 1099h0M1536 1022h0M1520 1106h0M1624 1078h0M1488 1088h0M1545 1036h0M1609 1108h0M1635 1091h0M1615 1089h0M1628 1026h0M1616 1018h0M1503 1089h0M1557 1032h0M1586 1050h0M1617 1104h0M1548 1107h0M1559 1082h0M1485 1065h0M1595 1052h0M1513 1044h0M1452 1099h0M1503 1051h0M1617 1017h0M1642 1038h0M1606 1087h0M1582 1039h0M1547 1052h0M1605 1028h0M1584 1078h0M1545 1057h0" stroke="#4a1a74" stroke-opacity="0.52" stroke-width="2.9" stroke-linecap="round" fill="none"/><path d="M1351 1027h0M1343 1033h0M1365 1030h0M1355 1043h0M1357 1104h0M1355 1048h0M1344 1070h0M1363 1031h0M1350 1047h0M1361 1106h0M1375 1065h0M1342 1031h0M1378 1037h0M1370 1044h0M1360 1054h0M1349 1098h0M1377 1031h0M1375 1036h0M1350 1017h0M1365 1054h0M1355 1063h0M1341 1058h0M1345 1065h0M1356 1089h0M1377 1094h0M1343 1094h0M1378 1092h0M1369 1072h0M1383 1036h0M1342 1074h0M1364 1064h0M1355 1052h0M1353 1045h0M1344 1046h0M1349 1025h0M1338 1075h0M1379 1039h0M1356 1066h0M1350 1021h0M1364 1084h0M1377 1053h0M1368 1085h0M1369 1054h0M1380 1025h0M1358 1036h0M1349 1095h0M1382 1040h0M1368 1094h0M1341 1101h0M1377 1093h0M1370 1019h0M1340 1055h0M1355 1052h0M1369 1093h0M1353 1035h0M1371 1016h0M1355 1049h0M1352 1077h0M1349 1061h0M1344 1041h0M1356 1105h0M1343 1107h0M1372 1022h0M1378 1070h0M1380 1056h0M1364 1045h0M1379 1025h0M1378 1030h0M1371 1024h0M1373 1097h0M1344 1095h0M1343 1023h0M1347 1031h0M1361 1061h0M1347 1026h0M1340 1071h0M1362 1089h0M1380 1058h0M1367 1091h0M1372 1101h0M1382 1048h0M1364 1050h0M1374 1099h0M1342 1046h0M1382 1079h0M1372 1068h0M1361 1060h0M1353 1059h0M1359 1106h0M1348 1079h0M1339 1060h0M1339 1073h0M1349 1086h0M1371 1077h0M1381 1057h0M1383 1054h0M1381 1059h0M1359 1084h0M1351 1078h0M1367 1069h0M1381 1084h0M1355 1064h0M1342 1040h0M1348 1028h0M1356 1035h0M1368 1026h0M1373 1026h0M1369 1076h0M1353 1055h0M1369 1103h0M1339 1046h0M1375 1084h0M1375 1102h0M1356 1039h0M1350 1056h0M1354 1085h0M1370 1101h0M1355 1081h0M1353 1030h0M1366 1016h0M1381 1024h0M1351 1066h0M1338 1063h0M1375 1029h0M1375 1069h0M1350 1074h0M1344 1033h0M1355 1065h0M1367 1052h0M1340 1057h0M1339 1020h0M1364 1016h0M1369 1048h0M1375 1094h0M1367 1048h0M1368 1076h0M1344 1078h0M1345 1107h0M1375 1029h0M1376 1088h0M1353 1031h0M1366 1062h0M1370 1047h0M1377 1065h0M1360 1046h0M1374 1101h0M1363 1033h0M1356 1043h0M1363 1077h0M1381 1016h0M1381 1080h0M1352 1081h0M1342 1033h0M1363 1089h0M1346 1019h0M1351 1084h0M1350 1064h0M1360 1059h0M1369 1028h0M1343 1065h0M1365 1042h0M1339 1039h0M1372 1035h0M1362 1079h0M1371 1034h0M1350 1023h0M1378 1023h0M1349 1082h0M1345 1055h0M1345 1103h0M1364 1093h0M1348 1065h0M1350 1083h0M1379 1077h0M1338 1039h0M1364 1075h0M1350 1031h0M1344 1082h0M1339 1038h0M1367 1073h0M1364 1064h0M1355 1060h0M1343 1093h0M1380 1088h0M1345 1019h0M1372 1045h0M1370 1063h0M1382 1047h0M1367 1059h0M1350 1038h0M1352 1046h0M1352 1049h0M1383 1041h0M1352 1040h0M1360 1064h0M1350 1035h0M1343 1084h0M1345 1017h0M1345 1070h0M1375 1070h0M1353 1024h0M1374 1081h0M1359 1064h0M1343 1026h0M1364 1018h0M1367 1038h0M1346 1062h0M1340 1031h0M1363 1057h0M1352 1050h0M1380 1022h0M1362 1103h0M1355 1048h0M1353 1069h0M1341 949h0M1341 989h0M1340 960h0M1387 1026h0M1389 1071h0M1392 1038h0M1384 1000h0M1381 1074h0M1389 1096h0M1389 1009h0M1382 1025h0M1384 1061h0M1385 1031h0M1383 1001h0M1391 1074h0M1379 1091h0M1382 1011h0M1383 1027h0M1387 1058h0M1391 1002h0M1386 1017h0M1385 1082h0M1393 1099h0M1391 1037h0M1388 999h0M1387 1033h0M1381 1020h0M1389 1011h0M1384 1023h0M1383 1017h0M1383 1063h0M1381 1090h0M1387 997h0M1380 997h0M1387 1003h0M1392 1057h0M1388 1031h0M1382 1097h0M1381 1050h0M1391 875h0M1392 859h0M1392 903h0M1388 891h0M1393 954h0M1383 933h0M1383 991h0M1388 990h0M1393 860h0M1395 917h0M1383 1003h0M1391 906h0M1390 852h0M1390 927h0M1391 971h0M1389 993h0M1386 902h0M1388 1004h0M1392 983h0M1383 956h0M1390 891h0M1383 998h0M1396 879h0M1387 913h0M1386 863h0M1386 852h0M1395 874h0M1390 923h0M1390 904h0M1393 888h0M1392 909h0M1395 855h0M1393 890h0M1393 999h0M1394 881h0M1395 880h0M1395 858h0M1395 905h0M1390 969h0M1392 891h0M1394 921h0M1394 968h0M1389 860h0M1389 1000h0M1382 998h0M1392 964h0M1390 953h0M1385 882h0M1393 930h0M1385 938h0M1387 963h0M1394 929h0M1394 881h0M1389 983h0M1390 997h0M1369 1012h0M1359 1013h0M1369 1009h0M1359 1014h0M1380 1007h0M1358 1014h0M1372 1013h0M1361 1014h0M1359 1015h0M1380 996h0M1381 996h0M1363 1014h0M1397 918h0M1415 974h0M1411 863h0M1399 1076h0M1416 860h0M1409 879h0M1401 1006h0M1410 998h0M1403 1071h0M1415 987h0M1415 863h0M1396 1071h0M1399 1006h0M1408 1106h0M1406 975h0M1404 1095h0M1409 858h0M1399 846h0M1400 886h0M1416 1107h0M1416 1042h0M1408 1021h0M1400 1017h0M1401 932h0M1400 1037h0M1409 967h0M1398 1059h0M1394 1103h0M1401 1087h0M1414 927h0M1394 942h0M1398 915h0M1411 858h0M1394 1069h0M1393 950h0M1404 874h0M1395 833h0M1395 1069h0M1395 1106h0M1407 904h0M1409 1010h0M1415 951h0M1432 952h0M1419 935h0M1418 1092h0M1430 991h0M1429 1027h0M1419 933h0M1429 926h0M1419 993h0M1431 989h0M1425 883h0M1428 929h0M1417 1080h0M1425 1082h0M1430 1048h0M1419 907h0M1420 895h0M1417 1107h0M1427 1002h0M1417 946h0M1423 865h0M1422 1072h0M1427 1051h0M1427 882h0M1425 1045h0M1433 906h0M1431 930h0M1428 1027h0M1430 970h0M1434 1020h0M1428 994h0M1432 910h0M1428 1075h0M1434 1094h0M1434 1056h0M1437 1059h0M1433 936h0M1435 906h0M1430 1095h0M1434 1056h0M1436 1064h0M1436 1101h0M1430 986h0M1429 949h0M1429 1009h0M1441 1051h0M1445 991h0M1438 1027h0M1438 975h0M1448 1028h0M1437 841h0M1442 876h0M1438 916h0M1443 886h0M1445 998h0M1440 1025h0M1445 947h0M1446 1027h0M1445 935h0M1448 886h0M1443 948h0M1442 886h0M1446 838h0M1445 1039h0M1449 909h0M1452 1027h0M1452 980h0M1452 1073h0M1453 1105h0M1454 1094h0M1447 1019h0M1447 924h0M1453 1101h0M1453 959h0M1451 981h0M1452 1041h0M1454 1015h0M1452 964h0M1453 1094h0M1452 952h0M1450 833h0M1456 874h0M1457 980h0M1456 872h0M1457 933h0M1457 1001h0M1457 947h0M1456 867h0M1456 888h0M1455 1017h0M1457 876h0M1456 860h0M1456 961h0M1456 943h0M1455 1024h0M1456 1029h0M1457 947h0M1457 944h0M1457 996h0M1456 863h0M1457 885h0M1458 979h0M1456 950h0M1458 968h0M1457 848h0M1457 952h0M1456 1018h0M1457 931h0M1457 895h0M1456 963h0M1457 947h0M1457 886h0M1457 1024h0M1454 863h0M1455 937h0M1458 1008h0M1455 884h0M1456 982h0M1456 842h0M1456 973h0M1457 913h0M1457 964h0M1456 1022h0M1458 1018h0M1456 920h0M1456 971h0M1457 908h0M1455 983h0M1456 908h0M1456 972h0M1457 842h0M1456 837h0M1457 894h0M1456 911h0M1457 931h0M1467 1022h0M1467 847h0M1466 964h0M1467 897h0M1468 947h0M1467 925h0M1468 958h0M1468 972h0M1467 933h0M1467 973h0M1466 860h0M1467 866h0M1467 883h0M1466 892h0M1466 1014h0M1466 924h0M1467 834h0M1467 954h0M1468 1009h0M1467 881h0M1468 849h0M1466 970h0M1467 962h0M1467 893h0M1467 880h0M1467 944h0M1467 966h0M1467 924h0M1467 1028h0M1467 858h0M1468 983h0M1467 968h0M1467 927h0M1467 967h0M1467 838h0M1476 1011h0M1472 851h0M1474 937h0M1473 946h0M1469 941h0M1475 920h0M1475 973h0M1478 1004h0M1472 1007h0M1470 877h0M1472 885h0M1494 938h0M1486 994h0M1494 1005h0M1489 1002h0M1488 1006h0M1482 1001h0M1535 1096h0M1592 1087h0M1639 1107h0M1617 1088h0M1546 1051h0M1511 1027h0M1565 1065h0M1513 1061h0M1495 1093h0M1529 1089h0M1491 1103h0M1473 1030h0M1600 1060h0M1533 1053h0M1455 1055h0M1526 1029h0M1623 1076h0M1579 1108h0M1479 1065h0M1550 1091h0M1475 1069h0M1526 1016h0M1486 1056h0M1649 1078h0M1632 1094h0M1530 1059h0M1497 1020h0M1645 1049h0M1517 1074h0M1491 1037h0M1534 1059h0M1603 1093h0M1504 1090h0M1540 1048h0M1561 1106h0M1459 1060h0M1570 1058h0M1577 1094h0M1579 1038h0M1514 1084h0M1515 1075h0M1642 1035h0M1503 1048h0M1592 1055h0M1492 1098h0M1516 1049h0M1484 1101h0M1605 1034h0M1639 1034h0M1475 1020h0M1530 1061h0M1456 1061h0M1564 1090h0M1570 1094h0M1577 1074h0M1532 1089h0M1544 1045h0M1573 1066h0M1561 1046h0M1456 1095h0M1464 1083h0M1537 1026h0M1622 1056h0M1513 1081h0M1515 1032h0M1614 1098h0M1521 1065h0M1517 1071h0M1457 1078h0M1465 1047h0M1452 1089h0M1556 1105h0M1536 1047h0M1556 1073h0M1610 1057h0M1492 1098h0M1642 1099h0M1465 1045h0M1587 1054h0M1504 1064h0M1570 1074h0M1546 1073h0M1506 1035h0M1550 1073h0M1609 1103h0M1616 1071h0M1611 1073h0M1475 1029h0M1642 1020h0M1459 1040h0M1474 1053h0M1483 1027h0M1646 1015h0M1617 1094h0M1510 1072h0M1550 1105h0M1536 1092h0M1456 1040h0M1591 1058h0M1618 1067h0M1593 1074h0M1613 1103h0M1549 1106h0M1570 1103h0M1539 1045h0M1533 1031h0M1632 1101h0M1498 1055h0M1495 1086h0M1606 1062h0M1620 1062h0M1547 1041h0M1472 1045h0M1645 1087h0M1621 1064h0M1544 1052h0M1580 1061h0M1581 1059h0M1578 1038h0M1462 1071h0M1532 1078h0M1502 1049h0M1478 1047h0M1598 1063h0M1508 1102h0M1544 1107h0M1466 1054h0M1471 1086h0M1605 1097h0M1522 1097h0M1498 1070h0M1639 1033h0M1580 1074h0M1480 1041h0M1498 1068h0M1604 1053h0M1576 1105h0M1467 1042h0M1519 1082h0M1502 1064h0M1518 1085h0M1459 1042h0M1516 1083h0M1630 1055h0M1476 1075h0M1468 1035h0M1506 1015h0M1636 1045h0M1504 1100h0M1481 1063h0M1641 1027h0M1577 1105h0M1602 1072h0M1547 1073h0M1525 1082h0M1480 1028h0M1602 1080h0M1542 1024h0M1508 1103h0M1505 1053h0M1540 1030h0M1623 1077h0M1535 1060h0M1598 1034h0M1648 1055h0M1504 1099h0M1506 1103h0M1500 1049h0M1597 1063h0M1600 1065h0M1468 1103h0M1554 1097h0M1592 1059h0M1599 1085h0M1601 1034h0M1617 1053h0M1634 1034h0M1560 1067h0M1569 1070h0M1475 1048h0M1474 1073h0M1596 1017h0M1613 1032h0M1609 1039h0M1528 1060h0M1594 1031h0M1495 1017h0M1563 1042h0M1608 1027h0M1516 1065h0M1611 1053h0M1590 1078h0M1624 1052h0M1529 1052h0M1627 1040h0M1597 1052h0M1549 1091h0M1585 1087h0M1647 1020h0M1633 1075h0M1560 1048h0M1623 1039h0M1470 1063h0M1543 1059h0M1628 1016h0M1644 1018h0M1523 1079h0M1584 1069h0M1577 1035h0M1609 1042h0M1549 1049h0M1623 1075h0M1648 1096h0M1632 1032h0M1569 1093h0M1554 1065h0M1598 1106h0M1484 1027h0M1532 1044h0M1581 1064h0M1624 1039h0M1624 1060h0M1627 1104h0M1496 1032h0M1625 1050h0M1563 1024h0M1566 1022h0M1646 1046h0M1628 1031h0M1625 1019h0M1601 1019h0M1551 1020h0M1507 1108h0M1506 1045h0M1610 1102h0M1534 1035h0M1567 1093h0M1485 1073h0M1541 1015h0M1562 1080h0M1544 1101h0M1529 1087h0M1561 1039h0M1463 1102h0M1567 1105h0M1588 1024h0M1481 1028h0M1550 1082h0M1571 1038h0M1612 1084h0M1516 1016h0M1515 1059h0M1486 1060h0M1466 1016h0M1503 1048h0M1595 1038h0M1535 1076h0M1595 1104h0M1623 1049h0M1474 1041h0M1621 1055h0M1568 1020h0M1542 1106h0M1489 1016h0M1645 1041h0M1609 1031h0M1646 1041h0M1500 1082h0M1592 1028h0M1493 1050h0M1563 1062h0M1488 1074h0M1500 1084h0M1533 1081h0M1462 1057h0M1483 1061h0M1577 1077h0M1488 1039h0M1535 1084h0M1596 1015h0M1523 1055h0M1577 1065h0M1511 1016h0M1559 1039h0M1558 1099h0M1542 1020h0M1469 1058h0M1641 1022h0M1575 1081h0M1555 1088h0M1572 1055h0M1635 1096h0M1541 1018h0M1543 1091h0M1518 1064h0M1507 1077h0M1563 1063h0M1609 1095h0M1474 1023h0M1574 1048h0M1524 1091h0M1522 1061h0M1619 1037h0M1523 1033h0M1497 1101h0M1526 1057h0M1623 1093h0M1480 1069h0M1553 1078h0M1520 1076h0M1533 1042h0M1606 1018h0M1637 1028h0M1477 1037h0M1459 1077h0M1463 1031h0M1611 1100h0M1556 1027h0M1552 1095h0M1589 1090h0M1479 1032h0M1599 1037h0M1643 1076h0M1566 1078h0M1476 1024h0M1521 1099h0M1550 1088h0M1471 1098h0M1516 1069h0M1500 1101h0M1635 1085h0M1647 1092h0M1546 1037h0M1640 1081h0M1511 1056h0M1484 1061h0M1602 1026h0M1478 1085h0M1454 1078h0M1572 1036h0M1466 1040h0M1535 1064h0M1563 1054h0M1576 1032h0M1557 1102h0M1505 1090h0M1609 1021h0M1474 1030h0M1516 1085h0M1485 1090h0M1593 1106h0M1555 1067h0M1629 1024h0M1464 1047h0M1602 1048h0M1630 1030h0M1575 1071h0M1595 1015h0M1612 1066h0M1586 1083h0M1468 1088h0M1603 1092h0M1612 1076h0M1460 1017h0M1598 1101h0M1530 1067h0M1616 1037h0M1636 1088h0M1604 1100h0M1516 1098h0M1538 1026h0M1596 1060h0M1602 1043h0M1566 1101h0M1635 1102h0M1589 1096h0M1456 1070h0M1511 1078h0M1509 1098h0M1542 1096h0M1477 1051h0M1612 1097h0M1596 1027h0M1584 1047h0M1458 1046h0M1577 1041h0M1585 1042h0M1483 1068h0M1632 1030h0M1600 1057h0M1576 1028h0M1506 1055h0M1630 1038h0M1622 1042h0M1579 1106h0M1459 1015h0M1522 1084h0M1635 1082h0M1608 1062h0M1517 1091h0M1583 1058h0M1611 1082h0M1480 1104h0M1538 1033h0M1496 1063h0M1630 1030h0M1470 1062h0M1641 1103h0M1607 1019h0M1525 1105h0M1558 1107h0M1505 1083h0M1578 1094h0M1597 1018h0M1507 1064h0M1564 1088h0M1584 1063h0M1575 1065h0M1565 1058h0M1615 1050h0M1540 1017h0M1486 1103h0M1531 1082h0M1460 1019h0M1556 1017h0M1482 1055h0M1482 1091h0M1601 1107h0M1595 1094h0M1594 1061h0M1527 1063h0M1600 1059h0M1578 1078h0M1591 1068h0M1645 1088h0M1627 1093h0M1463 1089h0M1600 1080h0M1649 1016h0M1561 1031h0M1605 1090h0M1495 1053h0M1616 1026h0M1601 1020h0M1561 1017h0M1556 1067h0M1590 1058h0M1510 1055h0M1576 1053h0M1469 1074h0M1483 1055h0M1602 1063h0M1472 1040h0M1523 1108h0M1479 1026h0M1638 1044h0M1621 1044h0M1604 1054h0M1568 1084h0M1593 1061h0M1520 1088h0M1539 1101h0M1536 1095h0M1458 1084h0M1466 1049h0M1524 1033h0M1622 1058h0M1631 1044h0M1460 1063h0M1601 1081h0M1572 1019h0M1627 1017h0M1511 1034h0M1484 1088h0M1544 1057h0M1485 1071h0M1504 1089h0M1641 1068h0M1511 1053h0M1566 1054h0M1618 1061h0M1524 1057h0M1498 1047h0M1537 1063h0M1612 1105h0M1465 1053h0M1536 1031h0M1647 1094h0M1628 1094h0M1548 1069h0M1467 1063h0M1630 1036h0M1499 1023h0M1540 1023h0M1483 1044h0M1473 1017h0M1491 1091h0M1625 1081h0M1628 1028h0M1495 1059h0M1624 1015h0M1458 1059h0M1546 1107h0M1569 1051h0M1596 1020h0M1576 1102h0M1615 1049h0M1475 1065h0M1624 1042h0M1533 1047h0M1466 1074h0M1556 1020h0M1520 1104h0M1609 1075h0M1624 1020h0M1520 1087h0M1537 1023h0M1465 1030h0M1453 1075h0M1509 1082h0M1478 1083h0M1543 1108h0M1522 1074h0M1617 1047h0M1555 1072h0M1644 1103h0M1632 1060h0M1540 1050h0M1463 1108h0M1495 1070h0M1517 1079h0M1495 1088h0M1516 1052h0M1633 1038h0M1489 1103h0M1550 1055h0M1571 1030h0M1518 1083h0M1508 1101h0M1514 1076h0M1534 1018h0M1635 1063h0M1568 1082h0M1560 1019h0M1590 1077h0M1622 1100h0M1493 1043h0M1608 1015h0M1563 1069h0M1647 1090h0M1568 1100h0M1516 1059h0M1458 1049h0M1504 1104h0M1461 1093h0M1537 1024h0M1637 1099h0M1586 1072h0M1507 1031h0M1589 1069h0M1569 1042h0M1631 1018h0M1483 1082h0M1548 1077h0M1571 1048h0M1485 1088h0M1551 1069h0M1538 1046h0M1538 1026h0M1515 1048h0M1470 1030h0M1540 1049h0M1641 1045h0M1561 1057h0M1526 1059h0M1450 1106h0M1628 1062h0M1635 1077h0M1476 1044h0M1524 1052h0M1624 1076h0M1484 1105h0M1528 1063h0M1592 1062h0M1461 1094h0M1629 1077h0M1540 1053h0M1555 1056h0M1617 1032h0M1617 1068h0M1600 1049h0M1536 1042h0M1506 1087h0M1601 1048h0M1536 1018h0M1569 1094h0M1648 1020h0M1457 1040h0M1469 1068h0M1603 1023h0M1574 1027h0M1628 1020h0M1614 1028h0M1460 1080h0M1619 1039h0M1606 1034h0M1568 1096h0M1468 1042h0M1636 1091h0M1484 1086h0M1552 1053h0M1568 1099h0M1466 1061h0M1583 1037h0M1612 1027h0M1515 1090h0M1480 1097h0M1635 1102h0M1611 1084h0M1561 1046h0M1647 1026h0M1507 1016h0M1607 1099h0M1555 1097h0M1465 1027h0M1576 1035h0M1473 1094h0M1627 1100h0M1532 1044h0M1498 1036h0M1601 1056h0M1533 1087h0M1539 1036h0M1584 1019h0M1512 1079h0M1512 1040h0M1571 1026h0M1466 1092h0M1498 1034h0M1630 1061h0M1649 1050h0M1641 1060h0M1570 1050h0M1471 1046h0M1606 1081h0M1500 1053h0M1466 1106h0M1609 1017h0M1528 1102h0M1650 1042h0M1597 1054h0M1596 1096h0M1469 1091h0M1601 1093h0M1510 1022h0M1523 1042h0M1575 1105h0M1510 1082h0M1534 1063h0M1477 1108h0M1589 1068h0M1529 1072h0M1555 1101h0M1521 1022h0M1452 1093h0M1631 1055h0M1603 1068h0M1528 1108h0M1517 1075h0M1495 1023h0M1577 1042h0M1495 1063h0M1516 1032h0M1583 1018h0M1629 1057h0M1609 1079h0M1480 1059h0M1540 1039h0M1470 1026h0M1614 1076h0M1509 1091h0M1499 1081h0M1465 1082h0M1554 1089h0M1562 1106h0M1606 1102h0M1643 1038h0M1502 1089h0M1528 1077h0M1470 1063h0M1466 1062h0M1554 1080h0M1567 1050h0M1526 1090h0M1597 1108h0M1528 1102h0M1564 1090h0M1464 1052h0M1500 1015h0M1515 1029h0M1498 1035h0M1496 1085h0M1509 1066h0M1621 1068h0M1596 1024h0M1570 1032h0M1622 1076h0" stroke="#4a1a74" stroke-opacity="0.52" stroke-width="2.9" stroke-linecap="round" fill="none"/><path d="M1358 1064h0M1382 1025h0M1352 1055h0M1342 1031h0M1361 1053h0M1345 1073h0M1380 1023h0M1343 1041h0M1339 1071h0M1342 1100h0M1355 1080h0M1346 1092h0M1349 1108h0M1344 1019h0M1363 1069h0M1351 1058h0M1349 1091h0M1369 1106h0M1344 1051h0M1346 1038h0M1345 1017h0M1359 1076h0M1347 1067h0M1357 1029h0M1358 1075h0M1345 1056h0M1363 1096h0M1363 1028h0M1373 1090h0M1373 1037h0M1350 1079h0M1377 1067h0M1365 1045h0M1372 1107h0M1383 1026h0M1352 1032h0M1372 1017h0M1371 1050h0M1340 1057h0M1339 1028h0M1345 1099h0M1366 1087h0M1354 1046h0M1376 1038h0M1346 1074h0M1374 1069h0M1348 1057h0M1366 1093h0M1372 1091h0M1372 1095h0M1375 1096h0M1371 1091h0M1367 1062h0M1343 1025h0M1356 1074h0M1338 1073h0M1353 1090h0M1374 1017h0M1339 1052h0M1359 1025h0M1340 1022h0M1340 1043h0M1344 1095h0M1376 1082h0M1375 1027h0M1381 1042h0M1374 1039h0M1373 1075h0M1375 1040h0M1345 1105h0M1359 1066h0M1366 1105h0M1348 1059h0M1378 1102h0M1345 1018h0M1350 1098h0M1338 1057h0M1351 1088h0M1351 1063h0M1374 1090h0M1378 1025h0M1375 1091h0M1347 1066h0M1360 1052h0M1367 1072h0M1375 1019h0M1348 1016h0M1349 1069h0M1350 1040h0M1364 1018h0M1382 1051h0M1340 1064h0M1359 1017h0M1367 1029h0M1373 1063h0M1377 1103h0M1378 1030h0M1351 1059h0M1362 1078h0M1371 1065h0M1380 1089h0M1371 1067h0M1360 1068h0M1382 1067h0M1372 1061h0M1358 1028h0M1371 1098h0M1352 1069h0M1353 1080h0M1356 1020h0M1373 1103h0M1380 1084h0M1372 1079h0M1358 1091h0M1365 1043h0M1373 1027h0M1372 1102h0M1347 1072h0M1338 1018h0M1377 1076h0M1356 1017h0M1378 1094h0M1375 1077h0M1363 1017h0M1375 1055h0M1362 1056h0M1361 1026h0M1381 1098h0M1367 1057h0M1344 1058h0M1372 1096h0M1363 1079h0M1362 1070h0M1367 1034h0M1374 1020h0M1383 1102h0M1353 1064h0M1366 1078h0M1370 1046h0M1362 1092h0M1339 1101h0M1339 1100h0M1356 1106h0M1357 1016h0M1366 1072h0M1347 1037h0M1350 1103h0M1377 1105h0M1377 1048h0M1354 1049h0M1359 1056h0M1361 1074h0M1350 1065h0M1343 1093h0M1369 1070h0M1369 1101h0M1351 1089h0M1350 1081h0M1360 1020h0M1382 1080h0M1363 1025h0M1373 1020h0M1348 1073h0M1357 1081h0M1342 1083h0M1347 1105h0M1356 1065h0M1348 1093h0M1376 1085h0M1360 1077h0M1381 1030h0M1379 1069h0M1368 1089h0M1350 1104h0M1346 1091h0M1361 1022h0M1343 1061h0M1338 1044h0M1346 1027h0M1363 1095h0M1381 1075h0M1374 1077h0M1345 1081h0M1350 1020h0M1366 1103h0M1369 1016h0M1358 1052h0M1352 1051h0M1380 1105h0M1366 1050h0M1375 1083h0M1348 1094h0M1347 1078h0M1349 1102h0M1340 1026h0M1339 1039h0M1345 1058h0M1363 1029h0M1358 1033h0M1371 1017h0M1366 1102h0M1347 1085h0M1348 1017h0M1379 1036h0M1348 1034h0M1382 1017h0M1357 1105h0M1357 1101h0M1341 1066h0M1339 962h0M1341 984h0M1341 991h0M1389 1029h0M1387 1056h0M1387 1002h0M1382 1103h0M1387 1063h0M1381 1088h0M1381 1005h0M1381 1017h0M1385 1099h0M1389 1096h0M1383 1063h0M1389 1017h0M1388 1099h0M1386 1070h0M1380 1048h0M1390 1108h0M1380 1049h0M1382 1039h0M1389 1070h0M1382 1041h0M1384 1081h0M1386 1013h0M1392 1093h0M1392 1049h0M1379 1035h0M1393 1049h0M1379 1009h0M1391 1082h0M1382 1089h0M1391 1099h0M1387 1051h0M1385 1059h0M1385 1036h0M1381 1002h0M1384 1060h0M1392 1103h0M1382 1101h0M1381 1061h0M1382 1075h0M1386 1013h0M1386 872h0M1392 941h0M1389 864h0M1394 951h0M1386 980h0M1389 997h0M1393 916h0M1389 905h0M1390 883h0M1387 1008h0M1388 839h0M1386 841h0M1383 1006h0M1387 948h0M1393 965h0M1384 945h0M1389 962h0M1391 952h0M1388 957h0M1391 983h0M1389 993h0M1388 991h0M1392 975h0M1389 968h0M1385 967h0M1385 908h0M1388 911h0M1383 916h0M1392 911h0M1393 976h0M1386 963h0M1389 951h0M1386 939h0M1389 958h0M1385 1000h0M1383 951h0M1392 986h0M1388 906h0M1394 841h0M1388 947h0M1390 874h0M1384 970h0M1385 831h0M1395 834h0M1387 951h0M1390 853h0M1385 915h0M1389 858h0M1391 870h0M1392 929h0M1385 884h0M1395 867h0M1387 840h0M1388 892h0M1393 906h0M1391 965h0M1396 875h0M1388 897h0M1389 977h0M1384 968h0M1386 910h0M1395 873h0M1394 832h0M1395 927h0M1384 992h0M1385 969h0M1388 842h0M1393 836h0M1394 938h0M1394 952h0M1394 885h0M1387 944h0M1390 882h0M1395 898h0M1384 975h0M1383 973h0M1390 954h0M1394 860h0M1395 859h0M1388 991h0M1391 898h0M1394 951h0M1388 939h0M1388 871h0M1376 1012h0M1361 1014h0M1377 1000h0M1380 1010h0M1361 1015h0M1372 1007h0M1380 1010h0M1379 1010h0M1356 1015h0M1364 1013h0M1373 1011h0M1402 956h0M1399 1105h0M1407 943h0M1414 1037h0M1399 841h0M1396 1072h0M1398 902h0M1399 978h0M1413 938h0M1408 920h0M1413 935h0M1413 985h0M1405 911h0M1409 935h0M1404 1105h0M1400 842h0M1414 1095h0M1400 955h0M1397 880h0M1394 857h0M1394 1000h0M1402 1087h0M1397 918h0M1407 875h0M1399 915h0M1411 916h0M1400 992h0M1399 1045h0M1396 891h0M1399 965h0M1401 869h0M1414 1078h0M1414 834h0M1408 966h0M1404 851h0M1399 942h0M1404 885h0M1400 966h0M1398 833h0M1405 1071h0M1415 1032h0M1400 952h0M1413 1086h0M1400 1057h0M1399 984h0M1431 887h0M1417 1097h0M1418 1018h0M1426 831h0M1425 872h0M1429 956h0M1423 885h0M1425 926h0M1430 939h0M1427 893h0M1426 1040h0M1426 1081h0M1417 1008h0M1430 932h0M1417 1051h0M1428 1004h0M1420 1009h0M1425 900h0M1420 843h0M1425 946h0M1428 1067h0M1429 924h0M1424 1060h0M1427 1048h0M1424 997h0M1417 1036h0M1419 942h0M1421 1019h0M1432 833h0M1432 932h0M1433 1076h0M1437 907h0M1430 952h0M1430 918h0M1435 1066h0M1430 1023h0M1428 1047h0M1429 958h0M1434 980h0M1434 951h0M1433 927h0M1429 929h0M1432 1015h0M1432 1024h0M1436 928h0M1430 912h0M1429 1061h0M1430 1022h0M1428 1053h0M1435 1065h0M1436 983h0M1436 1066h0M1432 1001h0M1434 1006h0M1436 1026h0M1429 949h0M1431 990h0M1428 1051h0M1436 1041h0M1442 856h0M1441 951h0M1446 841h0M1440 834h0M1440 1026h0M1444 885h0M1450 977h0M1448 998h0M1452 885h0M1450 871h0M1449 984h0M1453 1106h0M1449 1027h0M1448 1085h0M1449 1021h0M1448 899h0M1449 961h0M1448 849h0M1448 1105h0M1452 1011h0M1449 909h0M1452 1026h0M1450 1074h0M1454 1002h0M1449 1050h0M1455 852h0M1456 964h0M1457 904h0M1456 877h0M1456 976h0M1456 935h0M1455 908h0M1456 860h0M1457 867h0M1457 1003h0M1456 1010h0M1458 856h0M1456 1029h0M1458 1006h0M1455 841h0M1457 1018h0M1457 885h0M1457 920h0M1456 927h0M1456 982h0M1456 985h0M1457 1020h0M1457 945h0M1457 970h0M1457 834h0M1456 861h0M1457 965h0M1456 890h0M1456 950h0M1456 833h0M1456 1022h0M1458 846h0M1456 984h0M1455 875h0M1457 959h0M1456 1011h0M1456 899h0M1456 955h0M1457 1013h0M1456 947h0M1456 948h0M1458 917h0M1457 1014h0M1456 864h0M1457 886h0M1458 996h0M1457 1018h0M1456 897h0M1456 961h0M1457 996h0M1455 847h0M1457 946h0M1457 996h0M1458 912h0M1456 839h0M1455 929h0M1457 1000h0M1456 892h0M1455 881h0M1456 859h0M1455 954h0M1465 973h0M1466 900h0M1467 972h0M1466 838h0M1467 897h0M1468 1010h0M1467 908h0M1467 914h0M1466 966h0M1466 854h0M1467 835h0M1467 1006h0M1467 1030h0M1468 866h0M1467 862h0M1467 1015h0M1468 832h0M1467 983h0M1466 943h0M1467 1005h0M1467 923h0M1467 839h0M1467 974h0M1468 975h0M1466 841h0M1467 1011h0M1466 945h0M1466 858h0M1466 852h0M1466 973h0M1467 854h0M1466 941h0M1467 984h0M1466 856h0M1465 888h0M1465 907h0M1468 882h0M1466 895h0M1466 978h0M1468 971h0M1467 1008h0M1467 916h0M1467 948h0M1467 927h0M1468 1013h0M1467 1029h0M1467 917h0M1466 954h0M1466 943h0M1467 905h0M1471 928h0M1478 1006h0M1469 972h0M1469 1000h0M1477 958h0M1474 847h0M1475 892h0M1478 1008h0M1469 868h0M1493 916h0M1494 905h0M1477 1006h0M1507 1103h0M1563 1104h0M1463 1044h0M1559 1064h0M1476 1029h0M1622 1060h0M1503 1027h0M1626 1048h0M1499 1101h0M1516 1084h0M1521 1064h0M1513 1066h0M1565 1082h0M1560 1016h0M1630 1028h0M1465 1067h0M1525 1016h0M1470 1074h0M1590 1062h0M1463 1055h0M1592 1072h0M1592 1077h0M1605 1096h0M1595 1068h0M1611 1105h0M1601 1081h0M1647 1037h0M1496 1021h0M1459 1048h0M1619 1096h0M1457 1069h0M1520 1073h0M1625 1047h0M1525 1059h0M1509 1065h0M1479 1036h0M1500 1032h0M1618 1077h0M1639 1043h0M1521 1020h0M1586 1056h0M1468 1059h0M1545 1096h0M1513 1069h0M1525 1072h0M1497 1024h0M1605 1043h0M1458 1063h0M1627 1084h0M1557 1023h0M1458 1035h0M1460 1086h0M1592 1083h0M1616 1024h0M1628 1078h0M1519 1017h0M1606 1107h0M1577 1100h0M1636 1030h0M1487 1088h0M1564 1079h0M1624 1052h0M1545 1075h0M1504 1015h0M1620 1076h0M1582 1059h0M1571 1079h0M1602 1079h0M1461 1016h0M1475 1040h0M1555 1092h0M1542 1067h0M1620 1063h0M1527 1068h0M1639 1024h0M1590 1102h0M1588 1070h0M1526 1044h0M1563 1022h0M1530 1065h0M1524 1083h0M1643 1077h0M1591 1105h0M1514 1041h0M1632 1019h0M1475 1042h0M1621 1054h0M1481 1077h0M1594 1070h0M1586 1049h0M1615 1071h0M1641 1032h0M1510 1085h0M1618 1017h0M1484 1056h0M1466 1021h0M1574 1018h0M1552 1078h0M1477 1049h0M1473 1040h0M1568 1093h0M1602 1099h0M1585 1057h0M1555 1064h0M1500 1068h0M1582 1016h0M1511 1073h0M1645 1064h0M1502 1070h0M1478 1031h0M1591 1066h0M1594 1089h0M1460 1081h0M1513 1078h0M1529 1029h0M1539 1105h0M1553 1021h0M1598 1030h0M1503 1035h0M1577 1016h0M1486 1062h0M1468 1017h0M1492 1074h0M1573 1047h0M1466 1081h0M1604 1070h0M1498 1072h0M1534 1050h0M1490 1039h0M1589 1038h0M1493 1046h0M1635 1045h0M1594 1055h0M1640 1102h0M1645 1049h0M1562 1057h0M1561 1022h0M1632 1083h0M1640 1017h0M1638 1091h0M1611 1096h0M1528 1028h0M1626 1052h0M1594 1100h0M1551 1019h0M1578 1081h0M1470 1062h0M1462 1038h0M1576 1034h0M1516 1087h0M1561 1101h0M1522 1058h0M1586 1044h0M1505 1089h0M1535 1086h0M1517 1101h0M1591 1080h0M1630 1049h0M1477 1044h0M1603 1098h0M1452 1092h0M1538 1078h0M1629 1049h0M1565 1089h0M1581 1079h0M1488 1057h0M1602 1031h0M1490 1048h0M1486 1077h0M1527 1061h0M1461 1030h0M1547 1043h0M1503 1027h0M1526 1040h0M1525 1056h0M1523 1027h0M1512 1047h0M1613 1023h0M1607 1032h0M1580 1100h0M1566 1091h0M1595 1106h0M1482 1082h0M1497 1081h0M1456 1040h0M1466 1093h0M1591 1098h0M1532 1063h0M1556 1036h0M1526 1045h0M1632 1065h0M1592 1084h0M1521 1093h0M1611 1043h0M1570 1099h0M1485 1101h0M1500 1088h0M1650 1022h0M1460 1016h0M1561 1027h0M1650 1078h0M1548 1079h0M1454 1089h0M1571 1044h0M1646 1102h0M1600 1019h0M1454 1093h0M1562 1062h0M1530 1019h0M1549 1045h0M1596 1088h0M1478 1089h0M1613 1097h0M1503 1081h0M1493 1025h0M1454 1074h0M1585 1108h0M1490 1024h0M1621 1040h0M1462 1048h0M1550 1060h0M1503 1028h0M1529 1037h0M1616 1093h0M1540 1106h0M1458 1066h0M1552 1065h0M1626 1093h0M1640 1064h0M1621 1020h0M1618 1090h0M1479 1098h0M1613 1078h0M1604 1062h0M1582 1025h0M1645 1041h0M1642 1093h0M1539 1032h0M1539 1100h0M1644 1025h0M1505 1101h0M1637 1038h0M1521 1064h0M1587 1045h0M1620 1040h0M1647 1033h0M1464 1026h0M1472 1073h0M1606 1029h0M1568 1054h0M1649 1079h0M1602 1022h0M1483 1073h0M1577 1060h0M1459 1079h0M1594 1093h0M1575 1076h0M1487 1097h0M1579 1080h0M1645 1093h0M1558 1043h0M1540 1094h0M1531 1022h0M1623 1061h0M1498 1088h0M1469 1067h0M1623 1067h0M1456 1054h0M1459 1027h0M1588 1095h0M1503 1105h0M1589 1086h0M1556 1070h0M1512 1045h0M1620 1020h0M1530 1105h0M1543 1059h0M1484 1086h0M1630 1077h0M1544 1048h0M1624 1091h0M1582 1023h0M1554 1039h0M1551 1092h0M1549 1034h0M1460 1040h0M1526 1027h0M1522 1091h0M1514 1063h0M1492 1040h0M1622 1021h0M1625 1054h0M1486 1038h0M1505 1087h0M1571 1080h0M1543 1104h0M1634 1043h0M1484 1048h0M1621 1101h0M1637 1016h0M1541 1073h0M1573 1083h0M1647 1066h0M1549 1021h0M1548 1094h0M1555 1038h0M1573 1034h0M1602 1033h0M1570 1017h0M1540 1049h0M1531 1031h0M1550 1024h0M1618 1105h0M1523 1069h0M1479 1015h0M1535 1027h0M1479 1044h0M1475 1086h0M1568 1088h0M1645 1100h0M1540 1029h0M1539 1041h0M1531 1050h0M1483 1024h0M1557 1065h0M1532 1089h0M1464 1039h0M1523 1032h0M1618 1027h0M1494 1067h0M1506 1046h0M1581 1039h0M1599 1022h0M1585 1076h0M1570 1099h0M1641 1102h0M1452 1081h0M1585 1036h0M1633 1088h0M1574 1104h0M1525 1069h0M1596 1038h0M1477 1069h0M1502 1105h0M1522 1059h0M1462 1055h0M1469 1067h0M1609 1037h0M1646 1082h0M1626 1057h0M1491 1067h0M1479 1085h0M1546 1026h0M1538 1052h0M1524 1084h0M1486 1046h0M1625 1037h0M1512 1068h0M1625 1019h0M1608 1026h0M1536 1059h0M1490 1105h0M1619 1075h0M1460 1026h0M1587 1043h0M1550 1049h0M1624 1029h0M1582 1075h0M1570 1017h0M1585 1071h0M1520 1074h0M1643 1078h0M1457 1049h0M1461 1106h0M1514 1084h0M1574 1061h0M1587 1039h0M1470 1095h0M1479 1015h0M1602 1053h0M1621 1091h0M1554 1083h0M1457 1098h0M1636 1073h0M1531 1046h0M1476 1100h0M1545 1017h0M1609 1075h0M1566 1018h0M1586 1098h0M1491 1087h0M1479 1086h0M1454 1101h0M1471 1091h0M1596 1038h0M1567 1028h0M1621 1065h0M1504 1034h0M1477 1075h0M1591 1100h0M1472 1086h0M1559 1069h0M1628 1099h0M1519 1048h0M1559 1063h0M1534 1057h0M1639 1105h0M1463 1025h0M1522 1063h0M1629 1022h0M1534 1056h0M1608 1063h0M1588 1046h0M1641 1091h0M1603 1092h0M1613 1102h0M1527 1057h0M1641 1102h0M1629 1041h0M1556 1107h0M1514 1080h0M1581 1074h0M1453 1087h0M1605 1074h0M1516 1086h0M1560 1066h0M1642 1025h0M1547 1103h0M1602 1087h0M1494 1056h0M1472 1021h0M1459 1035h0M1570 1037h0M1481 1058h0M1521 1058h0M1490 1101h0M1455 1089h0M1456 1089h0M1563 1059h0M1547 1100h0M1568 1064h0M1506 1086h0M1495 1078h0M1643 1025h0M1603 1031h0M1522 1022h0M1645 1068h0M1489 1086h0M1632 1097h0M1456 1031h0M1631 1045h0M1466 1044h0M1602 1030h0M1601 1092h0M1511 1098h0M1480 1046h0M1602 1049h0M1645 1055h0M1550 1049h0M1586 1041h0M1639 1105h0M1642 1088h0M1598 1016h0M1530 1067h0M1623 1058h0M1608 1104h0M1612 1082h0M1493 1072h0M1609 1067h0M1527 1086h0M1610 1056h0M1643 1090h0M1544 1039h0M1502 1071h0M1476 1107h0M1593 1088h0M1504 1073h0M1468 1058h0M1624 1094h0M1585 1080h0M1629 1054h0M1450 1108h0M1560 1050h0M1589 1019h0M1532 1021h0M1499 1106h0M1552 1044h0M1507 1058h0M1518 1027h0M1571 1074h0M1550 1102h0M1549 1076h0M1488 1062h0M1578 1085h0M1565 1040h0M1593 1033h0M1499 1102h0M1569 1046h0M1649 1092h0M1460 1028h0M1544 1031h0M1622 1101h0M1579 1036h0M1639 1066h0M1573 1049h0M1647 1105h0M1580 1035h0M1566 1035h0M1579 1096h0M1489 1091h0M1568 1058h0M1560 1036h0M1640 1079h0M1518 1015h0M1613 1108h0M1637 1049h0M1577 1056h0M1584 1097h0M1462 1104h0M1648 1054h0M1577 1104h0M1474 1064h0M1645 1079h0M1524 1042h0M1629 1060h0M1473 1063h0M1502 1032h0M1618 1063h0M1645 1098h0M1556 1017h0M1485 1085h0M1579 1047h0M1484 1069h0M1518 1065h0M1611 1099h0M1522 1091h0M1554 1094h0M1589 1093h0M1539 1062h0M1530 1101h0M1457 1085h0M1631 1104h0M1470 1024h0M1525 1089h0M1470 1021h0M1647 1107h0M1602 1088h0M1486 1027h0M1639 1102h0M1533 1077h0M1484 1059h0M1545 1072h0M1557 1099h0M1582 1077h0M1551 1019h0M1597 1082h0M1602 1029h0M1533 1075h0M1647 1107h0M1579 1048h0M1603 1107h0M1492 1021h0M1549 1083h0M1564 1074h0M1577 1095h0M1563 1101h0M1598 1017h0M1461 1034h0M1597 1033h0M1597 1101h0M1524 1075h0M1466 1051h0M1514 1044h0M1499 1018h0M1600 1101h0M1576 1062h0M1489 1105h0M1595 1083h0M1452 1100h0M1476 1088h0M1453 1079h0M1564 1087h0M1512 1086h0M1538 1019h0M1520 1064h0M1647 1025h0M1563 1105h0M1506 1070h0M1641 1090h0M1608 1019h0M1641 1082h0M1572 1069h0M1591 1056h0M1575 1083h0M1462 1064h0M1642 1019h0M1522 1070h0M1573 1095h0M1454 1074h0M1510 1107h0M1568 1025h0M1496 1040h0M1568 1061h0M1650 1029h0M1543 1052h0M1523 1072h0M1551 1046h0M1562 1066h0M1643 1021h0M1606 1096h0M1604 1041h0M1465 1097h0M1525 1100h0M1498 1086h0M1505 1095h0M1548 1085h0M1636 1045h0M1458 1061h0M1626 1089h0M1548 1059h0M1522 1044h0M1506 1100h0M1522 1093h0M1551 1045h0M1642 1043h0M1501 1054h0M1544 1043h0M1643 1059h0M1512 1063h0M1533 1023h0M1609 1062h0M1488 1028h0M1580 1092h0M1591 1048h0M1623 1083h0M1639 1086h0M1616 1068h0M1562 1088h0M1535 1098h0M1485 1078h0M1530 1027h0M1579 1106h0M1503 1097h0M1570 1053h0M1526 1048h0M1517 1054h0M1639 1098h0M1566 1031h0M1478 1094h0M1486 1044h0M1645 1089h0M1597 1082h0M1520 1102h0M1534 1082h0M1458 1033h0M1547 1021h0M1630 1042h0M1512 1035h0M1619 1052h0M1480 1088h0M1525 1074h0M1589 1045h0M1548 1107h0M1617 1037h0M1602 1102h0M1530 1075h0M1575 1038h0M1608 1064h0M1502 1020h0M1526 1045h0M1563 1081h0M1557 1043h0M1642 1041h0M1490 1040h0M1636 1080h0M1573 1070h0M1559 1060h0M1592 1017h0M1554 1068h0M1576 1073h0M1519 1100h0M1619 1020h0M1568 1034h0M1519 1091h0M1533 1079h0M1462 1042h0M1588 1084h0M1627 1096h0M1569 1041h0M1636 1087h0M1636 1025h0M1495 1053h0M1485 1060h0M1636 1104h0M1529 1019h0M1576 1068h0M1590 1058h0M1606 1045h0M1615 1087h0M1648 1021h0M1463 1058h0M1612 1044h0M1597 1069h0M1568 1054h0M1527 1054h0M1595 1069h0M1535 1084h0M1627 1040h0M1513 1091h0M1644 1090h0M1509 1101h0M1468 1088h0M1486 1050h0M1459 1090h0M1596 1023h0M1623 1043h0M1573 1015h0M1579 1022h0M1476 1075h0M1550 1020h0M1518 1083h0M1632 1070h0M1593 1035h0M1546 1019h0M1560 1096h0M1613 1072h0" stroke="#4a1a74" stroke-opacity="0.52" stroke-width="2.9" stroke-linecap="round" fill="none"/><rect x="1334.50" y="829.70" width="315.70" height="278.50" fill="none" stroke="#222" stroke-width="1.0"/><line x1="1334.50" y1="1108.20" x2="1334.50" y2="1111.70" stroke="#222" stroke-width="0.9"/><text x="1334.5" y="1128.8" font-size="14.1" text-anchor="middle" fill="#222">0</text><line x1="1397.64" y1="1108.20" x2="1397.64" y2="1111.70" stroke="#222" stroke-width="0.9"/><text x="1397.6" y="1128.8" font-size="14.1" text-anchor="middle" fill="#222">20</text><line x1="1460.78" y1="1108.20" x2="1460.78" y2="1111.70" stroke="#222" stroke-width="0.9"/><text x="1460.8" y="1128.8" font-size="14.1" text-anchor="middle" fill="#222">40</text><line x1="1523.92" y1="1108.20" x2="1523.92" y2="1111.70" stroke="#222" stroke-width="0.9"/><text x="1523.9" y="1128.8" font-size="14.1" text-anchor="middle" fill="#222">60</text><line x1="1587.06" y1="1108.20" x2="1587.06" y2="1111.70" stroke="#222" stroke-width="0.9"/><text x="1587.1" y="1128.8" font-size="14.1" text-anchor="middle" fill="#222">80</text><line x1="1650.20" y1="1108.20" x2="1650.20" y2="1111.70" stroke="#222" stroke-width="0.9"/><text x="1650.2" y="1128.8" font-size="14.1" text-anchor="middle" fill="#222">100</text><line x1="1331.00" y1="1108.20" x2="1334.50" y2="1108.20" stroke="#222" stroke-width="0.9"/><text x="1325.7" y="1113.3" font-size="14.1" text-anchor="end" fill="#222">0.00</text><line x1="1331.00" y1="1061.79" x2="1334.50" y2="1061.79" stroke="#222" stroke-width="0.9"/><text x="1325.7" y="1066.9" font-size="14.1" text-anchor="end" fill="#222">0.05</text><line x1="1331.00" y1="1015.37" x2="1334.50" y2="1015.37" stroke="#222" stroke-width="0.9"/><text x="1325.7" y="1020.5" font-size="14.1" text-anchor="end" fill="#222">0.10</text><line x1="1331.00" y1="968.96" x2="1334.50" y2="968.96" stroke="#222" stroke-width="0.9"/><text x="1325.7" y="974.1" font-size="14.1" text-anchor="end" fill="#222">0.15</text><line x1="1331.00" y1="922.54" x2="1334.50" y2="922.54" stroke="#222" stroke-width="0.9"/><text x="1325.7" y="927.7" font-size="14.1" text-anchor="end" fill="#222">0.20</text><line x1="1331.00" y1="876.12" x2="1334.50" y2="876.12" stroke="#222" stroke-width="0.9"/><text x="1325.7" y="881.3" font-size="14.1" text-anchor="end" fill="#222">0.25</text><line x1="1331.00" y1="829.71" x2="1334.50" y2="829.71" stroke="#222" stroke-width="0.9"/><text x="1325.7" y="834.8" font-size="14.1" text-anchor="end" fill="#222">0.30</text><text x="1492.2" y="820.1" font-size="17.1" text-anchor="middle" fill="#222">Zavisnost ekscentriciteta od velike poluose</text><text x="1492.2" y="1148.7" font-size="14.1" text-anchor="middle" fill="#222">Velika poluosa [AU]</text><text x="1285.5" y="970.7" font-size="14.1" text-anchor="middle" fill="#222" transform="rotate(-90 1285.5 970.7)">Ekscentricitet</text><polyline points="949.9,1804.2 955.5,1731.0 961.3,1725.5 967.3,1731.0 972.7,1725.5 978.6,1736.7 984.3,1726.5 990.4,1708.3 996.0,1668.8 1001.3,1777.9 1007.3,1812.0 1012.9,1823.6 1018.3,1835.3 1024.3,1834.2 1030.3,1830.4 1036.1,1813.4 1041.9,1812.2 1053.4,1591.2 1059.1,1594.5 1064.9,1757.6 1070.3,1738.7 1076.1,1753.2 1081.8,1762.2 1087.9,1763.5 1093.4,1761.7 1099.5,1769.0 1105.1,1764.7 1111.2,1770.2 1116.5,1769.5 1122.6,1770.8 1128.2,1773.6 1133.9,1776.8 1139.8,1773.1 1145.6,1777.5 1151.2,1778.8 1156.9,1785.3 1162.9,1775.1 1168.7,1783.1 1174.2,1784.3 1180.2,1791.1 1185.9,1784.8 1191.7,1781.1 1197.8,1786.0 1203.3,1786.8 1209.2,1795.0 1214.8,1784.8 1220.8,1791.6 1226.4,1794.4 1232.2,1794.4" fill="none" stroke="#1f77b4" stroke-width="1.45" stroke-linejoin="round" clip-path="url(#cpg935)"/><polyline points="950.1,1556.0 951.0,1556.7 952.0,1557.5 952.9,1558.4 953.8,1559.3 954.8,1560.3 955.7,1561.4 956.7,1562.6 957.6,1563.8 958.6,1565.2 959.5,1566.6 960.4,1568.1 961.4,1569.8 962.3,1571.6 963.3,1573.4 964.2,1575.4 965.2,1577.5 966.1,1579.8 967.1,1582.2 968.0,1584.7 968.9,1587.3 969.9,1590.1 970.8,1593.1 971.8,1596.2 972.7,1599.5 973.7,1602.9 974.6,1606.4 975.5,1610.2 976.5,1614.1 977.4,1618.1 978.4,1622.3 979.3,1626.7 980.3,1631.2 981.2,1635.9 982.1,1640.7 983.1,1645.7 984.0,1650.9 985.0,1656.1 985.9,1661.5 986.9,1667.1 987.8,1672.7 988.7,1678.5 989.7,1684.3 990.6,1690.3 991.6,1696.3 992.5,1702.5 993.5,1708.6 994.4,1714.8 995.3,1721.1 996.3,1727.3 997.2,1733.6 998.2,1739.8 999.1,1746.1 1000.1,1752.2 1001.0,1758.3 1001.9,1764.4 1002.9,1770.3 1003.8,1776.1 1004.8,1781.8 1005.7,1787.3 1006.7,1792.7 1007.6,1797.9 1008.5,1802.9 1009.5,1807.7 1010.4,1812.2 1011.4,1816.5 1012.3,1820.6 1013.3,1824.3 1014.2,1827.8 1015.1,1831.0 1016.1,1833.8 1017.0,1836.4 1018.0,1838.6 1018.9,1840.5 1019.9,1842.0 1020.8,1843.2 1021.7,1844.0 1022.7,1844.5 1023.6,1844.6 1024.6,1844.3 1025.5,1843.7 1026.5,1842.8 1027.4,1841.4 1028.3,1839.8 1029.3,1837.8 1030.2,1835.4 1031.2,1832.7 1032.1,1829.8 1033.1,1826.5 1034.0,1822.9 1034.9,1819.0 1035.9,1814.8 1036.8,1810.4 1037.8,1805.8 1038.7,1800.9 1039.7,1795.9 1040.6,1790.6 1041.5,1785.2 1042.5,1779.6 1043.4,1773.8 1044.4,1768.0 1045.3,1762.0 1046.3,1755.9 1047.2,1749.8 1048.1,1743.6 1049.1,1737.4 1050.0,1731.1 1051.0,1724.8 1051.9,1718.6 1052.9,1712.4 1053.8,1706.2 1054.7,1700.0 1055.7,1693.9 1056.6,1687.9 1057.6,1682.0 1058.5,1676.2 1059.5,1670.5 1060.4,1664.9 1061.3,1659.4 1062.3,1654.0 1063.2,1648.8 1064.2,1643.7 1065.1,1638.8 1066.1,1634.0 1067.0,1629.4 1067.9,1624.9 1068.9,1620.6 1069.8,1616.5 1070.8,1612.5 1071.7,1608.7 1072.7,1605.0 1073.6,1601.5 1074.5,1598.1 1075.5,1594.9 1076.4,1591.9 1077.4,1589.0 1078.3,1586.3 1079.3,1583.7 1080.2,1581.2 1081.1,1578.9 1082.1,1576.7 1083.0,1574.6 1084.0,1572.7 1084.9,1570.8 1085.9,1569.1 1086.8,1567.5 1087.7,1566.0 1088.7,1564.6 1089.6,1563.3 1090.6,1562.1 1091.5,1560.9 1092.5,1559.9 1093.4,1558.9 1094.4,1558.0 1095.3,1557.2 1096.2,1556.4 1097.2,1555.7 1098.1,1555.0 1099.1,1554.4 1100.0,1553.9 1101.0,1553.4 1101.9,1552.9 1102.8,1552.5 1103.8,1552.1 1104.7,1551.7 1105.7,1551.4 1106.6,1551.1 1107.6,1550.8 1108.5,1550.6 1109.4,1550.4 1110.4,1550.2 1111.3,1550.0 1112.3,1549.8 1113.2,1549.7 1114.2,1549.6 1115.1,1549.4 1116.0,1549.3 1117.0,1549.2 1117.9,1549.2 1118.9,1549.1 1119.8,1549.0 1120.8,1548.9 1121.7,1548.9 1122.6,1548.8 1123.6,1548.8 1124.5,1548.8 1125.5,1548.7 1126.4,1548.7 1127.4,1548.7 1128.3,1548.7 1129.2,1548.6 1130.2,1548.6 1131.1,1548.6 1132.1,1548.6 1133.0,1548.6 1134.0,1548.6 1134.9,1548.6 1135.8,1548.5 1136.8,1548.5 1137.7,1548.5 1138.7,1548.5 1139.6,1548.5 1140.6,1548.5 1141.5,1548.5 1142.4,1548.5 1143.4,1548.5 1144.3,1548.5 1145.3,1548.5 1146.2,1548.5 1147.2,1548.5 1148.1,1548.5 1149.0,1548.5 1150.0,1548.5 1150.9,1548.5 1151.9,1548.5 1152.8,1548.5 1153.8,1548.5 1154.7,1548.5 1155.6,1548.5 1156.6,1548.5 1157.5,1548.5 1158.5,1548.5 1159.4,1548.5 1160.4,1548.5 1161.3,1548.5 1162.2,1548.5 1163.2,1548.5 1164.1,1548.5 1165.1,1548.5 1166.0,1548.5 1167.0,1548.5 1167.9,1548.5 1168.8,1548.5 1169.8,1548.5 1170.7,1548.5 1171.7,1548.5 1172.6,1548.5 1173.6,1548.5 1174.5,1548.5 1175.4,1548.5 1176.4,1548.5 1177.3,1548.5 1178.3,1548.5 1179.2,1548.5 1180.2,1548.5 1181.1,1548.5 1182.0,1548.5 1183.0,1548.5 1183.9,1548.5 1184.9,1548.5 1185.8,1548.5 1186.8,1548.5 1187.7,1548.5 1188.6,1548.5 1189.6,1548.5 1190.5,1548.5 1191.5,1548.5 1192.4,1548.5 1193.4,1548.5 1194.3,1548.5 1195.2,1548.5 1196.2,1548.5 1197.1,1548.5 1198.1,1548.5 1199.0,1548.5 1200.0,1548.5 1200.9,1548.5 1201.8,1548.5 1202.8,1548.5 1203.7,1548.5 1204.7,1548.5 1205.6,1548.5 1206.6,1548.5 1207.5,1548.5 1208.4,1548.5 1209.4,1548.5 1210.3,1548.5 1211.3,1548.5 1212.2,1548.5 1213.2,1548.5 1214.1,1548.5 1215.0,1548.5 1216.0,1548.5 1216.9,1548.5 1217.9,1548.5 1218.8,1548.5 1219.8,1548.5 1220.7,1548.5 1221.7,1548.5 1222.6,1548.5 1223.5,1548.5 1224.5,1548.5 1225.4,1548.5 1226.4,1548.5 1227.3,1548.5 1228.3,1548.5 1229.2,1548.5 1230.1,1548.5 1231.1,1548.5 1232.0,1548.5" fill="none" stroke="#d62728" stroke-width="1.45" stroke-dasharray="5.3 2.3" clip-path="url(#cpg935)"/><rect x="935.30" y="1560.80" width="311.10" height="307.70" fill="none" stroke="#222" stroke-width="0.9"/><line x1="947.20" y1="1868.50" x2="947.20" y2="1871.50" stroke="#222" stroke-width="0.9"/><text x="947.2" y="1883.1" font-size="9.2" text-anchor="middle" fill="#222">0</text><line x1="1004.74" y1="1868.50" x2="1004.74" y2="1871.50" stroke="#222" stroke-width="0.9"/><text x="1004.7" y="1883.1" font-size="9.2" text-anchor="middle" fill="#222">20</text><line x1="1062.28" y1="1868.50" x2="1062.28" y2="1871.50" stroke="#222" stroke-width="0.9"/><text x="1062.3" y="1883.1" font-size="9.2" text-anchor="middle" fill="#222">40</text><line x1="1119.82" y1="1868.50" x2="1119.82" y2="1871.50" stroke="#222" stroke-width="0.9"/><text x="1119.8" y="1883.1" font-size="9.2" text-anchor="middle" fill="#222">60</text><line x1="1177.36" y1="1868.50" x2="1177.36" y2="1871.50" stroke="#222" stroke-width="0.9"/><text x="1177.4" y="1883.1" font-size="9.2" text-anchor="middle" fill="#222">80</text><line x1="1234.90" y1="1868.50" x2="1234.90" y2="1871.50" stroke="#222" stroke-width="0.9"/><text x="1234.9" y="1883.1" font-size="9.2" text-anchor="middle" fill="#222">100</text><line x1="932.30" y1="1868.50" x2="935.30" y2="1868.50" stroke="#222" stroke-width="0.9"/><text x="928.5" y="1871.9" font-size="9.2" text-anchor="end" fill="#222">0.000</text><line x1="932.30" y1="1817.22" x2="935.30" y2="1817.22" stroke="#222" stroke-width="0.9"/><text x="928.5" y="1820.6" font-size="9.2" text-anchor="end" fill="#222">0.005</text><line x1="932.30" y1="1765.93" x2="935.30" y2="1765.93" stroke="#222" stroke-width="0.9"/><text x="928.5" y="1769.3" font-size="9.2" text-anchor="end" fill="#222">0.010</text><line x1="932.30" y1="1714.65" x2="935.30" y2="1714.65" stroke="#222" stroke-width="0.9"/><text x="928.5" y="1718.0" font-size="9.2" text-anchor="end" fill="#222">0.015</text><line x1="932.30" y1="1663.37" x2="935.30" y2="1663.37" stroke="#222" stroke-width="0.9"/><text x="928.5" y="1666.7" font-size="9.2" text-anchor="end" fill="#222">0.020</text><line x1="932.30" y1="1612.08" x2="935.30" y2="1612.08" stroke="#222" stroke-width="0.9"/><text x="928.5" y="1615.4" font-size="9.2" text-anchor="end" fill="#222">0.025</text><line x1="932.30" y1="1560.80" x2="935.30" y2="1560.80" stroke="#222" stroke-width="0.9"/><text x="928.5" y="1564.2" font-size="9.2" text-anchor="end" fill="#222">0.030</text><text x="1090.6" y="1555.0" font-size="11.1" text-anchor="middle" fill="#222">a=20AU, m=0.082Mj, t=150000 godina</text><text x="1090.6" y="1895.3" font-size="9.2" text-anchor="middle" fill="#222">Velika poluosa [AU]</text><text x="896.3" y="1714.4" font-size="9.2" text-anchor="middle" fill="#222" transform="rotate(-90 896.3 1714.4)">Relativan udeo čestica</text><rect x="1131.6" y="1565.7" width="110" height="15.7" rx="2" fill="#fff" fill-opacity="0.8" stroke="#d0d0d0" stroke-width="0.8"/><line x1="1134.80" y1="1573.40" x2="1154.20" y2="1573.40" stroke="#d62728" stroke-width="1.45" stroke-dasharray="5.3 2.3"/><text x="1161.5" y="1576.7" font-size="9.2" text-anchor="start" fill="#222">Obrnuti gausijan</text><polyline points="1350.3,1798.9 1355.9,1730.2 1361.7,1727.2 1367.3,1730.4 1373.4,1736.7 1379.5,1732.9 1385.0,1729.4 1390.8,1731.9 1395.9,1666.4 1401.7,1709.0 1407.7,1789.6 1413.5,1825.5 1419.0,1841.8 1425.0,1836.2 1430.8,1796.9 1436.5,1839.8 1442.0,1787.2 1448.0,1637.9 1453.8,1755.6 1459.5,1617.9 1465.3,1743.1 1471.0,1739.9 1476.5,1767.7 1482.3,1755.6 1488.0,1761.0 1494.1,1777.0 1499.5,1756.3 1505.7,1769.0 1511.8,1769.0 1517.4,1767.7 1522.7,1773.4 1528.8,1780.4 1534.3,1770.2 1540.1,1775.0 1546.1,1779.9 1551.9,1777.0 1557.9,1784.8 1563.2,1769.7 1568.9,1788.4 1574.9,1787.7 1580.4,1780.6 1586.4,1783.6 1592.4,1788.4 1597.9,1786.7 1604.0,1789.1 1609.7,1793.2 1615.5,1789.6 1620.9,1795.0 1627.0,1793.2 1632.7,1792.0" fill="none" stroke="#1f77b4" stroke-width="1.45" stroke-linejoin="round" clip-path="url(#cpg1336)"/><polyline points="1350.8,1660.5 1351.7,1660.5 1352.7,1660.5 1353.6,1660.5 1354.5,1660.5 1355.5,1660.5 1356.4,1660.5 1357.4,1660.5 1358.3,1660.5 1359.3,1660.5 1360.2,1660.5 1361.1,1660.6 1362.1,1660.6 1363.0,1660.6 1364.0,1660.6 1364.9,1660.6 1365.9,1660.6 1366.8,1660.7 1367.8,1660.7 1368.7,1660.8 1369.6,1660.8 1370.6,1660.9 1371.5,1661.0 1372.5,1661.1 1373.4,1661.2 1374.4,1661.4 1375.3,1661.5 1376.2,1661.8 1377.2,1662.0 1378.1,1662.3 1379.1,1662.7 1380.0,1663.1 1381.0,1663.6 1381.9,1664.2 1382.8,1664.9 1383.8,1665.7 1384.7,1666.6 1385.7,1667.6 1386.6,1668.8 1387.6,1670.1 1388.5,1671.6 1389.4,1673.4 1390.4,1675.3 1391.3,1677.4 1392.3,1679.8 1393.2,1682.4 1394.2,1685.3 1395.1,1688.5 1396.0,1691.9 1397.0,1695.7 1397.9,1699.8 1398.9,1704.1 1399.8,1708.8 1400.8,1713.8 1401.7,1719.1 1402.6,1724.7 1403.6,1730.6 1404.5,1736.7 1405.5,1743.1 1406.4,1749.6 1407.4,1756.3 1408.3,1763.2 1409.2,1770.1 1410.2,1777.1 1411.1,1784.1 1412.1,1791.0 1413.0,1797.8 1414.0,1804.4 1414.9,1810.8 1415.8,1816.9 1416.8,1822.6 1417.7,1828.0 1418.7,1832.9 1419.6,1837.2 1420.6,1841.0 1421.5,1844.3 1422.4,1846.9 1423.4,1848.8 1424.3,1850.1 1425.3,1850.7 1426.2,1850.5 1427.2,1849.7 1428.1,1848.2 1429.0,1846.0 1430.0,1843.2 1430.9,1839.8 1431.9,1835.8 1432.8,1831.2 1433.8,1826.2 1434.7,1820.7 1435.6,1814.8 1436.6,1808.6 1437.5,1802.1 1438.5,1795.5 1439.4,1788.6 1440.4,1781.7 1441.3,1774.7 1442.2,1767.7 1443.2,1760.8 1444.1,1754.0 1445.1,1747.3 1446.0,1740.8 1447.0,1734.5 1447.9,1728.5 1448.8,1722.7 1449.8,1717.2 1450.7,1712.1 1451.7,1707.2 1452.6,1702.6 1453.6,1698.3 1454.5,1694.3 1455.4,1690.7 1456.4,1687.3 1457.3,1684.3 1458.3,1681.5 1459.2,1678.9 1460.2,1676.6 1461.1,1674.6 1462.0,1672.7 1463.0,1671.1 1463.9,1669.6 1464.9,1668.4 1465.8,1667.2 1466.8,1666.3 1467.7,1665.4 1468.6,1664.7 1469.6,1664.0 1470.5,1663.5 1471.5,1663.0 1472.4,1662.6 1473.4,1662.2 1474.3,1661.9 1475.2,1661.7 1476.2,1661.5 1477.1,1661.3 1478.1,1661.2 1479.0,1661.0 1480.0,1660.9 1480.9,1660.9 1481.8,1660.8 1482.8,1660.7 1483.7,1660.7 1484.7,1660.7 1485.6,1660.6 1486.6,1660.6 1487.5,1660.6 1488.4,1660.6 1489.4,1660.6 1490.3,1660.5 1491.3,1660.5 1492.2,1660.5 1493.2,1660.5 1494.1,1660.5 1495.1,1660.5 1496.0,1660.5 1496.9,1660.5 1497.9,1660.5 1498.8,1660.5 1499.8,1660.5 1500.7,1660.5 1501.7,1660.5 1502.6,1660.5 1503.5,1660.5 1504.5,1660.5 1505.4,1660.5 1506.4,1660.5 1507.3,1660.5 1508.3,1660.5 1509.2,1660.5 1510.1,1660.5 1511.1,1660.5 1512.0,1660.5 1513.0,1660.5 1513.9,1660.5 1514.9,1660.5 1515.8,1660.5 1516.7,1660.5 1517.7,1660.5 1518.6,1660.5 1519.6,1660.5 1520.5,1660.5 1521.5,1660.5 1522.4,1660.5 1523.3,1660.5 1524.3,1660.5 1525.2,1660.5 1526.2,1660.5 1527.1,1660.5 1528.1,1660.5 1529.0,1660.5 1529.9,1660.5 1530.9,1660.5 1531.8,1660.5 1532.8,1660.5 1533.7,1660.5 1534.7,1660.5 1535.6,1660.5 1536.5,1660.5 1537.5,1660.5 1538.4,1660.5 1539.4,1660.5 1540.3,1660.5 1541.3,1660.5 1542.2,1660.5 1543.1,1660.5 1544.1,1660.5 1545.0,1660.5 1546.0,1660.5 1546.9,1660.5 1547.9,1660.5 1548.8,1660.5 1549.7,1660.5 1550.7,1660.5 1551.6,1660.5 1552.6,1660.5 1553.5,1660.5 1554.5,1660.5 1555.4,1660.5 1556.3,1660.5 1557.3,1660.5 1558.2,1660.5 1559.2,1660.5 1560.1,1660.5 1561.1,1660.5 1562.0,1660.5 1562.9,1660.5 1563.9,1660.5 1564.8,1660.5 1565.8,1660.5 1566.7,1660.5 1567.7,1660.5 1568.6,1660.5 1569.5,1660.5 1570.5,1660.5 1571.4,1660.5 1572.4,1660.5 1573.3,1660.5 1574.3,1660.5 1575.2,1660.5 1576.1,1660.5 1577.1,1660.5 1578.0,1660.5 1579.0,1660.5 1579.9,1660.5 1580.9,1660.5 1581.8,1660.5 1582.7,1660.5 1583.7,1660.5 1584.6,1660.5 1585.6,1660.5 1586.5,1660.5 1587.5,1660.5 1588.4,1660.5 1589.3,1660.5 1590.3,1660.5 1591.2,1660.5 1592.2,1660.5 1593.1,1660.5 1594.1,1660.5 1595.0,1660.5 1595.9,1660.5 1596.9,1660.5 1597.8,1660.5 1598.8,1660.5 1599.7,1660.5 1600.7,1660.5 1601.6,1660.5 1602.5,1660.5 1603.5,1660.5 1604.4,1660.5 1605.4,1660.5 1606.3,1660.5 1607.3,1660.5 1608.2,1660.5 1609.1,1660.5 1610.1,1660.5 1611.0,1660.5 1612.0,1660.5 1612.9,1660.5 1613.9,1660.5 1614.8,1660.5 1615.7,1660.5 1616.7,1660.5 1617.6,1660.5 1618.6,1660.5 1619.5,1660.5 1620.5,1660.5 1621.4,1660.5 1622.4,1660.5 1623.3,1660.5 1624.2,1660.5 1625.2,1660.5 1626.1,1660.5 1627.1,1660.5 1628.0,1660.5 1629.0,1660.5 1629.9,1660.5 1630.8,1660.5 1631.8,1660.5 1632.7,1660.5" fill="none" stroke="#d62728" stroke-width="1.45" stroke-dasharray="5.3 2.3" clip-path="url(#cpg1336)"/><rect x="1336.30" y="1560.80" width="310.10" height="308.40" fill="none" stroke="#222" stroke-width="0.9"/><line x1="1347.90" y1="1869.20" x2="1347.90" y2="1872.20" stroke="#222" stroke-width="0.9"/><text x="1347.9" y="1883.1" font-size="9.2" text-anchor="middle" fill="#222">0</text><line x1="1405.44" y1="1869.20" x2="1405.44" y2="1872.20" stroke="#222" stroke-width="0.9"/><text x="1405.4" y="1883.1" font-size="9.2" text-anchor="middle" fill="#222">20</text><line x1="1462.98" y1="1869.20" x2="1462.98" y2="1872.20" stroke="#222" stroke-width="0.9"/><text x="1463.0" y="1883.1" font-size="9.2" text-anchor="middle" fill="#222">40</text><line x1="1520.52" y1="1869.20" x2="1520.52" y2="1872.20" stroke="#222" stroke-width="0.9"/><text x="1520.5" y="1883.1" font-size="9.2" text-anchor="middle" fill="#222">60</text><line x1="1578.06" y1="1869.20" x2="1578.06" y2="1872.20" stroke="#222" stroke-width="0.9"/><text x="1578.1" y="1883.1" font-size="9.2" text-anchor="middle" fill="#222">80</text><line x1="1635.60" y1="1869.20" x2="1635.60" y2="1872.20" stroke="#222" stroke-width="0.9"/><text x="1635.6" y="1883.1" font-size="9.2" text-anchor="middle" fill="#222">100</text><line x1="1333.30" y1="1869.20" x2="1336.30" y2="1869.20" stroke="#222" stroke-width="0.9"/><text x="1328.5" y="1872.6" font-size="9.2" text-anchor="end" fill="#222">0.000</text><line x1="1333.30" y1="1817.80" x2="1336.30" y2="1817.80" stroke="#222" stroke-width="0.9"/><text x="1328.5" y="1821.2" font-size="9.2" text-anchor="end" fill="#222">0.005</text><line x1="1333.30" y1="1766.40" x2="1336.30" y2="1766.40" stroke="#222" stroke-width="0.9"/><text x="1328.5" y="1769.8" font-size="9.2" text-anchor="end" fill="#222">0.010</text><line x1="1333.30" y1="1715.00" x2="1336.30" y2="1715.00" stroke="#222" stroke-width="0.9"/><text x="1328.5" y="1718.4" font-size="9.2" text-anchor="end" fill="#222">0.015</text><line x1="1333.30" y1="1663.60" x2="1336.30" y2="1663.60" stroke="#222" stroke-width="0.9"/><text x="1328.5" y="1667.0" font-size="9.2" text-anchor="end" fill="#222">0.020</text><line x1="1333.30" y1="1612.20" x2="1336.30" y2="1612.20" stroke="#222" stroke-width="0.9"/><text x="1328.5" y="1615.6" font-size="9.2" text-anchor="end" fill="#222">0.025</text><line x1="1333.30" y1="1560.80" x2="1336.30" y2="1560.80" stroke="#222" stroke-width="0.9"/><text x="1328.5" y="1564.2" font-size="9.2" text-anchor="end" fill="#222">0.030</text><text x="1491.1" y="1555.0" font-size="11.1" text-anchor="middle" fill="#222">a=22AU, m=0.072Mj, t=150000 godina</text><text x="1491.1" y="1895.3" font-size="9.2" text-anchor="middle" fill="#222">Velika poluosa [AU]</text><text x="1296.3" y="1714.4" font-size="9.2" text-anchor="middle" fill="#222" transform="rotate(-90 1296.3 1714.4)">Relativan udeo čestica</text><rect x="1531.6" y="1565.7" width="110" height="15.7" rx="2" fill="#fff" fill-opacity="0.8" stroke="#d0d0d0" stroke-width="0.8"/><line x1="1534.80" y1="1573.40" x2="1554.20" y2="1573.40" stroke="#d62728" stroke-width="1.45" stroke-dasharray="5.3 2.3"/><text x="1561.5" y="1576.7" font-size="9.2" text-anchor="start" fill="#222">Obrnuti gausijan</text><g fill="none" stroke="#fff" stroke-linecap="round" stroke-linejoin="round"><path d="M1622.2,24.5 L1624.9,58 L1624.3,92 L1621.8,119 L1619.4,119 L1617.9,84 L1619.6,44 Z" fill="#fff" stroke="#fff" stroke-width="0.8"/><path d="M1619.7,39.4 L1609.2,117" stroke-width="1.3"/><path d="M1517.8,70.2 C1545,85 1578,104 1602,117.9" stroke-width="4.0"/><path d="M1531,74.5 C1556,91 1580,106 1599,119" stroke-width="1.6"/><path d="M1580,108 L1601,120 M1584,112 L1597,121" stroke-width="1.4"/><path d="M1620.5,120.3 C1614,131 1606,139 1597,143 C1580,152 1565,158 1548.5,165.6 C1535,173 1525,180 1517.8,186.7" stroke-width="4.0"/><path d="M1617,126 C1608,137 1598,143 1580,151 C1560,160 1540,171 1520,183" stroke-width="1.6"/><path d="M1540,172 L1518,186 M1535,177 L1519,189 M1529,182 L1527,189" stroke-width="1.6"/><path d="M1741,75 C1722,82 1700,91 1678,101 C1662,109 1650,116 1643,126 C1640,130 1639,134 1639.2,137" stroke-width="5.2"/><path d="M1738,80 C1720,86 1698,95 1680,104 C1665,112 1653,119 1647,128" stroke-width="2.0"/><path d="M1741,75 L1726,77 M1742,79 L1728,83 M1736,84 L1722,85" stroke-width="1.6"/><path d="M1700,88 C1680,95 1668,101 1660,106" stroke-width="1.6"/><path d="M1639,139.7 C1645,146 1650,151 1653.7,152.7 C1662,159 1670,164 1678,168.9 C1692,178 1703,186 1713.6,194" stroke-width="4.0"/><path d="M1642,144 C1655,155 1670,164 1690,177 C1700,184 1706,189 1712,193" stroke-width="1.5"/><path d="M1680,166 L1690,169" stroke-width="1.2"/><path d="M1626,132.5 C1632,131 1640,133 1642.5,136.5 C1640,140 1632,139.5 1627.5,136 Z" stroke-width="1.6"/><path d="M1605.8,159.8 L1608.2,161.6 L1588,202 L1566,239 L1564,238 L1582,200 Z" fill="#fff" stroke="#fff" stroke-width="0.8"/><path d="M1600,169 L1571,231" stroke-width="1.2"/><path d="M1624,165.8 L1628.5,166.4 L1637,200 L1648.8,236.5 L1647,237.5 L1632,202 Z" fill="#fff" stroke="#fff" stroke-width="0.8"/><path d="M1599.5,218.5 C1600,213 1610,209.5 1616,211 C1619,214 1612,220 1603,221.5 C1600.5,221.5 1599.5,220 1599.5,218.5 Z" stroke-width="2.2"/><path d="M1576,32 L1577.3,68.5" stroke-width="1.6"/><path d="M1555,60.5 L1570,58" stroke-width="1.5"/><path d="M1568.5,48 C1572,51 1574,55 1574.5,62" stroke-width="1.4"/><path d="M1591,41 C1586,44 1583,48 1582,53" stroke-width="1.4"/><path d="M1583,57 L1589,63" stroke-width="1.3"/><path d="M1584,51 L1590,51" stroke-width="1.3"/><path d="M1669,48 C1660,48 1654,55 1659,61 C1664,66 1672,62 1680,61 C1688,60 1690,66 1686,70 C1683,73 1679,73 1677,72" stroke-width="1.8"/><path d="M1654,66 C1658,72 1667,74 1674,69" stroke-width="1.6"/><path d="M1664,55 C1670,52 1677,53 1682,57 M1674,53 L1683,53" stroke-width="1.4"/><path d="M1527,131 C1526,127 1528,124 1531,124 L1554.5,131 L1529,136 C1527,135 1527,133 1527,131 Z" stroke-width="1.5"/><path d="M1538,135 L1535,147.5 M1540,135 L1546,145 M1537,138 L1543,136" stroke-width="1.4"/><path d="M1710.4,117 L1711.2,130" stroke-width="1.4"/><path d="M1690,143.8 L1702.3,143" stroke-width="1.4"/><path d="M1718.4,139.7 L1728.2,130" stroke-width="1.4"/><path d="M1718.4,143 L1728.2,141.4" stroke-width="1.4"/><path d="M1712,147.8 L1721.7,152.7" stroke-width="1.4"/><path d="M1710.4,149.4 L1710.4,157.5" stroke-width="1.4"/><path d="M1707.1,147.8 L1702.3,156" stroke-width="1.4"/><path d="M1702.3,134.9 L1707.1,139" stroke-width="1.4"/><circle cx="1709.5" cy="142.2" r="2" fill="#fff" stroke="none"/></g>
</svg>
<div class="a title" style="left:44px;top:40.7px;font-size:70px;line-height:80.4px;font-weight:bold;color:#fff;-webkit-text-stroke:3px #fff;transform:scaleX(1.05)"><div style="letter-spacing:2.3px">Uticaj migracije planete na</div><div style="letter-spacing:1.33px">formiranje praznina u disku TWHya</div></div><div class="a" style="left:45.0px;top:271.9px;font-size:25px;line-height:30.00px;font-weight:normal;color:#fff;transform:scaleX(0.905);">Autori: Vasilisa Antić (2007), III razred, Gimnazija Leskovac</div><div class="a" style="left:123.5px;top:301.8px;font-size:25px;line-height:30.00px;font-weight:normal;color:#fff;transform:scaleX(0.897);">Tara Jovanović (2007), III razred, Valjevska Gimnazija</div><div class="a" style="left:1115.5px;top:275.5px;font-size:25px;line-height:30.00px;font-weight:normal;color:#fff;transform:scaleX(0.905);">Mentori: Debora Pavela, Matematički fakultet, Beograd</div><div class="a" style="left:1206.0px;top:305.4px;font-size:25px;line-height:30.00px;font-weight:normal;color:#fff;transform:scaleX(0.905);">Danilo Ristić, Elektrotehnički fakultet, Beograd</div><div class="a" style="left:63.0px;top:401.6px;font-size:53px;line-height:63.60px;font-weight:bold;color:#fff;transform:scaleX(0.835);-webkit-text-stroke:0.9px #fff;">Uvod i cilj</div><div class="a" style="left:63.5px;top:1200.8px;font-size:53px;line-height:63.60px;font-weight:bold;color:#fff;transform:scaleX(0.855);-webkit-text-stroke:0.9px #fff;">Metod</div><div class="a" style="left:829.5px;top:1265.9px;font-size:51px;line-height:61.20px;font-weight:bold;color:#fff;transform:scaleX(0.858);-webkit-text-stroke:0.9px #fff;">Rezultati i diskusija</div><div class="a" style="left:685.0px;top:2519.8px;font-size:25px;line-height:30.00px;font-weight:normal;color:#fff;transform:scaleX(0.905);">XXIV Konferencija „Korak u nauku“</div><div class="a p" style="left:59.5px;top:492.74px;width:773.2px;font-size:23.4px;line-height:28.3px;transform:scaleX(0.893);"><div class="j" style="padding-left:52.6px"><b>Protoplanetarni disk</b> je disk prašine i gasa koji kruži oko novonastale</div><div class="j">zvezde. U njemu se formiraju strukture poput praznina, prstenova, ali i</div><div class="j">planeta. Praznine (engl. gap) stvaraju se dinamičkim trenjem između</div><div class="l">planete i gasa u disku tako što protoplanete migriraju kroz isti.</div></div><div class="a p" style="left:66.0px;top:620.72px;width:768.8px;font-size:23.4px;line-height:28.75px;transform:scaleX(0.893);"><div class="j" style="padding-left:51.5px"><b>Cilj</b> ovog projekta je određivanje parametara planete, njene mase i</div><div class="j">velike poluose, u protoplanetarnom disku TWHya (slika 1), koja je</div><div class="j">odgovorna za nastanak jedne od posmatranih praznina kao i praćenje</div><div class="l">njenog razvoja tokom vremena.</div></div><div class="a p" style="left:62.5px;top:1287.79px;width:769.3px;font-size:23.4px;line-height:28.0px;transform:scaleX(0.893);"><div class="j" style="padding-left:44.2px">FITS slika protoplanetarnog diska, snimljenog ALMA teleskopom, je</div><div class="j">konvertovana u polarni prikaz (slika 2) radi jasnijeg uočavanja struktura u</div><div class="j">disku. Za svaki radijus izračunat je prosečan intenzitet, čime je dobijen</div><div class="j">radijalni profil (slika 3). Analiza profila pokazuje da se praznina nalazi na</div><div class="l">oko 23 AU od centra diska.</div></div><div class="a p" style="left:64.8px;top:1890.27px;width:766.7px;font-size:23.4px;line-height:27.65px;transform:scaleX(0.893);"><div class="j">Radijalni profil pokazuje jasan pad intenziteta oko <b>23 AU</b>, što ukazuje na</div><div class="j">prisustvo prve praznine u disku. Profil je dobijen analizom raspodele</div><div class="j">zračenja po radijusu, čime se lako uočavaju oblasti smanjene gustine</div><div class="l">prašine.</div></div><div class="a p" style="left:838.5px;top:411.09px;width:977.6px;font-size:23.4px;line-height:28.4px;transform:scaleX(0.893);"><div class="j" style="padding-left:50.4px">Da bi se odredila pozicija formirajuće praznine, izvršene su numeričke simulacije</div><div class="j"><span style="word-spacing:-1.5px">protoplanetarnog diska. Simulacije su rađene pomoću softvera za integaciju N-tela <b>REBOUND</b>,</span></div><div class="j">koji omogućava uključivanje dodatnih sila pored gravitacije. Disk prašine je predstavljen sa 10</div><div class="j">000 bezmasenih čestica, koje međusobno ne interaguju. Planeta je modelovana kao zasebna</div><div class="j">čestica na koju deluju gravitaciona i migracione sile, što omogućava praćenje njenog kretanja</div><div class="j">i uticaja na strukturu diska (slika 4). Migraciona sila je fizička posledica interakcije planete sa</div><div class="j">gasnim diskom, pri kojoj gas preko otpora i gravitacionih talasa menja ugaoni moment planete</div><div class="l">i pomera je na drugu orbitu.</div></div><div class="a p" style="left:839.0px;top:647.49px;width:977.0px;font-size:23.4px;line-height:28.0px;transform:scaleX(0.893);"><div class="j" style="padding-left:43.7px">Masa planete je varirana u opsegu 0.072 Mj do 0.132 Mj, sa korakom 0.01 Mj. Njena</div><div class="j">velika poluosa je varirana u opsegu od 20 AU do 25 AU, sa korakom od 0.5AU. Simulacije su</div><div class="j">puštane na 200000 godina, što predstavlja najvišu vremensku granicu migracije koja je</div><div class="j">posmatrana. Stanja sistema su beležena u razmacima od 10 000 godina. Ukupno je</div><div class="l">realizovano 385 simulacija.</div></div><div class="a p" style="left:841.5px;top:1350.72px;width:975.9px;font-size:23.4px;line-height:28.35px;transform:scaleX(0.893);"><div class="j" style="padding-left:51.5px">Iz 385 simulacija izdvojeno je <b>8</b> poklapanja različitih konfiguracija planete, pri čemu su 3</div><div class="j">od njih potencijalne i zahtevaju dodatno ispitivanje zbog prevelike širine praznine. Primeri</div><div class="l">konfiguracija prikazani su na slikama 5 i 6.</div></div><div class="a p" style="left:841.5px;top:1442.54px;width:975.9px;font-size:23.4px;line-height:27.5px;transform:scaleX(0.893);"><div class="l">Dobijen radijalni profil gustine fitovan je Gausovom funkcijom kako bi se precizno opisao oblik</div><div class="l">praznine. Minimum fitovane krive određuje položaj praznine, dok širina Gausove funkcije</div><div class="l">pokazuje koliko je praznina široka.</div></div><div class="a p" style="left:841.5px;top:1950.19px;width:995.0px;font-size:23.4px;line-height:28.0px;transform:scaleX(0.893);"><div class="l">Dobijeni rezultati pokazuju da su praznine u disku prolazne strukture. Zbog toga što migraciona</div><div class="l">sila u simulaciji deluje duže nego što bi migracija realno trajala, praznine mogu izgledati</div><div class="l">kratkotrajno usled produženog kretanja planete. Ukoliko bi stvarna skala migracije bila manja,</div><div class="l">očekivalo bi se formiranje stabilnijih, trajnijih praznina.</div></div><div class="a" style="left:253.5px;top:1119.6px;font-size:16px;line-height:19.20px;font-weight:normal;color:#000;transform:scaleX(0.91053);">Slika 1. ALMA snimak protoplanetarnog diska TWHya.</div><div class="a" style="left:268.8px;top:1840.2px;font-size:16px;line-height:19.20px;font-weight:normal;color:#000;transform:scaleX(0.9132480000000001);">Slika 2. Prikaz polarnog intenziteta diska.</div><div class="a" style="left:269.2px;top:2417.9px;font-size:16px;line-height:19.20px;font-weight:normal;color:#000;transform:scaleX(0.906);">Slika 3. Prikaz radijalnog profila za disk TWHya.</div><div class="a" style="left:978.0px;top:1162.0px;font-size:16px;line-height:19.20px;font-weight:normal;color:#000;transform:scaleX(0.917778);">Slika 4. Prikaz evolucije diska u trenutku t=200000 god (levo) i formirane praznine (desno), nakon</div><div class="a" style="left:1059.2px;top:1182.0px;font-size:16px;line-height:19.20px;font-weight:normal;color:#000;transform:scaleX(0.91506);">vremena predviđenog za skalu migracije planete početne mase 0.082Mj.</div><div class="a" style="left:1121.2px;top:1912.7px;font-size:16px;line-height:19.20px;font-weight:normal;color:#000;transform:scaleX(0.922308);">Slike 5 i 6.&nbsp; Primeri fitovanja praznine obrnutim gausijanom.</div><div class="a" style="left:965.0px;top:2428.2px;font-size:16px;line-height:19.20px;font-weight:normal;color:#000;transform:scaleX(0.90147);">Tabela 1. Parametri planete koji stvaraju tražene praznine zajedno sa vremenskom skalom formiranja.</div><table class="t" style="left:870.5px;top:2077.5px;width:814.6px"><colgroup><col style="width:196px"><col style="width:209.1px"><col style="width:209.1px"><col style="width:200.4px"></colgroup><tr><th style="height:54.2px"><span class="ts">Masa planete [Mj]</span></th><th style="height:54.2px"><span class="ts">Inicijalna velika poluosa<br>planete [AU]</span></th><th style="height:54.2px"><span class="ts">Širina praznine [AU]</span></th><th style="height:54.2px"><span class="ts">Vreme trajanja<br>migracije [god]</span></th></tr><tr><td style="height:35.16px"><span class="tc">0.072</span></td><td style="height:35.16px"><span class="tc">20</span></td><td style="height:35.16px"><span class="tc">19.26</span></td><td style="height:35.16px"><span class="tc">1.6*10<sup>5</sup></span></td></tr><tr><td style="height:35.16px"><span class="tc">0.082</span></td><td style="height:35.16px"><span class="tc">20</span></td><td style="height:35.16px"><span class="tc">22.03</span></td><td style="height:35.16px"><span class="tc">1.5*10<sup>5</sup></span></td></tr><tr><td style="height:35.16px"><span class="tc">0.072</span></td><td style="height:35.16px"><span class="tc">20.5</span></td><td style="height:35.16px"><span class="tc">18.17</span></td><td style="height:35.16px"><span class="tc">1.8*10<sup>5</sup></span></td></tr><tr><td style="height:35.16px"><span class="tc">0.092</span></td><td style="height:35.16px"><span class="tc">21</span></td><td style="height:35.16px"><span class="tc">21.28</span></td><td style="height:35.16px"><span class="tc">1.8*10<sup>5</sup></span></td></tr><tr><td style="height:35.16px"><span class="tc">0.072</span></td><td style="height:35.16px"><span class="tc">21.5</span></td><td style="height:35.16px"><span class="tc">12.97</span></td><td style="height:35.16px"><span class="tc">1.7*10<sup>5</sup></span></td></tr><tr><td style="height:35.16px"><span class="tc">0.072</span></td><td style="height:35.16px"><span class="tc">22</span></td><td style="height:35.16px"><span class="tc">12.26</span></td><td style="height:35.16px"><span class="tc">1.5*10<sup>5</sup></span></td></tr><tr><td style="height:35.16px"><span class="tc">0.072</span></td><td style="height:35.16px"><span class="tc">22.5</span></td><td style="height:35.16px"><span class="tc">12.87</span></td><td style="height:35.16px"><span class="tc">1.7*10<sup>5</sup></span></td></tr><tr><td style="height:35.16px"><span class="tc">0.092</span></td><td style="height:35.16px"><span class="tc">23.5</span></td><td style="height:35.16px"><span class="tc">14.16</span></td><td style="height:35.16px"><span class="tc">2*10<sup>5</sup></span></td></tr></table>
</body></html>
